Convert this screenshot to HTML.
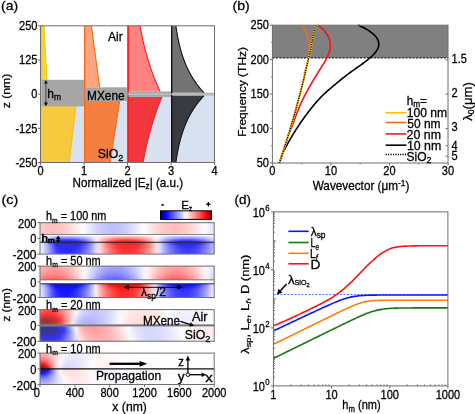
<!DOCTYPE html>
<html><head><meta charset="utf-8"><style>html,body{margin:0;padding:0;background:#fff;width:475px;height:414px;overflow:hidden}svg{display:block;will-change:transform}text{stroke:#000;stroke-width:0.28px}</style></head>
<body><svg width="475" height="414" viewBox="0 0 475 414" font-family='"Liberation Sans", sans-serif'><defs><linearGradient id="g0"><stop offset="0.000" stop-color="#ffc0c0"/><stop offset="0.023" stop-color="#ffb8b8"/><stop offset="0.046" stop-color="#ffb4b4"/><stop offset="0.069" stop-color="#ffb2b2"/><stop offset="0.092" stop-color="#ffb4b4"/><stop offset="0.115" stop-color="#ffb8b8"/><stop offset="0.138" stop-color="#ffc0c0"/><stop offset="0.161" stop-color="#ffcbcb"/><stop offset="0.184" stop-color="#ffd7d7"/><stop offset="0.207" stop-color="#ffe5e5"/><stop offset="0.230" stop-color="#fff5f5"/><stop offset="0.253" stop-color="#f9f9ff"/><stop offset="0.276" stop-color="#e9e9ff"/><stop offset="0.299" stop-color="#dbdbff"/><stop offset="0.321" stop-color="#cdcdff"/><stop offset="0.344" stop-color="#c3c3ff"/><stop offset="0.367" stop-color="#babaff"/><stop offset="0.390" stop-color="#b5b5ff"/><stop offset="0.413" stop-color="#b2b2ff"/><stop offset="0.436" stop-color="#b3b3ff"/><stop offset="0.459" stop-color="#b7b7ff"/><stop offset="0.482" stop-color="#bebeff"/><stop offset="0.505" stop-color="#c8c8ff"/><stop offset="0.528" stop-color="#d4d4ff"/><stop offset="0.551" stop-color="#e2e2ff"/><stop offset="0.574" stop-color="#f1f1ff"/><stop offset="0.597" stop-color="#fffdfd"/><stop offset="0.620" stop-color="#ffeded"/><stop offset="0.643" stop-color="#ffdede"/><stop offset="0.666" stop-color="#ffd1d1"/><stop offset="0.689" stop-color="#ffc5c5"/><stop offset="0.712" stop-color="#ffbcbc"/><stop offset="0.735" stop-color="#ffb6b6"/><stop offset="0.758" stop-color="#ffb2b2"/><stop offset="0.781" stop-color="#ffb2b2"/><stop offset="0.804" stop-color="#ffb6b6"/><stop offset="0.827" stop-color="#ffbcbc"/><stop offset="0.850" stop-color="#ffc5c5"/><stop offset="0.873" stop-color="#ffd1d1"/><stop offset="0.896" stop-color="#ffdede"/><stop offset="0.918" stop-color="#ffeded"/><stop offset="0.941" stop-color="#fffdfd"/><stop offset="0.964" stop-color="#f1f1ff"/><stop offset="0.987" stop-color="#e2e2ff"/></linearGradient><linearGradient id="g1"><stop offset="0.000" stop-color="#ffc0c0"/><stop offset="0.023" stop-color="#ffb8b8"/><stop offset="0.046" stop-color="#ffb4b4"/><stop offset="0.069" stop-color="#ffb2b2"/><stop offset="0.092" stop-color="#ffb4b4"/><stop offset="0.115" stop-color="#ffb8b8"/><stop offset="0.138" stop-color="#ffc0c0"/><stop offset="0.161" stop-color="#ffcbcb"/><stop offset="0.184" stop-color="#ffd7d7"/><stop offset="0.207" stop-color="#ffe5e5"/><stop offset="0.230" stop-color="#fff5f5"/><stop offset="0.253" stop-color="#f9f9ff"/><stop offset="0.276" stop-color="#e9e9ff"/><stop offset="0.299" stop-color="#dbdbff"/><stop offset="0.321" stop-color="#cdcdff"/><stop offset="0.344" stop-color="#c3c3ff"/><stop offset="0.367" stop-color="#babaff"/><stop offset="0.390" stop-color="#b5b5ff"/><stop offset="0.413" stop-color="#b2b2ff"/><stop offset="0.436" stop-color="#b3b3ff"/><stop offset="0.459" stop-color="#b7b7ff"/><stop offset="0.482" stop-color="#bebeff"/><stop offset="0.505" stop-color="#c8c8ff"/><stop offset="0.528" stop-color="#d4d4ff"/><stop offset="0.551" stop-color="#e2e2ff"/><stop offset="0.574" stop-color="#f1f1ff"/><stop offset="0.597" stop-color="#fffdfd"/><stop offset="0.620" stop-color="#ffeded"/><stop offset="0.643" stop-color="#ffdede"/><stop offset="0.666" stop-color="#ffd1d1"/><stop offset="0.689" stop-color="#ffc5c5"/><stop offset="0.712" stop-color="#ffbcbc"/><stop offset="0.735" stop-color="#ffb6b6"/><stop offset="0.758" stop-color="#ffb2b2"/><stop offset="0.781" stop-color="#ffb2b2"/><stop offset="0.804" stop-color="#ffb6b6"/><stop offset="0.827" stop-color="#ffbcbc"/><stop offset="0.850" stop-color="#ffc5c5"/><stop offset="0.873" stop-color="#ffd1d1"/><stop offset="0.896" stop-color="#ffdede"/><stop offset="0.918" stop-color="#ffeded"/><stop offset="0.941" stop-color="#fffdfd"/><stop offset="0.964" stop-color="#f1f1ff"/><stop offset="0.987" stop-color="#e2e2ff"/></linearGradient><linearGradient id="g2"><stop offset="0.000" stop-color="#ffc0c0"/><stop offset="0.023" stop-color="#ffb8b8"/><stop offset="0.046" stop-color="#ffb4b4"/><stop offset="0.069" stop-color="#ffb2b2"/><stop offset="0.092" stop-color="#ffb4b4"/><stop offset="0.115" stop-color="#ffb8b8"/><stop offset="0.138" stop-color="#ffc0c0"/><stop offset="0.161" stop-color="#ffcbcb"/><stop offset="0.184" stop-color="#ffd7d7"/><stop offset="0.207" stop-color="#ffe5e5"/><stop offset="0.230" stop-color="#fff5f5"/><stop offset="0.253" stop-color="#f9f9ff"/><stop offset="0.276" stop-color="#e9e9ff"/><stop offset="0.299" stop-color="#dbdbff"/><stop offset="0.321" stop-color="#cdcdff"/><stop offset="0.344" stop-color="#c3c3ff"/><stop offset="0.367" stop-color="#babaff"/><stop offset="0.390" stop-color="#b5b5ff"/><stop offset="0.413" stop-color="#b2b2ff"/><stop offset="0.436" stop-color="#b3b3ff"/><stop offset="0.459" stop-color="#b7b7ff"/><stop offset="0.482" stop-color="#bebeff"/><stop offset="0.505" stop-color="#c8c8ff"/><stop offset="0.528" stop-color="#d4d4ff"/><stop offset="0.551" stop-color="#e2e2ff"/><stop offset="0.574" stop-color="#f1f1ff"/><stop offset="0.597" stop-color="#fffdfd"/><stop offset="0.620" stop-color="#ffeded"/><stop offset="0.643" stop-color="#ffdede"/><stop offset="0.666" stop-color="#ffd1d1"/><stop offset="0.689" stop-color="#ffc5c5"/><stop offset="0.712" stop-color="#ffbcbc"/><stop offset="0.735" stop-color="#ffb6b6"/><stop offset="0.758" stop-color="#ffb2b2"/><stop offset="0.781" stop-color="#ffb2b2"/><stop offset="0.804" stop-color="#ffb6b6"/><stop offset="0.827" stop-color="#ffbcbc"/><stop offset="0.850" stop-color="#ffc5c5"/><stop offset="0.873" stop-color="#ffd1d1"/><stop offset="0.896" stop-color="#ffdede"/><stop offset="0.918" stop-color="#ffeded"/><stop offset="0.941" stop-color="#fffdfd"/><stop offset="0.964" stop-color="#f1f1ff"/><stop offset="0.987" stop-color="#e2e2ff"/></linearGradient><linearGradient id="g3"><stop offset="0.000" stop-color="#ffc0c0"/><stop offset="0.023" stop-color="#ffb8b8"/><stop offset="0.046" stop-color="#ffb4b4"/><stop offset="0.069" stop-color="#ffb2b2"/><stop offset="0.092" stop-color="#ffb4b4"/><stop offset="0.115" stop-color="#ffb8b8"/><stop offset="0.138" stop-color="#ffc0c0"/><stop offset="0.161" stop-color="#ffcbcb"/><stop offset="0.184" stop-color="#ffd7d7"/><stop offset="0.207" stop-color="#ffe5e5"/><stop offset="0.230" stop-color="#fff5f5"/><stop offset="0.253" stop-color="#f9f9ff"/><stop offset="0.276" stop-color="#e9e9ff"/><stop offset="0.299" stop-color="#dbdbff"/><stop offset="0.321" stop-color="#cdcdff"/><stop offset="0.344" stop-color="#c3c3ff"/><stop offset="0.367" stop-color="#babaff"/><stop offset="0.390" stop-color="#b5b5ff"/><stop offset="0.413" stop-color="#b2b2ff"/><stop offset="0.436" stop-color="#b3b3ff"/><stop offset="0.459" stop-color="#b7b7ff"/><stop offset="0.482" stop-color="#bebeff"/><stop offset="0.505" stop-color="#c8c8ff"/><stop offset="0.528" stop-color="#d4d4ff"/><stop offset="0.551" stop-color="#e2e2ff"/><stop offset="0.574" stop-color="#f1f1ff"/><stop offset="0.597" stop-color="#fffdfd"/><stop offset="0.620" stop-color="#ffeded"/><stop offset="0.643" stop-color="#ffdede"/><stop offset="0.666" stop-color="#ffd1d1"/><stop offset="0.689" stop-color="#ffc5c5"/><stop offset="0.712" stop-color="#ffbcbc"/><stop offset="0.735" stop-color="#ffb6b6"/><stop offset="0.758" stop-color="#ffb2b2"/><stop offset="0.781" stop-color="#ffb2b2"/><stop offset="0.804" stop-color="#ffb6b6"/><stop offset="0.827" stop-color="#ffbcbc"/><stop offset="0.850" stop-color="#ffc5c5"/><stop offset="0.873" stop-color="#ffd1d1"/><stop offset="0.896" stop-color="#ffdede"/><stop offset="0.918" stop-color="#ffeded"/><stop offset="0.941" stop-color="#fffdfd"/><stop offset="0.964" stop-color="#f1f1ff"/><stop offset="0.987" stop-color="#e2e2ff"/></linearGradient><linearGradient id="g4"><stop offset="0.000" stop-color="#ffc0c0"/><stop offset="0.023" stop-color="#ffb8b8"/><stop offset="0.046" stop-color="#ffb4b4"/><stop offset="0.069" stop-color="#ffb2b2"/><stop offset="0.092" stop-color="#ffb4b4"/><stop offset="0.115" stop-color="#ffb8b8"/><stop offset="0.138" stop-color="#ffc0c0"/><stop offset="0.161" stop-color="#ffcbcb"/><stop offset="0.184" stop-color="#ffd7d7"/><stop offset="0.207" stop-color="#ffe5e5"/><stop offset="0.230" stop-color="#fff5f5"/><stop offset="0.253" stop-color="#f9f9ff"/><stop offset="0.276" stop-color="#e9e9ff"/><stop offset="0.299" stop-color="#dbdbff"/><stop offset="0.321" stop-color="#cdcdff"/><stop offset="0.344" stop-color="#c3c3ff"/><stop offset="0.367" stop-color="#babaff"/><stop offset="0.390" stop-color="#b5b5ff"/><stop offset="0.413" stop-color="#b2b2ff"/><stop offset="0.436" stop-color="#b3b3ff"/><stop offset="0.459" stop-color="#b7b7ff"/><stop offset="0.482" stop-color="#bebeff"/><stop offset="0.505" stop-color="#c8c8ff"/><stop offset="0.528" stop-color="#d4d4ff"/><stop offset="0.551" stop-color="#e2e2ff"/><stop offset="0.574" stop-color="#f1f1ff"/><stop offset="0.597" stop-color="#fffdfd"/><stop offset="0.620" stop-color="#ffeded"/><stop offset="0.643" stop-color="#ffdede"/><stop offset="0.666" stop-color="#ffd1d1"/><stop offset="0.689" stop-color="#ffc5c5"/><stop offset="0.712" stop-color="#ffbcbc"/><stop offset="0.735" stop-color="#ffb6b6"/><stop offset="0.758" stop-color="#ffb2b2"/><stop offset="0.781" stop-color="#ffb2b2"/><stop offset="0.804" stop-color="#ffb6b6"/><stop offset="0.827" stop-color="#ffbcbc"/><stop offset="0.850" stop-color="#ffc5c5"/><stop offset="0.873" stop-color="#ffd1d1"/><stop offset="0.896" stop-color="#ffdede"/><stop offset="0.918" stop-color="#ffeded"/><stop offset="0.941" stop-color="#fffdfd"/><stop offset="0.964" stop-color="#f1f1ff"/><stop offset="0.987" stop-color="#e2e2ff"/></linearGradient><linearGradient id="g5"><stop offset="0.000" stop-color="#ffc0c0"/><stop offset="0.023" stop-color="#ffb8b8"/><stop offset="0.046" stop-color="#ffb4b4"/><stop offset="0.069" stop-color="#ffb2b2"/><stop offset="0.092" stop-color="#ffb4b4"/><stop offset="0.115" stop-color="#ffb8b8"/><stop offset="0.138" stop-color="#ffc0c0"/><stop offset="0.161" stop-color="#ffcbcb"/><stop offset="0.184" stop-color="#ffd7d7"/><stop offset="0.207" stop-color="#ffe5e5"/><stop offset="0.230" stop-color="#fff5f5"/><stop offset="0.253" stop-color="#f9f9ff"/><stop offset="0.276" stop-color="#e9e9ff"/><stop offset="0.299" stop-color="#dbdbff"/><stop offset="0.321" stop-color="#cdcdff"/><stop offset="0.344" stop-color="#c3c3ff"/><stop offset="0.367" stop-color="#babaff"/><stop offset="0.390" stop-color="#b5b5ff"/><stop offset="0.413" stop-color="#b2b2ff"/><stop offset="0.436" stop-color="#b3b3ff"/><stop offset="0.459" stop-color="#b7b7ff"/><stop offset="0.482" stop-color="#bebeff"/><stop offset="0.505" stop-color="#c8c8ff"/><stop offset="0.528" stop-color="#d4d4ff"/><stop offset="0.551" stop-color="#e2e2ff"/><stop offset="0.574" stop-color="#f1f1ff"/><stop offset="0.597" stop-color="#fffdfd"/><stop offset="0.620" stop-color="#ffeded"/><stop offset="0.643" stop-color="#ffdede"/><stop offset="0.666" stop-color="#ffd1d1"/><stop offset="0.689" stop-color="#ffc5c5"/><stop offset="0.712" stop-color="#ffbcbc"/><stop offset="0.735" stop-color="#ffb6b6"/><stop offset="0.758" stop-color="#ffb2b2"/><stop offset="0.781" stop-color="#ffb2b2"/><stop offset="0.804" stop-color="#ffb6b6"/><stop offset="0.827" stop-color="#ffbcbc"/><stop offset="0.850" stop-color="#ffc5c5"/><stop offset="0.873" stop-color="#ffd1d1"/><stop offset="0.896" stop-color="#ffdede"/><stop offset="0.918" stop-color="#ffeded"/><stop offset="0.941" stop-color="#fffdfd"/><stop offset="0.964" stop-color="#f1f1ff"/><stop offset="0.987" stop-color="#e2e2ff"/></linearGradient><linearGradient id="g6"><stop offset="0.000" stop-color="#ffc0c0"/><stop offset="0.023" stop-color="#ffb8b8"/><stop offset="0.046" stop-color="#ffb4b4"/><stop offset="0.069" stop-color="#ffb2b2"/><stop offset="0.092" stop-color="#ffb4b4"/><stop offset="0.115" stop-color="#ffb8b8"/><stop offset="0.138" stop-color="#ffc0c0"/><stop offset="0.161" stop-color="#ffcbcb"/><stop offset="0.184" stop-color="#ffd7d7"/><stop offset="0.207" stop-color="#ffe5e5"/><stop offset="0.230" stop-color="#fff5f5"/><stop offset="0.253" stop-color="#f9f9ff"/><stop offset="0.276" stop-color="#e9e9ff"/><stop offset="0.299" stop-color="#dbdbff"/><stop offset="0.321" stop-color="#cdcdff"/><stop offset="0.344" stop-color="#c3c3ff"/><stop offset="0.367" stop-color="#babaff"/><stop offset="0.390" stop-color="#b5b5ff"/><stop offset="0.413" stop-color="#b2b2ff"/><stop offset="0.436" stop-color="#b3b3ff"/><stop offset="0.459" stop-color="#b7b7ff"/><stop offset="0.482" stop-color="#bebeff"/><stop offset="0.505" stop-color="#c8c8ff"/><stop offset="0.528" stop-color="#d4d4ff"/><stop offset="0.551" stop-color="#e2e2ff"/><stop offset="0.574" stop-color="#f1f1ff"/><stop offset="0.597" stop-color="#fffdfd"/><stop offset="0.620" stop-color="#ffeded"/><stop offset="0.643" stop-color="#ffdede"/><stop offset="0.666" stop-color="#ffd1d1"/><stop offset="0.689" stop-color="#ffc5c5"/><stop offset="0.712" stop-color="#ffbcbc"/><stop offset="0.735" stop-color="#ffb6b6"/><stop offset="0.758" stop-color="#ffb2b2"/><stop offset="0.781" stop-color="#ffb2b2"/><stop offset="0.804" stop-color="#ffb6b6"/><stop offset="0.827" stop-color="#ffbcbc"/><stop offset="0.850" stop-color="#ffc5c5"/><stop offset="0.873" stop-color="#ffd1d1"/><stop offset="0.896" stop-color="#ffdede"/><stop offset="0.918" stop-color="#ffeded"/><stop offset="0.941" stop-color="#fffdfd"/><stop offset="0.964" stop-color="#f1f1ff"/><stop offset="0.987" stop-color="#e2e2ff"/></linearGradient><linearGradient id="g7"><stop offset="0.000" stop-color="#ffc0c0"/><stop offset="0.023" stop-color="#ffb8b8"/><stop offset="0.046" stop-color="#ffb4b4"/><stop offset="0.069" stop-color="#ffb2b2"/><stop offset="0.092" stop-color="#ffb4b4"/><stop offset="0.115" stop-color="#ffb8b8"/><stop offset="0.138" stop-color="#ffc0c0"/><stop offset="0.161" stop-color="#ffcbcb"/><stop offset="0.184" stop-color="#ffd7d7"/><stop offset="0.207" stop-color="#ffe5e5"/><stop offset="0.230" stop-color="#fff5f5"/><stop offset="0.253" stop-color="#f9f9ff"/><stop offset="0.276" stop-color="#e9e9ff"/><stop offset="0.299" stop-color="#dbdbff"/><stop offset="0.321" stop-color="#cdcdff"/><stop offset="0.344" stop-color="#c3c3ff"/><stop offset="0.367" stop-color="#babaff"/><stop offset="0.390" stop-color="#b5b5ff"/><stop offset="0.413" stop-color="#b2b2ff"/><stop offset="0.436" stop-color="#b3b3ff"/><stop offset="0.459" stop-color="#b7b7ff"/><stop offset="0.482" stop-color="#bebeff"/><stop offset="0.505" stop-color="#c8c8ff"/><stop offset="0.528" stop-color="#d4d4ff"/><stop offset="0.551" stop-color="#e2e2ff"/><stop offset="0.574" stop-color="#f1f1ff"/><stop offset="0.597" stop-color="#fffdfd"/><stop offset="0.620" stop-color="#ffeded"/><stop offset="0.643" stop-color="#ffdede"/><stop offset="0.666" stop-color="#ffd1d1"/><stop offset="0.689" stop-color="#ffc5c5"/><stop offset="0.712" stop-color="#ffbcbc"/><stop offset="0.735" stop-color="#ffb6b6"/><stop offset="0.758" stop-color="#ffb2b2"/><stop offset="0.781" stop-color="#ffb2b2"/><stop offset="0.804" stop-color="#ffb6b6"/><stop offset="0.827" stop-color="#ffbcbc"/><stop offset="0.850" stop-color="#ffc5c5"/><stop offset="0.873" stop-color="#ffd1d1"/><stop offset="0.896" stop-color="#ffdede"/><stop offset="0.918" stop-color="#ffeded"/><stop offset="0.941" stop-color="#fffdfd"/><stop offset="0.964" stop-color="#f1f1ff"/><stop offset="0.987" stop-color="#e2e2ff"/></linearGradient><linearGradient id="g8"><stop offset="0.000" stop-color="#ffc0c0"/><stop offset="0.023" stop-color="#ffb8b8"/><stop offset="0.046" stop-color="#ffb4b4"/><stop offset="0.069" stop-color="#ffb2b2"/><stop offset="0.092" stop-color="#ffb4b4"/><stop offset="0.115" stop-color="#ffb8b8"/><stop offset="0.138" stop-color="#ffc0c0"/><stop offset="0.161" stop-color="#ffcbcb"/><stop offset="0.184" stop-color="#ffd7d7"/><stop offset="0.207" stop-color="#ffe5e5"/><stop offset="0.230" stop-color="#fff5f5"/><stop offset="0.253" stop-color="#f9f9ff"/><stop offset="0.276" stop-color="#e9e9ff"/><stop offset="0.299" stop-color="#dbdbff"/><stop offset="0.321" stop-color="#cdcdff"/><stop offset="0.344" stop-color="#c3c3ff"/><stop offset="0.367" stop-color="#babaff"/><stop offset="0.390" stop-color="#b5b5ff"/><stop offset="0.413" stop-color="#b2b2ff"/><stop offset="0.436" stop-color="#b3b3ff"/><stop offset="0.459" stop-color="#b7b7ff"/><stop offset="0.482" stop-color="#bebeff"/><stop offset="0.505" stop-color="#c8c8ff"/><stop offset="0.528" stop-color="#d4d4ff"/><stop offset="0.551" stop-color="#e2e2ff"/><stop offset="0.574" stop-color="#f1f1ff"/><stop offset="0.597" stop-color="#fffdfd"/><stop offset="0.620" stop-color="#ffeded"/><stop offset="0.643" stop-color="#ffdede"/><stop offset="0.666" stop-color="#ffd1d1"/><stop offset="0.689" stop-color="#ffc5c5"/><stop offset="0.712" stop-color="#ffbcbc"/><stop offset="0.735" stop-color="#ffb6b6"/><stop offset="0.758" stop-color="#ffb2b2"/><stop offset="0.781" stop-color="#ffb2b2"/><stop offset="0.804" stop-color="#ffb6b6"/><stop offset="0.827" stop-color="#ffbcbc"/><stop offset="0.850" stop-color="#ffc5c5"/><stop offset="0.873" stop-color="#ffd1d1"/><stop offset="0.896" stop-color="#ffdede"/><stop offset="0.918" stop-color="#ffeded"/><stop offset="0.941" stop-color="#fffdfd"/><stop offset="0.964" stop-color="#f1f1ff"/><stop offset="0.987" stop-color="#e2e2ff"/></linearGradient><linearGradient id="g9"><stop offset="0.000" stop-color="#ffc0c0"/><stop offset="0.023" stop-color="#ffb8b8"/><stop offset="0.046" stop-color="#ffb4b4"/><stop offset="0.069" stop-color="#ffb2b2"/><stop offset="0.092" stop-color="#ffb4b4"/><stop offset="0.115" stop-color="#ffb8b8"/><stop offset="0.138" stop-color="#ffc0c0"/><stop offset="0.161" stop-color="#ffcbcb"/><stop offset="0.184" stop-color="#ffd7d7"/><stop offset="0.207" stop-color="#ffe5e5"/><stop offset="0.230" stop-color="#fff5f5"/><stop offset="0.253" stop-color="#f9f9ff"/><stop offset="0.276" stop-color="#e9e9ff"/><stop offset="0.299" stop-color="#dbdbff"/><stop offset="0.321" stop-color="#cdcdff"/><stop offset="0.344" stop-color="#c3c3ff"/><stop offset="0.367" stop-color="#babaff"/><stop offset="0.390" stop-color="#b5b5ff"/><stop offset="0.413" stop-color="#b2b2ff"/><stop offset="0.436" stop-color="#b3b3ff"/><stop offset="0.459" stop-color="#b7b7ff"/><stop offset="0.482" stop-color="#bebeff"/><stop offset="0.505" stop-color="#c8c8ff"/><stop offset="0.528" stop-color="#d4d4ff"/><stop offset="0.551" stop-color="#e2e2ff"/><stop offset="0.574" stop-color="#f1f1ff"/><stop offset="0.597" stop-color="#fffdfd"/><stop offset="0.620" stop-color="#ffeded"/><stop offset="0.643" stop-color="#ffdede"/><stop offset="0.666" stop-color="#ffd1d1"/><stop offset="0.689" stop-color="#ffc5c5"/><stop offset="0.712" stop-color="#ffbcbc"/><stop offset="0.735" stop-color="#ffb6b6"/><stop offset="0.758" stop-color="#ffb2b2"/><stop offset="0.781" stop-color="#ffb2b2"/><stop offset="0.804" stop-color="#ffb6b6"/><stop offset="0.827" stop-color="#ffbcbc"/><stop offset="0.850" stop-color="#ffc5c5"/><stop offset="0.873" stop-color="#ffd1d1"/><stop offset="0.896" stop-color="#ffdede"/><stop offset="0.918" stop-color="#ffeded"/><stop offset="0.941" stop-color="#fffdfd"/><stop offset="0.964" stop-color="#f1f1ff"/><stop offset="0.987" stop-color="#e2e2ff"/></linearGradient><linearGradient id="g10"><stop offset="0.000" stop-color="#ffc0c0"/><stop offset="0.023" stop-color="#ffb8b8"/><stop offset="0.046" stop-color="#ffb4b4"/><stop offset="0.069" stop-color="#ffb2b2"/><stop offset="0.092" stop-color="#ffb4b4"/><stop offset="0.115" stop-color="#ffb8b8"/><stop offset="0.138" stop-color="#ffc0c0"/><stop offset="0.161" stop-color="#ffcbcb"/><stop offset="0.184" stop-color="#ffd7d7"/><stop offset="0.207" stop-color="#ffe5e5"/><stop offset="0.230" stop-color="#fff5f5"/><stop offset="0.253" stop-color="#f9f9ff"/><stop offset="0.276" stop-color="#e9e9ff"/><stop offset="0.299" stop-color="#dbdbff"/><stop offset="0.321" stop-color="#cdcdff"/><stop offset="0.344" stop-color="#c3c3ff"/><stop offset="0.367" stop-color="#babaff"/><stop offset="0.390" stop-color="#b5b5ff"/><stop offset="0.413" stop-color="#b2b2ff"/><stop offset="0.436" stop-color="#b3b3ff"/><stop offset="0.459" stop-color="#b7b7ff"/><stop offset="0.482" stop-color="#bebeff"/><stop offset="0.505" stop-color="#c8c8ff"/><stop offset="0.528" stop-color="#d4d4ff"/><stop offset="0.551" stop-color="#e2e2ff"/><stop offset="0.574" stop-color="#f1f1ff"/><stop offset="0.597" stop-color="#fffdfd"/><stop offset="0.620" stop-color="#ffeded"/><stop offset="0.643" stop-color="#ffdede"/><stop offset="0.666" stop-color="#ffd1d1"/><stop offset="0.689" stop-color="#ffc5c5"/><stop offset="0.712" stop-color="#ffbcbc"/><stop offset="0.735" stop-color="#ffb6b6"/><stop offset="0.758" stop-color="#ffb2b2"/><stop offset="0.781" stop-color="#ffb2b2"/><stop offset="0.804" stop-color="#ffb6b6"/><stop offset="0.827" stop-color="#ffbcbc"/><stop offset="0.850" stop-color="#ffc5c5"/><stop offset="0.873" stop-color="#ffd1d1"/><stop offset="0.896" stop-color="#ffdede"/><stop offset="0.918" stop-color="#ffeded"/><stop offset="0.941" stop-color="#fffdfd"/><stop offset="0.964" stop-color="#f1f1ff"/><stop offset="0.987" stop-color="#e2e2ff"/></linearGradient><linearGradient id="g11"><stop offset="0.000" stop-color="#ffc0c0"/><stop offset="0.023" stop-color="#ffb8b8"/><stop offset="0.046" stop-color="#ffb4b4"/><stop offset="0.069" stop-color="#ffb2b2"/><stop offset="0.092" stop-color="#ffb4b4"/><stop offset="0.115" stop-color="#ffb8b8"/><stop offset="0.138" stop-color="#ffc0c0"/><stop offset="0.161" stop-color="#ffcbcb"/><stop offset="0.184" stop-color="#ffd7d7"/><stop offset="0.207" stop-color="#ffe5e5"/><stop offset="0.230" stop-color="#fff5f5"/><stop offset="0.253" stop-color="#f9f9ff"/><stop offset="0.276" stop-color="#e9e9ff"/><stop offset="0.299" stop-color="#dbdbff"/><stop offset="0.321" stop-color="#cdcdff"/><stop offset="0.344" stop-color="#c3c3ff"/><stop offset="0.367" stop-color="#babaff"/><stop offset="0.390" stop-color="#b5b5ff"/><stop offset="0.413" stop-color="#b2b2ff"/><stop offset="0.436" stop-color="#b3b3ff"/><stop offset="0.459" stop-color="#b7b7ff"/><stop offset="0.482" stop-color="#bebeff"/><stop offset="0.505" stop-color="#c8c8ff"/><stop offset="0.528" stop-color="#d4d4ff"/><stop offset="0.551" stop-color="#e2e2ff"/><stop offset="0.574" stop-color="#f1f1ff"/><stop offset="0.597" stop-color="#fffdfd"/><stop offset="0.620" stop-color="#ffeded"/><stop offset="0.643" stop-color="#ffdede"/><stop offset="0.666" stop-color="#ffd1d1"/><stop offset="0.689" stop-color="#ffc5c5"/><stop offset="0.712" stop-color="#ffbcbc"/><stop offset="0.735" stop-color="#ffb6b6"/><stop offset="0.758" stop-color="#ffb2b2"/><stop offset="0.781" stop-color="#ffb2b2"/><stop offset="0.804" stop-color="#ffb6b6"/><stop offset="0.827" stop-color="#ffbcbc"/><stop offset="0.850" stop-color="#ffc5c5"/><stop offset="0.873" stop-color="#ffd1d1"/><stop offset="0.896" stop-color="#ffdede"/><stop offset="0.918" stop-color="#ffeded"/><stop offset="0.941" stop-color="#fffdfd"/><stop offset="0.964" stop-color="#f1f1ff"/><stop offset="0.987" stop-color="#e2e2ff"/></linearGradient><linearGradient id="g12"><stop offset="0.000" stop-color="#ffffff"/><stop offset="0.023" stop-color="#ffffff"/><stop offset="0.046" stop-color="#ffffff"/><stop offset="0.069" stop-color="#ffffff"/><stop offset="0.092" stop-color="#ffffff"/><stop offset="0.115" stop-color="#ffffff"/><stop offset="0.138" stop-color="#ffffff"/><stop offset="0.161" stop-color="#ffffff"/><stop offset="0.184" stop-color="#ffffff"/><stop offset="0.207" stop-color="#ffffff"/><stop offset="0.230" stop-color="#ffffff"/><stop offset="0.253" stop-color="#ffffff"/><stop offset="0.276" stop-color="#ffffff"/><stop offset="0.299" stop-color="#ffffff"/><stop offset="0.321" stop-color="#ffffff"/><stop offset="0.344" stop-color="#ffffff"/><stop offset="0.367" stop-color="#ffffff"/><stop offset="0.390" stop-color="#ffffff"/><stop offset="0.413" stop-color="#ffffff"/><stop offset="0.436" stop-color="#ffffff"/><stop offset="0.459" stop-color="#ffffff"/><stop offset="0.482" stop-color="#ffffff"/><stop offset="0.505" stop-color="#ffffff"/><stop offset="0.528" stop-color="#ffffff"/><stop offset="0.551" stop-color="#ffffff"/><stop offset="0.574" stop-color="#ffffff"/><stop offset="0.597" stop-color="#ffffff"/><stop offset="0.620" stop-color="#ffffff"/><stop offset="0.643" stop-color="#ffffff"/><stop offset="0.666" stop-color="#ffffff"/><stop offset="0.689" stop-color="#ffffff"/><stop offset="0.712" stop-color="#ffffff"/><stop offset="0.735" stop-color="#ffffff"/><stop offset="0.758" stop-color="#ffffff"/><stop offset="0.781" stop-color="#ffffff"/><stop offset="0.804" stop-color="#ffffff"/><stop offset="0.827" stop-color="#ffffff"/><stop offset="0.850" stop-color="#ffffff"/><stop offset="0.873" stop-color="#ffffff"/><stop offset="0.896" stop-color="#ffffff"/><stop offset="0.918" stop-color="#ffffff"/><stop offset="0.941" stop-color="#ffffff"/><stop offset="0.964" stop-color="#ffffff"/><stop offset="0.987" stop-color="#ffffff"/></linearGradient><linearGradient id="g13"><stop offset="0.000" stop-color="#fbfbff"/><stop offset="0.023" stop-color="#f4f4ff"/><stop offset="0.046" stop-color="#e9e9ff"/><stop offset="0.069" stop-color="#dcdcff"/><stop offset="0.092" stop-color="#cfcfff"/><stop offset="0.115" stop-color="#cbcbff"/><stop offset="0.138" stop-color="#c8c8ff"/><stop offset="0.161" stop-color="#c8c8ff"/><stop offset="0.184" stop-color="#cacaff"/><stop offset="0.207" stop-color="#cdcdff"/><stop offset="0.230" stop-color="#d2d2ff"/><stop offset="0.253" stop-color="#d9d9ff"/><stop offset="0.276" stop-color="#e2e2ff"/><stop offset="0.299" stop-color="#ececff"/><stop offset="0.321" stop-color="#f9f9ff"/><stop offset="0.344" stop-color="#fff3f3"/><stop offset="0.367" stop-color="#ffe7e7"/><stop offset="0.390" stop-color="#ffdede"/><stop offset="0.413" stop-color="#ffd7d7"/><stop offset="0.436" stop-color="#ffd1d1"/><stop offset="0.459" stop-color="#ffcece"/><stop offset="0.482" stop-color="#ffcbcb"/><stop offset="0.505" stop-color="#ffcbcb"/><stop offset="0.528" stop-color="#ffcdcd"/><stop offset="0.551" stop-color="#ffd0d0"/><stop offset="0.574" stop-color="#ffd5d5"/><stop offset="0.597" stop-color="#ffdcdc"/><stop offset="0.620" stop-color="#ffe4e4"/><stop offset="0.643" stop-color="#ffeeee"/><stop offset="0.666" stop-color="#fffafa"/><stop offset="0.689" stop-color="#f3f3ff"/><stop offset="0.712" stop-color="#e9e9ff"/><stop offset="0.735" stop-color="#e0e0ff"/><stop offset="0.758" stop-color="#d9d9ff"/><stop offset="0.781" stop-color="#d4d4ff"/><stop offset="0.804" stop-color="#d0d0ff"/><stop offset="0.827" stop-color="#ceceff"/><stop offset="0.850" stop-color="#ceceff"/><stop offset="0.873" stop-color="#d0d0ff"/><stop offset="0.896" stop-color="#d3d3ff"/><stop offset="0.918" stop-color="#d7d7ff"/><stop offset="0.941" stop-color="#dedeff"/><stop offset="0.964" stop-color="#e5e5ff"/><stop offset="0.987" stop-color="#eeeeff"/></linearGradient><linearGradient id="g14"><stop offset="0.000" stop-color="#f8f8ff"/><stop offset="0.023" stop-color="#eaeaff"/><stop offset="0.046" stop-color="#d5d5ff"/><stop offset="0.069" stop-color="#bdbdff"/><stop offset="0.092" stop-color="#a3a3ff"/><stop offset="0.115" stop-color="#9b9bff"/><stop offset="0.138" stop-color="#9797ff"/><stop offset="0.161" stop-color="#9696ff"/><stop offset="0.184" stop-color="#9999ff"/><stop offset="0.207" stop-color="#a0a0ff"/><stop offset="0.230" stop-color="#aaaaff"/><stop offset="0.253" stop-color="#b7b7ff"/><stop offset="0.276" stop-color="#c8c8ff"/><stop offset="0.299" stop-color="#dcdcff"/><stop offset="0.321" stop-color="#f5f5ff"/><stop offset="0.344" stop-color="#ffe8e8"/><stop offset="0.367" stop-color="#ffd2d2"/><stop offset="0.390" stop-color="#ffc1c1"/><stop offset="0.413" stop-color="#ffb3b3"/><stop offset="0.436" stop-color="#ffa8a8"/><stop offset="0.459" stop-color="#ffa1a1"/><stop offset="0.482" stop-color="#ff9d9d"/><stop offset="0.505" stop-color="#ff9c9c"/><stop offset="0.528" stop-color="#ff9f9f"/><stop offset="0.551" stop-color="#ffa5a5"/><stop offset="0.574" stop-color="#ffafaf"/><stop offset="0.597" stop-color="#ffbcbc"/><stop offset="0.620" stop-color="#ffcbcb"/><stop offset="0.643" stop-color="#ffdede"/><stop offset="0.666" stop-color="#fff5f5"/><stop offset="0.689" stop-color="#e9e9ff"/><stop offset="0.712" stop-color="#d5d5ff"/><stop offset="0.735" stop-color="#c4c4ff"/><stop offset="0.758" stop-color="#b7b7ff"/><stop offset="0.781" stop-color="#adadff"/><stop offset="0.804" stop-color="#a6a6ff"/><stop offset="0.827" stop-color="#a2a2ff"/><stop offset="0.850" stop-color="#a2a2ff"/><stop offset="0.873" stop-color="#a5a5ff"/><stop offset="0.896" stop-color="#ababff"/><stop offset="0.918" stop-color="#b4b4ff"/><stop offset="0.941" stop-color="#bfbfff"/><stop offset="0.964" stop-color="#ceceff"/><stop offset="0.987" stop-color="#e0e0ff"/></linearGradient><linearGradient id="g15"><stop offset="0.000" stop-color="#f6f6ff"/><stop offset="0.023" stop-color="#e1e1ff"/><stop offset="0.046" stop-color="#c3c3ff"/><stop offset="0.069" stop-color="#9f9fff"/><stop offset="0.092" stop-color="#7979ff"/><stop offset="0.115" stop-color="#6d6dff"/><stop offset="0.138" stop-color="#6767ff"/><stop offset="0.161" stop-color="#6767ff"/><stop offset="0.184" stop-color="#6b6bff"/><stop offset="0.207" stop-color="#7575ff"/><stop offset="0.230" stop-color="#8484ff"/><stop offset="0.253" stop-color="#9797ff"/><stop offset="0.276" stop-color="#afafff"/><stop offset="0.299" stop-color="#ccccff"/><stop offset="0.321" stop-color="#f1f1ff"/><stop offset="0.344" stop-color="#ffdddd"/><stop offset="0.367" stop-color="#ffbebe"/><stop offset="0.390" stop-color="#ffa5a5"/><stop offset="0.413" stop-color="#ff9090"/><stop offset="0.436" stop-color="#ff8181"/><stop offset="0.459" stop-color="#ff7676"/><stop offset="0.482" stop-color="#ff7070"/><stop offset="0.505" stop-color="#ff6f6f"/><stop offset="0.528" stop-color="#ff7474"/><stop offset="0.551" stop-color="#ff7d7d"/><stop offset="0.574" stop-color="#ff8b8b"/><stop offset="0.597" stop-color="#ff9d9d"/><stop offset="0.620" stop-color="#ffb4b4"/><stop offset="0.643" stop-color="#ffcfcf"/><stop offset="0.666" stop-color="#fff1f1"/><stop offset="0.689" stop-color="#dfdfff"/><stop offset="0.712" stop-color="#c2c2ff"/><stop offset="0.735" stop-color="#aaaaff"/><stop offset="0.758" stop-color="#9797ff"/><stop offset="0.781" stop-color="#8888ff"/><stop offset="0.804" stop-color="#7e7eff"/><stop offset="0.827" stop-color="#7878ff"/><stop offset="0.850" stop-color="#7878ff"/><stop offset="0.873" stop-color="#7c7cff"/><stop offset="0.896" stop-color="#8585ff"/><stop offset="0.918" stop-color="#9292ff"/><stop offset="0.941" stop-color="#a3a3ff"/><stop offset="0.964" stop-color="#b8b8ff"/><stop offset="0.987" stop-color="#d2d2ff"/></linearGradient><linearGradient id="g16"><stop offset="0.000" stop-color="#f3f3ff"/><stop offset="0.023" stop-color="#d7d7ff"/><stop offset="0.046" stop-color="#b1b1ff"/><stop offset="0.069" stop-color="#8383ff"/><stop offset="0.092" stop-color="#5151ff"/><stop offset="0.115" stop-color="#4242ff"/><stop offset="0.138" stop-color="#3a3aff"/><stop offset="0.161" stop-color="#3939ff"/><stop offset="0.184" stop-color="#3f3fff"/><stop offset="0.207" stop-color="#4b4bff"/><stop offset="0.230" stop-color="#5f5fff"/><stop offset="0.253" stop-color="#7878ff"/><stop offset="0.276" stop-color="#9797ff"/><stop offset="0.299" stop-color="#bdbdff"/><stop offset="0.321" stop-color="#ececff"/><stop offset="0.344" stop-color="#ffd3d3"/><stop offset="0.367" stop-color="#ffaaaa"/><stop offset="0.390" stop-color="#ff8a8a"/><stop offset="0.413" stop-color="#ff6f6f"/><stop offset="0.436" stop-color="#ff5b5b"/><stop offset="0.459" stop-color="#ff4d4d"/><stop offset="0.482" stop-color="#ff4545"/><stop offset="0.505" stop-color="#ff4444"/><stop offset="0.528" stop-color="#ff4a4a"/><stop offset="0.551" stop-color="#ff5656"/><stop offset="0.574" stop-color="#ff6868"/><stop offset="0.597" stop-color="#ff8080"/><stop offset="0.620" stop-color="#ff9d9d"/><stop offset="0.643" stop-color="#ffc1c1"/><stop offset="0.666" stop-color="#ffeded"/><stop offset="0.689" stop-color="#d6d6ff"/><stop offset="0.712" stop-color="#afafff"/><stop offset="0.735" stop-color="#9090ff"/><stop offset="0.758" stop-color="#7777ff"/><stop offset="0.781" stop-color="#6464ff"/><stop offset="0.804" stop-color="#5757ff"/><stop offset="0.827" stop-color="#5050ff"/><stop offset="0.850" stop-color="#4f4fff"/><stop offset="0.873" stop-color="#5454ff"/><stop offset="0.896" stop-color="#6060ff"/><stop offset="0.918" stop-color="#7171ff"/><stop offset="0.941" stop-color="#8787ff"/><stop offset="0.964" stop-color="#a3a3ff"/><stop offset="0.987" stop-color="#c4c4ff"/></linearGradient><linearGradient id="g17"><stop offset="0.000" stop-color="#f0f0ff"/><stop offset="0.023" stop-color="#cfcfff"/><stop offset="0.046" stop-color="#9f9fff"/><stop offset="0.069" stop-color="#6767ff"/><stop offset="0.092" stop-color="#2929ff"/><stop offset="0.115" stop-color="#1717ff"/><stop offset="0.138" stop-color="#0d0dff"/><stop offset="0.161" stop-color="#0c0cff"/><stop offset="0.184" stop-color="#1313ff"/><stop offset="0.207" stop-color="#2323ff"/><stop offset="0.230" stop-color="#3b3bff"/><stop offset="0.253" stop-color="#5a5aff"/><stop offset="0.276" stop-color="#8080ff"/><stop offset="0.299" stop-color="#aeaeff"/><stop offset="0.321" stop-color="#e8e8ff"/><stop offset="0.344" stop-color="#ffc9c9"/><stop offset="0.367" stop-color="#ff9898"/><stop offset="0.390" stop-color="#ff6f6f"/><stop offset="0.413" stop-color="#ff4f4f"/><stop offset="0.436" stop-color="#ff3636"/><stop offset="0.459" stop-color="#ff2525"/><stop offset="0.482" stop-color="#ff1b1b"/><stop offset="0.505" stop-color="#ff1a1a"/><stop offset="0.528" stop-color="#ff2121"/><stop offset="0.551" stop-color="#ff3030"/><stop offset="0.574" stop-color="#ff4646"/><stop offset="0.597" stop-color="#ff6363"/><stop offset="0.620" stop-color="#ff8787"/><stop offset="0.643" stop-color="#ffb3b3"/><stop offset="0.666" stop-color="#ffeaea"/><stop offset="0.689" stop-color="#ccccff"/><stop offset="0.712" stop-color="#9e9eff"/><stop offset="0.735" stop-color="#7878ff"/><stop offset="0.758" stop-color="#5959ff"/><stop offset="0.781" stop-color="#4141ff"/><stop offset="0.804" stop-color="#3131ff"/><stop offset="0.827" stop-color="#2929ff"/><stop offset="0.850" stop-color="#2828ff"/><stop offset="0.873" stop-color="#2e2eff"/><stop offset="0.896" stop-color="#3c3cff"/><stop offset="0.918" stop-color="#5151ff"/><stop offset="0.941" stop-color="#6c6cff"/><stop offset="0.964" stop-color="#8e8eff"/><stop offset="0.987" stop-color="#b7b7ff"/></linearGradient><linearGradient id="g18"><stop offset="0.000" stop-color="#eeeeff"/><stop offset="0.023" stop-color="#c6c6ff"/><stop offset="0.046" stop-color="#8e8eff"/><stop offset="0.069" stop-color="#4b4bff"/><stop offset="0.092" stop-color="#0303ff"/><stop offset="0.115" stop-color="#0000f0"/><stop offset="0.138" stop-color="#0000e7"/><stop offset="0.161" stop-color="#0000e6"/><stop offset="0.184" stop-color="#0000ed"/><stop offset="0.207" stop-color="#0000fb"/><stop offset="0.230" stop-color="#1717ff"/><stop offset="0.253" stop-color="#3c3cff"/><stop offset="0.276" stop-color="#6969ff"/><stop offset="0.299" stop-color="#a0a0ff"/><stop offset="0.321" stop-color="#e4e4ff"/><stop offset="0.344" stop-color="#ffc0c0"/><stop offset="0.367" stop-color="#ff8585"/><stop offset="0.390" stop-color="#ff5555"/><stop offset="0.413" stop-color="#ff2f2f"/><stop offset="0.436" stop-color="#ff1111"/><stop offset="0.459" stop-color="#fd0000"/><stop offset="0.482" stop-color="#f40000"/><stop offset="0.505" stop-color="#f30000"/><stop offset="0.528" stop-color="#fa0000"/><stop offset="0.551" stop-color="#ff0b0b"/><stop offset="0.574" stop-color="#ff2525"/><stop offset="0.597" stop-color="#ff4747"/><stop offset="0.620" stop-color="#ff7272"/><stop offset="0.643" stop-color="#ffa5a5"/><stop offset="0.666" stop-color="#ffe6e6"/><stop offset="0.689" stop-color="#c3c3ff"/><stop offset="0.712" stop-color="#8c8cff"/><stop offset="0.735" stop-color="#5f5fff"/><stop offset="0.758" stop-color="#3b3bff"/><stop offset="0.781" stop-color="#1f1fff"/><stop offset="0.804" stop-color="#0c0cff"/><stop offset="0.827" stop-color="#0202ff"/><stop offset="0.850" stop-color="#0101ff"/><stop offset="0.873" stop-color="#0808ff"/><stop offset="0.896" stop-color="#1919ff"/><stop offset="0.918" stop-color="#3131ff"/><stop offset="0.941" stop-color="#5252ff"/><stop offset="0.964" stop-color="#7a7aff"/><stop offset="0.987" stop-color="#aaaaff"/></linearGradient><linearGradient id="g19"><stop offset="0.000" stop-color="#ebebff"/><stop offset="0.023" stop-color="#bebeff"/><stop offset="0.046" stop-color="#7d7dff"/><stop offset="0.069" stop-color="#3030ff"/><stop offset="0.092" stop-color="#0000e3"/><stop offset="0.115" stop-color="#0000d0"/><stop offset="0.138" stop-color="#0000c6"/><stop offset="0.161" stop-color="#0000c4"/><stop offset="0.184" stop-color="#0000cc"/><stop offset="0.207" stop-color="#0000dd"/><stop offset="0.230" stop-color="#0000f6"/><stop offset="0.253" stop-color="#1f1fff"/><stop offset="0.276" stop-color="#5353ff"/><stop offset="0.299" stop-color="#9191ff"/><stop offset="0.321" stop-color="#e0e0ff"/><stop offset="0.344" stop-color="#ffb6b6"/><stop offset="0.367" stop-color="#ff7373"/><stop offset="0.390" stop-color="#ff3c3c"/><stop offset="0.413" stop-color="#ff1010"/><stop offset="0.436" stop-color="#f10000"/><stop offset="0.459" stop-color="#de0000"/><stop offset="0.482" stop-color="#d50000"/><stop offset="0.505" stop-color="#d30000"/><stop offset="0.528" stop-color="#db0000"/><stop offset="0.551" stop-color="#ea0000"/><stop offset="0.574" stop-color="#ff0404"/><stop offset="0.597" stop-color="#ff2c2c"/><stop offset="0.620" stop-color="#ff5d5d"/><stop offset="0.643" stop-color="#ff9898"/><stop offset="0.666" stop-color="#ffe2e2"/><stop offset="0.689" stop-color="#babaff"/><stop offset="0.712" stop-color="#7b7bff"/><stop offset="0.735" stop-color="#4747ff"/><stop offset="0.758" stop-color="#1e1eff"/><stop offset="0.781" stop-color="#0000fd"/><stop offset="0.804" stop-color="#0000ec"/><stop offset="0.827" stop-color="#0000e3"/><stop offset="0.850" stop-color="#0000e2"/><stop offset="0.873" stop-color="#0000e9"/><stop offset="0.896" stop-color="#0000f7"/><stop offset="0.918" stop-color="#1313ff"/><stop offset="0.941" stop-color="#3838ff"/><stop offset="0.964" stop-color="#6666ff"/><stop offset="0.987" stop-color="#9e9eff"/></linearGradient><linearGradient id="g20"><stop offset="0.000" stop-color="#f0f0ff"/><stop offset="0.023" stop-color="#c1c1ff"/><stop offset="0.046" stop-color="#7e7eff"/><stop offset="0.069" stop-color="#2d2dff"/><stop offset="0.092" stop-color="#0000dc"/><stop offset="0.115" stop-color="#0000c5"/><stop offset="0.138" stop-color="#0000b7"/><stop offset="0.161" stop-color="#0000b4"/><stop offset="0.184" stop-color="#0000b9"/><stop offset="0.207" stop-color="#0000c9"/><stop offset="0.230" stop-color="#0000e1"/><stop offset="0.253" stop-color="#0404ff"/><stop offset="0.276" stop-color="#3939ff"/><stop offset="0.299" stop-color="#7979ff"/><stop offset="0.321" stop-color="#c7c7ff"/><stop offset="0.344" stop-color="#ffc7c7"/><stop offset="0.367" stop-color="#ff7a7a"/><stop offset="0.390" stop-color="#ff3d3d"/><stop offset="0.413" stop-color="#ff0b0b"/><stop offset="0.436" stop-color="#e90000"/><stop offset="0.459" stop-color="#d40000"/><stop offset="0.482" stop-color="#c70000"/><stop offset="0.505" stop-color="#c40000"/><stop offset="0.528" stop-color="#c90000"/><stop offset="0.551" stop-color="#d80000"/><stop offset="0.574" stop-color="#ef0000"/><stop offset="0.597" stop-color="#ff1313"/><stop offset="0.620" stop-color="#ff4545"/><stop offset="0.643" stop-color="#ff8181"/><stop offset="0.666" stop-color="#ffcaca"/><stop offset="0.689" stop-color="#cacaff"/><stop offset="0.712" stop-color="#8282ff"/><stop offset="0.735" stop-color="#4848ff"/><stop offset="0.758" stop-color="#1919ff"/><stop offset="0.781" stop-color="#0000f6"/><stop offset="0.804" stop-color="#0000e2"/><stop offset="0.827" stop-color="#0000d6"/><stop offset="0.850" stop-color="#0000d3"/><stop offset="0.873" stop-color="#0000d8"/><stop offset="0.896" stop-color="#0000e5"/><stop offset="0.918" stop-color="#0000fb"/><stop offset="0.941" stop-color="#2121ff"/><stop offset="0.964" stop-color="#4f4fff"/><stop offset="0.987" stop-color="#8888ff"/></linearGradient><linearGradient id="g21"><stop offset="0.000" stop-color="#f1f1ff"/><stop offset="0.023" stop-color="#c6c6ff"/><stop offset="0.046" stop-color="#8888ff"/><stop offset="0.069" stop-color="#3d3dff"/><stop offset="0.092" stop-color="#0000ee"/><stop offset="0.115" stop-color="#0000d9"/><stop offset="0.138" stop-color="#0000cd"/><stop offset="0.161" stop-color="#0000c9"/><stop offset="0.184" stop-color="#0000cf"/><stop offset="0.207" stop-color="#0000dd"/><stop offset="0.230" stop-color="#0000f3"/><stop offset="0.253" stop-color="#1818ff"/><stop offset="0.276" stop-color="#4949ff"/><stop offset="0.299" stop-color="#8383ff"/><stop offset="0.321" stop-color="#cbcbff"/><stop offset="0.344" stop-color="#ffcbcb"/><stop offset="0.367" stop-color="#ff8585"/><stop offset="0.390" stop-color="#ff4c4c"/><stop offset="0.413" stop-color="#ff1e1e"/><stop offset="0.436" stop-color="#fb0000"/><stop offset="0.459" stop-color="#e70000"/><stop offset="0.482" stop-color="#db0000"/><stop offset="0.505" stop-color="#d80000"/><stop offset="0.528" stop-color="#dd0000"/><stop offset="0.551" stop-color="#ea0000"/><stop offset="0.574" stop-color="#ff0101"/><stop offset="0.597" stop-color="#ff2525"/><stop offset="0.620" stop-color="#ff5353"/><stop offset="0.643" stop-color="#ff8a8a"/><stop offset="0.666" stop-color="#ffcece"/><stop offset="0.689" stop-color="#ceceff"/><stop offset="0.712" stop-color="#8c8cff"/><stop offset="0.735" stop-color="#5757ff"/><stop offset="0.758" stop-color="#2b2bff"/><stop offset="0.781" stop-color="#0a0aff"/><stop offset="0.804" stop-color="#0000f4"/><stop offset="0.827" stop-color="#0000e9"/><stop offset="0.850" stop-color="#0000e6"/><stop offset="0.873" stop-color="#0000eb"/><stop offset="0.896" stop-color="#0000f7"/><stop offset="0.918" stop-color="#1010ff"/><stop offset="0.941" stop-color="#3232ff"/><stop offset="0.964" stop-color="#5d5dff"/><stop offset="0.987" stop-color="#9191ff"/></linearGradient><linearGradient id="g22"><stop offset="0.000" stop-color="#f2f2ff"/><stop offset="0.023" stop-color="#c9c9ff"/><stop offset="0.046" stop-color="#8f8fff"/><stop offset="0.069" stop-color="#4949ff"/><stop offset="0.092" stop-color="#0000fb"/><stop offset="0.115" stop-color="#0000e7"/><stop offset="0.138" stop-color="#0000db"/><stop offset="0.161" stop-color="#0000d8"/><stop offset="0.184" stop-color="#0000dd"/><stop offset="0.207" stop-color="#0000eb"/><stop offset="0.230" stop-color="#0101ff"/><stop offset="0.253" stop-color="#2626ff"/><stop offset="0.276" stop-color="#5353ff"/><stop offset="0.299" stop-color="#8b8bff"/><stop offset="0.321" stop-color="#ceceff"/><stop offset="0.344" stop-color="#ffcece"/><stop offset="0.367" stop-color="#ff8c8c"/><stop offset="0.390" stop-color="#ff5757"/><stop offset="0.413" stop-color="#ff2c2c"/><stop offset="0.436" stop-color="#ff0a0a"/><stop offset="0.459" stop-color="#f40000"/><stop offset="0.482" stop-color="#e90000"/><stop offset="0.505" stop-color="#e60000"/><stop offset="0.528" stop-color="#eb0000"/><stop offset="0.551" stop-color="#f70000"/><stop offset="0.574" stop-color="#ff1010"/><stop offset="0.597" stop-color="#ff3232"/><stop offset="0.620" stop-color="#ff5d5d"/><stop offset="0.643" stop-color="#ff9191"/><stop offset="0.666" stop-color="#ffd1d1"/><stop offset="0.689" stop-color="#d1d1ff"/><stop offset="0.712" stop-color="#9393ff"/><stop offset="0.735" stop-color="#6161ff"/><stop offset="0.758" stop-color="#3838ff"/><stop offset="0.781" stop-color="#1818ff"/><stop offset="0.804" stop-color="#0202ff"/><stop offset="0.827" stop-color="#0000f6"/><stop offset="0.850" stop-color="#0000f3"/><stop offset="0.873" stop-color="#0000f8"/><stop offset="0.896" stop-color="#0606ff"/><stop offset="0.918" stop-color="#1e1eff"/><stop offset="0.941" stop-color="#3e3eff"/><stop offset="0.964" stop-color="#6767ff"/><stop offset="0.987" stop-color="#9898ff"/></linearGradient><linearGradient id="g23"><stop offset="0.000" stop-color="#f2f2ff"/><stop offset="0.023" stop-color="#ccccff"/><stop offset="0.046" stop-color="#9494ff"/><stop offset="0.069" stop-color="#5151ff"/><stop offset="0.092" stop-color="#0606ff"/><stop offset="0.115" stop-color="#0000f1"/><stop offset="0.138" stop-color="#0000e6"/><stop offset="0.161" stop-color="#0000e3"/><stop offset="0.184" stop-color="#0000e7"/><stop offset="0.207" stop-color="#0000f4"/><stop offset="0.230" stop-color="#0c0cff"/><stop offset="0.253" stop-color="#2f2fff"/><stop offset="0.276" stop-color="#5b5bff"/><stop offset="0.299" stop-color="#9090ff"/><stop offset="0.321" stop-color="#d0d0ff"/><stop offset="0.344" stop-color="#ffd0d0"/><stop offset="0.367" stop-color="#ff9191"/><stop offset="0.390" stop-color="#ff5e5e"/><stop offset="0.413" stop-color="#ff3535"/><stop offset="0.436" stop-color="#ff1515"/><stop offset="0.459" stop-color="#fd0000"/><stop offset="0.482" stop-color="#f30000"/><stop offset="0.505" stop-color="#f00000"/><stop offset="0.528" stop-color="#f40000"/><stop offset="0.551" stop-color="#ff0202"/><stop offset="0.574" stop-color="#ff1a1a"/><stop offset="0.597" stop-color="#ff3b3b"/><stop offset="0.620" stop-color="#ff6464"/><stop offset="0.643" stop-color="#ff9696"/><stop offset="0.666" stop-color="#ffd3d3"/><stop offset="0.689" stop-color="#d3d3ff"/><stop offset="0.712" stop-color="#9797ff"/><stop offset="0.735" stop-color="#6767ff"/><stop offset="0.758" stop-color="#4141ff"/><stop offset="0.781" stop-color="#2222ff"/><stop offset="0.804" stop-color="#0d0dff"/><stop offset="0.827" stop-color="#0000ff"/><stop offset="0.850" stop-color="#0000fc"/><stop offset="0.873" stop-color="#0202ff"/><stop offset="0.896" stop-color="#1111ff"/><stop offset="0.918" stop-color="#2828ff"/><stop offset="0.941" stop-color="#4747ff"/><stop offset="0.964" stop-color="#6d6dff"/><stop offset="0.987" stop-color="#9c9cff"/></linearGradient><linearGradient id="g24"><stop offset="0.000" stop-color="#f3f3ff"/><stop offset="0.023" stop-color="#cdcdff"/><stop offset="0.046" stop-color="#9797ff"/><stop offset="0.069" stop-color="#5656ff"/><stop offset="0.092" stop-color="#0e0eff"/><stop offset="0.115" stop-color="#0000f8"/><stop offset="0.138" stop-color="#0000ed"/><stop offset="0.161" stop-color="#0000ea"/><stop offset="0.184" stop-color="#0000ef"/><stop offset="0.207" stop-color="#0000fb"/><stop offset="0.230" stop-color="#1414ff"/><stop offset="0.253" stop-color="#3636ff"/><stop offset="0.276" stop-color="#6060ff"/><stop offset="0.299" stop-color="#9393ff"/><stop offset="0.321" stop-color="#d2d2ff"/><stop offset="0.344" stop-color="#ffd2d2"/><stop offset="0.367" stop-color="#ff9494"/><stop offset="0.390" stop-color="#ff6363"/><stop offset="0.413" stop-color="#ff3b3b"/><stop offset="0.436" stop-color="#ff1c1c"/><stop offset="0.459" stop-color="#ff0606"/><stop offset="0.482" stop-color="#f90000"/><stop offset="0.505" stop-color="#f70000"/><stop offset="0.528" stop-color="#fb0000"/><stop offset="0.551" stop-color="#ff0a0a"/><stop offset="0.574" stop-color="#ff2121"/><stop offset="0.597" stop-color="#ff4141"/><stop offset="0.620" stop-color="#ff6969"/><stop offset="0.643" stop-color="#ff9999"/><stop offset="0.666" stop-color="#ffd4d4"/><stop offset="0.689" stop-color="#d4d4ff"/><stop offset="0.712" stop-color="#9b9bff"/><stop offset="0.735" stop-color="#6c6cff"/><stop offset="0.758" stop-color="#4747ff"/><stop offset="0.781" stop-color="#2929ff"/><stop offset="0.804" stop-color="#1414ff"/><stop offset="0.827" stop-color="#0808ff"/><stop offset="0.850" stop-color="#0505ff"/><stop offset="0.873" stop-color="#0a0aff"/><stop offset="0.896" stop-color="#1818ff"/><stop offset="0.918" stop-color="#2e2eff"/><stop offset="0.941" stop-color="#4c4cff"/><stop offset="0.964" stop-color="#7272ff"/><stop offset="0.987" stop-color="#9f9fff"/></linearGradient><linearGradient id="g25"><stop offset="0.000" stop-color="#f3f3ff"/><stop offset="0.023" stop-color="#ceceff"/><stop offset="0.046" stop-color="#9a9aff"/><stop offset="0.069" stop-color="#5a5aff"/><stop offset="0.092" stop-color="#1414ff"/><stop offset="0.115" stop-color="#0000fc"/><stop offset="0.138" stop-color="#0000f2"/><stop offset="0.161" stop-color="#0000ef"/><stop offset="0.184" stop-color="#0000f3"/><stop offset="0.207" stop-color="#0101ff"/><stop offset="0.230" stop-color="#1919ff"/><stop offset="0.253" stop-color="#3a3aff"/><stop offset="0.276" stop-color="#6464ff"/><stop offset="0.299" stop-color="#9696ff"/><stop offset="0.321" stop-color="#d3d3ff"/><stop offset="0.344" stop-color="#ffd3d3"/><stop offset="0.367" stop-color="#ff9797"/><stop offset="0.390" stop-color="#ff6767"/><stop offset="0.413" stop-color="#ff4040"/><stop offset="0.436" stop-color="#ff2121"/><stop offset="0.459" stop-color="#ff0c0c"/><stop offset="0.482" stop-color="#fe0000"/><stop offset="0.505" stop-color="#fb0000"/><stop offset="0.528" stop-color="#ff0101"/><stop offset="0.551" stop-color="#ff1010"/><stop offset="0.574" stop-color="#ff2727"/><stop offset="0.597" stop-color="#ff4646"/><stop offset="0.620" stop-color="#ff6d6d"/><stop offset="0.643" stop-color="#ff9c9c"/><stop offset="0.666" stop-color="#ffd5d5"/><stop offset="0.689" stop-color="#d5d5ff"/><stop offset="0.712" stop-color="#9d9dff"/><stop offset="0.735" stop-color="#7070ff"/><stop offset="0.758" stop-color="#4b4bff"/><stop offset="0.781" stop-color="#2e2eff"/><stop offset="0.804" stop-color="#1a1aff"/><stop offset="0.827" stop-color="#0e0eff"/><stop offset="0.850" stop-color="#0b0bff"/><stop offset="0.873" stop-color="#1010ff"/><stop offset="0.896" stop-color="#1d1dff"/><stop offset="0.918" stop-color="#3333ff"/><stop offset="0.941" stop-color="#5050ff"/><stop offset="0.964" stop-color="#7575ff"/><stop offset="0.987" stop-color="#a1a1ff"/></linearGradient><linearGradient id="g26"><stop offset="0.000" stop-color="#f3f3ff"/><stop offset="0.023" stop-color="#cfcfff"/><stop offset="0.046" stop-color="#9b9bff"/><stop offset="0.069" stop-color="#5d5dff"/><stop offset="0.092" stop-color="#1717ff"/><stop offset="0.115" stop-color="#0101ff"/><stop offset="0.138" stop-color="#0000f5"/><stop offset="0.161" stop-color="#0000f2"/><stop offset="0.184" stop-color="#0000f7"/><stop offset="0.207" stop-color="#0505ff"/><stop offset="0.230" stop-color="#1d1dff"/><stop offset="0.253" stop-color="#3d3dff"/><stop offset="0.276" stop-color="#6666ff"/><stop offset="0.299" stop-color="#9797ff"/><stop offset="0.321" stop-color="#d3d3ff"/><stop offset="0.344" stop-color="#ffd3d3"/><stop offset="0.367" stop-color="#ff9999"/><stop offset="0.390" stop-color="#ff6969"/><stop offset="0.413" stop-color="#ff4343"/><stop offset="0.436" stop-color="#ff2525"/><stop offset="0.459" stop-color="#ff1010"/><stop offset="0.482" stop-color="#ff0303"/><stop offset="0.505" stop-color="#ff0000"/><stop offset="0.528" stop-color="#ff0505"/><stop offset="0.551" stop-color="#ff1313"/><stop offset="0.574" stop-color="#ff2a2a"/><stop offset="0.597" stop-color="#ff4949"/><stop offset="0.620" stop-color="#ff6f6f"/><stop offset="0.643" stop-color="#ff9d9d"/><stop offset="0.666" stop-color="#ffd6d6"/><stop offset="0.689" stop-color="#d6d6ff"/><stop offset="0.712" stop-color="#9e9eff"/><stop offset="0.735" stop-color="#7272ff"/><stop offset="0.758" stop-color="#4e4eff"/><stop offset="0.781" stop-color="#3232ff"/><stop offset="0.804" stop-color="#1e1eff"/><stop offset="0.827" stop-color="#1212ff"/><stop offset="0.850" stop-color="#0f0fff"/><stop offset="0.873" stop-color="#1414ff"/><stop offset="0.896" stop-color="#2121ff"/><stop offset="0.918" stop-color="#3636ff"/><stop offset="0.941" stop-color="#5353ff"/><stop offset="0.964" stop-color="#7777ff"/><stop offset="0.987" stop-color="#a3a3ff"/></linearGradient><linearGradient id="g27"><stop offset="0.000" stop-color="#f3f3ff"/><stop offset="0.023" stop-color="#d0d0ff"/><stop offset="0.046" stop-color="#9d9dff"/><stop offset="0.069" stop-color="#5e5eff"/><stop offset="0.092" stop-color="#1a1aff"/><stop offset="0.115" stop-color="#0404ff"/><stop offset="0.138" stop-color="#0000f8"/><stop offset="0.161" stop-color="#0000f5"/><stop offset="0.184" stop-color="#0000f9"/><stop offset="0.207" stop-color="#0808ff"/><stop offset="0.230" stop-color="#1f1fff"/><stop offset="0.253" stop-color="#4040ff"/><stop offset="0.276" stop-color="#6868ff"/><stop offset="0.299" stop-color="#9898ff"/><stop offset="0.321" stop-color="#d4d4ff"/><stop offset="0.344" stop-color="#ffd4d4"/><stop offset="0.367" stop-color="#ff9a9a"/><stop offset="0.390" stop-color="#ff6b6b"/><stop offset="0.413" stop-color="#ff4545"/><stop offset="0.436" stop-color="#ff2727"/><stop offset="0.459" stop-color="#ff1212"/><stop offset="0.482" stop-color="#ff0606"/><stop offset="0.505" stop-color="#ff0303"/><stop offset="0.528" stop-color="#ff0808"/><stop offset="0.551" stop-color="#ff1616"/><stop offset="0.574" stop-color="#ff2c2c"/><stop offset="0.597" stop-color="#ff4b4b"/><stop offset="0.620" stop-color="#ff7171"/><stop offset="0.643" stop-color="#ff9e9e"/><stop offset="0.666" stop-color="#ffd6d6"/><stop offset="0.689" stop-color="#d6d6ff"/><stop offset="0.712" stop-color="#a0a0ff"/><stop offset="0.735" stop-color="#7474ff"/><stop offset="0.758" stop-color="#5050ff"/><stop offset="0.781" stop-color="#3434ff"/><stop offset="0.804" stop-color="#2020ff"/><stop offset="0.827" stop-color="#1515ff"/><stop offset="0.850" stop-color="#1111ff"/><stop offset="0.873" stop-color="#1616ff"/><stop offset="0.896" stop-color="#2424ff"/><stop offset="0.918" stop-color="#3939ff"/><stop offset="0.941" stop-color="#5555ff"/><stop offset="0.964" stop-color="#7979ff"/><stop offset="0.987" stop-color="#a4a4ff"/></linearGradient><linearGradient id="g28"><stop offset="0.000" stop-color="#f3f3ff"/><stop offset="0.023" stop-color="#d0d0ff"/><stop offset="0.046" stop-color="#9d9dff"/><stop offset="0.069" stop-color="#6060ff"/><stop offset="0.092" stop-color="#1c1cff"/><stop offset="0.115" stop-color="#0606ff"/><stop offset="0.138" stop-color="#0000f9"/><stop offset="0.161" stop-color="#0000f6"/><stop offset="0.184" stop-color="#0000fb"/><stop offset="0.207" stop-color="#0a0aff"/><stop offset="0.230" stop-color="#2121ff"/><stop offset="0.253" stop-color="#4141ff"/><stop offset="0.276" stop-color="#6969ff"/><stop offset="0.299" stop-color="#9999ff"/><stop offset="0.321" stop-color="#d4d4ff"/><stop offset="0.344" stop-color="#ffd4d4"/><stop offset="0.367" stop-color="#ff9a9a"/><stop offset="0.390" stop-color="#ff6c6c"/><stop offset="0.413" stop-color="#ff4646"/><stop offset="0.436" stop-color="#ff2929"/><stop offset="0.459" stop-color="#ff1414"/><stop offset="0.482" stop-color="#ff0808"/><stop offset="0.505" stop-color="#ff0505"/><stop offset="0.528" stop-color="#ff0a0a"/><stop offset="0.551" stop-color="#ff1818"/><stop offset="0.574" stop-color="#ff2e2e"/><stop offset="0.597" stop-color="#ff4c4c"/><stop offset="0.620" stop-color="#ff7272"/><stop offset="0.643" stop-color="#ff9f9f"/><stop offset="0.666" stop-color="#ffd7d7"/><stop offset="0.689" stop-color="#d7d7ff"/><stop offset="0.712" stop-color="#a0a0ff"/><stop offset="0.735" stop-color="#7575ff"/><stop offset="0.758" stop-color="#5151ff"/><stop offset="0.781" stop-color="#3636ff"/><stop offset="0.804" stop-color="#2222ff"/><stop offset="0.827" stop-color="#1616ff"/><stop offset="0.850" stop-color="#1313ff"/><stop offset="0.873" stop-color="#1818ff"/><stop offset="0.896" stop-color="#2525ff"/><stop offset="0.918" stop-color="#3a3aff"/><stop offset="0.941" stop-color="#5757ff"/><stop offset="0.964" stop-color="#7a7aff"/><stop offset="0.987" stop-color="#a5a5ff"/></linearGradient><linearGradient id="g29"><stop offset="0.000" stop-color="#f3f3ff"/><stop offset="0.023" stop-color="#d0d0ff"/><stop offset="0.046" stop-color="#9e9eff"/><stop offset="0.069" stop-color="#6161ff"/><stop offset="0.092" stop-color="#1d1dff"/><stop offset="0.115" stop-color="#0707ff"/><stop offset="0.138" stop-color="#0000fa"/><stop offset="0.161" stop-color="#0000f8"/><stop offset="0.184" stop-color="#0000fc"/><stop offset="0.207" stop-color="#0b0bff"/><stop offset="0.230" stop-color="#2323ff"/><stop offset="0.253" stop-color="#4242ff"/><stop offset="0.276" stop-color="#6a6aff"/><stop offset="0.299" stop-color="#9a9aff"/><stop offset="0.321" stop-color="#d4d4ff"/><stop offset="0.344" stop-color="#ffd5d5"/><stop offset="0.367" stop-color="#ff9b9b"/><stop offset="0.390" stop-color="#ff6d6d"/><stop offset="0.413" stop-color="#ff4747"/><stop offset="0.436" stop-color="#ff2a2a"/><stop offset="0.459" stop-color="#ff1616"/><stop offset="0.482" stop-color="#ff0909"/><stop offset="0.505" stop-color="#ff0606"/><stop offset="0.528" stop-color="#ff0b0b"/><stop offset="0.551" stop-color="#ff1919"/><stop offset="0.574" stop-color="#ff2f2f"/><stop offset="0.597" stop-color="#ff4d4d"/><stop offset="0.620" stop-color="#ff7373"/><stop offset="0.643" stop-color="#ffa0a0"/><stop offset="0.666" stop-color="#ffd7d7"/><stop offset="0.689" stop-color="#d7d7ff"/><stop offset="0.712" stop-color="#a1a1ff"/><stop offset="0.735" stop-color="#7575ff"/><stop offset="0.758" stop-color="#5252ff"/><stop offset="0.781" stop-color="#3737ff"/><stop offset="0.804" stop-color="#2323ff"/><stop offset="0.827" stop-color="#1818ff"/><stop offset="0.850" stop-color="#1515ff"/><stop offset="0.873" stop-color="#1a1aff"/><stop offset="0.896" stop-color="#2727ff"/><stop offset="0.918" stop-color="#3b3bff"/><stop offset="0.941" stop-color="#5858ff"/><stop offset="0.964" stop-color="#7b7bff"/><stop offset="0.987" stop-color="#a5a5ff"/></linearGradient><linearGradient id="g30"><stop offset="0.000" stop-color="#f3f3ff"/><stop offset="0.023" stop-color="#d0d0ff"/><stop offset="0.046" stop-color="#9e9eff"/><stop offset="0.069" stop-color="#6161ff"/><stop offset="0.092" stop-color="#1e1eff"/><stop offset="0.115" stop-color="#0808ff"/><stop offset="0.138" stop-color="#0000fb"/><stop offset="0.161" stop-color="#0000f8"/><stop offset="0.184" stop-color="#0000fd"/><stop offset="0.207" stop-color="#0c0cff"/><stop offset="0.230" stop-color="#2323ff"/><stop offset="0.253" stop-color="#4343ff"/><stop offset="0.276" stop-color="#6b6bff"/><stop offset="0.299" stop-color="#9a9aff"/><stop offset="0.321" stop-color="#d5d5ff"/><stop offset="0.344" stop-color="#ffd5d5"/><stop offset="0.367" stop-color="#ff9b9b"/><stop offset="0.390" stop-color="#ff6e6e"/><stop offset="0.413" stop-color="#ff4848"/><stop offset="0.436" stop-color="#ff2b2b"/><stop offset="0.459" stop-color="#ff1616"/><stop offset="0.482" stop-color="#ff0a0a"/><stop offset="0.505" stop-color="#ff0707"/><stop offset="0.528" stop-color="#ff0c0c"/><stop offset="0.551" stop-color="#ff1a1a"/><stop offset="0.574" stop-color="#ff3030"/><stop offset="0.597" stop-color="#ff4e4e"/><stop offset="0.620" stop-color="#ff7373"/><stop offset="0.643" stop-color="#ffa0a0"/><stop offset="0.666" stop-color="#ffd7d7"/><stop offset="0.689" stop-color="#d7d7ff"/><stop offset="0.712" stop-color="#a1a1ff"/><stop offset="0.735" stop-color="#7676ff"/><stop offset="0.758" stop-color="#5353ff"/><stop offset="0.781" stop-color="#3737ff"/><stop offset="0.804" stop-color="#2424ff"/><stop offset="0.827" stop-color="#1919ff"/><stop offset="0.850" stop-color="#1515ff"/><stop offset="0.873" stop-color="#1a1aff"/><stop offset="0.896" stop-color="#2727ff"/><stop offset="0.918" stop-color="#3c3cff"/><stop offset="0.941" stop-color="#5858ff"/><stop offset="0.964" stop-color="#7b7bff"/><stop offset="0.987" stop-color="#a6a6ff"/></linearGradient><linearGradient id="g31"><stop offset="0.000" stop-color="#ffb2b2"/><stop offset="0.023" stop-color="#ffa6a6"/><stop offset="0.046" stop-color="#ff9e9e"/><stop offset="0.069" stop-color="#ff9999"/><stop offset="0.092" stop-color="#ff9999"/><stop offset="0.115" stop-color="#ff9e9e"/><stop offset="0.138" stop-color="#ffa6a6"/><stop offset="0.161" stop-color="#ffb2b2"/><stop offset="0.184" stop-color="#ffc1c1"/><stop offset="0.207" stop-color="#ffd3d3"/><stop offset="0.230" stop-color="#ffe7e7"/><stop offset="0.253" stop-color="#fffcfc"/><stop offset="0.276" stop-color="#ececff"/><stop offset="0.299" stop-color="#d8d8ff"/><stop offset="0.321" stop-color="#c6c6ff"/><stop offset="0.344" stop-color="#b6b6ff"/><stop offset="0.367" stop-color="#a9a9ff"/><stop offset="0.390" stop-color="#9f9fff"/><stop offset="0.413" stop-color="#9a9aff"/><stop offset="0.436" stop-color="#9999ff"/><stop offset="0.459" stop-color="#9c9cff"/><stop offset="0.482" stop-color="#a3a3ff"/><stop offset="0.505" stop-color="#afafff"/><stop offset="0.528" stop-color="#bdbdff"/><stop offset="0.551" stop-color="#cfcfff"/><stop offset="0.574" stop-color="#e2e2ff"/><stop offset="0.597" stop-color="#f7f7ff"/><stop offset="0.620" stop-color="#fff1f1"/><stop offset="0.643" stop-color="#ffdddd"/><stop offset="0.666" stop-color="#ffcaca"/><stop offset="0.689" stop-color="#ffb9b9"/><stop offset="0.712" stop-color="#ffacac"/><stop offset="0.735" stop-color="#ffa1a1"/><stop offset="0.758" stop-color="#ff9b9b"/><stop offset="0.781" stop-color="#ff9999"/><stop offset="0.804" stop-color="#ff9b9b"/><stop offset="0.827" stop-color="#ffa1a1"/><stop offset="0.850" stop-color="#ffacac"/><stop offset="0.873" stop-color="#ffb9b9"/><stop offset="0.896" stop-color="#ffcaca"/><stop offset="0.918" stop-color="#ffdddd"/><stop offset="0.941" stop-color="#fff1f1"/><stop offset="0.964" stop-color="#f7f7ff"/><stop offset="0.987" stop-color="#e2e2ff"/></linearGradient><linearGradient id="g32"><stop offset="0.000" stop-color="#ffb0b0"/><stop offset="0.023" stop-color="#ffa4a4"/><stop offset="0.046" stop-color="#ff9b9b"/><stop offset="0.069" stop-color="#ff9797"/><stop offset="0.092" stop-color="#ff9797"/><stop offset="0.115" stop-color="#ff9b9b"/><stop offset="0.138" stop-color="#ffa4a4"/><stop offset="0.161" stop-color="#ffb0b0"/><stop offset="0.184" stop-color="#ffc0c0"/><stop offset="0.207" stop-color="#ffd2d2"/><stop offset="0.230" stop-color="#ffe7e7"/><stop offset="0.253" stop-color="#fffcfc"/><stop offset="0.276" stop-color="#ececff"/><stop offset="0.299" stop-color="#d7d7ff"/><stop offset="0.321" stop-color="#c4c4ff"/><stop offset="0.344" stop-color="#b4b4ff"/><stop offset="0.367" stop-color="#a6a6ff"/><stop offset="0.390" stop-color="#9d9dff"/><stop offset="0.413" stop-color="#9797ff"/><stop offset="0.436" stop-color="#9696ff"/><stop offset="0.459" stop-color="#9a9aff"/><stop offset="0.482" stop-color="#a1a1ff"/><stop offset="0.505" stop-color="#adadff"/><stop offset="0.528" stop-color="#bcbcff"/><stop offset="0.551" stop-color="#cdcdff"/><stop offset="0.574" stop-color="#e1e1ff"/><stop offset="0.597" stop-color="#f6f6ff"/><stop offset="0.620" stop-color="#fff1f1"/><stop offset="0.643" stop-color="#ffdcdc"/><stop offset="0.666" stop-color="#ffc9c9"/><stop offset="0.689" stop-color="#ffb8b8"/><stop offset="0.712" stop-color="#ffa9a9"/><stop offset="0.735" stop-color="#ff9f9f"/><stop offset="0.758" stop-color="#ff9898"/><stop offset="0.781" stop-color="#ff9696"/><stop offset="0.804" stop-color="#ff9898"/><stop offset="0.827" stop-color="#ff9f9f"/><stop offset="0.850" stop-color="#ffa9a9"/><stop offset="0.873" stop-color="#ffb8b8"/><stop offset="0.896" stop-color="#ffc9c9"/><stop offset="0.918" stop-color="#ffdcdc"/><stop offset="0.941" stop-color="#fff1f1"/><stop offset="0.964" stop-color="#f6f6ff"/><stop offset="0.987" stop-color="#e1e1ff"/></linearGradient><linearGradient id="g33"><stop offset="0.000" stop-color="#ffaeae"/><stop offset="0.023" stop-color="#ffa1a1"/><stop offset="0.046" stop-color="#ff9898"/><stop offset="0.069" stop-color="#ff9494"/><stop offset="0.092" stop-color="#ff9494"/><stop offset="0.115" stop-color="#ff9898"/><stop offset="0.138" stop-color="#ffa1a1"/><stop offset="0.161" stop-color="#ffaeae"/><stop offset="0.184" stop-color="#ffbebe"/><stop offset="0.207" stop-color="#ffd1d1"/><stop offset="0.230" stop-color="#ffe6e6"/><stop offset="0.253" stop-color="#fffcfc"/><stop offset="0.276" stop-color="#ebebff"/><stop offset="0.299" stop-color="#d6d6ff"/><stop offset="0.321" stop-color="#c3c3ff"/><stop offset="0.344" stop-color="#b2b2ff"/><stop offset="0.367" stop-color="#a4a4ff"/><stop offset="0.390" stop-color="#9a9aff"/><stop offset="0.413" stop-color="#9595ff"/><stop offset="0.436" stop-color="#9393ff"/><stop offset="0.459" stop-color="#9797ff"/><stop offset="0.482" stop-color="#9f9fff"/><stop offset="0.505" stop-color="#aaaaff"/><stop offset="0.528" stop-color="#babaff"/><stop offset="0.551" stop-color="#ccccff"/><stop offset="0.574" stop-color="#e1e1ff"/><stop offset="0.597" stop-color="#f6f6ff"/><stop offset="0.620" stop-color="#fff1f1"/><stop offset="0.643" stop-color="#ffdbdb"/><stop offset="0.666" stop-color="#ffc7c7"/><stop offset="0.689" stop-color="#ffb6b6"/><stop offset="0.712" stop-color="#ffa7a7"/><stop offset="0.735" stop-color="#ff9c9c"/><stop offset="0.758" stop-color="#ff9696"/><stop offset="0.781" stop-color="#ff9393"/><stop offset="0.804" stop-color="#ff9696"/><stop offset="0.827" stop-color="#ff9c9c"/><stop offset="0.850" stop-color="#ffa7a7"/><stop offset="0.873" stop-color="#ffb6b6"/><stop offset="0.896" stop-color="#ffc7c7"/><stop offset="0.918" stop-color="#ffdbdb"/><stop offset="0.941" stop-color="#fff1f1"/><stop offset="0.964" stop-color="#f6f6ff"/><stop offset="0.987" stop-color="#e1e1ff"/></linearGradient><linearGradient id="g34"><stop offset="0.000" stop-color="#ffabab"/><stop offset="0.023" stop-color="#ff9e9e"/><stop offset="0.046" stop-color="#ff9595"/><stop offset="0.069" stop-color="#ff9191"/><stop offset="0.092" stop-color="#ff9191"/><stop offset="0.115" stop-color="#ff9595"/><stop offset="0.138" stop-color="#ff9e9e"/><stop offset="0.161" stop-color="#ffabab"/><stop offset="0.184" stop-color="#ffbcbc"/><stop offset="0.207" stop-color="#ffd0d0"/><stop offset="0.230" stop-color="#ffe5e5"/><stop offset="0.253" stop-color="#fffcfc"/><stop offset="0.276" stop-color="#ebebff"/><stop offset="0.299" stop-color="#d5d5ff"/><stop offset="0.321" stop-color="#c1c1ff"/><stop offset="0.344" stop-color="#afafff"/><stop offset="0.367" stop-color="#a1a1ff"/><stop offset="0.390" stop-color="#9797ff"/><stop offset="0.413" stop-color="#9191ff"/><stop offset="0.436" stop-color="#9090ff"/><stop offset="0.459" stop-color="#9494ff"/><stop offset="0.482" stop-color="#9c9cff"/><stop offset="0.505" stop-color="#a8a8ff"/><stop offset="0.528" stop-color="#b8b8ff"/><stop offset="0.551" stop-color="#cbcbff"/><stop offset="0.574" stop-color="#e0e0ff"/><stop offset="0.597" stop-color="#f6f6ff"/><stop offset="0.620" stop-color="#fff0f0"/><stop offset="0.643" stop-color="#ffdada"/><stop offset="0.666" stop-color="#ffc6c6"/><stop offset="0.689" stop-color="#ffb3b3"/><stop offset="0.712" stop-color="#ffa4a4"/><stop offset="0.735" stop-color="#ff9999"/><stop offset="0.758" stop-color="#ff9292"/><stop offset="0.781" stop-color="#ff9090"/><stop offset="0.804" stop-color="#ff9292"/><stop offset="0.827" stop-color="#ff9999"/><stop offset="0.850" stop-color="#ffa4a4"/><stop offset="0.873" stop-color="#ffb3b3"/><stop offset="0.896" stop-color="#ffc6c6"/><stop offset="0.918" stop-color="#ffdada"/><stop offset="0.941" stop-color="#fff0f0"/><stop offset="0.964" stop-color="#f6f6ff"/><stop offset="0.987" stop-color="#e0e0ff"/></linearGradient><linearGradient id="g35"><stop offset="0.000" stop-color="#ffa9a9"/><stop offset="0.023" stop-color="#ff9b9b"/><stop offset="0.046" stop-color="#ff9292"/><stop offset="0.069" stop-color="#ff8d8d"/><stop offset="0.092" stop-color="#ff8d8d"/><stop offset="0.115" stop-color="#ff9292"/><stop offset="0.138" stop-color="#ff9b9b"/><stop offset="0.161" stop-color="#ffa9a9"/><stop offset="0.184" stop-color="#ffbaba"/><stop offset="0.207" stop-color="#ffcece"/><stop offset="0.230" stop-color="#ffe4e4"/><stop offset="0.253" stop-color="#fffcfc"/><stop offset="0.276" stop-color="#eaeaff"/><stop offset="0.299" stop-color="#d3d3ff"/><stop offset="0.321" stop-color="#bfbfff"/><stop offset="0.344" stop-color="#adadff"/><stop offset="0.367" stop-color="#9e9eff"/><stop offset="0.390" stop-color="#9494ff"/><stop offset="0.413" stop-color="#8e8eff"/><stop offset="0.436" stop-color="#8c8cff"/><stop offset="0.459" stop-color="#9090ff"/><stop offset="0.482" stop-color="#9898ff"/><stop offset="0.505" stop-color="#a5a5ff"/><stop offset="0.528" stop-color="#b5b5ff"/><stop offset="0.551" stop-color="#c9c9ff"/><stop offset="0.574" stop-color="#dfdfff"/><stop offset="0.597" stop-color="#f6f6ff"/><stop offset="0.620" stop-color="#fff0f0"/><stop offset="0.643" stop-color="#ffd9d9"/><stop offset="0.666" stop-color="#ffc4c4"/><stop offset="0.689" stop-color="#ffb1b1"/><stop offset="0.712" stop-color="#ffa1a1"/><stop offset="0.735" stop-color="#ff9696"/><stop offset="0.758" stop-color="#ff8f8f"/><stop offset="0.781" stop-color="#ff8c8c"/><stop offset="0.804" stop-color="#ff8f8f"/><stop offset="0.827" stop-color="#ff9696"/><stop offset="0.850" stop-color="#ffa1a1"/><stop offset="0.873" stop-color="#ffb1b1"/><stop offset="0.896" stop-color="#ffc4c4"/><stop offset="0.918" stop-color="#ffd9d9"/><stop offset="0.941" stop-color="#fff0f0"/><stop offset="0.964" stop-color="#f6f6ff"/><stop offset="0.987" stop-color="#dfdfff"/></linearGradient><linearGradient id="g36"><stop offset="0.000" stop-color="#ffa5a5"/><stop offset="0.023" stop-color="#ff9797"/><stop offset="0.046" stop-color="#ff8e8e"/><stop offset="0.069" stop-color="#ff8989"/><stop offset="0.092" stop-color="#ff8989"/><stop offset="0.115" stop-color="#ff8e8e"/><stop offset="0.138" stop-color="#ff9797"/><stop offset="0.161" stop-color="#ffa5a5"/><stop offset="0.184" stop-color="#ffb7b7"/><stop offset="0.207" stop-color="#ffcccc"/><stop offset="0.230" stop-color="#ffe3e3"/><stop offset="0.253" stop-color="#fffbfb"/><stop offset="0.276" stop-color="#e9e9ff"/><stop offset="0.299" stop-color="#d2d2ff"/><stop offset="0.321" stop-color="#bcbcff"/><stop offset="0.344" stop-color="#aaaaff"/><stop offset="0.367" stop-color="#9a9aff"/><stop offset="0.390" stop-color="#9090ff"/><stop offset="0.413" stop-color="#8989ff"/><stop offset="0.436" stop-color="#8888ff"/><stop offset="0.459" stop-color="#8c8cff"/><stop offset="0.482" stop-color="#9494ff"/><stop offset="0.505" stop-color="#a2a2ff"/><stop offset="0.528" stop-color="#b3b3ff"/><stop offset="0.551" stop-color="#c7c7ff"/><stop offset="0.574" stop-color="#ddddff"/><stop offset="0.597" stop-color="#f5f5ff"/><stop offset="0.620" stop-color="#ffefef"/><stop offset="0.643" stop-color="#ffd8d8"/><stop offset="0.666" stop-color="#ffc1c1"/><stop offset="0.689" stop-color="#ffaeae"/><stop offset="0.712" stop-color="#ff9e9e"/><stop offset="0.735" stop-color="#ff9292"/><stop offset="0.758" stop-color="#ff8a8a"/><stop offset="0.781" stop-color="#ff8888"/><stop offset="0.804" stop-color="#ff8a8a"/><stop offset="0.827" stop-color="#ff9292"/><stop offset="0.850" stop-color="#ff9e9e"/><stop offset="0.873" stop-color="#ffaeae"/><stop offset="0.896" stop-color="#ffc1c1"/><stop offset="0.918" stop-color="#ffd8d8"/><stop offset="0.941" stop-color="#ffefef"/><stop offset="0.964" stop-color="#f5f5ff"/><stop offset="0.987" stop-color="#ddddff"/></linearGradient><linearGradient id="g37"><stop offset="0.000" stop-color="#ffa2a2"/><stop offset="0.023" stop-color="#ff9393"/><stop offset="0.046" stop-color="#ff8989"/><stop offset="0.069" stop-color="#ff8484"/><stop offset="0.092" stop-color="#ff8484"/><stop offset="0.115" stop-color="#ff8989"/><stop offset="0.138" stop-color="#ff9393"/><stop offset="0.161" stop-color="#ffa2a2"/><stop offset="0.184" stop-color="#ffb4b4"/><stop offset="0.207" stop-color="#ffcaca"/><stop offset="0.230" stop-color="#ffe2e2"/><stop offset="0.253" stop-color="#fffbfb"/><stop offset="0.276" stop-color="#e8e8ff"/><stop offset="0.299" stop-color="#d0d0ff"/><stop offset="0.321" stop-color="#babaff"/><stop offset="0.344" stop-color="#a6a6ff"/><stop offset="0.367" stop-color="#9696ff"/><stop offset="0.390" stop-color="#8b8bff"/><stop offset="0.413" stop-color="#8585ff"/><stop offset="0.436" stop-color="#8383ff"/><stop offset="0.459" stop-color="#8787ff"/><stop offset="0.482" stop-color="#9090ff"/><stop offset="0.505" stop-color="#9e9eff"/><stop offset="0.528" stop-color="#afafff"/><stop offset="0.551" stop-color="#c4c4ff"/><stop offset="0.574" stop-color="#dcdcff"/><stop offset="0.597" stop-color="#f5f5ff"/><stop offset="0.620" stop-color="#ffefef"/><stop offset="0.643" stop-color="#ffd6d6"/><stop offset="0.666" stop-color="#ffbfbf"/><stop offset="0.689" stop-color="#ffabab"/><stop offset="0.712" stop-color="#ff9a9a"/><stop offset="0.735" stop-color="#ff8d8d"/><stop offset="0.758" stop-color="#ff8686"/><stop offset="0.781" stop-color="#ff8383"/><stop offset="0.804" stop-color="#ff8686"/><stop offset="0.827" stop-color="#ff8d8d"/><stop offset="0.850" stop-color="#ff9a9a"/><stop offset="0.873" stop-color="#ffabab"/><stop offset="0.896" stop-color="#ffbfbf"/><stop offset="0.918" stop-color="#ffd6d6"/><stop offset="0.941" stop-color="#ffefef"/><stop offset="0.964" stop-color="#f5f5ff"/><stop offset="0.987" stop-color="#dcdcff"/></linearGradient><linearGradient id="g38"><stop offset="0.000" stop-color="#ff9e9e"/><stop offset="0.023" stop-color="#ff8e8e"/><stop offset="0.046" stop-color="#ff8484"/><stop offset="0.069" stop-color="#ff7e7e"/><stop offset="0.092" stop-color="#ff7e7e"/><stop offset="0.115" stop-color="#ff8484"/><stop offset="0.138" stop-color="#ff8e8e"/><stop offset="0.161" stop-color="#ff9e9e"/><stop offset="0.184" stop-color="#ffb1b1"/><stop offset="0.207" stop-color="#ffc8c8"/><stop offset="0.230" stop-color="#ffe1e1"/><stop offset="0.253" stop-color="#fffbfb"/><stop offset="0.276" stop-color="#e7e7ff"/><stop offset="0.299" stop-color="#ceceff"/><stop offset="0.321" stop-color="#b7b7ff"/><stop offset="0.344" stop-color="#a2a2ff"/><stop offset="0.367" stop-color="#9292ff"/><stop offset="0.390" stop-color="#8686ff"/><stop offset="0.413" stop-color="#7f7fff"/><stop offset="0.436" stop-color="#7e7eff"/><stop offset="0.459" stop-color="#8282ff"/><stop offset="0.482" stop-color="#8b8bff"/><stop offset="0.505" stop-color="#9999ff"/><stop offset="0.528" stop-color="#acacff"/><stop offset="0.551" stop-color="#c2c2ff"/><stop offset="0.574" stop-color="#dadaff"/><stop offset="0.597" stop-color="#f5f5ff"/><stop offset="0.620" stop-color="#ffeeee"/><stop offset="0.643" stop-color="#ffd4d4"/><stop offset="0.666" stop-color="#ffbcbc"/><stop offset="0.689" stop-color="#ffa7a7"/><stop offset="0.712" stop-color="#ff9595"/><stop offset="0.735" stop-color="#ff8888"/><stop offset="0.758" stop-color="#ff8080"/><stop offset="0.781" stop-color="#ff7e7e"/><stop offset="0.804" stop-color="#ff8080"/><stop offset="0.827" stop-color="#ff8888"/><stop offset="0.850" stop-color="#ff9595"/><stop offset="0.873" stop-color="#ffa7a7"/><stop offset="0.896" stop-color="#ffbcbc"/><stop offset="0.918" stop-color="#ffd4d4"/><stop offset="0.941" stop-color="#ffeeee"/><stop offset="0.964" stop-color="#f5f5ff"/><stop offset="0.987" stop-color="#dadaff"/></linearGradient><linearGradient id="g39"><stop offset="0.000" stop-color="#ff9999"/><stop offset="0.023" stop-color="#ff8989"/><stop offset="0.046" stop-color="#ff7e7e"/><stop offset="0.069" stop-color="#ff7878"/><stop offset="0.092" stop-color="#ff7878"/><stop offset="0.115" stop-color="#ff7e7e"/><stop offset="0.138" stop-color="#ff8989"/><stop offset="0.161" stop-color="#ff9999"/><stop offset="0.184" stop-color="#ffadad"/><stop offset="0.207" stop-color="#ffc5c5"/><stop offset="0.230" stop-color="#ffdfdf"/><stop offset="0.253" stop-color="#fffbfb"/><stop offset="0.276" stop-color="#e6e6ff"/><stop offset="0.299" stop-color="#ccccff"/><stop offset="0.321" stop-color="#b3b3ff"/><stop offset="0.344" stop-color="#9e9eff"/><stop offset="0.367" stop-color="#8c8cff"/><stop offset="0.390" stop-color="#8080ff"/><stop offset="0.413" stop-color="#7979ff"/><stop offset="0.436" stop-color="#7777ff"/><stop offset="0.459" stop-color="#7c7cff"/><stop offset="0.482" stop-color="#8686ff"/><stop offset="0.505" stop-color="#9494ff"/><stop offset="0.528" stop-color="#a8a8ff"/><stop offset="0.551" stop-color="#bfbfff"/><stop offset="0.574" stop-color="#d9d9ff"/><stop offset="0.597" stop-color="#f4f4ff"/><stop offset="0.620" stop-color="#ffeded"/><stop offset="0.643" stop-color="#ffd2d2"/><stop offset="0.666" stop-color="#ffb9b9"/><stop offset="0.689" stop-color="#ffa3a3"/><stop offset="0.712" stop-color="#ff9090"/><stop offset="0.735" stop-color="#ff8383"/><stop offset="0.758" stop-color="#ff7a7a"/><stop offset="0.781" stop-color="#ff7777"/><stop offset="0.804" stop-color="#ff7a7a"/><stop offset="0.827" stop-color="#ff8383"/><stop offset="0.850" stop-color="#ff9090"/><stop offset="0.873" stop-color="#ffa3a3"/><stop offset="0.896" stop-color="#ffb9b9"/><stop offset="0.918" stop-color="#ffd2d2"/><stop offset="0.941" stop-color="#ffeded"/><stop offset="0.964" stop-color="#f4f4ff"/><stop offset="0.987" stop-color="#d9d9ff"/></linearGradient><linearGradient id="g40"><stop offset="0.000" stop-color="#ff9494"/><stop offset="0.023" stop-color="#ff8383"/><stop offset="0.046" stop-color="#ff7777"/><stop offset="0.069" stop-color="#ff7171"/><stop offset="0.092" stop-color="#ff7171"/><stop offset="0.115" stop-color="#ff7777"/><stop offset="0.138" stop-color="#ff8383"/><stop offset="0.161" stop-color="#ff9494"/><stop offset="0.184" stop-color="#ffa9a9"/><stop offset="0.207" stop-color="#ffc2c2"/><stop offset="0.230" stop-color="#ffdede"/><stop offset="0.253" stop-color="#fffbfb"/><stop offset="0.276" stop-color="#e5e5ff"/><stop offset="0.299" stop-color="#c9c9ff"/><stop offset="0.321" stop-color="#afafff"/><stop offset="0.344" stop-color="#9999ff"/><stop offset="0.367" stop-color="#8686ff"/><stop offset="0.390" stop-color="#7979ff"/><stop offset="0.413" stop-color="#7272ff"/><stop offset="0.436" stop-color="#7070ff"/><stop offset="0.459" stop-color="#7575ff"/><stop offset="0.482" stop-color="#7f7fff"/><stop offset="0.505" stop-color="#8f8fff"/><stop offset="0.528" stop-color="#a3a3ff"/><stop offset="0.551" stop-color="#bcbcff"/><stop offset="0.574" stop-color="#d7d7ff"/><stop offset="0.597" stop-color="#f4f4ff"/><stop offset="0.620" stop-color="#ffecec"/><stop offset="0.643" stop-color="#ffd0d0"/><stop offset="0.666" stop-color="#ffb5b5"/><stop offset="0.689" stop-color="#ff9e9e"/><stop offset="0.712" stop-color="#ff8a8a"/><stop offset="0.735" stop-color="#ff7c7c"/><stop offset="0.758" stop-color="#ff7373"/><stop offset="0.781" stop-color="#ff7070"/><stop offset="0.804" stop-color="#ff7373"/><stop offset="0.827" stop-color="#ff7c7c"/><stop offset="0.850" stop-color="#ff8a8a"/><stop offset="0.873" stop-color="#ff9e9e"/><stop offset="0.896" stop-color="#ffb5b5"/><stop offset="0.918" stop-color="#ffd0d0"/><stop offset="0.941" stop-color="#ffecec"/><stop offset="0.964" stop-color="#f4f4ff"/><stop offset="0.987" stop-color="#d7d7ff"/></linearGradient><linearGradient id="g41"><stop offset="0.000" stop-color="#ff8e8e"/><stop offset="0.023" stop-color="#ff7c7c"/><stop offset="0.046" stop-color="#ff6f6f"/><stop offset="0.069" stop-color="#ff6969"/><stop offset="0.092" stop-color="#ff6969"/><stop offset="0.115" stop-color="#ff6f6f"/><stop offset="0.138" stop-color="#ff7c7c"/><stop offset="0.161" stop-color="#ff8e8e"/><stop offset="0.184" stop-color="#ffa4a4"/><stop offset="0.207" stop-color="#ffbfbf"/><stop offset="0.230" stop-color="#ffdcdc"/><stop offset="0.253" stop-color="#fffbfb"/><stop offset="0.276" stop-color="#e4e4ff"/><stop offset="0.299" stop-color="#c6c6ff"/><stop offset="0.321" stop-color="#ababff"/><stop offset="0.344" stop-color="#9393ff"/><stop offset="0.367" stop-color="#8080ff"/><stop offset="0.390" stop-color="#7272ff"/><stop offset="0.413" stop-color="#6a6aff"/><stop offset="0.436" stop-color="#6868ff"/><stop offset="0.459" stop-color="#6d6dff"/><stop offset="0.482" stop-color="#7878ff"/><stop offset="0.505" stop-color="#8989ff"/><stop offset="0.528" stop-color="#9e9eff"/><stop offset="0.551" stop-color="#b8b8ff"/><stop offset="0.574" stop-color="#d4d4ff"/><stop offset="0.597" stop-color="#f3f3ff"/><stop offset="0.620" stop-color="#ffebeb"/><stop offset="0.643" stop-color="#ffcdcd"/><stop offset="0.666" stop-color="#ffb1b1"/><stop offset="0.689" stop-color="#ff9898"/><stop offset="0.712" stop-color="#ff8484"/><stop offset="0.735" stop-color="#ff7575"/><stop offset="0.758" stop-color="#ff6b6b"/><stop offset="0.781" stop-color="#ff6868"/><stop offset="0.804" stop-color="#ff6b6b"/><stop offset="0.827" stop-color="#ff7575"/><stop offset="0.850" stop-color="#ff8484"/><stop offset="0.873" stop-color="#ff9898"/><stop offset="0.896" stop-color="#ffb1b1"/><stop offset="0.918" stop-color="#ffcdcd"/><stop offset="0.941" stop-color="#ffebeb"/><stop offset="0.964" stop-color="#f3f3ff"/><stop offset="0.987" stop-color="#d4d4ff"/></linearGradient><linearGradient id="g42"><stop offset="0.000" stop-color="#ff8787"/><stop offset="0.023" stop-color="#ff7474"/><stop offset="0.046" stop-color="#ff6666"/><stop offset="0.069" stop-color="#ff6060"/><stop offset="0.092" stop-color="#ff6060"/><stop offset="0.115" stop-color="#ff6666"/><stop offset="0.138" stop-color="#ff7474"/><stop offset="0.161" stop-color="#ff8787"/><stop offset="0.184" stop-color="#ff9f9f"/><stop offset="0.207" stop-color="#ffbbbb"/><stop offset="0.230" stop-color="#ffdada"/><stop offset="0.253" stop-color="#fffafa"/><stop offset="0.276" stop-color="#e2e2ff"/><stop offset="0.299" stop-color="#c2c2ff"/><stop offset="0.321" stop-color="#a5a5ff"/><stop offset="0.344" stop-color="#8c8cff"/><stop offset="0.367" stop-color="#7878ff"/><stop offset="0.390" stop-color="#6969ff"/><stop offset="0.413" stop-color="#6161ff"/><stop offset="0.436" stop-color="#5f5fff"/><stop offset="0.459" stop-color="#6464ff"/><stop offset="0.482" stop-color="#7070ff"/><stop offset="0.505" stop-color="#8181ff"/><stop offset="0.528" stop-color="#9898ff"/><stop offset="0.551" stop-color="#b4b4ff"/><stop offset="0.574" stop-color="#d2d2ff"/><stop offset="0.597" stop-color="#f2f2ff"/><stop offset="0.620" stop-color="#ffeaea"/><stop offset="0.643" stop-color="#ffcaca"/><stop offset="0.666" stop-color="#ffacac"/><stop offset="0.689" stop-color="#ff9292"/><stop offset="0.712" stop-color="#ff7c7c"/><stop offset="0.735" stop-color="#ff6c6c"/><stop offset="0.758" stop-color="#ff6262"/><stop offset="0.781" stop-color="#ff5f5f"/><stop offset="0.804" stop-color="#ff6262"/><stop offset="0.827" stop-color="#ff6c6c"/><stop offset="0.850" stop-color="#ff7c7c"/><stop offset="0.873" stop-color="#ff9292"/><stop offset="0.896" stop-color="#ffacac"/><stop offset="0.918" stop-color="#ffcaca"/><stop offset="0.941" stop-color="#ffeaea"/><stop offset="0.964" stop-color="#f2f2ff"/><stop offset="0.987" stop-color="#d2d2ff"/></linearGradient><linearGradient id="g43"><stop offset="0.000" stop-color="#ff7f7f"/><stop offset="0.023" stop-color="#ff6b6b"/><stop offset="0.046" stop-color="#ff5d5d"/><stop offset="0.069" stop-color="#ff5555"/><stop offset="0.092" stop-color="#ff5555"/><stop offset="0.115" stop-color="#ff5d5d"/><stop offset="0.138" stop-color="#ff6b6b"/><stop offset="0.161" stop-color="#ff7f7f"/><stop offset="0.184" stop-color="#ff9898"/><stop offset="0.207" stop-color="#ffb6b6"/><stop offset="0.230" stop-color="#ffd7d7"/><stop offset="0.253" stop-color="#fffafa"/><stop offset="0.276" stop-color="#e0e0ff"/><stop offset="0.299" stop-color="#bebeff"/><stop offset="0.321" stop-color="#a0a0ff"/><stop offset="0.344" stop-color="#8585ff"/><stop offset="0.367" stop-color="#6f6fff"/><stop offset="0.390" stop-color="#5f5fff"/><stop offset="0.413" stop-color="#5757ff"/><stop offset="0.436" stop-color="#5555ff"/><stop offset="0.459" stop-color="#5a5aff"/><stop offset="0.482" stop-color="#6666ff"/><stop offset="0.505" stop-color="#7979ff"/><stop offset="0.528" stop-color="#9292ff"/><stop offset="0.551" stop-color="#afafff"/><stop offset="0.574" stop-color="#cfcfff"/><stop offset="0.597" stop-color="#f1f1ff"/><stop offset="0.620" stop-color="#ffe9e9"/><stop offset="0.643" stop-color="#ffc7c7"/><stop offset="0.666" stop-color="#ffa7a7"/><stop offset="0.689" stop-color="#ff8b8b"/><stop offset="0.712" stop-color="#ff7474"/><stop offset="0.735" stop-color="#ff6363"/><stop offset="0.758" stop-color="#ff5858"/><stop offset="0.781" stop-color="#ff5555"/><stop offset="0.804" stop-color="#ff5858"/><stop offset="0.827" stop-color="#ff6363"/><stop offset="0.850" stop-color="#ff7474"/><stop offset="0.873" stop-color="#ff8b8b"/><stop offset="0.896" stop-color="#ffa7a7"/><stop offset="0.918" stop-color="#ffc7c7"/><stop offset="0.941" stop-color="#ffe9e9"/><stop offset="0.964" stop-color="#f1f1ff"/><stop offset="0.987" stop-color="#cfcfff"/></linearGradient><linearGradient id="g44"><stop offset="0.000" stop-color="#ff7676"/><stop offset="0.023" stop-color="#ff6060"/><stop offset="0.046" stop-color="#ff5151"/><stop offset="0.069" stop-color="#ff4a4a"/><stop offset="0.092" stop-color="#ff4a4a"/><stop offset="0.115" stop-color="#ff5151"/><stop offset="0.138" stop-color="#ff6060"/><stop offset="0.161" stop-color="#ff7676"/><stop offset="0.184" stop-color="#ff9191"/><stop offset="0.207" stop-color="#ffb1b1"/><stop offset="0.230" stop-color="#ffd5d5"/><stop offset="0.253" stop-color="#fffafa"/><stop offset="0.276" stop-color="#dedeff"/><stop offset="0.299" stop-color="#babaff"/><stop offset="0.321" stop-color="#9999ff"/><stop offset="0.344" stop-color="#7c7cff"/><stop offset="0.367" stop-color="#6565ff"/><stop offset="0.390" stop-color="#5454ff"/><stop offset="0.413" stop-color="#4b4bff"/><stop offset="0.436" stop-color="#4949ff"/><stop offset="0.459" stop-color="#4f4fff"/><stop offset="0.482" stop-color="#5c5cff"/><stop offset="0.505" stop-color="#7070ff"/><stop offset="0.528" stop-color="#8a8aff"/><stop offset="0.551" stop-color="#a9a9ff"/><stop offset="0.574" stop-color="#ccccff"/><stop offset="0.597" stop-color="#f0f0ff"/><stop offset="0.620" stop-color="#ffe7e7"/><stop offset="0.643" stop-color="#ffc3c3"/><stop offset="0.666" stop-color="#ffa1a1"/><stop offset="0.689" stop-color="#ff8383"/><stop offset="0.712" stop-color="#ff6a6a"/><stop offset="0.735" stop-color="#ff5858"/><stop offset="0.758" stop-color="#ff4d4d"/><stop offset="0.781" stop-color="#ff4949"/><stop offset="0.804" stop-color="#ff4d4d"/><stop offset="0.827" stop-color="#ff5858"/><stop offset="0.850" stop-color="#ff6a6a"/><stop offset="0.873" stop-color="#ff8383"/><stop offset="0.896" stop-color="#ffa1a1"/><stop offset="0.918" stop-color="#ffc3c3"/><stop offset="0.941" stop-color="#ffe7e7"/><stop offset="0.964" stop-color="#f0f0ff"/><stop offset="0.987" stop-color="#ccccff"/></linearGradient><linearGradient id="g45"><stop offset="0.000" stop-color="#ff6c6c"/><stop offset="0.023" stop-color="#ff5555"/><stop offset="0.046" stop-color="#ff4444"/><stop offset="0.069" stop-color="#ff3c3c"/><stop offset="0.092" stop-color="#ff3c3c"/><stop offset="0.115" stop-color="#ff4444"/><stop offset="0.138" stop-color="#ff5555"/><stop offset="0.161" stop-color="#ff6c6c"/><stop offset="0.184" stop-color="#ff8989"/><stop offset="0.207" stop-color="#ffacac"/><stop offset="0.230" stop-color="#ffd2d2"/><stop offset="0.253" stop-color="#fff9f9"/><stop offset="0.276" stop-color="#dbdbff"/><stop offset="0.299" stop-color="#b5b5ff"/><stop offset="0.321" stop-color="#9191ff"/><stop offset="0.344" stop-color="#7373ff"/><stop offset="0.367" stop-color="#5a5aff"/><stop offset="0.390" stop-color="#4848ff"/><stop offset="0.413" stop-color="#3e3eff"/><stop offset="0.436" stop-color="#3b3bff"/><stop offset="0.459" stop-color="#4242ff"/><stop offset="0.482" stop-color="#5050ff"/><stop offset="0.505" stop-color="#6565ff"/><stop offset="0.528" stop-color="#8181ff"/><stop offset="0.551" stop-color="#a3a3ff"/><stop offset="0.574" stop-color="#c8c8ff"/><stop offset="0.597" stop-color="#efefff"/><stop offset="0.620" stop-color="#ffe5e5"/><stop offset="0.643" stop-color="#ffbebe"/><stop offset="0.666" stop-color="#ff9a9a"/><stop offset="0.689" stop-color="#ff7a7a"/><stop offset="0.712" stop-color="#ff5f5f"/><stop offset="0.735" stop-color="#ff4c4c"/><stop offset="0.758" stop-color="#ff3f3f"/><stop offset="0.781" stop-color="#ff3b3b"/><stop offset="0.804" stop-color="#ff3f3f"/><stop offset="0.827" stop-color="#ff4c4c"/><stop offset="0.850" stop-color="#ff5f5f"/><stop offset="0.873" stop-color="#ff7a7a"/><stop offset="0.896" stop-color="#ff9a9a"/><stop offset="0.918" stop-color="#ffbebe"/><stop offset="0.941" stop-color="#ffe5e5"/><stop offset="0.964" stop-color="#efefff"/><stop offset="0.987" stop-color="#c8c8ff"/></linearGradient><linearGradient id="g46"><stop offset="0.000" stop-color="#ff6060"/><stop offset="0.023" stop-color="#ff4747"/><stop offset="0.046" stop-color="#ff3636"/><stop offset="0.069" stop-color="#ff2d2d"/><stop offset="0.092" stop-color="#ff2d2d"/><stop offset="0.115" stop-color="#ff3636"/><stop offset="0.138" stop-color="#ff4747"/><stop offset="0.161" stop-color="#ff6060"/><stop offset="0.184" stop-color="#ff8080"/><stop offset="0.207" stop-color="#ffa5a5"/><stop offset="0.230" stop-color="#ffcece"/><stop offset="0.253" stop-color="#fff9f9"/><stop offset="0.276" stop-color="#d9d9ff"/><stop offset="0.299" stop-color="#afafff"/><stop offset="0.321" stop-color="#8989ff"/><stop offset="0.344" stop-color="#6868ff"/><stop offset="0.367" stop-color="#4d4dff"/><stop offset="0.390" stop-color="#3939ff"/><stop offset="0.413" stop-color="#2e2eff"/><stop offset="0.436" stop-color="#2c2cff"/><stop offset="0.459" stop-color="#3333ff"/><stop offset="0.482" stop-color="#4242ff"/><stop offset="0.505" stop-color="#5959ff"/><stop offset="0.528" stop-color="#7878ff"/><stop offset="0.551" stop-color="#9c9cff"/><stop offset="0.574" stop-color="#c4c4ff"/><stop offset="0.597" stop-color="#eeeeff"/><stop offset="0.620" stop-color="#ffe3e3"/><stop offset="0.643" stop-color="#ffb9b9"/><stop offset="0.666" stop-color="#ff9292"/><stop offset="0.689" stop-color="#ff6f6f"/><stop offset="0.712" stop-color="#ff5353"/><stop offset="0.735" stop-color="#ff3e3e"/><stop offset="0.758" stop-color="#ff3030"/><stop offset="0.781" stop-color="#ff2c2c"/><stop offset="0.804" stop-color="#ff3030"/><stop offset="0.827" stop-color="#ff3e3e"/><stop offset="0.850" stop-color="#ff5353"/><stop offset="0.873" stop-color="#ff6f6f"/><stop offset="0.896" stop-color="#ff9292"/><stop offset="0.918" stop-color="#ffb9b9"/><stop offset="0.941" stop-color="#ffe3e3"/><stop offset="0.964" stop-color="#eeeeff"/><stop offset="0.987" stop-color="#c4c4ff"/></linearGradient><linearGradient id="g47"><stop offset="0.000" stop-color="#d6d6ff"/><stop offset="0.023" stop-color="#8484ff"/><stop offset="0.046" stop-color="#1616ff"/><stop offset="0.069" stop-color="#0000aa"/><stop offset="0.092" stop-color="#000082"/><stop offset="0.115" stop-color="#000082"/><stop offset="0.138" stop-color="#000082"/><stop offset="0.161" stop-color="#000082"/><stop offset="0.184" stop-color="#000082"/><stop offset="0.207" stop-color="#000082"/><stop offset="0.230" stop-color="#000096"/><stop offset="0.253" stop-color="#0000cd"/><stop offset="0.276" stop-color="#1717ff"/><stop offset="0.299" stop-color="#7f7fff"/><stop offset="0.321" stop-color="#ffe4e4"/><stop offset="0.344" stop-color="#ff6565"/><stop offset="0.367" stop-color="#ff0606"/><stop offset="0.390" stop-color="#c60000"/><stop offset="0.413" stop-color="#970000"/><stop offset="0.436" stop-color="#820000"/><stop offset="0.459" stop-color="#820000"/><stop offset="0.482" stop-color="#820000"/><stop offset="0.505" stop-color="#820000"/><stop offset="0.528" stop-color="#820000"/><stop offset="0.551" stop-color="#8c0000"/><stop offset="0.574" stop-color="#b70000"/><stop offset="0.597" stop-color="#ee0000"/><stop offset="0.620" stop-color="#ff3e3e"/><stop offset="0.643" stop-color="#ffa4a4"/><stop offset="0.666" stop-color="#c3c3ff"/><stop offset="0.689" stop-color="#5858ff"/><stop offset="0.712" stop-color="#0404ff"/><stop offset="0.735" stop-color="#0000cc"/><stop offset="0.758" stop-color="#0000a3"/><stop offset="0.781" stop-color="#000086"/><stop offset="0.804" stop-color="#000082"/><stop offset="0.827" stop-color="#000082"/><stop offset="0.850" stop-color="#000082"/><stop offset="0.873" stop-color="#00008c"/><stop offset="0.896" stop-color="#0000ac"/><stop offset="0.918" stop-color="#0000d6"/><stop offset="0.941" stop-color="#1010ff"/><stop offset="0.964" stop-color="#6262ff"/><stop offset="0.987" stop-color="#c7c7ff"/></linearGradient><linearGradient id="g48"><stop offset="0.000" stop-color="#dcdcff"/><stop offset="0.023" stop-color="#9797ff"/><stop offset="0.046" stop-color="#3a3aff"/><stop offset="0.069" stop-color="#0000d7"/><stop offset="0.092" stop-color="#00009a"/><stop offset="0.115" stop-color="#000083"/><stop offset="0.138" stop-color="#000082"/><stop offset="0.161" stop-color="#000082"/><stop offset="0.184" stop-color="#000088"/><stop offset="0.207" stop-color="#0000a1"/><stop offset="0.230" stop-color="#0000c5"/><stop offset="0.253" stop-color="#0000f4"/><stop offset="0.276" stop-color="#3b3bff"/><stop offset="0.299" stop-color="#9393ff"/><stop offset="0.321" stop-color="#ffe8e8"/><stop offset="0.344" stop-color="#ff7d7d"/><stop offset="0.367" stop-color="#ff2c2c"/><stop offset="0.390" stop-color="#ee0000"/><stop offset="0.413" stop-color="#c60000"/><stop offset="0.436" stop-color="#a90000"/><stop offset="0.459" stop-color="#960000"/><stop offset="0.482" stop-color="#8f0000"/><stop offset="0.505" stop-color="#940000"/><stop offset="0.528" stop-color="#a30000"/><stop offset="0.551" stop-color="#bd0000"/><stop offset="0.574" stop-color="#e20000"/><stop offset="0.597" stop-color="#ff1515"/><stop offset="0.620" stop-color="#ff5c5c"/><stop offset="0.643" stop-color="#ffb2b2"/><stop offset="0.666" stop-color="#ccccff"/><stop offset="0.689" stop-color="#7272ff"/><stop offset="0.712" stop-color="#2b2bff"/><stop offset="0.735" stop-color="#0000f3"/><stop offset="0.758" stop-color="#0000d1"/><stop offset="0.781" stop-color="#0000b8"/><stop offset="0.804" stop-color="#0000a9"/><stop offset="0.827" stop-color="#0000a6"/><stop offset="0.850" stop-color="#0000ac"/><stop offset="0.873" stop-color="#0000bd"/><stop offset="0.896" stop-color="#0000d8"/><stop offset="0.918" stop-color="#0000fc"/><stop offset="0.941" stop-color="#3535ff"/><stop offset="0.964" stop-color="#7a7aff"/><stop offset="0.987" stop-color="#cfcfff"/></linearGradient><linearGradient id="g49"><stop offset="0.000" stop-color="#e1e1ff"/><stop offset="0.023" stop-color="#a5a5ff"/><stop offset="0.046" stop-color="#5454ff"/><stop offset="0.069" stop-color="#0000f6"/><stop offset="0.092" stop-color="#0000c0"/><stop offset="0.115" stop-color="#0000ad"/><stop offset="0.138" stop-color="#0000a3"/><stop offset="0.161" stop-color="#0000a5"/><stop offset="0.184" stop-color="#0000b1"/><stop offset="0.207" stop-color="#0000c7"/><stop offset="0.230" stop-color="#0000e6"/><stop offset="0.253" stop-color="#1515ff"/><stop offset="0.276" stop-color="#5555ff"/><stop offset="0.299" stop-color="#a1a1ff"/><stop offset="0.321" stop-color="#ffebeb"/><stop offset="0.344" stop-color="#ff8e8e"/><stop offset="0.367" stop-color="#ff4747"/><stop offset="0.390" stop-color="#ff0e0e"/><stop offset="0.413" stop-color="#e70000"/><stop offset="0.436" stop-color="#cd0000"/><stop offset="0.459" stop-color="#be0000"/><stop offset="0.482" stop-color="#b70000"/><stop offset="0.505" stop-color="#bb0000"/><stop offset="0.528" stop-color="#c90000"/><stop offset="0.551" stop-color="#df0000"/><stop offset="0.574" stop-color="#ff0000"/><stop offset="0.597" stop-color="#ff3333"/><stop offset="0.620" stop-color="#ff7171"/><stop offset="0.643" stop-color="#ffbcbc"/><stop offset="0.666" stop-color="#d3d3ff"/><stop offset="0.689" stop-color="#8484ff"/><stop offset="0.712" stop-color="#4646ff"/><stop offset="0.735" stop-color="#1414ff"/><stop offset="0.758" stop-color="#0000f0"/><stop offset="0.781" stop-color="#0000db"/><stop offset="0.804" stop-color="#0000ce"/><stop offset="0.827" stop-color="#0000cb"/><stop offset="0.850" stop-color="#0000d1"/><stop offset="0.873" stop-color="#0000df"/><stop offset="0.896" stop-color="#0000f6"/><stop offset="0.918" stop-color="#1d1dff"/><stop offset="0.941" stop-color="#4f4fff"/><stop offset="0.964" stop-color="#8b8bff"/><stop offset="0.987" stop-color="#d6d6ff"/></linearGradient><linearGradient id="g50"><stop offset="0.000" stop-color="#e4e4ff"/><stop offset="0.023" stop-color="#aeaeff"/><stop offset="0.046" stop-color="#6565ff"/><stop offset="0.069" stop-color="#1010ff"/><stop offset="0.092" stop-color="#0000db"/><stop offset="0.115" stop-color="#0000c9"/><stop offset="0.138" stop-color="#0000c1"/><stop offset="0.161" stop-color="#0000c3"/><stop offset="0.184" stop-color="#0000cd"/><stop offset="0.207" stop-color="#0000e1"/><stop offset="0.230" stop-color="#0000fd"/><stop offset="0.253" stop-color="#2d2dff"/><stop offset="0.276" stop-color="#6666ff"/><stop offset="0.299" stop-color="#ababff"/><stop offset="0.321" stop-color="#ffeded"/><stop offset="0.344" stop-color="#ff9999"/><stop offset="0.367" stop-color="#ff5a5a"/><stop offset="0.390" stop-color="#ff2727"/><stop offset="0.413" stop-color="#fe0000"/><stop offset="0.436" stop-color="#e70000"/><stop offset="0.459" stop-color="#d90000"/><stop offset="0.482" stop-color="#d30000"/><stop offset="0.505" stop-color="#d70000"/><stop offset="0.528" stop-color="#e30000"/><stop offset="0.551" stop-color="#f70000"/><stop offset="0.574" stop-color="#ff1a1a"/><stop offset="0.597" stop-color="#ff4848"/><stop offset="0.620" stop-color="#ff8080"/><stop offset="0.643" stop-color="#ffc3c3"/><stop offset="0.666" stop-color="#d7d7ff"/><stop offset="0.689" stop-color="#9191ff"/><stop offset="0.712" stop-color="#5959ff"/><stop offset="0.735" stop-color="#2c2cff"/><stop offset="0.758" stop-color="#0909ff"/><stop offset="0.781" stop-color="#0000f3"/><stop offset="0.804" stop-color="#0000e8"/><stop offset="0.827" stop-color="#0000e5"/><stop offset="0.850" stop-color="#0000ea"/><stop offset="0.873" stop-color="#0000f7"/><stop offset="0.896" stop-color="#1111ff"/><stop offset="0.918" stop-color="#3434ff"/><stop offset="0.941" stop-color="#6161ff"/><stop offset="0.964" stop-color="#9797ff"/><stop offset="0.987" stop-color="#dadaff"/></linearGradient><linearGradient id="g51"><stop offset="0.000" stop-color="#e6e6ff"/><stop offset="0.023" stop-color="#b4b4ff"/><stop offset="0.046" stop-color="#7171ff"/><stop offset="0.069" stop-color="#2323ff"/><stop offset="0.092" stop-color="#0000ee"/><stop offset="0.115" stop-color="#0000de"/><stop offset="0.138" stop-color="#0000d6"/><stop offset="0.161" stop-color="#0000d7"/><stop offset="0.184" stop-color="#0000e1"/><stop offset="0.207" stop-color="#0000f3"/><stop offset="0.230" stop-color="#1313ff"/><stop offset="0.253" stop-color="#3e3eff"/><stop offset="0.276" stop-color="#7272ff"/><stop offset="0.299" stop-color="#b1b1ff"/><stop offset="0.321" stop-color="#ffeeee"/><stop offset="0.344" stop-color="#ffa1a1"/><stop offset="0.367" stop-color="#ff6767"/><stop offset="0.390" stop-color="#ff3838"/><stop offset="0.413" stop-color="#ff1313"/><stop offset="0.436" stop-color="#f90000"/><stop offset="0.459" stop-color="#ec0000"/><stop offset="0.482" stop-color="#e70000"/><stop offset="0.505" stop-color="#ea0000"/><stop offset="0.528" stop-color="#f50000"/><stop offset="0.551" stop-color="#ff0b0b"/><stop offset="0.574" stop-color="#ff2c2c"/><stop offset="0.597" stop-color="#ff5757"/><stop offset="0.620" stop-color="#ff8a8a"/><stop offset="0.643" stop-color="#ffc8c8"/><stop offset="0.666" stop-color="#dadaff"/><stop offset="0.689" stop-color="#9999ff"/><stop offset="0.712" stop-color="#6666ff"/><stop offset="0.735" stop-color="#3d3dff"/><stop offset="0.758" stop-color="#1d1dff"/><stop offset="0.781" stop-color="#0606ff"/><stop offset="0.804" stop-color="#0000f9"/><stop offset="0.827" stop-color="#0000f7"/><stop offset="0.850" stop-color="#0000fb"/><stop offset="0.873" stop-color="#0b0bff"/><stop offset="0.896" stop-color="#2323ff"/><stop offset="0.918" stop-color="#4444ff"/><stop offset="0.941" stop-color="#6e6eff"/><stop offset="0.964" stop-color="#9f9fff"/><stop offset="0.987" stop-color="#ddddff"/></linearGradient><linearGradient id="g52"><stop offset="0.000" stop-color="#e7e7ff"/><stop offset="0.023" stop-color="#b9b9ff"/><stop offset="0.046" stop-color="#7a7aff"/><stop offset="0.069" stop-color="#3030ff"/><stop offset="0.092" stop-color="#0000fb"/><stop offset="0.115" stop-color="#0000ec"/><stop offset="0.138" stop-color="#0000e4"/><stop offset="0.161" stop-color="#0000e6"/><stop offset="0.184" stop-color="#0000ef"/><stop offset="0.207" stop-color="#0101ff"/><stop offset="0.230" stop-color="#2121ff"/><stop offset="0.253" stop-color="#4949ff"/><stop offset="0.276" stop-color="#7b7bff"/><stop offset="0.299" stop-color="#b6b6ff"/><stop offset="0.321" stop-color="#ffefef"/><stop offset="0.344" stop-color="#ffa7a7"/><stop offset="0.367" stop-color="#ff7070"/><stop offset="0.390" stop-color="#ff4444"/><stop offset="0.413" stop-color="#ff2121"/><stop offset="0.436" stop-color="#ff0808"/><stop offset="0.459" stop-color="#f90000"/><stop offset="0.482" stop-color="#f40000"/><stop offset="0.505" stop-color="#f70000"/><stop offset="0.528" stop-color="#ff0303"/><stop offset="0.551" stop-color="#ff1a1a"/><stop offset="0.574" stop-color="#ff3939"/><stop offset="0.597" stop-color="#ff6161"/><stop offset="0.620" stop-color="#ff9191"/><stop offset="0.643" stop-color="#ffcbcb"/><stop offset="0.666" stop-color="#dcdcff"/><stop offset="0.689" stop-color="#9f9fff"/><stop offset="0.712" stop-color="#6f6fff"/><stop offset="0.735" stop-color="#4848ff"/><stop offset="0.758" stop-color="#2a2aff"/><stop offset="0.781" stop-color="#1515ff"/><stop offset="0.804" stop-color="#0909ff"/><stop offset="0.827" stop-color="#0505ff"/><stop offset="0.850" stop-color="#0b0bff"/><stop offset="0.873" stop-color="#1a1aff"/><stop offset="0.896" stop-color="#3131ff"/><stop offset="0.918" stop-color="#5050ff"/><stop offset="0.941" stop-color="#7676ff"/><stop offset="0.964" stop-color="#a5a5ff"/><stop offset="0.987" stop-color="#dfdfff"/></linearGradient><linearGradient id="g53"><stop offset="0.000" stop-color="#e8e8ff"/><stop offset="0.023" stop-color="#bcbcff"/><stop offset="0.046" stop-color="#8080ff"/><stop offset="0.069" stop-color="#3939ff"/><stop offset="0.092" stop-color="#0606ff"/><stop offset="0.115" stop-color="#0000f5"/><stop offset="0.138" stop-color="#0000ee"/><stop offset="0.161" stop-color="#0000f0"/><stop offset="0.184" stop-color="#0000f8"/><stop offset="0.207" stop-color="#0d0dff"/><stop offset="0.230" stop-color="#2b2bff"/><stop offset="0.253" stop-color="#5151ff"/><stop offset="0.276" stop-color="#8080ff"/><stop offset="0.299" stop-color="#b9b9ff"/><stop offset="0.321" stop-color="#fff0f0"/><stop offset="0.344" stop-color="#ffabab"/><stop offset="0.367" stop-color="#ff7777"/><stop offset="0.390" stop-color="#ff4c4c"/><stop offset="0.413" stop-color="#ff2b2b"/><stop offset="0.436" stop-color="#ff1313"/><stop offset="0.459" stop-color="#ff0404"/><stop offset="0.482" stop-color="#fd0000"/><stop offset="0.505" stop-color="#ff0202"/><stop offset="0.528" stop-color="#ff0e0e"/><stop offset="0.551" stop-color="#ff2424"/><stop offset="0.574" stop-color="#ff4242"/><stop offset="0.597" stop-color="#ff6868"/><stop offset="0.620" stop-color="#ff9696"/><stop offset="0.643" stop-color="#ffcdcd"/><stop offset="0.666" stop-color="#dedeff"/><stop offset="0.689" stop-color="#a4a4ff"/><stop offset="0.712" stop-color="#7676ff"/><stop offset="0.735" stop-color="#5151ff"/><stop offset="0.758" stop-color="#3434ff"/><stop offset="0.781" stop-color="#1f1fff"/><stop offset="0.804" stop-color="#1313ff"/><stop offset="0.827" stop-color="#1010ff"/><stop offset="0.850" stop-color="#1616ff"/><stop offset="0.873" stop-color="#2424ff"/><stop offset="0.896" stop-color="#3a3aff"/><stop offset="0.918" stop-color="#5757ff"/><stop offset="0.941" stop-color="#7c7cff"/><stop offset="0.964" stop-color="#a9a9ff"/><stop offset="0.987" stop-color="#e0e0ff"/></linearGradient><linearGradient id="g54"><stop offset="0.000" stop-color="#e9e9ff"/><stop offset="0.023" stop-color="#bebeff"/><stop offset="0.046" stop-color="#8484ff"/><stop offset="0.069" stop-color="#3f3fff"/><stop offset="0.092" stop-color="#0e0eff"/><stop offset="0.115" stop-color="#0000fc"/><stop offset="0.138" stop-color="#0000f5"/><stop offset="0.161" stop-color="#0000f6"/><stop offset="0.184" stop-color="#0000ff"/><stop offset="0.207" stop-color="#1414ff"/><stop offset="0.230" stop-color="#3131ff"/><stop offset="0.253" stop-color="#5757ff"/><stop offset="0.276" stop-color="#8484ff"/><stop offset="0.299" stop-color="#bbbbff"/><stop offset="0.321" stop-color="#fff0f0"/><stop offset="0.344" stop-color="#ffadad"/><stop offset="0.367" stop-color="#ff7b7b"/><stop offset="0.390" stop-color="#ff5252"/><stop offset="0.413" stop-color="#ff3232"/><stop offset="0.436" stop-color="#ff1a1a"/><stop offset="0.459" stop-color="#ff0c0c"/><stop offset="0.482" stop-color="#ff0606"/><stop offset="0.505" stop-color="#ff0a0a"/><stop offset="0.528" stop-color="#ff1616"/><stop offset="0.551" stop-color="#ff2b2b"/><stop offset="0.574" stop-color="#ff4848"/><stop offset="0.597" stop-color="#ff6d6d"/><stop offset="0.620" stop-color="#ff9999"/><stop offset="0.643" stop-color="#ffcfcf"/><stop offset="0.666" stop-color="#dfdfff"/><stop offset="0.689" stop-color="#a7a7ff"/><stop offset="0.712" stop-color="#7a7aff"/><stop offset="0.735" stop-color="#5656ff"/><stop offset="0.758" stop-color="#3a3aff"/><stop offset="0.781" stop-color="#2626ff"/><stop offset="0.804" stop-color="#1b1bff"/><stop offset="0.827" stop-color="#1818ff"/><stop offset="0.850" stop-color="#1d1dff"/><stop offset="0.873" stop-color="#2b2bff"/><stop offset="0.896" stop-color="#4040ff"/><stop offset="0.918" stop-color="#5d5dff"/><stop offset="0.941" stop-color="#8181ff"/><stop offset="0.964" stop-color="#acacff"/><stop offset="0.987" stop-color="#e1e1ff"/></linearGradient><linearGradient id="g55"><stop offset="0.000" stop-color="#eaeaff"/><stop offset="0.023" stop-color="#c0c0ff"/><stop offset="0.046" stop-color="#8787ff"/><stop offset="0.069" stop-color="#4444ff"/><stop offset="0.092" stop-color="#1414ff"/><stop offset="0.115" stop-color="#0202ff"/><stop offset="0.138" stop-color="#0000fa"/><stop offset="0.161" stop-color="#0000fb"/><stop offset="0.184" stop-color="#0606ff"/><stop offset="0.207" stop-color="#1a1aff"/><stop offset="0.230" stop-color="#3636ff"/><stop offset="0.253" stop-color="#5b5bff"/><stop offset="0.276" stop-color="#8787ff"/><stop offset="0.299" stop-color="#bdbdff"/><stop offset="0.321" stop-color="#fff1f1"/><stop offset="0.344" stop-color="#ffafaf"/><stop offset="0.367" stop-color="#ff7e7e"/><stop offset="0.390" stop-color="#ff5656"/><stop offset="0.413" stop-color="#ff3737"/><stop offset="0.436" stop-color="#ff2020"/><stop offset="0.459" stop-color="#ff1111"/><stop offset="0.482" stop-color="#ff0c0c"/><stop offset="0.505" stop-color="#ff0f0f"/><stop offset="0.528" stop-color="#ff1c1c"/><stop offset="0.551" stop-color="#ff3030"/><stop offset="0.574" stop-color="#ff4c4c"/><stop offset="0.597" stop-color="#ff7070"/><stop offset="0.620" stop-color="#ff9b9b"/><stop offset="0.643" stop-color="#ffd0d0"/><stop offset="0.666" stop-color="#e0e0ff"/><stop offset="0.689" stop-color="#a9a9ff"/><stop offset="0.712" stop-color="#7d7dff"/><stop offset="0.735" stop-color="#5a5aff"/><stop offset="0.758" stop-color="#3f3fff"/><stop offset="0.781" stop-color="#2b2bff"/><stop offset="0.804" stop-color="#2020ff"/><stop offset="0.827" stop-color="#1d1dff"/><stop offset="0.850" stop-color="#2323ff"/><stop offset="0.873" stop-color="#3030ff"/><stop offset="0.896" stop-color="#4444ff"/><stop offset="0.918" stop-color="#6161ff"/><stop offset="0.941" stop-color="#8484ff"/><stop offset="0.964" stop-color="#aeaeff"/><stop offset="0.987" stop-color="#e2e2ff"/></linearGradient><linearGradient id="g56"><stop offset="0.000" stop-color="#eaeaff"/><stop offset="0.023" stop-color="#c1c1ff"/><stop offset="0.046" stop-color="#8989ff"/><stop offset="0.069" stop-color="#4747ff"/><stop offset="0.092" stop-color="#1818ff"/><stop offset="0.115" stop-color="#0606ff"/><stop offset="0.138" stop-color="#0000fe"/><stop offset="0.161" stop-color="#0000ff"/><stop offset="0.184" stop-color="#0a0aff"/><stop offset="0.207" stop-color="#1e1eff"/><stop offset="0.230" stop-color="#3939ff"/><stop offset="0.253" stop-color="#5d5dff"/><stop offset="0.276" stop-color="#8989ff"/><stop offset="0.299" stop-color="#bebeff"/><stop offset="0.321" stop-color="#fff1f1"/><stop offset="0.344" stop-color="#ffb1b1"/><stop offset="0.367" stop-color="#ff8080"/><stop offset="0.390" stop-color="#ff5959"/><stop offset="0.413" stop-color="#ff3a3a"/><stop offset="0.436" stop-color="#ff2323"/><stop offset="0.459" stop-color="#ff1515"/><stop offset="0.482" stop-color="#ff1010"/><stop offset="0.505" stop-color="#ff1313"/><stop offset="0.528" stop-color="#ff1f1f"/><stop offset="0.551" stop-color="#ff3333"/><stop offset="0.574" stop-color="#ff4f4f"/><stop offset="0.597" stop-color="#ff7272"/><stop offset="0.620" stop-color="#ff9d9d"/><stop offset="0.643" stop-color="#ffd1d1"/><stop offset="0.666" stop-color="#e0e0ff"/><stop offset="0.689" stop-color="#aaaaff"/><stop offset="0.712" stop-color="#7f7fff"/><stop offset="0.735" stop-color="#5d5dff"/><stop offset="0.758" stop-color="#4242ff"/><stop offset="0.781" stop-color="#2f2fff"/><stop offset="0.804" stop-color="#2424ff"/><stop offset="0.827" stop-color="#2121ff"/><stop offset="0.850" stop-color="#2626ff"/><stop offset="0.873" stop-color="#3333ff"/><stop offset="0.896" stop-color="#4848ff"/><stop offset="0.918" stop-color="#6363ff"/><stop offset="0.941" stop-color="#8686ff"/><stop offset="0.964" stop-color="#afafff"/><stop offset="0.987" stop-color="#e2e2ff"/></linearGradient><linearGradient id="g57"><stop offset="0.000" stop-color="#eaeaff"/><stop offset="0.023" stop-color="#c1c1ff"/><stop offset="0.046" stop-color="#8a8aff"/><stop offset="0.069" stop-color="#4949ff"/><stop offset="0.092" stop-color="#1b1bff"/><stop offset="0.115" stop-color="#0909ff"/><stop offset="0.138" stop-color="#0101ff"/><stop offset="0.161" stop-color="#0303ff"/><stop offset="0.184" stop-color="#0d0dff"/><stop offset="0.207" stop-color="#2020ff"/><stop offset="0.230" stop-color="#3c3cff"/><stop offset="0.253" stop-color="#5f5fff"/><stop offset="0.276" stop-color="#8b8bff"/><stop offset="0.299" stop-color="#bfbfff"/><stop offset="0.321" stop-color="#fff1f1"/><stop offset="0.344" stop-color="#ffb2b2"/><stop offset="0.367" stop-color="#ff8282"/><stop offset="0.390" stop-color="#ff5b5b"/><stop offset="0.413" stop-color="#ff3c3c"/><stop offset="0.436" stop-color="#ff2626"/><stop offset="0.459" stop-color="#ff1818"/><stop offset="0.482" stop-color="#ff1313"/><stop offset="0.505" stop-color="#ff1616"/><stop offset="0.528" stop-color="#ff2222"/><stop offset="0.551" stop-color="#ff3636"/><stop offset="0.574" stop-color="#ff5151"/><stop offset="0.597" stop-color="#ff7474"/><stop offset="0.620" stop-color="#ff9e9e"/><stop offset="0.643" stop-color="#ffd1d1"/><stop offset="0.666" stop-color="#e1e1ff"/><stop offset="0.689" stop-color="#ababff"/><stop offset="0.712" stop-color="#8181ff"/><stop offset="0.735" stop-color="#5f5fff"/><stop offset="0.758" stop-color="#4444ff"/><stop offset="0.781" stop-color="#3131ff"/><stop offset="0.804" stop-color="#2727ff"/><stop offset="0.827" stop-color="#2424ff"/><stop offset="0.850" stop-color="#2929ff"/><stop offset="0.873" stop-color="#3535ff"/><stop offset="0.896" stop-color="#4a4aff"/><stop offset="0.918" stop-color="#6565ff"/><stop offset="0.941" stop-color="#8787ff"/><stop offset="0.964" stop-color="#b0b0ff"/><stop offset="0.987" stop-color="#e3e3ff"/></linearGradient><linearGradient id="g58"><stop offset="0.000" stop-color="#eaeaff"/><stop offset="0.023" stop-color="#c2c2ff"/><stop offset="0.046" stop-color="#8b8bff"/><stop offset="0.069" stop-color="#4a4aff"/><stop offset="0.092" stop-color="#1c1cff"/><stop offset="0.115" stop-color="#0b0bff"/><stop offset="0.138" stop-color="#0303ff"/><stop offset="0.161" stop-color="#0505ff"/><stop offset="0.184" stop-color="#0f0fff"/><stop offset="0.207" stop-color="#2222ff"/><stop offset="0.230" stop-color="#3d3dff"/><stop offset="0.253" stop-color="#6161ff"/><stop offset="0.276" stop-color="#8c8cff"/><stop offset="0.299" stop-color="#bfbfff"/><stop offset="0.321" stop-color="#fff1f1"/><stop offset="0.344" stop-color="#ffb2b2"/><stop offset="0.367" stop-color="#ff8383"/><stop offset="0.390" stop-color="#ff5c5c"/><stop offset="0.413" stop-color="#ff3e3e"/><stop offset="0.436" stop-color="#ff2828"/><stop offset="0.459" stop-color="#ff1a1a"/><stop offset="0.482" stop-color="#ff1515"/><stop offset="0.505" stop-color="#ff1818"/><stop offset="0.528" stop-color="#ff2424"/><stop offset="0.551" stop-color="#ff3737"/><stop offset="0.574" stop-color="#ff5353"/><stop offset="0.597" stop-color="#ff7575"/><stop offset="0.620" stop-color="#ff9f9f"/><stop offset="0.643" stop-color="#ffd2d2"/><stop offset="0.666" stop-color="#e1e1ff"/><stop offset="0.689" stop-color="#acacff"/><stop offset="0.712" stop-color="#8282ff"/><stop offset="0.735" stop-color="#6060ff"/><stop offset="0.758" stop-color="#4646ff"/><stop offset="0.781" stop-color="#3333ff"/><stop offset="0.804" stop-color="#2828ff"/><stop offset="0.827" stop-color="#2525ff"/><stop offset="0.850" stop-color="#2a2aff"/><stop offset="0.873" stop-color="#3737ff"/><stop offset="0.896" stop-color="#4b4bff"/><stop offset="0.918" stop-color="#6666ff"/><stop offset="0.941" stop-color="#8888ff"/><stop offset="0.964" stop-color="#b1b1ff"/><stop offset="0.987" stop-color="#e3e3ff"/></linearGradient><linearGradient id="g59"><stop offset="0.000" stop-color="#eaeaff"/><stop offset="0.023" stop-color="#c2c2ff"/><stop offset="0.046" stop-color="#8c8cff"/><stop offset="0.069" stop-color="#4b4bff"/><stop offset="0.092" stop-color="#1e1eff"/><stop offset="0.115" stop-color="#0d0dff"/><stop offset="0.138" stop-color="#0505ff"/><stop offset="0.161" stop-color="#0606ff"/><stop offset="0.184" stop-color="#1010ff"/><stop offset="0.207" stop-color="#2323ff"/><stop offset="0.230" stop-color="#3e3eff"/><stop offset="0.253" stop-color="#6161ff"/><stop offset="0.276" stop-color="#8c8cff"/><stop offset="0.299" stop-color="#c0c0ff"/><stop offset="0.321" stop-color="#fff1f1"/><stop offset="0.344" stop-color="#ffb3b3"/><stop offset="0.367" stop-color="#ff8383"/><stop offset="0.390" stop-color="#ff5d5d"/><stop offset="0.413" stop-color="#ff3f3f"/><stop offset="0.436" stop-color="#ff2929"/><stop offset="0.459" stop-color="#ff1b1b"/><stop offset="0.482" stop-color="#ff1616"/><stop offset="0.505" stop-color="#ff1919"/><stop offset="0.528" stop-color="#ff2525"/><stop offset="0.551" stop-color="#ff3838"/><stop offset="0.574" stop-color="#ff5454"/><stop offset="0.597" stop-color="#ff7676"/><stop offset="0.620" stop-color="#ff9f9f"/><stop offset="0.643" stop-color="#ffd2d2"/><stop offset="0.666" stop-color="#e1e1ff"/><stop offset="0.689" stop-color="#acacff"/><stop offset="0.712" stop-color="#8383ff"/><stop offset="0.735" stop-color="#6161ff"/><stop offset="0.758" stop-color="#4747ff"/><stop offset="0.781" stop-color="#3434ff"/><stop offset="0.804" stop-color="#2a2aff"/><stop offset="0.827" stop-color="#2727ff"/><stop offset="0.850" stop-color="#2c2cff"/><stop offset="0.873" stop-color="#3838ff"/><stop offset="0.896" stop-color="#4c4cff"/><stop offset="0.918" stop-color="#6767ff"/><stop offset="0.941" stop-color="#8989ff"/><stop offset="0.964" stop-color="#b1b1ff"/><stop offset="0.987" stop-color="#e3e3ff"/></linearGradient><linearGradient id="g60"><stop offset="0.000" stop-color="#eaeaff"/><stop offset="0.023" stop-color="#c2c2ff"/><stop offset="0.046" stop-color="#8c8cff"/><stop offset="0.069" stop-color="#4c4cff"/><stop offset="0.092" stop-color="#1f1fff"/><stop offset="0.115" stop-color="#0e0eff"/><stop offset="0.138" stop-color="#0606ff"/><stop offset="0.161" stop-color="#0707ff"/><stop offset="0.184" stop-color="#1111ff"/><stop offset="0.207" stop-color="#2424ff"/><stop offset="0.230" stop-color="#3f3fff"/><stop offset="0.253" stop-color="#6262ff"/><stop offset="0.276" stop-color="#8d8dff"/><stop offset="0.299" stop-color="#c0c0ff"/><stop offset="0.321" stop-color="#fff1f1"/><stop offset="0.344" stop-color="#ffb3b3"/><stop offset="0.367" stop-color="#ff8484"/><stop offset="0.390" stop-color="#ff5e5e"/><stop offset="0.413" stop-color="#ff4040"/><stop offset="0.436" stop-color="#ff2a2a"/><stop offset="0.459" stop-color="#ff1c1c"/><stop offset="0.482" stop-color="#ff1717"/><stop offset="0.505" stop-color="#ff1a1a"/><stop offset="0.528" stop-color="#ff2626"/><stop offset="0.551" stop-color="#ff3939"/><stop offset="0.574" stop-color="#ff5454"/><stop offset="0.597" stop-color="#ff7676"/><stop offset="0.620" stop-color="#ffa0a0"/><stop offset="0.643" stop-color="#ffd2d2"/><stop offset="0.666" stop-color="#e1e1ff"/><stop offset="0.689" stop-color="#adadff"/><stop offset="0.712" stop-color="#8383ff"/><stop offset="0.735" stop-color="#6161ff"/><stop offset="0.758" stop-color="#4747ff"/><stop offset="0.781" stop-color="#3535ff"/><stop offset="0.804" stop-color="#2a2aff"/><stop offset="0.827" stop-color="#2828ff"/><stop offset="0.850" stop-color="#2c2cff"/><stop offset="0.873" stop-color="#3939ff"/><stop offset="0.896" stop-color="#4d4dff"/><stop offset="0.918" stop-color="#6868ff"/><stop offset="0.941" stop-color="#8989ff"/><stop offset="0.964" stop-color="#b1b1ff"/><stop offset="0.987" stop-color="#e3e3ff"/></linearGradient><linearGradient id="g61"><stop offset="0.000" stop-color="#ebebff"/><stop offset="0.023" stop-color="#c3c3ff"/><stop offset="0.046" stop-color="#8c8cff"/><stop offset="0.069" stop-color="#4d4dff"/><stop offset="0.092" stop-color="#1f1fff"/><stop offset="0.115" stop-color="#0e0eff"/><stop offset="0.138" stop-color="#0707ff"/><stop offset="0.161" stop-color="#0808ff"/><stop offset="0.184" stop-color="#1212ff"/><stop offset="0.207" stop-color="#2525ff"/><stop offset="0.230" stop-color="#4040ff"/><stop offset="0.253" stop-color="#6363ff"/><stop offset="0.276" stop-color="#8d8dff"/><stop offset="0.299" stop-color="#c0c0ff"/><stop offset="0.321" stop-color="#fff1f1"/><stop offset="0.344" stop-color="#ffb3b3"/><stop offset="0.367" stop-color="#ff8484"/><stop offset="0.390" stop-color="#ff5e5e"/><stop offset="0.413" stop-color="#ff4040"/><stop offset="0.436" stop-color="#ff2a2a"/><stop offset="0.459" stop-color="#ff1d1d"/><stop offset="0.482" stop-color="#ff1818"/><stop offset="0.505" stop-color="#ff1b1b"/><stop offset="0.528" stop-color="#ff2626"/><stop offset="0.551" stop-color="#ff3a3a"/><stop offset="0.574" stop-color="#ff5555"/><stop offset="0.597" stop-color="#ff7777"/><stop offset="0.620" stop-color="#ffa0a0"/><stop offset="0.643" stop-color="#ffd2d2"/><stop offset="0.666" stop-color="#e1e1ff"/><stop offset="0.689" stop-color="#adadff"/><stop offset="0.712" stop-color="#8383ff"/><stop offset="0.735" stop-color="#6262ff"/><stop offset="0.758" stop-color="#4848ff"/><stop offset="0.781" stop-color="#3636ff"/><stop offset="0.804" stop-color="#2b2bff"/><stop offset="0.827" stop-color="#2828ff"/><stop offset="0.850" stop-color="#2d2dff"/><stop offset="0.873" stop-color="#3a3aff"/><stop offset="0.896" stop-color="#4d4dff"/><stop offset="0.918" stop-color="#6868ff"/><stop offset="0.941" stop-color="#8989ff"/><stop offset="0.964" stop-color="#b2b2ff"/><stop offset="0.987" stop-color="#e3e3ff"/></linearGradient><linearGradient id="g62"><stop offset="0.000" stop-color="#ff5050"/><stop offset="0.023" stop-color="#ff2d2d"/><stop offset="0.046" stop-color="#ff1e1e"/><stop offset="0.069" stop-color="#ff2121"/><stop offset="0.092" stop-color="#ff3434"/><stop offset="0.115" stop-color="#ff5252"/><stop offset="0.138" stop-color="#ff7777"/><stop offset="0.161" stop-color="#ff9e9e"/><stop offset="0.184" stop-color="#ffc7c7"/><stop offset="0.207" stop-color="#fff1f1"/><stop offset="0.230" stop-color="#dedeff"/><stop offset="0.253" stop-color="#cbcbff"/><stop offset="0.276" stop-color="#c0c0ff"/><stop offset="0.299" stop-color="#bbbbff"/><stop offset="0.321" stop-color="#bbbbff"/><stop offset="0.344" stop-color="#bebeff"/><stop offset="0.367" stop-color="#c4c4ff"/><stop offset="0.390" stop-color="#ccccff"/><stop offset="0.413" stop-color="#d7d7ff"/><stop offset="0.436" stop-color="#e3e3ff"/><stop offset="0.459" stop-color="#f1f1ff"/><stop offset="0.482" stop-color="#fff8f8"/><stop offset="0.505" stop-color="#ffebeb"/><stop offset="0.528" stop-color="#ffe3e3"/><stop offset="0.551" stop-color="#ffdede"/><stop offset="0.574" stop-color="#ffdcdc"/><stop offset="0.597" stop-color="#ffdcdc"/><stop offset="0.620" stop-color="#ffdede"/><stop offset="0.643" stop-color="#ffe1e1"/><stop offset="0.666" stop-color="#ffe6e6"/><stop offset="0.689" stop-color="#ffecec"/><stop offset="0.712" stop-color="#fff3f3"/><stop offset="0.735" stop-color="#fffcfc"/><stop offset="0.758" stop-color="#f7f7ff"/><stop offset="0.781" stop-color="#f2f2ff"/><stop offset="0.804" stop-color="#eeeeff"/><stop offset="0.827" stop-color="#ececff"/><stop offset="0.850" stop-color="#ececff"/><stop offset="0.873" stop-color="#ececff"/><stop offset="0.896" stop-color="#eeeeff"/><stop offset="0.918" stop-color="#f0f0ff"/><stop offset="0.941" stop-color="#f3f3ff"/><stop offset="0.964" stop-color="#f6f6ff"/><stop offset="0.987" stop-color="#fafaff"/></linearGradient><linearGradient id="g63"><stop offset="0.000" stop-color="#ff4848"/><stop offset="0.023" stop-color="#ff2626"/><stop offset="0.046" stop-color="#ff1717"/><stop offset="0.069" stop-color="#ff1c1c"/><stop offset="0.092" stop-color="#ff3030"/><stop offset="0.115" stop-color="#ff4f4f"/><stop offset="0.138" stop-color="#ff7676"/><stop offset="0.161" stop-color="#ff9f9f"/><stop offset="0.184" stop-color="#ffc8c8"/><stop offset="0.207" stop-color="#fff5f5"/><stop offset="0.230" stop-color="#dbdbff"/><stop offset="0.253" stop-color="#c8c8ff"/><stop offset="0.276" stop-color="#bebeff"/><stop offset="0.299" stop-color="#b9b9ff"/><stop offset="0.321" stop-color="#b9b9ff"/><stop offset="0.344" stop-color="#bdbdff"/><stop offset="0.367" stop-color="#c3c3ff"/><stop offset="0.390" stop-color="#ccccff"/><stop offset="0.413" stop-color="#d7d7ff"/><stop offset="0.436" stop-color="#e3e3ff"/><stop offset="0.459" stop-color="#f2f2ff"/><stop offset="0.482" stop-color="#fff6f6"/><stop offset="0.505" stop-color="#ffeaea"/><stop offset="0.528" stop-color="#ffe2e2"/><stop offset="0.551" stop-color="#ffdede"/><stop offset="0.574" stop-color="#ffdbdb"/><stop offset="0.597" stop-color="#ffdbdb"/><stop offset="0.620" stop-color="#ffdede"/><stop offset="0.643" stop-color="#ffe1e1"/><stop offset="0.666" stop-color="#ffe6e6"/><stop offset="0.689" stop-color="#ffecec"/><stop offset="0.712" stop-color="#fff3f3"/><stop offset="0.735" stop-color="#fffcfc"/><stop offset="0.758" stop-color="#f6f6ff"/><stop offset="0.781" stop-color="#f1f1ff"/><stop offset="0.804" stop-color="#eeeeff"/><stop offset="0.827" stop-color="#ececff"/><stop offset="0.850" stop-color="#ebebff"/><stop offset="0.873" stop-color="#ececff"/><stop offset="0.896" stop-color="#eeeeff"/><stop offset="0.918" stop-color="#f0f0ff"/><stop offset="0.941" stop-color="#f3f3ff"/><stop offset="0.964" stop-color="#f7f7ff"/><stop offset="0.987" stop-color="#fbfbff"/></linearGradient><linearGradient id="g64"><stop offset="0.000" stop-color="#ff3f3f"/><stop offset="0.023" stop-color="#ff1d1d"/><stop offset="0.046" stop-color="#ff0f0f"/><stop offset="0.069" stop-color="#ff1515"/><stop offset="0.092" stop-color="#ff2b2b"/><stop offset="0.115" stop-color="#ff4c4c"/><stop offset="0.138" stop-color="#ff7474"/><stop offset="0.161" stop-color="#ff9f9f"/><stop offset="0.184" stop-color="#ffcaca"/><stop offset="0.207" stop-color="#fffafa"/><stop offset="0.230" stop-color="#d8d8ff"/><stop offset="0.253" stop-color="#c6c6ff"/><stop offset="0.276" stop-color="#bcbcff"/><stop offset="0.299" stop-color="#b8b8ff"/><stop offset="0.321" stop-color="#b8b8ff"/><stop offset="0.344" stop-color="#bcbcff"/><stop offset="0.367" stop-color="#c3c3ff"/><stop offset="0.390" stop-color="#ccccff"/><stop offset="0.413" stop-color="#d7d7ff"/><stop offset="0.436" stop-color="#e4e4ff"/><stop offset="0.459" stop-color="#f3f3ff"/><stop offset="0.482" stop-color="#fff5f5"/><stop offset="0.505" stop-color="#ffe9e9"/><stop offset="0.528" stop-color="#ffe1e1"/><stop offset="0.551" stop-color="#ffdddd"/><stop offset="0.574" stop-color="#ffdbdb"/><stop offset="0.597" stop-color="#ffdbdb"/><stop offset="0.620" stop-color="#ffdddd"/><stop offset="0.643" stop-color="#ffe1e1"/><stop offset="0.666" stop-color="#ffe6e6"/><stop offset="0.689" stop-color="#ffeded"/><stop offset="0.712" stop-color="#fff4f4"/><stop offset="0.735" stop-color="#fffdfd"/><stop offset="0.758" stop-color="#f6f6ff"/><stop offset="0.781" stop-color="#f1f1ff"/><stop offset="0.804" stop-color="#ededff"/><stop offset="0.827" stop-color="#ebebff"/><stop offset="0.850" stop-color="#ebebff"/><stop offset="0.873" stop-color="#ececff"/><stop offset="0.896" stop-color="#ededff"/><stop offset="0.918" stop-color="#f0f0ff"/><stop offset="0.941" stop-color="#f3f3ff"/><stop offset="0.964" stop-color="#f7f7ff"/><stop offset="0.987" stop-color="#fbfbff"/></linearGradient><linearGradient id="g65"><stop offset="0.000" stop-color="#ff3333"/><stop offset="0.023" stop-color="#ff1111"/><stop offset="0.046" stop-color="#ff0404"/><stop offset="0.069" stop-color="#ff0c0c"/><stop offset="0.092" stop-color="#ff2424"/><stop offset="0.115" stop-color="#ff4747"/><stop offset="0.138" stop-color="#ff7272"/><stop offset="0.161" stop-color="#ff9e9e"/><stop offset="0.184" stop-color="#ffcbcb"/><stop offset="0.207" stop-color="#fbfbff"/><stop offset="0.230" stop-color="#d5d5ff"/><stop offset="0.253" stop-color="#c3c3ff"/><stop offset="0.276" stop-color="#b9b9ff"/><stop offset="0.299" stop-color="#b6b6ff"/><stop offset="0.321" stop-color="#b7b7ff"/><stop offset="0.344" stop-color="#bbbbff"/><stop offset="0.367" stop-color="#c2c2ff"/><stop offset="0.390" stop-color="#ccccff"/><stop offset="0.413" stop-color="#d7d7ff"/><stop offset="0.436" stop-color="#e4e4ff"/><stop offset="0.459" stop-color="#f4f4ff"/><stop offset="0.482" stop-color="#fff3f3"/><stop offset="0.505" stop-color="#ffe8e8"/><stop offset="0.528" stop-color="#ffe0e0"/><stop offset="0.551" stop-color="#ffdcdc"/><stop offset="0.574" stop-color="#ffdada"/><stop offset="0.597" stop-color="#ffdada"/><stop offset="0.620" stop-color="#ffdddd"/><stop offset="0.643" stop-color="#ffe1e1"/><stop offset="0.666" stop-color="#ffe6e6"/><stop offset="0.689" stop-color="#ffeded"/><stop offset="0.712" stop-color="#fff4f4"/><stop offset="0.735" stop-color="#fefeff"/><stop offset="0.758" stop-color="#f5f5ff"/><stop offset="0.781" stop-color="#f0f0ff"/><stop offset="0.804" stop-color="#ededff"/><stop offset="0.827" stop-color="#ebebff"/><stop offset="0.850" stop-color="#ebebff"/><stop offset="0.873" stop-color="#ebebff"/><stop offset="0.896" stop-color="#ededff"/><stop offset="0.918" stop-color="#f0f0ff"/><stop offset="0.941" stop-color="#f3f3ff"/><stop offset="0.964" stop-color="#f7f7ff"/><stop offset="0.987" stop-color="#fbfbff"/></linearGradient><linearGradient id="g66"><stop offset="0.000" stop-color="#ff2424"/><stop offset="0.023" stop-color="#ff0202"/><stop offset="0.046" stop-color="#f70000"/><stop offset="0.069" stop-color="#fe0000"/><stop offset="0.092" stop-color="#ff1919"/><stop offset="0.115" stop-color="#ff4040"/><stop offset="0.138" stop-color="#ff6d6d"/><stop offset="0.161" stop-color="#ff9d9d"/><stop offset="0.184" stop-color="#ffcdcd"/><stop offset="0.207" stop-color="#f6f6ff"/><stop offset="0.230" stop-color="#d1d1ff"/><stop offset="0.253" stop-color="#bfbfff"/><stop offset="0.276" stop-color="#b7b7ff"/><stop offset="0.299" stop-color="#b4b4ff"/><stop offset="0.321" stop-color="#b5b5ff"/><stop offset="0.344" stop-color="#babaff"/><stop offset="0.367" stop-color="#c2c2ff"/><stop offset="0.390" stop-color="#ccccff"/><stop offset="0.413" stop-color="#d7d7ff"/><stop offset="0.436" stop-color="#e5e5ff"/><stop offset="0.459" stop-color="#f5f5ff"/><stop offset="0.482" stop-color="#fff2f2"/><stop offset="0.505" stop-color="#ffe7e7"/><stop offset="0.528" stop-color="#ffdfdf"/><stop offset="0.551" stop-color="#ffdbdb"/><stop offset="0.574" stop-color="#ffd9d9"/><stop offset="0.597" stop-color="#ffdada"/><stop offset="0.620" stop-color="#ffdcdc"/><stop offset="0.643" stop-color="#ffe1e1"/><stop offset="0.666" stop-color="#ffe6e6"/><stop offset="0.689" stop-color="#ffeded"/><stop offset="0.712" stop-color="#fff5f5"/><stop offset="0.735" stop-color="#fdfdff"/><stop offset="0.758" stop-color="#f4f4ff"/><stop offset="0.781" stop-color="#efefff"/><stop offset="0.804" stop-color="#ececff"/><stop offset="0.827" stop-color="#ebebff"/><stop offset="0.850" stop-color="#eaeaff"/><stop offset="0.873" stop-color="#ebebff"/><stop offset="0.896" stop-color="#ededff"/><stop offset="0.918" stop-color="#f0f0ff"/><stop offset="0.941" stop-color="#f3f3ff"/><stop offset="0.964" stop-color="#f7f7ff"/><stop offset="0.987" stop-color="#fcfcff"/></linearGradient><linearGradient id="g67"><stop offset="0.000" stop-color="#ff1212"/><stop offset="0.023" stop-color="#f10000"/><stop offset="0.046" stop-color="#e80000"/><stop offset="0.069" stop-color="#f10000"/><stop offset="0.092" stop-color="#ff0c0c"/><stop offset="0.115" stop-color="#ff3636"/><stop offset="0.138" stop-color="#ff6767"/><stop offset="0.161" stop-color="#ff9b9b"/><stop offset="0.184" stop-color="#ffcece"/><stop offset="0.207" stop-color="#f0f0ff"/><stop offset="0.230" stop-color="#cdcdff"/><stop offset="0.253" stop-color="#bcbcff"/><stop offset="0.276" stop-color="#b3b3ff"/><stop offset="0.299" stop-color="#b1b1ff"/><stop offset="0.321" stop-color="#b3b3ff"/><stop offset="0.344" stop-color="#b9b9ff"/><stop offset="0.367" stop-color="#c1c1ff"/><stop offset="0.390" stop-color="#cbcbff"/><stop offset="0.413" stop-color="#d8d8ff"/><stop offset="0.436" stop-color="#e6e6ff"/><stop offset="0.459" stop-color="#f6f6ff"/><stop offset="0.482" stop-color="#fff1f1"/><stop offset="0.505" stop-color="#ffe5e5"/><stop offset="0.528" stop-color="#ffdede"/><stop offset="0.551" stop-color="#ffdada"/><stop offset="0.574" stop-color="#ffd8d8"/><stop offset="0.597" stop-color="#ffd9d9"/><stop offset="0.620" stop-color="#ffdcdc"/><stop offset="0.643" stop-color="#ffe1e1"/><stop offset="0.666" stop-color="#ffe6e6"/><stop offset="0.689" stop-color="#ffeded"/><stop offset="0.712" stop-color="#fff5f5"/><stop offset="0.735" stop-color="#fcfcff"/><stop offset="0.758" stop-color="#f4f4ff"/><stop offset="0.781" stop-color="#efefff"/><stop offset="0.804" stop-color="#ececff"/><stop offset="0.827" stop-color="#eaeaff"/><stop offset="0.850" stop-color="#eaeaff"/><stop offset="0.873" stop-color="#ebebff"/><stop offset="0.896" stop-color="#ededff"/><stop offset="0.918" stop-color="#f0f0ff"/><stop offset="0.941" stop-color="#f3f3ff"/><stop offset="0.964" stop-color="#f7f7ff"/><stop offset="0.987" stop-color="#fcfcff"/></linearGradient><linearGradient id="g68"><stop offset="0.000" stop-color="#fb0000"/><stop offset="0.023" stop-color="#dd0000"/><stop offset="0.046" stop-color="#d50000"/><stop offset="0.069" stop-color="#e00000"/><stop offset="0.092" stop-color="#fa0000"/><stop offset="0.115" stop-color="#ff2929"/><stop offset="0.138" stop-color="#ff6060"/><stop offset="0.161" stop-color="#ff9898"/><stop offset="0.184" stop-color="#ffcece"/><stop offset="0.207" stop-color="#ebebff"/><stop offset="0.230" stop-color="#c9c9ff"/><stop offset="0.253" stop-color="#b8b8ff"/><stop offset="0.276" stop-color="#b0b0ff"/><stop offset="0.299" stop-color="#afafff"/><stop offset="0.321" stop-color="#b1b1ff"/><stop offset="0.344" stop-color="#b8b8ff"/><stop offset="0.367" stop-color="#c0c0ff"/><stop offset="0.390" stop-color="#cbcbff"/><stop offset="0.413" stop-color="#d8d8ff"/><stop offset="0.436" stop-color="#e6e6ff"/><stop offset="0.459" stop-color="#f8f8ff"/><stop offset="0.482" stop-color="#ffefef"/><stop offset="0.505" stop-color="#ffe4e4"/><stop offset="0.528" stop-color="#ffdddd"/><stop offset="0.551" stop-color="#ffd9d9"/><stop offset="0.574" stop-color="#ffd8d8"/><stop offset="0.597" stop-color="#ffd9d9"/><stop offset="0.620" stop-color="#ffdcdc"/><stop offset="0.643" stop-color="#ffe0e0"/><stop offset="0.666" stop-color="#ffe6e6"/><stop offset="0.689" stop-color="#ffeeee"/><stop offset="0.712" stop-color="#fff6f6"/><stop offset="0.735" stop-color="#fbfbff"/><stop offset="0.758" stop-color="#f3f3ff"/><stop offset="0.781" stop-color="#eeeeff"/><stop offset="0.804" stop-color="#ebebff"/><stop offset="0.827" stop-color="#eaeaff"/><stop offset="0.850" stop-color="#eaeaff"/><stop offset="0.873" stop-color="#ebebff"/><stop offset="0.896" stop-color="#ededff"/><stop offset="0.918" stop-color="#f0f0ff"/><stop offset="0.941" stop-color="#f3f3ff"/><stop offset="0.964" stop-color="#f7f7ff"/><stop offset="0.987" stop-color="#fdfdff"/></linearGradient><linearGradient id="g69"><stop offset="0.000" stop-color="#e60000"/><stop offset="0.023" stop-color="#c70000"/><stop offset="0.046" stop-color="#bf0000"/><stop offset="0.069" stop-color="#cc0000"/><stop offset="0.092" stop-color="#eb0000"/><stop offset="0.115" stop-color="#ff1b1b"/><stop offset="0.138" stop-color="#ff5757"/><stop offset="0.161" stop-color="#ff9494"/><stop offset="0.184" stop-color="#ffd0d0"/><stop offset="0.207" stop-color="#e6e6ff"/><stop offset="0.230" stop-color="#c4c4ff"/><stop offset="0.253" stop-color="#b3b3ff"/><stop offset="0.276" stop-color="#acacff"/><stop offset="0.299" stop-color="#acacff"/><stop offset="0.321" stop-color="#afafff"/><stop offset="0.344" stop-color="#b6b6ff"/><stop offset="0.367" stop-color="#c0c0ff"/><stop offset="0.390" stop-color="#cbcbff"/><stop offset="0.413" stop-color="#d8d8ff"/><stop offset="0.436" stop-color="#e7e7ff"/><stop offset="0.459" stop-color="#fafaff"/><stop offset="0.482" stop-color="#ffeeee"/><stop offset="0.505" stop-color="#ffe3e3"/><stop offset="0.528" stop-color="#ffdcdc"/><stop offset="0.551" stop-color="#ffd8d8"/><stop offset="0.574" stop-color="#ffd7d7"/><stop offset="0.597" stop-color="#ffd8d8"/><stop offset="0.620" stop-color="#ffdbdb"/><stop offset="0.643" stop-color="#ffe0e0"/><stop offset="0.666" stop-color="#ffe7e7"/><stop offset="0.689" stop-color="#ffeeee"/><stop offset="0.712" stop-color="#fff6f6"/><stop offset="0.735" stop-color="#fafaff"/><stop offset="0.758" stop-color="#f2f2ff"/><stop offset="0.781" stop-color="#eeeeff"/><stop offset="0.804" stop-color="#ebebff"/><stop offset="0.827" stop-color="#e9e9ff"/><stop offset="0.850" stop-color="#e9e9ff"/><stop offset="0.873" stop-color="#ebebff"/><stop offset="0.896" stop-color="#ededff"/><stop offset="0.918" stop-color="#f0f0ff"/><stop offset="0.941" stop-color="#f3f3ff"/><stop offset="0.964" stop-color="#f8f8ff"/><stop offset="0.987" stop-color="#fdfdff"/></linearGradient><linearGradient id="g70"><stop offset="0.000" stop-color="#cf0000"/><stop offset="0.023" stop-color="#af0000"/><stop offset="0.046" stop-color="#a80000"/><stop offset="0.069" stop-color="#b80000"/><stop offset="0.092" stop-color="#da0000"/><stop offset="0.115" stop-color="#ff0c0c"/><stop offset="0.138" stop-color="#ff4e4e"/><stop offset="0.161" stop-color="#ff9191"/><stop offset="0.184" stop-color="#ffd1d1"/><stop offset="0.207" stop-color="#e0e0ff"/><stop offset="0.230" stop-color="#bebeff"/><stop offset="0.253" stop-color="#aeaeff"/><stop offset="0.276" stop-color="#a9a9ff"/><stop offset="0.299" stop-color="#a9a9ff"/><stop offset="0.321" stop-color="#adadff"/><stop offset="0.344" stop-color="#b5b5ff"/><stop offset="0.367" stop-color="#bfbfff"/><stop offset="0.390" stop-color="#cbcbff"/><stop offset="0.413" stop-color="#d9d9ff"/><stop offset="0.436" stop-color="#e8e8ff"/><stop offset="0.459" stop-color="#fcfcff"/><stop offset="0.482" stop-color="#ffeded"/><stop offset="0.505" stop-color="#ffe2e2"/><stop offset="0.528" stop-color="#ffdbdb"/><stop offset="0.551" stop-color="#ffd7d7"/><stop offset="0.574" stop-color="#ffd6d6"/><stop offset="0.597" stop-color="#ffd8d8"/><stop offset="0.620" stop-color="#ffdbdb"/><stop offset="0.643" stop-color="#ffe0e0"/><stop offset="0.666" stop-color="#ffe7e7"/><stop offset="0.689" stop-color="#ffeeee"/><stop offset="0.712" stop-color="#fff7f7"/><stop offset="0.735" stop-color="#f9f9ff"/><stop offset="0.758" stop-color="#f2f2ff"/><stop offset="0.781" stop-color="#ededff"/><stop offset="0.804" stop-color="#eaeaff"/><stop offset="0.827" stop-color="#e9e9ff"/><stop offset="0.850" stop-color="#e9e9ff"/><stop offset="0.873" stop-color="#eaeaff"/><stop offset="0.896" stop-color="#ededff"/><stop offset="0.918" stop-color="#f0f0ff"/><stop offset="0.941" stop-color="#f4f4ff"/><stop offset="0.964" stop-color="#f8f8ff"/><stop offset="0.987" stop-color="#fefeff"/></linearGradient><linearGradient id="g71"><stop offset="0.000" stop-color="#bb0000"/><stop offset="0.023" stop-color="#9a0000"/><stop offset="0.046" stop-color="#940000"/><stop offset="0.069" stop-color="#a60000"/><stop offset="0.092" stop-color="#cc0000"/><stop offset="0.115" stop-color="#ff0000"/><stop offset="0.138" stop-color="#ff4747"/><stop offset="0.161" stop-color="#ff8f8f"/><stop offset="0.184" stop-color="#ffd4d4"/><stop offset="0.207" stop-color="#dadaff"/><stop offset="0.230" stop-color="#b9b9ff"/><stop offset="0.253" stop-color="#aaaaff"/><stop offset="0.276" stop-color="#a5a5ff"/><stop offset="0.299" stop-color="#a6a6ff"/><stop offset="0.321" stop-color="#acacff"/><stop offset="0.344" stop-color="#b4b4ff"/><stop offset="0.367" stop-color="#bebeff"/><stop offset="0.390" stop-color="#cbcbff"/><stop offset="0.413" stop-color="#d9d9ff"/><stop offset="0.436" stop-color="#e9e9ff"/><stop offset="0.459" stop-color="#fffefe"/><stop offset="0.482" stop-color="#ffebeb"/><stop offset="0.505" stop-color="#ffe1e1"/><stop offset="0.528" stop-color="#ffdada"/><stop offset="0.551" stop-color="#ffd6d6"/><stop offset="0.574" stop-color="#ffd6d6"/><stop offset="0.597" stop-color="#ffd7d7"/><stop offset="0.620" stop-color="#ffdbdb"/><stop offset="0.643" stop-color="#ffe0e0"/><stop offset="0.666" stop-color="#ffe7e7"/><stop offset="0.689" stop-color="#ffefef"/><stop offset="0.712" stop-color="#fff8f8"/><stop offset="0.735" stop-color="#f8f8ff"/><stop offset="0.758" stop-color="#f1f1ff"/><stop offset="0.781" stop-color="#ececff"/><stop offset="0.804" stop-color="#eaeaff"/><stop offset="0.827" stop-color="#e8e8ff"/><stop offset="0.850" stop-color="#e9e9ff"/><stop offset="0.873" stop-color="#eaeaff"/><stop offset="0.896" stop-color="#ededff"/><stop offset="0.918" stop-color="#f0f0ff"/><stop offset="0.941" stop-color="#f4f4ff"/><stop offset="0.964" stop-color="#f8f8ff"/><stop offset="0.987" stop-color="#fffefe"/></linearGradient><linearGradient id="g72"><stop offset="0.000" stop-color="#aa0000"/><stop offset="0.023" stop-color="#890000"/><stop offset="0.046" stop-color="#840000"/><stop offset="0.069" stop-color="#990000"/><stop offset="0.092" stop-color="#c20000"/><stop offset="0.115" stop-color="#f80000"/><stop offset="0.138" stop-color="#ff4343"/><stop offset="0.161" stop-color="#ff8e8e"/><stop offset="0.184" stop-color="#ffd8d8"/><stop offset="0.207" stop-color="#d4d4ff"/><stop offset="0.230" stop-color="#b4b4ff"/><stop offset="0.253" stop-color="#a6a6ff"/><stop offset="0.276" stop-color="#a2a2ff"/><stop offset="0.299" stop-color="#a4a4ff"/><stop offset="0.321" stop-color="#aaaaff"/><stop offset="0.344" stop-color="#b3b3ff"/><stop offset="0.367" stop-color="#bebeff"/><stop offset="0.390" stop-color="#cbcbff"/><stop offset="0.413" stop-color="#dadaff"/><stop offset="0.436" stop-color="#eaeaff"/><stop offset="0.459" stop-color="#fffbfb"/><stop offset="0.482" stop-color="#ffeaea"/><stop offset="0.505" stop-color="#ffdfdf"/><stop offset="0.528" stop-color="#ffd9d9"/><stop offset="0.551" stop-color="#ffd6d6"/><stop offset="0.574" stop-color="#ffd5d5"/><stop offset="0.597" stop-color="#ffd7d7"/><stop offset="0.620" stop-color="#ffdbdb"/><stop offset="0.643" stop-color="#ffe0e0"/><stop offset="0.666" stop-color="#ffe7e7"/><stop offset="0.689" stop-color="#ffefef"/><stop offset="0.712" stop-color="#fff8f8"/><stop offset="0.735" stop-color="#f7f7ff"/><stop offset="0.758" stop-color="#f0f0ff"/><stop offset="0.781" stop-color="#ececff"/><stop offset="0.804" stop-color="#e9e9ff"/><stop offset="0.827" stop-color="#e8e8ff"/><stop offset="0.850" stop-color="#e8e8ff"/><stop offset="0.873" stop-color="#eaeaff"/><stop offset="0.896" stop-color="#ececff"/><stop offset="0.918" stop-color="#f0f0ff"/><stop offset="0.941" stop-color="#f4f4ff"/><stop offset="0.964" stop-color="#f9f9ff"/><stop offset="0.987" stop-color="#fffefe"/></linearGradient><linearGradient id="g73"><stop offset="0.000" stop-color="#a00000"/><stop offset="0.023" stop-color="#820000"/><stop offset="0.046" stop-color="#820000"/><stop offset="0.069" stop-color="#930000"/><stop offset="0.092" stop-color="#bf0000"/><stop offset="0.115" stop-color="#f70000"/><stop offset="0.138" stop-color="#ff4343"/><stop offset="0.161" stop-color="#ff9191"/><stop offset="0.184" stop-color="#ffdddd"/><stop offset="0.207" stop-color="#cfcfff"/><stop offset="0.230" stop-color="#b0b0ff"/><stop offset="0.253" stop-color="#a3a3ff"/><stop offset="0.276" stop-color="#9f9fff"/><stop offset="0.299" stop-color="#a2a2ff"/><stop offset="0.321" stop-color="#a9a9ff"/><stop offset="0.344" stop-color="#b2b2ff"/><stop offset="0.367" stop-color="#bebeff"/><stop offset="0.390" stop-color="#cbcbff"/><stop offset="0.413" stop-color="#dadaff"/><stop offset="0.436" stop-color="#ebebff"/><stop offset="0.459" stop-color="#fff9f9"/><stop offset="0.482" stop-color="#ffe8e8"/><stop offset="0.505" stop-color="#ffdede"/><stop offset="0.528" stop-color="#ffd8d8"/><stop offset="0.551" stop-color="#ffd5d5"/><stop offset="0.574" stop-color="#ffd4d4"/><stop offset="0.597" stop-color="#ffd6d6"/><stop offset="0.620" stop-color="#ffdada"/><stop offset="0.643" stop-color="#ffe0e0"/><stop offset="0.666" stop-color="#ffe7e7"/><stop offset="0.689" stop-color="#ffefef"/><stop offset="0.712" stop-color="#fff9f9"/><stop offset="0.735" stop-color="#f6f6ff"/><stop offset="0.758" stop-color="#efefff"/><stop offset="0.781" stop-color="#ebebff"/><stop offset="0.804" stop-color="#e8e8ff"/><stop offset="0.827" stop-color="#e8e8ff"/><stop offset="0.850" stop-color="#e8e8ff"/><stop offset="0.873" stop-color="#eaeaff"/><stop offset="0.896" stop-color="#ececff"/><stop offset="0.918" stop-color="#f0f0ff"/><stop offset="0.941" stop-color="#f4f4ff"/><stop offset="0.964" stop-color="#f9f9ff"/><stop offset="0.987" stop-color="#fffdfd"/></linearGradient><linearGradient id="g74"><stop offset="0.000" stop-color="#9d0000"/><stop offset="0.023" stop-color="#820000"/><stop offset="0.046" stop-color="#820000"/><stop offset="0.069" stop-color="#960000"/><stop offset="0.092" stop-color="#c20000"/><stop offset="0.115" stop-color="#fa0000"/><stop offset="0.138" stop-color="#ff4848"/><stop offset="0.161" stop-color="#ff9696"/><stop offset="0.184" stop-color="#ffe3e3"/><stop offset="0.207" stop-color="#cbcbff"/><stop offset="0.230" stop-color="#adadff"/><stop offset="0.253" stop-color="#a0a0ff"/><stop offset="0.276" stop-color="#9d9dff"/><stop offset="0.299" stop-color="#a1a1ff"/><stop offset="0.321" stop-color="#a8a8ff"/><stop offset="0.344" stop-color="#b1b1ff"/><stop offset="0.367" stop-color="#bdbdff"/><stop offset="0.390" stop-color="#cbcbff"/><stop offset="0.413" stop-color="#dbdbff"/><stop offset="0.436" stop-color="#ececff"/><stop offset="0.459" stop-color="#fff7f7"/><stop offset="0.482" stop-color="#ffe7e7"/><stop offset="0.505" stop-color="#ffdddd"/><stop offset="0.528" stop-color="#ffd7d7"/><stop offset="0.551" stop-color="#ffd4d4"/><stop offset="0.574" stop-color="#ffd3d3"/><stop offset="0.597" stop-color="#ffd6d6"/><stop offset="0.620" stop-color="#ffdada"/><stop offset="0.643" stop-color="#ffe0e0"/><stop offset="0.666" stop-color="#ffe7e7"/><stop offset="0.689" stop-color="#fff0f0"/><stop offset="0.712" stop-color="#fffafa"/><stop offset="0.735" stop-color="#f6f6ff"/><stop offset="0.758" stop-color="#efefff"/><stop offset="0.781" stop-color="#eaeaff"/><stop offset="0.804" stop-color="#e8e8ff"/><stop offset="0.827" stop-color="#e7e7ff"/><stop offset="0.850" stop-color="#e8e8ff"/><stop offset="0.873" stop-color="#e9e9ff"/><stop offset="0.896" stop-color="#ececff"/><stop offset="0.918" stop-color="#f0f0ff"/><stop offset="0.941" stop-color="#f4f4ff"/><stop offset="0.964" stop-color="#f9f9ff"/><stop offset="0.987" stop-color="#fffcfc"/></linearGradient><linearGradient id="g75"><stop offset="0.000" stop-color="#a20000"/><stop offset="0.023" stop-color="#870000"/><stop offset="0.046" stop-color="#870000"/><stop offset="0.069" stop-color="#9f0000"/><stop offset="0.092" stop-color="#cb0000"/><stop offset="0.115" stop-color="#ff0404"/><stop offset="0.138" stop-color="#ff5050"/><stop offset="0.161" stop-color="#ff9d9d"/><stop offset="0.184" stop-color="#ffeaea"/><stop offset="0.207" stop-color="#c8c8ff"/><stop offset="0.230" stop-color="#ababff"/><stop offset="0.253" stop-color="#9f9fff"/><stop offset="0.276" stop-color="#9c9cff"/><stop offset="0.299" stop-color="#a0a0ff"/><stop offset="0.321" stop-color="#a7a7ff"/><stop offset="0.344" stop-color="#b1b1ff"/><stop offset="0.367" stop-color="#bdbdff"/><stop offset="0.390" stop-color="#ccccff"/><stop offset="0.413" stop-color="#dbdbff"/><stop offset="0.436" stop-color="#ededff"/><stop offset="0.459" stop-color="#fff5f5"/><stop offset="0.482" stop-color="#ffe6e6"/><stop offset="0.505" stop-color="#ffdcdc"/><stop offset="0.528" stop-color="#ffd6d6"/><stop offset="0.551" stop-color="#ffd3d3"/><stop offset="0.574" stop-color="#ffd3d3"/><stop offset="0.597" stop-color="#ffd5d5"/><stop offset="0.620" stop-color="#ffdada"/><stop offset="0.643" stop-color="#ffe0e0"/><stop offset="0.666" stop-color="#ffe7e7"/><stop offset="0.689" stop-color="#fff0f0"/><stop offset="0.712" stop-color="#fffbfb"/><stop offset="0.735" stop-color="#f5f5ff"/><stop offset="0.758" stop-color="#eeeeff"/><stop offset="0.781" stop-color="#eaeaff"/><stop offset="0.804" stop-color="#e7e7ff"/><stop offset="0.827" stop-color="#e7e7ff"/><stop offset="0.850" stop-color="#e7e7ff"/><stop offset="0.873" stop-color="#e9e9ff"/><stop offset="0.896" stop-color="#ececff"/><stop offset="0.918" stop-color="#f0f0ff"/><stop offset="0.941" stop-color="#f4f4ff"/><stop offset="0.964" stop-color="#f9f9ff"/><stop offset="0.987" stop-color="#fffcfc"/></linearGradient><linearGradient id="g76"><stop offset="0.000" stop-color="#ac0000"/><stop offset="0.023" stop-color="#930000"/><stop offset="0.046" stop-color="#950000"/><stop offset="0.069" stop-color="#ad0000"/><stop offset="0.092" stop-color="#d70000"/><stop offset="0.115" stop-color="#ff1111"/><stop offset="0.138" stop-color="#ff5b5b"/><stop offset="0.161" stop-color="#ffa4a4"/><stop offset="0.184" stop-color="#fff1f1"/><stop offset="0.207" stop-color="#c5c5ff"/><stop offset="0.230" stop-color="#aaaaff"/><stop offset="0.253" stop-color="#9f9fff"/><stop offset="0.276" stop-color="#9c9cff"/><stop offset="0.299" stop-color="#9f9fff"/><stop offset="0.321" stop-color="#a7a7ff"/><stop offset="0.344" stop-color="#b1b1ff"/><stop offset="0.367" stop-color="#bdbdff"/><stop offset="0.390" stop-color="#ccccff"/><stop offset="0.413" stop-color="#dcdcff"/><stop offset="0.436" stop-color="#efefff"/><stop offset="0.459" stop-color="#fff3f3"/><stop offset="0.482" stop-color="#ffe4e4"/><stop offset="0.505" stop-color="#ffdada"/><stop offset="0.528" stop-color="#ffd5d5"/><stop offset="0.551" stop-color="#ffd2d2"/><stop offset="0.574" stop-color="#ffd2d2"/><stop offset="0.597" stop-color="#ffd5d5"/><stop offset="0.620" stop-color="#ffd9d9"/><stop offset="0.643" stop-color="#ffe0e0"/><stop offset="0.666" stop-color="#ffe8e8"/><stop offset="0.689" stop-color="#fff1f1"/><stop offset="0.712" stop-color="#fffcfc"/><stop offset="0.735" stop-color="#f4f4ff"/><stop offset="0.758" stop-color="#ededff"/><stop offset="0.781" stop-color="#e9e9ff"/><stop offset="0.804" stop-color="#e7e7ff"/><stop offset="0.827" stop-color="#e6e6ff"/><stop offset="0.850" stop-color="#e7e7ff"/><stop offset="0.873" stop-color="#e9e9ff"/><stop offset="0.896" stop-color="#ececff"/><stop offset="0.918" stop-color="#f0f0ff"/><stop offset="0.941" stop-color="#f5f5ff"/><stop offset="0.964" stop-color="#fafaff"/><stop offset="0.987" stop-color="#fffbfb"/></linearGradient><linearGradient id="g77"><stop offset="0.000" stop-color="#b70000"/><stop offset="0.023" stop-color="#a20000"/><stop offset="0.046" stop-color="#a50000"/><stop offset="0.069" stop-color="#bd0000"/><stop offset="0.092" stop-color="#e50000"/><stop offset="0.115" stop-color="#ff2020"/><stop offset="0.138" stop-color="#ff6666"/><stop offset="0.161" stop-color="#ffadad"/><stop offset="0.184" stop-color="#fffafa"/><stop offset="0.207" stop-color="#c3c3ff"/><stop offset="0.230" stop-color="#aaaaff"/><stop offset="0.253" stop-color="#9e9eff"/><stop offset="0.276" stop-color="#9c9cff"/><stop offset="0.299" stop-color="#9f9fff"/><stop offset="0.321" stop-color="#a6a6ff"/><stop offset="0.344" stop-color="#b1b1ff"/><stop offset="0.367" stop-color="#bdbdff"/><stop offset="0.390" stop-color="#ccccff"/><stop offset="0.413" stop-color="#ddddff"/><stop offset="0.436" stop-color="#f0f0ff"/><stop offset="0.459" stop-color="#fff2f2"/><stop offset="0.482" stop-color="#ffe3e3"/><stop offset="0.505" stop-color="#ffd9d9"/><stop offset="0.528" stop-color="#ffd3d3"/><stop offset="0.551" stop-color="#ffd1d1"/><stop offset="0.574" stop-color="#ffd1d1"/><stop offset="0.597" stop-color="#ffd4d4"/><stop offset="0.620" stop-color="#ffd9d9"/><stop offset="0.643" stop-color="#ffe0e0"/><stop offset="0.666" stop-color="#ffe8e8"/><stop offset="0.689" stop-color="#fff1f1"/><stop offset="0.712" stop-color="#fffefe"/><stop offset="0.735" stop-color="#f3f3ff"/><stop offset="0.758" stop-color="#ededff"/><stop offset="0.781" stop-color="#e9e9ff"/><stop offset="0.804" stop-color="#e6e6ff"/><stop offset="0.827" stop-color="#e6e6ff"/><stop offset="0.850" stop-color="#e7e7ff"/><stop offset="0.873" stop-color="#e9e9ff"/><stop offset="0.896" stop-color="#ececff"/><stop offset="0.918" stop-color="#f0f0ff"/><stop offset="0.941" stop-color="#f5f5ff"/><stop offset="0.964" stop-color="#fafaff"/><stop offset="0.987" stop-color="#fffbfb"/></linearGradient><linearGradient id="g78"><stop offset="0.000" stop-color="#000082"/><stop offset="0.023" stop-color="#000082"/><stop offset="0.046" stop-color="#000082"/><stop offset="0.069" stop-color="#000082"/><stop offset="0.092" stop-color="#0000a1"/><stop offset="0.115" stop-color="#0000d9"/><stop offset="0.138" stop-color="#1e1eff"/><stop offset="0.161" stop-color="#6d6dff"/><stop offset="0.184" stop-color="#bbbbff"/><stop offset="0.207" stop-color="#ffe0e0"/><stop offset="0.230" stop-color="#ffafaf"/><stop offset="0.253" stop-color="#ff9595"/><stop offset="0.276" stop-color="#ff8888"/><stop offset="0.299" stop-color="#ff8585"/><stop offset="0.321" stop-color="#ff8787"/><stop offset="0.344" stop-color="#ff8d8d"/><stop offset="0.367" stop-color="#ff9797"/><stop offset="0.390" stop-color="#ffa3a3"/><stop offset="0.413" stop-color="#ffb2b2"/><stop offset="0.436" stop-color="#ffc2c2"/><stop offset="0.459" stop-color="#ffd4d4"/><stop offset="0.482" stop-color="#ffe7e7"/><stop offset="0.505" stop-color="#fafaff"/><stop offset="0.528" stop-color="#e6e6ff"/><stop offset="0.551" stop-color="#dadaff"/><stop offset="0.574" stop-color="#d2d2ff"/><stop offset="0.597" stop-color="#ceceff"/><stop offset="0.620" stop-color="#ccccff"/><stop offset="0.643" stop-color="#cdcdff"/><stop offset="0.666" stop-color="#cfcfff"/><stop offset="0.689" stop-color="#d4d4ff"/><stop offset="0.712" stop-color="#dadaff"/><stop offset="0.735" stop-color="#e1e1ff"/><stop offset="0.758" stop-color="#e9e9ff"/><stop offset="0.781" stop-color="#f2f2ff"/><stop offset="0.804" stop-color="#fdfdff"/><stop offset="0.827" stop-color="#fff4f4"/><stop offset="0.850" stop-color="#ffeeee"/><stop offset="0.873" stop-color="#ffeaea"/><stop offset="0.896" stop-color="#ffe8e8"/><stop offset="0.918" stop-color="#ffe7e7"/><stop offset="0.941" stop-color="#ffe7e7"/><stop offset="0.964" stop-color="#ffe8e8"/><stop offset="0.987" stop-color="#ffeaea"/></linearGradient><linearGradient id="g79"><stop offset="0.000" stop-color="#000082"/><stop offset="0.023" stop-color="#000082"/><stop offset="0.046" stop-color="#000082"/><stop offset="0.069" stop-color="#000082"/><stop offset="0.092" stop-color="#000093"/><stop offset="0.115" stop-color="#0000cd"/><stop offset="0.138" stop-color="#1212ff"/><stop offset="0.161" stop-color="#6464ff"/><stop offset="0.184" stop-color="#b4b4ff"/><stop offset="0.207" stop-color="#ffe5e5"/><stop offset="0.230" stop-color="#ffb0b0"/><stop offset="0.253" stop-color="#ff9595"/><stop offset="0.276" stop-color="#ff8888"/><stop offset="0.299" stop-color="#ff8484"/><stop offset="0.321" stop-color="#ff8686"/><stop offset="0.344" stop-color="#ff8d8d"/><stop offset="0.367" stop-color="#ff9797"/><stop offset="0.390" stop-color="#ffa3a3"/><stop offset="0.413" stop-color="#ffb1b1"/><stop offset="0.436" stop-color="#ffc1c1"/><stop offset="0.459" stop-color="#ffd3d3"/><stop offset="0.482" stop-color="#ffe6e6"/><stop offset="0.505" stop-color="#fcfcff"/><stop offset="0.528" stop-color="#e7e7ff"/><stop offset="0.551" stop-color="#dbdbff"/><stop offset="0.574" stop-color="#d3d3ff"/><stop offset="0.597" stop-color="#ceceff"/><stop offset="0.620" stop-color="#ccccff"/><stop offset="0.643" stop-color="#cdcdff"/><stop offset="0.666" stop-color="#cfcfff"/><stop offset="0.689" stop-color="#d4d4ff"/><stop offset="0.712" stop-color="#dadaff"/><stop offset="0.735" stop-color="#e1e1ff"/><stop offset="0.758" stop-color="#e9e9ff"/><stop offset="0.781" stop-color="#f1f1ff"/><stop offset="0.804" stop-color="#fcfcff"/><stop offset="0.827" stop-color="#fff5f5"/><stop offset="0.850" stop-color="#ffefef"/><stop offset="0.873" stop-color="#ffeaea"/><stop offset="0.896" stop-color="#ffe8e8"/><stop offset="0.918" stop-color="#ffe7e7"/><stop offset="0.941" stop-color="#ffe7e7"/><stop offset="0.964" stop-color="#ffe8e8"/><stop offset="0.987" stop-color="#ffeaea"/></linearGradient><linearGradient id="g80"><stop offset="0.000" stop-color="#000082"/><stop offset="0.023" stop-color="#000082"/><stop offset="0.046" stop-color="#000082"/><stop offset="0.069" stop-color="#000082"/><stop offset="0.092" stop-color="#000087"/><stop offset="0.115" stop-color="#0000c2"/><stop offset="0.138" stop-color="#0606ff"/><stop offset="0.161" stop-color="#5b5bff"/><stop offset="0.184" stop-color="#adadff"/><stop offset="0.207" stop-color="#ffebeb"/><stop offset="0.230" stop-color="#ffb2b2"/><stop offset="0.253" stop-color="#ff9696"/><stop offset="0.276" stop-color="#ff8888"/><stop offset="0.299" stop-color="#ff8484"/><stop offset="0.321" stop-color="#ff8686"/><stop offset="0.344" stop-color="#ff8d8d"/><stop offset="0.367" stop-color="#ff9696"/><stop offset="0.390" stop-color="#ffa2a2"/><stop offset="0.413" stop-color="#ffb0b0"/><stop offset="0.436" stop-color="#ffc0c0"/><stop offset="0.459" stop-color="#ffd2d2"/><stop offset="0.482" stop-color="#ffe5e5"/><stop offset="0.505" stop-color="#fffdfd"/><stop offset="0.528" stop-color="#e8e8ff"/><stop offset="0.551" stop-color="#dcdcff"/><stop offset="0.574" stop-color="#d3d3ff"/><stop offset="0.597" stop-color="#ceceff"/><stop offset="0.620" stop-color="#ccccff"/><stop offset="0.643" stop-color="#cdcdff"/><stop offset="0.666" stop-color="#cfcfff"/><stop offset="0.689" stop-color="#d4d4ff"/><stop offset="0.712" stop-color="#d9d9ff"/><stop offset="0.735" stop-color="#e0e0ff"/><stop offset="0.758" stop-color="#e8e8ff"/><stop offset="0.781" stop-color="#f1f1ff"/><stop offset="0.804" stop-color="#fbfbff"/><stop offset="0.827" stop-color="#fff5f5"/><stop offset="0.850" stop-color="#ffefef"/><stop offset="0.873" stop-color="#ffebeb"/><stop offset="0.896" stop-color="#ffe8e8"/><stop offset="0.918" stop-color="#ffe7e7"/><stop offset="0.941" stop-color="#ffe7e7"/><stop offset="0.964" stop-color="#ffe8e8"/><stop offset="0.987" stop-color="#ffeaea"/></linearGradient><linearGradient id="g81"><stop offset="0.000" stop-color="#000082"/><stop offset="0.023" stop-color="#000082"/><stop offset="0.046" stop-color="#000082"/><stop offset="0.069" stop-color="#000082"/><stop offset="0.092" stop-color="#000082"/><stop offset="0.115" stop-color="#0000bb"/><stop offset="0.138" stop-color="#0000fd"/><stop offset="0.161" stop-color="#5454ff"/><stop offset="0.184" stop-color="#a7a7ff"/><stop offset="0.207" stop-color="#fff2f2"/><stop offset="0.230" stop-color="#ffb4b4"/><stop offset="0.253" stop-color="#ff9797"/><stop offset="0.276" stop-color="#ff8989"/><stop offset="0.299" stop-color="#ff8484"/><stop offset="0.321" stop-color="#ff8686"/><stop offset="0.344" stop-color="#ff8c8c"/><stop offset="0.367" stop-color="#ff9696"/><stop offset="0.390" stop-color="#ffa2a2"/><stop offset="0.413" stop-color="#ffb0b0"/><stop offset="0.436" stop-color="#ffbfbf"/><stop offset="0.459" stop-color="#ffd1d1"/><stop offset="0.482" stop-color="#ffe3e3"/><stop offset="0.505" stop-color="#fffafa"/><stop offset="0.528" stop-color="#e9e9ff"/><stop offset="0.551" stop-color="#ddddff"/><stop offset="0.574" stop-color="#d4d4ff"/><stop offset="0.597" stop-color="#cfcfff"/><stop offset="0.620" stop-color="#cdcdff"/><stop offset="0.643" stop-color="#cdcdff"/><stop offset="0.666" stop-color="#cfcfff"/><stop offset="0.689" stop-color="#d3d3ff"/><stop offset="0.712" stop-color="#d9d9ff"/><stop offset="0.735" stop-color="#e0e0ff"/><stop offset="0.758" stop-color="#e8e8ff"/><stop offset="0.781" stop-color="#f0f0ff"/><stop offset="0.804" stop-color="#fafaff"/><stop offset="0.827" stop-color="#fff6f6"/><stop offset="0.850" stop-color="#ffefef"/><stop offset="0.873" stop-color="#ffebeb"/><stop offset="0.896" stop-color="#ffe8e8"/><stop offset="0.918" stop-color="#ffe7e7"/><stop offset="0.941" stop-color="#ffe7e7"/><stop offset="0.964" stop-color="#ffe8e8"/><stop offset="0.987" stop-color="#ffeaea"/></linearGradient><linearGradient id="g82"><stop offset="0.000" stop-color="#000082"/><stop offset="0.023" stop-color="#000082"/><stop offset="0.046" stop-color="#000082"/><stop offset="0.069" stop-color="#000082"/><stop offset="0.092" stop-color="#000082"/><stop offset="0.115" stop-color="#0000b8"/><stop offset="0.138" stop-color="#0000fa"/><stop offset="0.161" stop-color="#4f4fff"/><stop offset="0.184" stop-color="#a2a2ff"/><stop offset="0.207" stop-color="#fffcfc"/><stop offset="0.230" stop-color="#ffb8b8"/><stop offset="0.253" stop-color="#ff9999"/><stop offset="0.276" stop-color="#ff8b8b"/><stop offset="0.299" stop-color="#ff8585"/><stop offset="0.321" stop-color="#ff8787"/><stop offset="0.344" stop-color="#ff8d8d"/><stop offset="0.367" stop-color="#ff9696"/><stop offset="0.390" stop-color="#ffa1a1"/><stop offset="0.413" stop-color="#ffafaf"/><stop offset="0.436" stop-color="#ffbfbf"/><stop offset="0.459" stop-color="#ffd0d0"/><stop offset="0.482" stop-color="#ffe2e2"/><stop offset="0.505" stop-color="#fff8f8"/><stop offset="0.528" stop-color="#ebebff"/><stop offset="0.551" stop-color="#ddddff"/><stop offset="0.574" stop-color="#d5d5ff"/><stop offset="0.597" stop-color="#cfcfff"/><stop offset="0.620" stop-color="#cdcdff"/><stop offset="0.643" stop-color="#cdcdff"/><stop offset="0.666" stop-color="#cfcfff"/><stop offset="0.689" stop-color="#d3d3ff"/><stop offset="0.712" stop-color="#d9d9ff"/><stop offset="0.735" stop-color="#dfdfff"/><stop offset="0.758" stop-color="#e7e7ff"/><stop offset="0.781" stop-color="#f0f0ff"/><stop offset="0.804" stop-color="#f9f9ff"/><stop offset="0.827" stop-color="#fff7f7"/><stop offset="0.850" stop-color="#fff0f0"/><stop offset="0.873" stop-color="#ffebeb"/><stop offset="0.896" stop-color="#ffe9e9"/><stop offset="0.918" stop-color="#ffe7e7"/><stop offset="0.941" stop-color="#ffe7e7"/><stop offset="0.964" stop-color="#ffe8e8"/><stop offset="0.987" stop-color="#ffeaea"/></linearGradient><linearGradient id="g83"><stop offset="0.000" stop-color="#000082"/><stop offset="0.023" stop-color="#000082"/><stop offset="0.046" stop-color="#000082"/><stop offset="0.069" stop-color="#000082"/><stop offset="0.092" stop-color="#000082"/><stop offset="0.115" stop-color="#0000ba"/><stop offset="0.138" stop-color="#0000fa"/><stop offset="0.161" stop-color="#4d4dff"/><stop offset="0.184" stop-color="#9e9eff"/><stop offset="0.207" stop-color="#f5f5ff"/><stop offset="0.230" stop-color="#ffbcbc"/><stop offset="0.253" stop-color="#ff9d9d"/><stop offset="0.276" stop-color="#ff8d8d"/><stop offset="0.299" stop-color="#ff8787"/><stop offset="0.321" stop-color="#ff8888"/><stop offset="0.344" stop-color="#ff8d8d"/><stop offset="0.367" stop-color="#ff9696"/><stop offset="0.390" stop-color="#ffa1a1"/><stop offset="0.413" stop-color="#ffafaf"/><stop offset="0.436" stop-color="#ffbebe"/><stop offset="0.459" stop-color="#ffcfcf"/><stop offset="0.482" stop-color="#ffe1e1"/><stop offset="0.505" stop-color="#fff6f6"/><stop offset="0.528" stop-color="#ececff"/><stop offset="0.551" stop-color="#dedeff"/><stop offset="0.574" stop-color="#d5d5ff"/><stop offset="0.597" stop-color="#d0d0ff"/><stop offset="0.620" stop-color="#cdcdff"/><stop offset="0.643" stop-color="#cdcdff"/><stop offset="0.666" stop-color="#cfcfff"/><stop offset="0.689" stop-color="#d3d3ff"/><stop offset="0.712" stop-color="#d8d8ff"/><stop offset="0.735" stop-color="#dfdfff"/><stop offset="0.758" stop-color="#e7e7ff"/><stop offset="0.781" stop-color="#efefff"/><stop offset="0.804" stop-color="#f9f9ff"/><stop offset="0.827" stop-color="#fff7f7"/><stop offset="0.850" stop-color="#fff0f0"/><stop offset="0.873" stop-color="#ffecec"/><stop offset="0.896" stop-color="#ffe9e9"/><stop offset="0.918" stop-color="#ffe7e7"/><stop offset="0.941" stop-color="#ffe7e7"/><stop offset="0.964" stop-color="#ffe8e8"/><stop offset="0.987" stop-color="#ffeaea"/></linearGradient><linearGradient id="g84"><stop offset="0.000" stop-color="#000082"/><stop offset="0.023" stop-color="#000082"/><stop offset="0.046" stop-color="#000082"/><stop offset="0.069" stop-color="#000082"/><stop offset="0.092" stop-color="#00008c"/><stop offset="0.115" stop-color="#0000c2"/><stop offset="0.138" stop-color="#0000fe"/><stop offset="0.161" stop-color="#4f4fff"/><stop offset="0.184" stop-color="#9d9dff"/><stop offset="0.207" stop-color="#eeeeff"/><stop offset="0.230" stop-color="#ffc1c1"/><stop offset="0.253" stop-color="#ffa1a1"/><stop offset="0.276" stop-color="#ff9090"/><stop offset="0.299" stop-color="#ff8a8a"/><stop offset="0.321" stop-color="#ff8a8a"/><stop offset="0.344" stop-color="#ff8e8e"/><stop offset="0.367" stop-color="#ff9696"/><stop offset="0.390" stop-color="#ffa1a1"/><stop offset="0.413" stop-color="#ffaeae"/><stop offset="0.436" stop-color="#ffbdbd"/><stop offset="0.459" stop-color="#ffcece"/><stop offset="0.482" stop-color="#ffe0e0"/><stop offset="0.505" stop-color="#fff5f5"/><stop offset="0.528" stop-color="#ededff"/><stop offset="0.551" stop-color="#dfdfff"/><stop offset="0.574" stop-color="#d6d6ff"/><stop offset="0.597" stop-color="#d0d0ff"/><stop offset="0.620" stop-color="#cdcdff"/><stop offset="0.643" stop-color="#cdcdff"/><stop offset="0.666" stop-color="#cfcfff"/><stop offset="0.689" stop-color="#d3d3ff"/><stop offset="0.712" stop-color="#d8d8ff"/><stop offset="0.735" stop-color="#dfdfff"/><stop offset="0.758" stop-color="#e6e6ff"/><stop offset="0.781" stop-color="#eeeeff"/><stop offset="0.804" stop-color="#f8f8ff"/><stop offset="0.827" stop-color="#fff8f8"/><stop offset="0.850" stop-color="#fff1f1"/><stop offset="0.873" stop-color="#ffecec"/><stop offset="0.896" stop-color="#ffe9e9"/><stop offset="0.918" stop-color="#ffe8e8"/><stop offset="0.941" stop-color="#ffe7e7"/><stop offset="0.964" stop-color="#ffe8e8"/><stop offset="0.987" stop-color="#ffeaea"/></linearGradient><linearGradient id="g85"><stop offset="0.000" stop-color="#00008a"/><stop offset="0.023" stop-color="#000082"/><stop offset="0.046" stop-color="#000082"/><stop offset="0.069" stop-color="#000082"/><stop offset="0.092" stop-color="#00009c"/><stop offset="0.115" stop-color="#0000cd"/><stop offset="0.138" stop-color="#0808ff"/><stop offset="0.161" stop-color="#5353ff"/><stop offset="0.184" stop-color="#9c9cff"/><stop offset="0.207" stop-color="#e8e8ff"/><stop offset="0.230" stop-color="#ffc6c6"/><stop offset="0.253" stop-color="#ffa5a5"/><stop offset="0.276" stop-color="#ff9494"/><stop offset="0.299" stop-color="#ff8c8c"/><stop offset="0.321" stop-color="#ff8c8c"/><stop offset="0.344" stop-color="#ff8f8f"/><stop offset="0.367" stop-color="#ff9797"/><stop offset="0.390" stop-color="#ffa1a1"/><stop offset="0.413" stop-color="#ffaeae"/><stop offset="0.436" stop-color="#ffbcbc"/><stop offset="0.459" stop-color="#ffcdcd"/><stop offset="0.482" stop-color="#ffdfdf"/><stop offset="0.505" stop-color="#fff3f3"/><stop offset="0.528" stop-color="#efefff"/><stop offset="0.551" stop-color="#e0e0ff"/><stop offset="0.574" stop-color="#d7d7ff"/><stop offset="0.597" stop-color="#d1d1ff"/><stop offset="0.620" stop-color="#ceceff"/><stop offset="0.643" stop-color="#cdcdff"/><stop offset="0.666" stop-color="#cfcfff"/><stop offset="0.689" stop-color="#d3d3ff"/><stop offset="0.712" stop-color="#d8d8ff"/><stop offset="0.735" stop-color="#dedeff"/><stop offset="0.758" stop-color="#e6e6ff"/><stop offset="0.781" stop-color="#eeeeff"/><stop offset="0.804" stop-color="#f7f7ff"/><stop offset="0.827" stop-color="#fff9f9"/><stop offset="0.850" stop-color="#fff1f1"/><stop offset="0.873" stop-color="#ffecec"/><stop offset="0.896" stop-color="#ffe9e9"/><stop offset="0.918" stop-color="#ffe8e8"/><stop offset="0.941" stop-color="#ffe7e7"/><stop offset="0.964" stop-color="#ffe8e8"/><stop offset="0.987" stop-color="#ffeaea"/></linearGradient><linearGradient id="g86"><stop offset="0.000" stop-color="#0000a5"/><stop offset="0.023" stop-color="#000087"/><stop offset="0.046" stop-color="#000082"/><stop offset="0.069" stop-color="#00008e"/><stop offset="0.092" stop-color="#0000ae"/><stop offset="0.115" stop-color="#0000da"/><stop offset="0.138" stop-color="#1313ff"/><stop offset="0.161" stop-color="#5858ff"/><stop offset="0.184" stop-color="#9d9dff"/><stop offset="0.207" stop-color="#e3e3ff"/><stop offset="0.230" stop-color="#ffcccc"/><stop offset="0.253" stop-color="#ffaaaa"/><stop offset="0.276" stop-color="#ff9898"/><stop offset="0.299" stop-color="#ff9090"/><stop offset="0.321" stop-color="#ff8e8e"/><stop offset="0.344" stop-color="#ff9191"/><stop offset="0.367" stop-color="#ff9797"/><stop offset="0.390" stop-color="#ffa1a1"/><stop offset="0.413" stop-color="#ffadad"/><stop offset="0.436" stop-color="#ffbcbc"/><stop offset="0.459" stop-color="#ffcccc"/><stop offset="0.482" stop-color="#ffdddd"/><stop offset="0.505" stop-color="#fff1f1"/><stop offset="0.528" stop-color="#f0f0ff"/><stop offset="0.551" stop-color="#e1e1ff"/><stop offset="0.574" stop-color="#d7d7ff"/><stop offset="0.597" stop-color="#d1d1ff"/><stop offset="0.620" stop-color="#ceceff"/><stop offset="0.643" stop-color="#cdcdff"/><stop offset="0.666" stop-color="#cfcfff"/><stop offset="0.689" stop-color="#d3d3ff"/><stop offset="0.712" stop-color="#d8d8ff"/><stop offset="0.735" stop-color="#dedeff"/><stop offset="0.758" stop-color="#e5e5ff"/><stop offset="0.781" stop-color="#ededff"/><stop offset="0.804" stop-color="#f7f7ff"/><stop offset="0.827" stop-color="#fff9f9"/><stop offset="0.850" stop-color="#fff2f2"/><stop offset="0.873" stop-color="#ffeded"/><stop offset="0.896" stop-color="#ffeaea"/><stop offset="0.918" stop-color="#ffe8e8"/><stop offset="0.941" stop-color="#ffe7e7"/><stop offset="0.964" stop-color="#ffe8e8"/><stop offset="0.987" stop-color="#ffe9e9"/></linearGradient><linearGradient id="g87"><stop offset="0.000" stop-color="#0000c0"/><stop offset="0.023" stop-color="#0000a3"/><stop offset="0.046" stop-color="#00009a"/><stop offset="0.069" stop-color="#0000a4"/><stop offset="0.092" stop-color="#0000c0"/><stop offset="0.115" stop-color="#0000e7"/><stop offset="0.138" stop-color="#1e1eff"/><stop offset="0.161" stop-color="#5e5eff"/><stop offset="0.184" stop-color="#9e9eff"/><stop offset="0.207" stop-color="#e0e0ff"/><stop offset="0.230" stop-color="#ffd1d1"/><stop offset="0.253" stop-color="#ffafaf"/><stop offset="0.276" stop-color="#ff9c9c"/><stop offset="0.299" stop-color="#ff9393"/><stop offset="0.321" stop-color="#ff9090"/><stop offset="0.344" stop-color="#ff9292"/><stop offset="0.367" stop-color="#ff9898"/><stop offset="0.390" stop-color="#ffa1a1"/><stop offset="0.413" stop-color="#ffadad"/><stop offset="0.436" stop-color="#ffbbbb"/><stop offset="0.459" stop-color="#ffcbcb"/><stop offset="0.482" stop-color="#ffdcdc"/><stop offset="0.505" stop-color="#fff0f0"/><stop offset="0.528" stop-color="#f1f1ff"/><stop offset="0.551" stop-color="#e2e2ff"/><stop offset="0.574" stop-color="#d8d8ff"/><stop offset="0.597" stop-color="#d2d2ff"/><stop offset="0.620" stop-color="#ceceff"/><stop offset="0.643" stop-color="#ceceff"/><stop offset="0.666" stop-color="#cfcfff"/><stop offset="0.689" stop-color="#d3d3ff"/><stop offset="0.712" stop-color="#d7d7ff"/><stop offset="0.735" stop-color="#dedeff"/><stop offset="0.758" stop-color="#e5e5ff"/><stop offset="0.781" stop-color="#ededff"/><stop offset="0.804" stop-color="#f6f6ff"/><stop offset="0.827" stop-color="#fffafa"/><stop offset="0.850" stop-color="#fff2f2"/><stop offset="0.873" stop-color="#ffeded"/><stop offset="0.896" stop-color="#ffeaea"/><stop offset="0.918" stop-color="#ffe8e8"/><stop offset="0.941" stop-color="#ffe7e7"/><stop offset="0.964" stop-color="#ffe8e8"/><stop offset="0.987" stop-color="#ffe9e9"/></linearGradient><linearGradient id="g88"><stop offset="0.000" stop-color="#0000d9"/><stop offset="0.023" stop-color="#0000bb"/><stop offset="0.046" stop-color="#0000b1"/><stop offset="0.069" stop-color="#0000b9"/><stop offset="0.092" stop-color="#0000d0"/><stop offset="0.115" stop-color="#0000f4"/><stop offset="0.138" stop-color="#2828ff"/><stop offset="0.161" stop-color="#6363ff"/><stop offset="0.184" stop-color="#9f9fff"/><stop offset="0.207" stop-color="#dcdcff"/><stop offset="0.230" stop-color="#ffd6d6"/><stop offset="0.253" stop-color="#ffb4b4"/><stop offset="0.276" stop-color="#ffa0a0"/><stop offset="0.299" stop-color="#ff9595"/><stop offset="0.321" stop-color="#ff9292"/><stop offset="0.344" stop-color="#ff9393"/><stop offset="0.367" stop-color="#ff9999"/><stop offset="0.390" stop-color="#ffa1a1"/><stop offset="0.413" stop-color="#ffadad"/><stop offset="0.436" stop-color="#ffbbbb"/><stop offset="0.459" stop-color="#ffcaca"/><stop offset="0.482" stop-color="#ffdbdb"/><stop offset="0.505" stop-color="#ffeeee"/><stop offset="0.528" stop-color="#f3f3ff"/><stop offset="0.551" stop-color="#e3e3ff"/><stop offset="0.574" stop-color="#d9d9ff"/><stop offset="0.597" stop-color="#d2d2ff"/><stop offset="0.620" stop-color="#cfcfff"/><stop offset="0.643" stop-color="#ceceff"/><stop offset="0.666" stop-color="#cfcfff"/><stop offset="0.689" stop-color="#d2d2ff"/><stop offset="0.712" stop-color="#d7d7ff"/><stop offset="0.735" stop-color="#ddddff"/><stop offset="0.758" stop-color="#e4e4ff"/><stop offset="0.781" stop-color="#ececff"/><stop offset="0.804" stop-color="#f5f5ff"/><stop offset="0.827" stop-color="#fffbfb"/><stop offset="0.850" stop-color="#fff3f3"/><stop offset="0.873" stop-color="#ffeded"/><stop offset="0.896" stop-color="#ffeaea"/><stop offset="0.918" stop-color="#ffe8e8"/><stop offset="0.941" stop-color="#ffe8e8"/><stop offset="0.964" stop-color="#ffe8e8"/><stop offset="0.987" stop-color="#ffe9e9"/></linearGradient><linearGradient id="g89"><stop offset="0.000" stop-color="#0000ee"/><stop offset="0.023" stop-color="#0000d0"/><stop offset="0.046" stop-color="#0000c4"/><stop offset="0.069" stop-color="#0000ca"/><stop offset="0.092" stop-color="#0000de"/><stop offset="0.115" stop-color="#0000fe"/><stop offset="0.138" stop-color="#3131ff"/><stop offset="0.161" stop-color="#6767ff"/><stop offset="0.184" stop-color="#9f9fff"/><stop offset="0.207" stop-color="#d9d9ff"/><stop offset="0.230" stop-color="#ffdbdb"/><stop offset="0.253" stop-color="#ffb8b8"/><stop offset="0.276" stop-color="#ffa3a3"/><stop offset="0.299" stop-color="#ff9898"/><stop offset="0.321" stop-color="#ff9494"/><stop offset="0.344" stop-color="#ff9494"/><stop offset="0.367" stop-color="#ff9999"/><stop offset="0.390" stop-color="#ffa1a1"/><stop offset="0.413" stop-color="#ffacac"/><stop offset="0.436" stop-color="#ffbaba"/><stop offset="0.459" stop-color="#ffc9c9"/><stop offset="0.482" stop-color="#ffdada"/><stop offset="0.505" stop-color="#ffeded"/><stop offset="0.528" stop-color="#f4f4ff"/><stop offset="0.551" stop-color="#e4e4ff"/><stop offset="0.574" stop-color="#dadaff"/><stop offset="0.597" stop-color="#d3d3ff"/><stop offset="0.620" stop-color="#cfcfff"/><stop offset="0.643" stop-color="#ceceff"/><stop offset="0.666" stop-color="#cfcfff"/><stop offset="0.689" stop-color="#d2d2ff"/><stop offset="0.712" stop-color="#d7d7ff"/><stop offset="0.735" stop-color="#ddddff"/><stop offset="0.758" stop-color="#e4e4ff"/><stop offset="0.781" stop-color="#ececff"/><stop offset="0.804" stop-color="#f5f5ff"/><stop offset="0.827" stop-color="#fffcfc"/><stop offset="0.850" stop-color="#fff3f3"/><stop offset="0.873" stop-color="#ffeeee"/><stop offset="0.896" stop-color="#ffeaea"/><stop offset="0.918" stop-color="#ffe8e8"/><stop offset="0.941" stop-color="#ffe8e8"/><stop offset="0.964" stop-color="#ffe8e8"/><stop offset="0.987" stop-color="#ffe9e9"/></linearGradient><linearGradient id="g90"><stop offset="0.000" stop-color="#0101ff"/><stop offset="0.023" stop-color="#0000e2"/><stop offset="0.046" stop-color="#0000d4"/><stop offset="0.069" stop-color="#0000d8"/><stop offset="0.092" stop-color="#0000e9"/><stop offset="0.115" stop-color="#0909ff"/><stop offset="0.138" stop-color="#3737ff"/><stop offset="0.161" stop-color="#6a6aff"/><stop offset="0.184" stop-color="#9f9fff"/><stop offset="0.207" stop-color="#d7d7ff"/><stop offset="0.230" stop-color="#ffdfdf"/><stop offset="0.253" stop-color="#ffbbbb"/><stop offset="0.276" stop-color="#ffa6a6"/><stop offset="0.299" stop-color="#ff9a9a"/><stop offset="0.321" stop-color="#ff9595"/><stop offset="0.344" stop-color="#ff9595"/><stop offset="0.367" stop-color="#ff9a9a"/><stop offset="0.390" stop-color="#ffa1a1"/><stop offset="0.413" stop-color="#ffacac"/><stop offset="0.436" stop-color="#ffb9b9"/><stop offset="0.459" stop-color="#ffc8c8"/><stop offset="0.482" stop-color="#ffd9d9"/><stop offset="0.505" stop-color="#ffecec"/><stop offset="0.528" stop-color="#f6f6ff"/><stop offset="0.551" stop-color="#e5e5ff"/><stop offset="0.574" stop-color="#dadaff"/><stop offset="0.597" stop-color="#d3d3ff"/><stop offset="0.620" stop-color="#cfcfff"/><stop offset="0.643" stop-color="#ceceff"/><stop offset="0.666" stop-color="#cfcfff"/><stop offset="0.689" stop-color="#d2d2ff"/><stop offset="0.712" stop-color="#d7d7ff"/><stop offset="0.735" stop-color="#ddddff"/><stop offset="0.758" stop-color="#e4e4ff"/><stop offset="0.781" stop-color="#ebebff"/><stop offset="0.804" stop-color="#f4f4ff"/><stop offset="0.827" stop-color="#fffdfd"/><stop offset="0.850" stop-color="#fff4f4"/><stop offset="0.873" stop-color="#ffeeee"/><stop offset="0.896" stop-color="#ffebeb"/><stop offset="0.918" stop-color="#ffe9e9"/><stop offset="0.941" stop-color="#ffe8e8"/><stop offset="0.964" stop-color="#ffe8e8"/><stop offset="0.987" stop-color="#ffe9e9"/></linearGradient><linearGradient id="g91"><stop offset="0.000" stop-color="#1313ff"/><stop offset="0.023" stop-color="#0000f0"/><stop offset="0.046" stop-color="#0000e1"/><stop offset="0.069" stop-color="#0000e2"/><stop offset="0.092" stop-color="#0000f2"/><stop offset="0.115" stop-color="#1111ff"/><stop offset="0.138" stop-color="#3c3cff"/><stop offset="0.161" stop-color="#6c6cff"/><stop offset="0.184" stop-color="#9f9fff"/><stop offset="0.207" stop-color="#d4d4ff"/><stop offset="0.230" stop-color="#ffe3e3"/><stop offset="0.253" stop-color="#ffbebe"/><stop offset="0.276" stop-color="#ffa9a9"/><stop offset="0.299" stop-color="#ff9c9c"/><stop offset="0.321" stop-color="#ff9797"/><stop offset="0.344" stop-color="#ff9696"/><stop offset="0.367" stop-color="#ff9a9a"/><stop offset="0.390" stop-color="#ffa1a1"/><stop offset="0.413" stop-color="#ffacac"/><stop offset="0.436" stop-color="#ffb9b9"/><stop offset="0.459" stop-color="#ffc8c8"/><stop offset="0.482" stop-color="#ffd8d8"/><stop offset="0.505" stop-color="#ffeaea"/><stop offset="0.528" stop-color="#f7f7ff"/><stop offset="0.551" stop-color="#e6e6ff"/><stop offset="0.574" stop-color="#dbdbff"/><stop offset="0.597" stop-color="#d4d4ff"/><stop offset="0.620" stop-color="#d0d0ff"/><stop offset="0.643" stop-color="#ceceff"/><stop offset="0.666" stop-color="#cfcfff"/><stop offset="0.689" stop-color="#d2d2ff"/><stop offset="0.712" stop-color="#d7d7ff"/><stop offset="0.735" stop-color="#dcdcff"/><stop offset="0.758" stop-color="#e3e3ff"/><stop offset="0.781" stop-color="#ebebff"/><stop offset="0.804" stop-color="#f3f3ff"/><stop offset="0.827" stop-color="#fffefe"/><stop offset="0.850" stop-color="#fff4f4"/><stop offset="0.873" stop-color="#ffefef"/><stop offset="0.896" stop-color="#ffebeb"/><stop offset="0.918" stop-color="#ffe9e9"/><stop offset="0.941" stop-color="#ffe8e8"/><stop offset="0.964" stop-color="#ffe8e8"/><stop offset="0.987" stop-color="#ffe9e9"/></linearGradient><linearGradient id="g92"><stop offset="0.000" stop-color="#2222ff"/><stop offset="0.023" stop-color="#0000fb"/><stop offset="0.046" stop-color="#0000eb"/><stop offset="0.069" stop-color="#0000eb"/><stop offset="0.092" stop-color="#0000f8"/><stop offset="0.115" stop-color="#1616ff"/><stop offset="0.138" stop-color="#3f3fff"/><stop offset="0.161" stop-color="#6d6dff"/><stop offset="0.184" stop-color="#9e9eff"/><stop offset="0.207" stop-color="#d1d1ff"/><stop offset="0.230" stop-color="#ffe7e7"/><stop offset="0.253" stop-color="#ffc2c2"/><stop offset="0.276" stop-color="#ffabab"/><stop offset="0.299" stop-color="#ff9e9e"/><stop offset="0.321" stop-color="#ff9898"/><stop offset="0.344" stop-color="#ff9797"/><stop offset="0.367" stop-color="#ff9a9a"/><stop offset="0.390" stop-color="#ffa1a1"/><stop offset="0.413" stop-color="#ffabab"/><stop offset="0.436" stop-color="#ffb8b8"/><stop offset="0.459" stop-color="#ffc7c7"/><stop offset="0.482" stop-color="#ffd7d7"/><stop offset="0.505" stop-color="#ffe9e9"/><stop offset="0.528" stop-color="#f9f9ff"/><stop offset="0.551" stop-color="#e7e7ff"/><stop offset="0.574" stop-color="#dcdcff"/><stop offset="0.597" stop-color="#d4d4ff"/><stop offset="0.620" stop-color="#d0d0ff"/><stop offset="0.643" stop-color="#cfcfff"/><stop offset="0.666" stop-color="#cfcfff"/><stop offset="0.689" stop-color="#d2d2ff"/><stop offset="0.712" stop-color="#d6d6ff"/><stop offset="0.735" stop-color="#dcdcff"/><stop offset="0.758" stop-color="#e3e3ff"/><stop offset="0.781" stop-color="#eaeaff"/><stop offset="0.804" stop-color="#f3f3ff"/><stop offset="0.827" stop-color="#fefeff"/><stop offset="0.850" stop-color="#fff5f5"/><stop offset="0.873" stop-color="#ffefef"/><stop offset="0.896" stop-color="#ffebeb"/><stop offset="0.918" stop-color="#ffe9e9"/><stop offset="0.941" stop-color="#ffe8e8"/><stop offset="0.964" stop-color="#ffe8e8"/><stop offset="0.987" stop-color="#ffe9e9"/></linearGradient><linearGradient id="g93"><stop offset="0.000" stop-color="#2f2fff"/><stop offset="0.023" stop-color="#0707ff"/><stop offset="0.046" stop-color="#0000f3"/><stop offset="0.069" stop-color="#0000f1"/><stop offset="0.092" stop-color="#0000fd"/><stop offset="0.115" stop-color="#1a1aff"/><stop offset="0.138" stop-color="#4141ff"/><stop offset="0.161" stop-color="#6d6dff"/><stop offset="0.184" stop-color="#9d9dff"/><stop offset="0.207" stop-color="#ceceff"/><stop offset="0.230" stop-color="#ffecec"/><stop offset="0.253" stop-color="#ffc4c4"/><stop offset="0.276" stop-color="#ffaeae"/><stop offset="0.299" stop-color="#ffa0a0"/><stop offset="0.321" stop-color="#ff9999"/><stop offset="0.344" stop-color="#ff9898"/><stop offset="0.367" stop-color="#ff9b9b"/><stop offset="0.390" stop-color="#ffa1a1"/><stop offset="0.413" stop-color="#ffabab"/><stop offset="0.436" stop-color="#ffb7b7"/><stop offset="0.459" stop-color="#ffc6c6"/><stop offset="0.482" stop-color="#ffd6d6"/><stop offset="0.505" stop-color="#ffe8e8"/><stop offset="0.528" stop-color="#fbfbff"/><stop offset="0.551" stop-color="#e8e8ff"/><stop offset="0.574" stop-color="#ddddff"/><stop offset="0.597" stop-color="#d5d5ff"/><stop offset="0.620" stop-color="#d1d1ff"/><stop offset="0.643" stop-color="#cfcfff"/><stop offset="0.666" stop-color="#cfcfff"/><stop offset="0.689" stop-color="#d2d2ff"/><stop offset="0.712" stop-color="#d6d6ff"/><stop offset="0.735" stop-color="#dcdcff"/><stop offset="0.758" stop-color="#e2e2ff"/><stop offset="0.781" stop-color="#eaeaff"/><stop offset="0.804" stop-color="#f2f2ff"/><stop offset="0.827" stop-color="#fcfcff"/><stop offset="0.850" stop-color="#fff5f5"/><stop offset="0.873" stop-color="#ffefef"/><stop offset="0.896" stop-color="#ffebeb"/><stop offset="0.918" stop-color="#ffe9e9"/><stop offset="0.941" stop-color="#ffe8e8"/><stop offset="0.964" stop-color="#ffe8e8"/><stop offset="0.987" stop-color="#ffe9e9"/></linearGradient><linearGradient id="g94"><stop offset="0.000" stop-color="#ffb1b1"/><stop offset="0.023" stop-color="#ffabab"/><stop offset="0.046" stop-color="#ffb4b4"/><stop offset="0.069" stop-color="#ffc6c6"/><stop offset="0.092" stop-color="#ffd9d9"/><stop offset="0.115" stop-color="#ffebeb"/><stop offset="0.138" stop-color="#fdfdff"/><stop offset="0.161" stop-color="#f0f0ff"/><stop offset="0.184" stop-color="#eaeaff"/><stop offset="0.207" stop-color="#e9e9ff"/><stop offset="0.230" stop-color="#ebebff"/><stop offset="0.253" stop-color="#eeeeff"/><stop offset="0.276" stop-color="#f3f3ff"/><stop offset="0.299" stop-color="#f8f8ff"/><stop offset="0.321" stop-color="#fffefe"/><stop offset="0.344" stop-color="#fff9f9"/><stop offset="0.367" stop-color="#fff8f8"/><stop offset="0.390" stop-color="#fff7f7"/><stop offset="0.413" stop-color="#fff8f8"/><stop offset="0.436" stop-color="#fff9f9"/><stop offset="0.459" stop-color="#fffbfb"/><stop offset="0.482" stop-color="#fffcfc"/><stop offset="0.505" stop-color="#fefeff"/><stop offset="0.528" stop-color="#fdfdff"/><stop offset="0.551" stop-color="#fcfcff"/><stop offset="0.574" stop-color="#fcfcff"/><stop offset="0.597" stop-color="#fcfcff"/><stop offset="0.620" stop-color="#fdfdff"/><stop offset="0.643" stop-color="#fdfdff"/><stop offset="0.666" stop-color="#fefeff"/><stop offset="0.689" stop-color="#fffefe"/><stop offset="0.712" stop-color="#fffefe"/><stop offset="0.735" stop-color="#fffefe"/><stop offset="0.758" stop-color="#fffefe"/><stop offset="0.781" stop-color="#fffefe"/><stop offset="0.804" stop-color="#fffefe"/><stop offset="0.827" stop-color="#fffefe"/><stop offset="0.850" stop-color="#fffefe"/><stop offset="0.873" stop-color="#fefeff"/><stop offset="0.896" stop-color="#fefeff"/><stop offset="0.918" stop-color="#fefeff"/><stop offset="0.941" stop-color="#fefeff"/><stop offset="0.964" stop-color="#fefeff"/><stop offset="0.987" stop-color="#fefeff"/></linearGradient><linearGradient id="g95"><stop offset="0.000" stop-color="#ffa9a9"/><stop offset="0.023" stop-color="#ffa4a4"/><stop offset="0.046" stop-color="#ffafaf"/><stop offset="0.069" stop-color="#ffc3c3"/><stop offset="0.092" stop-color="#ffd8d8"/><stop offset="0.115" stop-color="#ffecec"/><stop offset="0.138" stop-color="#fafaff"/><stop offset="0.161" stop-color="#eeeeff"/><stop offset="0.184" stop-color="#e9e9ff"/><stop offset="0.207" stop-color="#e8e8ff"/><stop offset="0.230" stop-color="#eaeaff"/><stop offset="0.253" stop-color="#eeeeff"/><stop offset="0.276" stop-color="#f3f3ff"/><stop offset="0.299" stop-color="#f9f9ff"/><stop offset="0.321" stop-color="#fffdfd"/><stop offset="0.344" stop-color="#fff9f9"/><stop offset="0.367" stop-color="#fff7f7"/><stop offset="0.390" stop-color="#fff7f7"/><stop offset="0.413" stop-color="#fff8f8"/><stop offset="0.436" stop-color="#fff9f9"/><stop offset="0.459" stop-color="#fffbfb"/><stop offset="0.482" stop-color="#fffcfc"/><stop offset="0.505" stop-color="#fefeff"/><stop offset="0.528" stop-color="#fdfdff"/><stop offset="0.551" stop-color="#fcfcff"/><stop offset="0.574" stop-color="#fcfcff"/><stop offset="0.597" stop-color="#fcfcff"/><stop offset="0.620" stop-color="#fdfdff"/><stop offset="0.643" stop-color="#fdfdff"/><stop offset="0.666" stop-color="#fefeff"/><stop offset="0.689" stop-color="#fffefe"/><stop offset="0.712" stop-color="#fffefe"/><stop offset="0.735" stop-color="#fffefe"/><stop offset="0.758" stop-color="#fffefe"/><stop offset="0.781" stop-color="#fffefe"/><stop offset="0.804" stop-color="#fffefe"/><stop offset="0.827" stop-color="#fffefe"/><stop offset="0.850" stop-color="#fffefe"/><stop offset="0.873" stop-color="#fefeff"/><stop offset="0.896" stop-color="#fefeff"/><stop offset="0.918" stop-color="#fefeff"/><stop offset="0.941" stop-color="#fefeff"/><stop offset="0.964" stop-color="#fefeff"/><stop offset="0.987" stop-color="#fefeff"/></linearGradient><linearGradient id="g96"><stop offset="0.000" stop-color="#ff9f9f"/><stop offset="0.023" stop-color="#ff9b9b"/><stop offset="0.046" stop-color="#ffa9a9"/><stop offset="0.069" stop-color="#ffc0c0"/><stop offset="0.092" stop-color="#ffd8d8"/><stop offset="0.115" stop-color="#ffeded"/><stop offset="0.138" stop-color="#f8f8ff"/><stop offset="0.161" stop-color="#ededff"/><stop offset="0.184" stop-color="#e8e8ff"/><stop offset="0.207" stop-color="#e7e7ff"/><stop offset="0.230" stop-color="#eaeaff"/><stop offset="0.253" stop-color="#eeeeff"/><stop offset="0.276" stop-color="#f3f3ff"/><stop offset="0.299" stop-color="#f9f9ff"/><stop offset="0.321" stop-color="#fffcfc"/><stop offset="0.344" stop-color="#fff8f8"/><stop offset="0.367" stop-color="#fff7f7"/><stop offset="0.390" stop-color="#fff7f7"/><stop offset="0.413" stop-color="#fff7f7"/><stop offset="0.436" stop-color="#fff9f9"/><stop offset="0.459" stop-color="#fffbfb"/><stop offset="0.482" stop-color="#fffdfd"/><stop offset="0.505" stop-color="#fefeff"/><stop offset="0.528" stop-color="#fcfcff"/><stop offset="0.551" stop-color="#fcfcff"/><stop offset="0.574" stop-color="#fcfcff"/><stop offset="0.597" stop-color="#fcfcff"/><stop offset="0.620" stop-color="#fdfdff"/><stop offset="0.643" stop-color="#fdfdff"/><stop offset="0.666" stop-color="#fefeff"/><stop offset="0.689" stop-color="#fffefe"/><stop offset="0.712" stop-color="#fffefe"/><stop offset="0.735" stop-color="#fffefe"/><stop offset="0.758" stop-color="#fffefe"/><stop offset="0.781" stop-color="#fffefe"/><stop offset="0.804" stop-color="#fffefe"/><stop offset="0.827" stop-color="#fffefe"/><stop offset="0.850" stop-color="#fffefe"/><stop offset="0.873" stop-color="#fefeff"/><stop offset="0.896" stop-color="#fefeff"/><stop offset="0.918" stop-color="#fefeff"/><stop offset="0.941" stop-color="#fefeff"/><stop offset="0.964" stop-color="#fefeff"/><stop offset="0.987" stop-color="#fefeff"/></linearGradient><linearGradient id="g97"><stop offset="0.000" stop-color="#ff9595"/><stop offset="0.023" stop-color="#ff9292"/><stop offset="0.046" stop-color="#ffa3a3"/><stop offset="0.069" stop-color="#ffbdbd"/><stop offset="0.092" stop-color="#ffd7d7"/><stop offset="0.115" stop-color="#ffeeee"/><stop offset="0.138" stop-color="#f6f6ff"/><stop offset="0.161" stop-color="#ebebff"/><stop offset="0.184" stop-color="#e7e7ff"/><stop offset="0.207" stop-color="#e6e6ff"/><stop offset="0.230" stop-color="#e9e9ff"/><stop offset="0.253" stop-color="#ededff"/><stop offset="0.276" stop-color="#f3f3ff"/><stop offset="0.299" stop-color="#f9f9ff"/><stop offset="0.321" stop-color="#fffcfc"/><stop offset="0.344" stop-color="#fff8f8"/><stop offset="0.367" stop-color="#fff6f6"/><stop offset="0.390" stop-color="#fff6f6"/><stop offset="0.413" stop-color="#fff7f7"/><stop offset="0.436" stop-color="#fff9f9"/><stop offset="0.459" stop-color="#fffbfb"/><stop offset="0.482" stop-color="#fffdfd"/><stop offset="0.505" stop-color="#fefeff"/><stop offset="0.528" stop-color="#fcfcff"/><stop offset="0.551" stop-color="#fcfcff"/><stop offset="0.574" stop-color="#fcfcff"/><stop offset="0.597" stop-color="#fcfcff"/><stop offset="0.620" stop-color="#fcfcff"/><stop offset="0.643" stop-color="#fdfdff"/><stop offset="0.666" stop-color="#fefeff"/><stop offset="0.689" stop-color="#fffefe"/><stop offset="0.712" stop-color="#fffefe"/><stop offset="0.735" stop-color="#fffefe"/><stop offset="0.758" stop-color="#fffefe"/><stop offset="0.781" stop-color="#fffefe"/><stop offset="0.804" stop-color="#fffefe"/><stop offset="0.827" stop-color="#fffefe"/><stop offset="0.850" stop-color="#fffefe"/><stop offset="0.873" stop-color="#fefeff"/><stop offset="0.896" stop-color="#fefeff"/><stop offset="0.918" stop-color="#fefeff"/><stop offset="0.941" stop-color="#fefeff"/><stop offset="0.964" stop-color="#fefeff"/><stop offset="0.987" stop-color="#fefeff"/></linearGradient><linearGradient id="g98"><stop offset="0.000" stop-color="#ff8989"/><stop offset="0.023" stop-color="#ff8787"/><stop offset="0.046" stop-color="#ff9b9b"/><stop offset="0.069" stop-color="#ffb9b9"/><stop offset="0.092" stop-color="#ffd6d6"/><stop offset="0.115" stop-color="#ffefef"/><stop offset="0.138" stop-color="#f4f4ff"/><stop offset="0.161" stop-color="#e9e9ff"/><stop offset="0.184" stop-color="#e5e5ff"/><stop offset="0.207" stop-color="#e5e5ff"/><stop offset="0.230" stop-color="#e8e8ff"/><stop offset="0.253" stop-color="#ededff"/><stop offset="0.276" stop-color="#f3f3ff"/><stop offset="0.299" stop-color="#fafaff"/><stop offset="0.321" stop-color="#fffbfb"/><stop offset="0.344" stop-color="#fff7f7"/><stop offset="0.367" stop-color="#fff6f6"/><stop offset="0.390" stop-color="#fff6f6"/><stop offset="0.413" stop-color="#fff7f7"/><stop offset="0.436" stop-color="#fff9f9"/><stop offset="0.459" stop-color="#fffbfb"/><stop offset="0.482" stop-color="#fffdfd"/><stop offset="0.505" stop-color="#fdfdff"/><stop offset="0.528" stop-color="#fcfcff"/><stop offset="0.551" stop-color="#fcfcff"/><stop offset="0.574" stop-color="#fcfcff"/><stop offset="0.597" stop-color="#fcfcff"/><stop offset="0.620" stop-color="#fcfcff"/><stop offset="0.643" stop-color="#fdfdff"/><stop offset="0.666" stop-color="#fefeff"/><stop offset="0.689" stop-color="#fffefe"/><stop offset="0.712" stop-color="#fffefe"/><stop offset="0.735" stop-color="#fffdfd"/><stop offset="0.758" stop-color="#fffdfd"/><stop offset="0.781" stop-color="#fffefe"/><stop offset="0.804" stop-color="#fffefe"/><stop offset="0.827" stop-color="#fffefe"/><stop offset="0.850" stop-color="#fffefe"/><stop offset="0.873" stop-color="#fefeff"/><stop offset="0.896" stop-color="#fefeff"/><stop offset="0.918" stop-color="#fefeff"/><stop offset="0.941" stop-color="#fefeff"/><stop offset="0.964" stop-color="#fefeff"/><stop offset="0.987" stop-color="#fefeff"/></linearGradient><linearGradient id="g99"><stop offset="0.000" stop-color="#ff7b7b"/><stop offset="0.023" stop-color="#ff7b7b"/><stop offset="0.046" stop-color="#ff9393"/><stop offset="0.069" stop-color="#ffb5b5"/><stop offset="0.092" stop-color="#ffd5d5"/><stop offset="0.115" stop-color="#fff0f0"/><stop offset="0.138" stop-color="#f2f2ff"/><stop offset="0.161" stop-color="#e8e8ff"/><stop offset="0.184" stop-color="#e4e4ff"/><stop offset="0.207" stop-color="#e4e4ff"/><stop offset="0.230" stop-color="#e8e8ff"/><stop offset="0.253" stop-color="#ededff"/><stop offset="0.276" stop-color="#f3f3ff"/><stop offset="0.299" stop-color="#fafaff"/><stop offset="0.321" stop-color="#fffafa"/><stop offset="0.344" stop-color="#fff7f7"/><stop offset="0.367" stop-color="#fff5f5"/><stop offset="0.390" stop-color="#fff6f6"/><stop offset="0.413" stop-color="#fff7f7"/><stop offset="0.436" stop-color="#fff8f8"/><stop offset="0.459" stop-color="#fffbfb"/><stop offset="0.482" stop-color="#fffdfd"/><stop offset="0.505" stop-color="#fdfdff"/><stop offset="0.528" stop-color="#fcfcff"/><stop offset="0.551" stop-color="#fbfbff"/><stop offset="0.574" stop-color="#fbfbff"/><stop offset="0.597" stop-color="#fcfcff"/><stop offset="0.620" stop-color="#fcfcff"/><stop offset="0.643" stop-color="#fdfdff"/><stop offset="0.666" stop-color="#fefeff"/><stop offset="0.689" stop-color="#fffefe"/><stop offset="0.712" stop-color="#fffefe"/><stop offset="0.735" stop-color="#fffdfd"/><stop offset="0.758" stop-color="#fffdfd"/><stop offset="0.781" stop-color="#fffefe"/><stop offset="0.804" stop-color="#fffefe"/><stop offset="0.827" stop-color="#fffefe"/><stop offset="0.850" stop-color="#fffefe"/><stop offset="0.873" stop-color="#fefeff"/><stop offset="0.896" stop-color="#fefeff"/><stop offset="0.918" stop-color="#fefeff"/><stop offset="0.941" stop-color="#fefeff"/><stop offset="0.964" stop-color="#fefeff"/><stop offset="0.987" stop-color="#fefeff"/></linearGradient><linearGradient id="g100"><stop offset="0.000" stop-color="#ff6b6b"/><stop offset="0.023" stop-color="#ff6d6d"/><stop offset="0.046" stop-color="#ff8989"/><stop offset="0.069" stop-color="#ffb0b0"/><stop offset="0.092" stop-color="#ffd4d4"/><stop offset="0.115" stop-color="#fff2f2"/><stop offset="0.138" stop-color="#f0f0ff"/><stop offset="0.161" stop-color="#e6e6ff"/><stop offset="0.184" stop-color="#e3e3ff"/><stop offset="0.207" stop-color="#e3e3ff"/><stop offset="0.230" stop-color="#e7e7ff"/><stop offset="0.253" stop-color="#ededff"/><stop offset="0.276" stop-color="#f3f3ff"/><stop offset="0.299" stop-color="#fbfbff"/><stop offset="0.321" stop-color="#fffafa"/><stop offset="0.344" stop-color="#fff6f6"/><stop offset="0.367" stop-color="#fff5f5"/><stop offset="0.390" stop-color="#fff5f5"/><stop offset="0.413" stop-color="#fff6f6"/><stop offset="0.436" stop-color="#fff8f8"/><stop offset="0.459" stop-color="#fffbfb"/><stop offset="0.482" stop-color="#fffdfd"/><stop offset="0.505" stop-color="#fdfdff"/><stop offset="0.528" stop-color="#fcfcff"/><stop offset="0.551" stop-color="#fbfbff"/><stop offset="0.574" stop-color="#fbfbff"/><stop offset="0.597" stop-color="#fcfcff"/><stop offset="0.620" stop-color="#fcfcff"/><stop offset="0.643" stop-color="#fdfdff"/><stop offset="0.666" stop-color="#fefeff"/><stop offset="0.689" stop-color="#fffefe"/><stop offset="0.712" stop-color="#fffefe"/><stop offset="0.735" stop-color="#fffdfd"/><stop offset="0.758" stop-color="#fffdfd"/><stop offset="0.781" stop-color="#fffefe"/><stop offset="0.804" stop-color="#fffefe"/><stop offset="0.827" stop-color="#fffefe"/><stop offset="0.850" stop-color="#fffefe"/><stop offset="0.873" stop-color="#fefeff"/><stop offset="0.896" stop-color="#fefeff"/><stop offset="0.918" stop-color="#fefeff"/><stop offset="0.941" stop-color="#fefeff"/><stop offset="0.964" stop-color="#fefeff"/><stop offset="0.987" stop-color="#fefeff"/></linearGradient><linearGradient id="g101"><stop offset="0.000" stop-color="#ff5959"/><stop offset="0.023" stop-color="#ff5c5c"/><stop offset="0.046" stop-color="#ff7e7e"/><stop offset="0.069" stop-color="#ffabab"/><stop offset="0.092" stop-color="#ffd3d3"/><stop offset="0.115" stop-color="#fff4f4"/><stop offset="0.138" stop-color="#ededff"/><stop offset="0.161" stop-color="#e4e4ff"/><stop offset="0.184" stop-color="#e1e1ff"/><stop offset="0.207" stop-color="#e2e2ff"/><stop offset="0.230" stop-color="#e7e7ff"/><stop offset="0.253" stop-color="#ededff"/><stop offset="0.276" stop-color="#f4f4ff"/><stop offset="0.299" stop-color="#fbfbff"/><stop offset="0.321" stop-color="#fff9f9"/><stop offset="0.344" stop-color="#fff6f6"/><stop offset="0.367" stop-color="#fff4f4"/><stop offset="0.390" stop-color="#fff5f5"/><stop offset="0.413" stop-color="#fff6f6"/><stop offset="0.436" stop-color="#fff8f8"/><stop offset="0.459" stop-color="#fffbfb"/><stop offset="0.482" stop-color="#fffdfd"/><stop offset="0.505" stop-color="#fdfdff"/><stop offset="0.528" stop-color="#fbfbff"/><stop offset="0.551" stop-color="#fbfbff"/><stop offset="0.574" stop-color="#fbfbff"/><stop offset="0.597" stop-color="#fcfcff"/><stop offset="0.620" stop-color="#fcfcff"/><stop offset="0.643" stop-color="#fdfdff"/><stop offset="0.666" stop-color="#fefeff"/><stop offset="0.689" stop-color="#fffefe"/><stop offset="0.712" stop-color="#fffdfd"/><stop offset="0.735" stop-color="#fffdfd"/><stop offset="0.758" stop-color="#fffdfd"/><stop offset="0.781" stop-color="#fffefe"/><stop offset="0.804" stop-color="#fffefe"/><stop offset="0.827" stop-color="#fffefe"/><stop offset="0.850" stop-color="#fffefe"/><stop offset="0.873" stop-color="#fefeff"/><stop offset="0.896" stop-color="#fefeff"/><stop offset="0.918" stop-color="#fefeff"/><stop offset="0.941" stop-color="#fefeff"/><stop offset="0.964" stop-color="#fefeff"/><stop offset="0.987" stop-color="#fefeff"/></linearGradient><linearGradient id="g102"><stop offset="0.000" stop-color="#ff4343"/><stop offset="0.023" stop-color="#ff4949"/><stop offset="0.046" stop-color="#ff7171"/><stop offset="0.069" stop-color="#ffa5a5"/><stop offset="0.092" stop-color="#ffd2d2"/><stop offset="0.115" stop-color="#fff6f6"/><stop offset="0.138" stop-color="#ebebff"/><stop offset="0.161" stop-color="#e2e2ff"/><stop offset="0.184" stop-color="#e0e0ff"/><stop offset="0.207" stop-color="#e2e2ff"/><stop offset="0.230" stop-color="#e6e6ff"/><stop offset="0.253" stop-color="#ececff"/><stop offset="0.276" stop-color="#f4f4ff"/><stop offset="0.299" stop-color="#fcfcff"/><stop offset="0.321" stop-color="#fff8f8"/><stop offset="0.344" stop-color="#fff5f5"/><stop offset="0.367" stop-color="#fff4f4"/><stop offset="0.390" stop-color="#fff5f5"/><stop offset="0.413" stop-color="#fff6f6"/><stop offset="0.436" stop-color="#fff8f8"/><stop offset="0.459" stop-color="#fffbfb"/><stop offset="0.482" stop-color="#fffefe"/><stop offset="0.505" stop-color="#fcfcff"/><stop offset="0.528" stop-color="#fbfbff"/><stop offset="0.551" stop-color="#fbfbff"/><stop offset="0.574" stop-color="#fbfbff"/><stop offset="0.597" stop-color="#fcfcff"/><stop offset="0.620" stop-color="#fcfcff"/><stop offset="0.643" stop-color="#fdfdff"/><stop offset="0.666" stop-color="#fefeff"/><stop offset="0.689" stop-color="#fffefe"/><stop offset="0.712" stop-color="#fffdfd"/><stop offset="0.735" stop-color="#fffdfd"/><stop offset="0.758" stop-color="#fffdfd"/><stop offset="0.781" stop-color="#fffefe"/><stop offset="0.804" stop-color="#fffefe"/><stop offset="0.827" stop-color="#fffefe"/><stop offset="0.850" stop-color="#fffefe"/><stop offset="0.873" stop-color="#fefeff"/><stop offset="0.896" stop-color="#fefeff"/><stop offset="0.918" stop-color="#fefeff"/><stop offset="0.941" stop-color="#fefeff"/><stop offset="0.964" stop-color="#fefeff"/><stop offset="0.987" stop-color="#fefeff"/></linearGradient><linearGradient id="g103"><stop offset="0.000" stop-color="#ff2a2a"/><stop offset="0.023" stop-color="#ff3232"/><stop offset="0.046" stop-color="#ff6262"/><stop offset="0.069" stop-color="#ff9e9e"/><stop offset="0.092" stop-color="#ffd2d2"/><stop offset="0.115" stop-color="#fff9f9"/><stop offset="0.138" stop-color="#e8e8ff"/><stop offset="0.161" stop-color="#e0e0ff"/><stop offset="0.184" stop-color="#dedeff"/><stop offset="0.207" stop-color="#e1e1ff"/><stop offset="0.230" stop-color="#e6e6ff"/><stop offset="0.253" stop-color="#ececff"/><stop offset="0.276" stop-color="#f4f4ff"/><stop offset="0.299" stop-color="#fdfdff"/><stop offset="0.321" stop-color="#fff8f8"/><stop offset="0.344" stop-color="#fff4f4"/><stop offset="0.367" stop-color="#fff4f4"/><stop offset="0.390" stop-color="#fff4f4"/><stop offset="0.413" stop-color="#fff6f6"/><stop offset="0.436" stop-color="#fff8f8"/><stop offset="0.459" stop-color="#fffbfb"/><stop offset="0.482" stop-color="#fffefe"/><stop offset="0.505" stop-color="#fcfcff"/><stop offset="0.528" stop-color="#fbfbff"/><stop offset="0.551" stop-color="#fbfbff"/><stop offset="0.574" stop-color="#fbfbff"/><stop offset="0.597" stop-color="#fcfcff"/><stop offset="0.620" stop-color="#fcfcff"/><stop offset="0.643" stop-color="#fdfdff"/><stop offset="0.666" stop-color="#fefeff"/><stop offset="0.689" stop-color="#fffefe"/><stop offset="0.712" stop-color="#fffdfd"/><stop offset="0.735" stop-color="#fffdfd"/><stop offset="0.758" stop-color="#fffdfd"/><stop offset="0.781" stop-color="#fffdfd"/><stop offset="0.804" stop-color="#fffefe"/><stop offset="0.827" stop-color="#fffefe"/><stop offset="0.850" stop-color="#fffefe"/><stop offset="0.873" stop-color="#fefeff"/><stop offset="0.896" stop-color="#fefeff"/><stop offset="0.918" stop-color="#fefeff"/><stop offset="0.941" stop-color="#fefeff"/><stop offset="0.964" stop-color="#fefeff"/><stop offset="0.987" stop-color="#fefeff"/></linearGradient><linearGradient id="g104"><stop offset="0.000" stop-color="#ff0c0c"/><stop offset="0.023" stop-color="#ff1818"/><stop offset="0.046" stop-color="#ff5151"/><stop offset="0.069" stop-color="#ff9797"/><stop offset="0.092" stop-color="#ffd1d1"/><stop offset="0.115" stop-color="#fefeff"/><stop offset="0.138" stop-color="#e6e6ff"/><stop offset="0.161" stop-color="#dedeff"/><stop offset="0.184" stop-color="#ddddff"/><stop offset="0.207" stop-color="#e0e0ff"/><stop offset="0.230" stop-color="#e5e5ff"/><stop offset="0.253" stop-color="#ececff"/><stop offset="0.276" stop-color="#f4f4ff"/><stop offset="0.299" stop-color="#fffefe"/><stop offset="0.321" stop-color="#fff7f7"/><stop offset="0.344" stop-color="#fff4f4"/><stop offset="0.367" stop-color="#fff3f3"/><stop offset="0.390" stop-color="#fff4f4"/><stop offset="0.413" stop-color="#fff6f6"/><stop offset="0.436" stop-color="#fff8f8"/><stop offset="0.459" stop-color="#fffbfb"/><stop offset="0.482" stop-color="#fefeff"/><stop offset="0.505" stop-color="#fcfcff"/><stop offset="0.528" stop-color="#fbfbff"/><stop offset="0.551" stop-color="#fbfbff"/><stop offset="0.574" stop-color="#fbfbff"/><stop offset="0.597" stop-color="#fbfbff"/><stop offset="0.620" stop-color="#fcfcff"/><stop offset="0.643" stop-color="#fdfdff"/><stop offset="0.666" stop-color="#fffefe"/><stop offset="0.689" stop-color="#fffefe"/><stop offset="0.712" stop-color="#fffdfd"/><stop offset="0.735" stop-color="#fffdfd"/><stop offset="0.758" stop-color="#fffdfd"/><stop offset="0.781" stop-color="#fffdfd"/><stop offset="0.804" stop-color="#fffefe"/><stop offset="0.827" stop-color="#fffefe"/><stop offset="0.850" stop-color="#fefeff"/><stop offset="0.873" stop-color="#fefeff"/><stop offset="0.896" stop-color="#fefeff"/><stop offset="0.918" stop-color="#fefeff"/><stop offset="0.941" stop-color="#fefeff"/><stop offset="0.964" stop-color="#fefeff"/><stop offset="0.987" stop-color="#fefeff"/></linearGradient><linearGradient id="g105"><stop offset="0.000" stop-color="#ed0000"/><stop offset="0.023" stop-color="#fa0000"/><stop offset="0.046" stop-color="#ff3d3d"/><stop offset="0.069" stop-color="#ff8e8e"/><stop offset="0.092" stop-color="#ffd0d0"/><stop offset="0.115" stop-color="#f8f8ff"/><stop offset="0.138" stop-color="#e3e3ff"/><stop offset="0.161" stop-color="#dcdcff"/><stop offset="0.184" stop-color="#dbdbff"/><stop offset="0.207" stop-color="#dfdfff"/><stop offset="0.230" stop-color="#e4e4ff"/><stop offset="0.253" stop-color="#ececff"/><stop offset="0.276" stop-color="#f5f5ff"/><stop offset="0.299" stop-color="#fffdfd"/><stop offset="0.321" stop-color="#fff6f6"/><stop offset="0.344" stop-color="#fff3f3"/><stop offset="0.367" stop-color="#fff3f3"/><stop offset="0.390" stop-color="#fff4f4"/><stop offset="0.413" stop-color="#fff6f6"/><stop offset="0.436" stop-color="#fff8f8"/><stop offset="0.459" stop-color="#fffbfb"/><stop offset="0.482" stop-color="#fefeff"/><stop offset="0.505" stop-color="#fcfcff"/><stop offset="0.528" stop-color="#fbfbff"/><stop offset="0.551" stop-color="#fafaff"/><stop offset="0.574" stop-color="#fbfbff"/><stop offset="0.597" stop-color="#fbfbff"/><stop offset="0.620" stop-color="#fcfcff"/><stop offset="0.643" stop-color="#fdfdff"/><stop offset="0.666" stop-color="#fffefe"/><stop offset="0.689" stop-color="#fffdfd"/><stop offset="0.712" stop-color="#fffdfd"/><stop offset="0.735" stop-color="#fffdfd"/><stop offset="0.758" stop-color="#fffdfd"/><stop offset="0.781" stop-color="#fffdfd"/><stop offset="0.804" stop-color="#fffefe"/><stop offset="0.827" stop-color="#fffefe"/><stop offset="0.850" stop-color="#fefeff"/><stop offset="0.873" stop-color="#fefeff"/><stop offset="0.896" stop-color="#fefeff"/><stop offset="0.918" stop-color="#fefeff"/><stop offset="0.941" stop-color="#fefeff"/><stop offset="0.964" stop-color="#fefeff"/><stop offset="0.987" stop-color="#fefeff"/></linearGradient><linearGradient id="g106"><stop offset="0.000" stop-color="#cc0000"/><stop offset="0.023" stop-color="#dd0000"/><stop offset="0.046" stop-color="#ff2626"/><stop offset="0.069" stop-color="#ff8585"/><stop offset="0.092" stop-color="#ffcfcf"/><stop offset="0.115" stop-color="#f3f3ff"/><stop offset="0.138" stop-color="#dfdfff"/><stop offset="0.161" stop-color="#dadaff"/><stop offset="0.184" stop-color="#dadaff"/><stop offset="0.207" stop-color="#dedeff"/><stop offset="0.230" stop-color="#e4e4ff"/><stop offset="0.253" stop-color="#ececff"/><stop offset="0.276" stop-color="#f5f5ff"/><stop offset="0.299" stop-color="#fffcfc"/><stop offset="0.321" stop-color="#fff5f5"/><stop offset="0.344" stop-color="#fff2f2"/><stop offset="0.367" stop-color="#fff2f2"/><stop offset="0.390" stop-color="#fff3f3"/><stop offset="0.413" stop-color="#fff5f5"/><stop offset="0.436" stop-color="#fff8f8"/><stop offset="0.459" stop-color="#fffbfb"/><stop offset="0.482" stop-color="#fefeff"/><stop offset="0.505" stop-color="#fbfbff"/><stop offset="0.528" stop-color="#fafaff"/><stop offset="0.551" stop-color="#fafaff"/><stop offset="0.574" stop-color="#fbfbff"/><stop offset="0.597" stop-color="#fbfbff"/><stop offset="0.620" stop-color="#fcfcff"/><stop offset="0.643" stop-color="#fdfdff"/><stop offset="0.666" stop-color="#fffefe"/><stop offset="0.689" stop-color="#fffdfd"/><stop offset="0.712" stop-color="#fffdfd"/><stop offset="0.735" stop-color="#fffdfd"/><stop offset="0.758" stop-color="#fffdfd"/><stop offset="0.781" stop-color="#fffdfd"/><stop offset="0.804" stop-color="#fffefe"/><stop offset="0.827" stop-color="#fffefe"/><stop offset="0.850" stop-color="#fefeff"/><stop offset="0.873" stop-color="#fefeff"/><stop offset="0.896" stop-color="#fefeff"/><stop offset="0.918" stop-color="#fefeff"/><stop offset="0.941" stop-color="#fefeff"/><stop offset="0.964" stop-color="#fefeff"/><stop offset="0.987" stop-color="#fefeff"/></linearGradient><linearGradient id="g107"><stop offset="0.000" stop-color="#a50000"/><stop offset="0.023" stop-color="#bc0000"/><stop offset="0.046" stop-color="#ff0b0b"/><stop offset="0.069" stop-color="#ff7a7a"/><stop offset="0.092" stop-color="#ffcfcf"/><stop offset="0.115" stop-color="#eeeeff"/><stop offset="0.138" stop-color="#dcdcff"/><stop offset="0.161" stop-color="#d7d7ff"/><stop offset="0.184" stop-color="#d8d8ff"/><stop offset="0.207" stop-color="#ddddff"/><stop offset="0.230" stop-color="#e4e4ff"/><stop offset="0.253" stop-color="#ececff"/><stop offset="0.276" stop-color="#f6f6ff"/><stop offset="0.299" stop-color="#fffbfb"/><stop offset="0.321" stop-color="#fff4f4"/><stop offset="0.344" stop-color="#fff2f2"/><stop offset="0.367" stop-color="#fff2f2"/><stop offset="0.390" stop-color="#fff3f3"/><stop offset="0.413" stop-color="#fff5f5"/><stop offset="0.436" stop-color="#fff8f8"/><stop offset="0.459" stop-color="#fffcfc"/><stop offset="0.482" stop-color="#fdfdff"/><stop offset="0.505" stop-color="#fbfbff"/><stop offset="0.528" stop-color="#fafaff"/><stop offset="0.551" stop-color="#fafaff"/><stop offset="0.574" stop-color="#fafaff"/><stop offset="0.597" stop-color="#fbfbff"/><stop offset="0.620" stop-color="#fcfcff"/><stop offset="0.643" stop-color="#fdfdff"/><stop offset="0.666" stop-color="#fffefe"/><stop offset="0.689" stop-color="#fffdfd"/><stop offset="0.712" stop-color="#fffdfd"/><stop offset="0.735" stop-color="#fffdfd"/><stop offset="0.758" stop-color="#fffdfd"/><stop offset="0.781" stop-color="#fffdfd"/><stop offset="0.804" stop-color="#fffefe"/><stop offset="0.827" stop-color="#fffefe"/><stop offset="0.850" stop-color="#fefeff"/><stop offset="0.873" stop-color="#fefeff"/><stop offset="0.896" stop-color="#fefeff"/><stop offset="0.918" stop-color="#fefeff"/><stop offset="0.941" stop-color="#fefeff"/><stop offset="0.964" stop-color="#fefeff"/><stop offset="0.987" stop-color="#fefeff"/></linearGradient><linearGradient id="g108"><stop offset="0.000" stop-color="#820000"/><stop offset="0.023" stop-color="#950000"/><stop offset="0.046" stop-color="#ef0000"/><stop offset="0.069" stop-color="#ff6d6d"/><stop offset="0.092" stop-color="#ffcfcf"/><stop offset="0.115" stop-color="#e9e9ff"/><stop offset="0.138" stop-color="#d8d8ff"/><stop offset="0.161" stop-color="#d5d5ff"/><stop offset="0.184" stop-color="#d7d7ff"/><stop offset="0.207" stop-color="#dcdcff"/><stop offset="0.230" stop-color="#e3e3ff"/><stop offset="0.253" stop-color="#ececff"/><stop offset="0.276" stop-color="#f6f6ff"/><stop offset="0.299" stop-color="#fffafa"/><stop offset="0.321" stop-color="#fff3f3"/><stop offset="0.344" stop-color="#fff1f1"/><stop offset="0.367" stop-color="#fff1f1"/><stop offset="0.390" stop-color="#fff3f3"/><stop offset="0.413" stop-color="#fff5f5"/><stop offset="0.436" stop-color="#fff8f8"/><stop offset="0.459" stop-color="#fffcfc"/><stop offset="0.482" stop-color="#fdfdff"/><stop offset="0.505" stop-color="#fbfbff"/><stop offset="0.528" stop-color="#fafaff"/><stop offset="0.551" stop-color="#fafaff"/><stop offset="0.574" stop-color="#fafaff"/><stop offset="0.597" stop-color="#fbfbff"/><stop offset="0.620" stop-color="#fcfcff"/><stop offset="0.643" stop-color="#fefeff"/><stop offset="0.666" stop-color="#fffefe"/><stop offset="0.689" stop-color="#fffdfd"/><stop offset="0.712" stop-color="#fffdfd"/><stop offset="0.735" stop-color="#fffdfd"/><stop offset="0.758" stop-color="#fffdfd"/><stop offset="0.781" stop-color="#fffdfd"/><stop offset="0.804" stop-color="#fffefe"/><stop offset="0.827" stop-color="#fffefe"/><stop offset="0.850" stop-color="#fefeff"/><stop offset="0.873" stop-color="#fefeff"/><stop offset="0.896" stop-color="#fefeff"/><stop offset="0.918" stop-color="#fefeff"/><stop offset="0.941" stop-color="#fefeff"/><stop offset="0.964" stop-color="#fefeff"/><stop offset="0.987" stop-color="#fefeff"/></linearGradient><linearGradient id="g109"><stop offset="0.000" stop-color="#820000"/><stop offset="0.023" stop-color="#820000"/><stop offset="0.046" stop-color="#d30000"/><stop offset="0.069" stop-color="#ff6060"/><stop offset="0.092" stop-color="#ffd0d0"/><stop offset="0.115" stop-color="#e3e3ff"/><stop offset="0.138" stop-color="#d4d4ff"/><stop offset="0.161" stop-color="#d2d2ff"/><stop offset="0.184" stop-color="#d5d5ff"/><stop offset="0.207" stop-color="#dbdbff"/><stop offset="0.230" stop-color="#e3e3ff"/><stop offset="0.253" stop-color="#ececff"/><stop offset="0.276" stop-color="#f7f7ff"/><stop offset="0.299" stop-color="#fff8f8"/><stop offset="0.321" stop-color="#fff3f3"/><stop offset="0.344" stop-color="#fff0f0"/><stop offset="0.367" stop-color="#fff0f0"/><stop offset="0.390" stop-color="#fff2f2"/><stop offset="0.413" stop-color="#fff5f5"/><stop offset="0.436" stop-color="#fff8f8"/><stop offset="0.459" stop-color="#fffcfc"/><stop offset="0.482" stop-color="#fcfcff"/><stop offset="0.505" stop-color="#fafaff"/><stop offset="0.528" stop-color="#fafaff"/><stop offset="0.551" stop-color="#fafaff"/><stop offset="0.574" stop-color="#fafaff"/><stop offset="0.597" stop-color="#fbfbff"/><stop offset="0.620" stop-color="#fcfcff"/><stop offset="0.643" stop-color="#fefeff"/><stop offset="0.666" stop-color="#fffefe"/><stop offset="0.689" stop-color="#fffdfd"/><stop offset="0.712" stop-color="#fffdfd"/><stop offset="0.735" stop-color="#fffdfd"/><stop offset="0.758" stop-color="#fffdfd"/><stop offset="0.781" stop-color="#fffdfd"/><stop offset="0.804" stop-color="#fffefe"/><stop offset="0.827" stop-color="#fffefe"/><stop offset="0.850" stop-color="#fefeff"/><stop offset="0.873" stop-color="#fefeff"/><stop offset="0.896" stop-color="#fefeff"/><stop offset="0.918" stop-color="#fefeff"/><stop offset="0.941" stop-color="#fefeff"/><stop offset="0.964" stop-color="#fefeff"/><stop offset="0.987" stop-color="#fefeff"/></linearGradient><linearGradient id="g110"><stop offset="0.000" stop-color="#000082"/><stop offset="0.023" stop-color="#000082"/><stop offset="0.046" stop-color="#0000d0"/><stop offset="0.069" stop-color="#5151ff"/><stop offset="0.092" stop-color="#bdbdff"/><stop offset="0.115" stop-color="#fff2f2"/><stop offset="0.138" stop-color="#ffdada"/><stop offset="0.161" stop-color="#ffd4d4"/><stop offset="0.184" stop-color="#ffd5d5"/><stop offset="0.207" stop-color="#ffd9d9"/><stop offset="0.230" stop-color="#ffe0e0"/><stop offset="0.253" stop-color="#ffe9e9"/><stop offset="0.276" stop-color="#fff4f4"/><stop offset="0.299" stop-color="#fcfcff"/><stop offset="0.321" stop-color="#f4f4ff"/><stop offset="0.344" stop-color="#f1f1ff"/><stop offset="0.367" stop-color="#f0f0ff"/><stop offset="0.390" stop-color="#f2f2ff"/><stop offset="0.413" stop-color="#f4f4ff"/><stop offset="0.436" stop-color="#f7f7ff"/><stop offset="0.459" stop-color="#fbfbff"/><stop offset="0.482" stop-color="#fffefe"/><stop offset="0.505" stop-color="#fffbfb"/><stop offset="0.528" stop-color="#fffafa"/><stop offset="0.551" stop-color="#fffafa"/><stop offset="0.574" stop-color="#fffafa"/><stop offset="0.597" stop-color="#fffbfb"/><stop offset="0.620" stop-color="#fffcfc"/><stop offset="0.643" stop-color="#fffdfd"/><stop offset="0.666" stop-color="#fefeff"/><stop offset="0.689" stop-color="#fdfdff"/><stop offset="0.712" stop-color="#fdfdff"/><stop offset="0.735" stop-color="#fdfdff"/><stop offset="0.758" stop-color="#fdfdff"/><stop offset="0.781" stop-color="#fdfdff"/><stop offset="0.804" stop-color="#fefeff"/><stop offset="0.827" stop-color="#fefeff"/><stop offset="0.850" stop-color="#fffefe"/><stop offset="0.873" stop-color="#fffefe"/><stop offset="0.896" stop-color="#fffefe"/><stop offset="0.918" stop-color="#fffefe"/><stop offset="0.941" stop-color="#fffefe"/><stop offset="0.964" stop-color="#fffefe"/><stop offset="0.987" stop-color="#fffefe"/></linearGradient><linearGradient id="g111"><stop offset="0.000" stop-color="#00008f"/><stop offset="0.023" stop-color="#00009f"/><stop offset="0.046" stop-color="#0000ed"/><stop offset="0.069" stop-color="#6060ff"/><stop offset="0.092" stop-color="#bfbfff"/><stop offset="0.115" stop-color="#fffafa"/><stop offset="0.138" stop-color="#ffdede"/><stop offset="0.161" stop-color="#ffd7d7"/><stop offset="0.184" stop-color="#ffd7d7"/><stop offset="0.207" stop-color="#ffdada"/><stop offset="0.230" stop-color="#ffe1e1"/><stop offset="0.253" stop-color="#ffe9e9"/><stop offset="0.276" stop-color="#fff3f3"/><stop offset="0.299" stop-color="#fdfdff"/><stop offset="0.321" stop-color="#f5f5ff"/><stop offset="0.344" stop-color="#f2f2ff"/><stop offset="0.367" stop-color="#f1f1ff"/><stop offset="0.390" stop-color="#f2f2ff"/><stop offset="0.413" stop-color="#f4f4ff"/><stop offset="0.436" stop-color="#f7f7ff"/><stop offset="0.459" stop-color="#fbfbff"/><stop offset="0.482" stop-color="#fffefe"/><stop offset="0.505" stop-color="#fffbfb"/><stop offset="0.528" stop-color="#fffafa"/><stop offset="0.551" stop-color="#fffafa"/><stop offset="0.574" stop-color="#fffafa"/><stop offset="0.597" stop-color="#fffbfb"/><stop offset="0.620" stop-color="#fffcfc"/><stop offset="0.643" stop-color="#fffdfd"/><stop offset="0.666" stop-color="#fefeff"/><stop offset="0.689" stop-color="#fdfdff"/><stop offset="0.712" stop-color="#fdfdff"/><stop offset="0.735" stop-color="#fdfdff"/><stop offset="0.758" stop-color="#fdfdff"/><stop offset="0.781" stop-color="#fdfdff"/><stop offset="0.804" stop-color="#fefeff"/><stop offset="0.827" stop-color="#fefeff"/><stop offset="0.850" stop-color="#fffefe"/><stop offset="0.873" stop-color="#fffefe"/><stop offset="0.896" stop-color="#fffefe"/><stop offset="0.918" stop-color="#fffefe"/><stop offset="0.941" stop-color="#fffefe"/><stop offset="0.964" stop-color="#fffefe"/><stop offset="0.987" stop-color="#fffefe"/></linearGradient><linearGradient id="g112"><stop offset="0.000" stop-color="#0000ba"/><stop offset="0.023" stop-color="#0000c5"/><stop offset="0.046" stop-color="#0808ff"/><stop offset="0.069" stop-color="#6e6eff"/><stop offset="0.092" stop-color="#c0c0ff"/><stop offset="0.115" stop-color="#f9f9ff"/><stop offset="0.138" stop-color="#ffe2e2"/><stop offset="0.161" stop-color="#ffdada"/><stop offset="0.184" stop-color="#ffd8d8"/><stop offset="0.207" stop-color="#ffdbdb"/><stop offset="0.230" stop-color="#ffe1e1"/><stop offset="0.253" stop-color="#ffe9e9"/><stop offset="0.276" stop-color="#fff3f3"/><stop offset="0.299" stop-color="#fffdfd"/><stop offset="0.321" stop-color="#f6f6ff"/><stop offset="0.344" stop-color="#f3f3ff"/><stop offset="0.367" stop-color="#f2f2ff"/><stop offset="0.390" stop-color="#f2f2ff"/><stop offset="0.413" stop-color="#f4f4ff"/><stop offset="0.436" stop-color="#f7f7ff"/><stop offset="0.459" stop-color="#fafaff"/><stop offset="0.482" stop-color="#fefeff"/><stop offset="0.505" stop-color="#fffcfc"/><stop offset="0.528" stop-color="#fffafa"/><stop offset="0.551" stop-color="#fffafa"/><stop offset="0.574" stop-color="#fffafa"/><stop offset="0.597" stop-color="#fffbfb"/><stop offset="0.620" stop-color="#fffcfc"/><stop offset="0.643" stop-color="#fffdfd"/><stop offset="0.666" stop-color="#fffefe"/><stop offset="0.689" stop-color="#fefeff"/><stop offset="0.712" stop-color="#fdfdff"/><stop offset="0.735" stop-color="#fdfdff"/><stop offset="0.758" stop-color="#fdfdff"/><stop offset="0.781" stop-color="#fdfdff"/><stop offset="0.804" stop-color="#fefeff"/><stop offset="0.827" stop-color="#fefeff"/><stop offset="0.850" stop-color="#fefeff"/><stop offset="0.873" stop-color="#fffefe"/><stop offset="0.896" stop-color="#fffefe"/><stop offset="0.918" stop-color="#fffefe"/><stop offset="0.941" stop-color="#fffefe"/><stop offset="0.964" stop-color="#fffefe"/><stop offset="0.987" stop-color="#fffefe"/></linearGradient><linearGradient id="g113"><stop offset="0.000" stop-color="#0000df"/><stop offset="0.023" stop-color="#0000e5"/><stop offset="0.046" stop-color="#2323ff"/><stop offset="0.069" stop-color="#7a7aff"/><stop offset="0.092" stop-color="#c2c2ff"/><stop offset="0.115" stop-color="#f4f4ff"/><stop offset="0.138" stop-color="#ffe6e6"/><stop offset="0.161" stop-color="#ffdddd"/><stop offset="0.184" stop-color="#ffdada"/><stop offset="0.207" stop-color="#ffdcdc"/><stop offset="0.230" stop-color="#ffe2e2"/><stop offset="0.253" stop-color="#ffe9e9"/><stop offset="0.276" stop-color="#fff2f2"/><stop offset="0.299" stop-color="#fffcfc"/><stop offset="0.321" stop-color="#f7f7ff"/><stop offset="0.344" stop-color="#f3f3ff"/><stop offset="0.367" stop-color="#f2f2ff"/><stop offset="0.390" stop-color="#f3f3ff"/><stop offset="0.413" stop-color="#f5f5ff"/><stop offset="0.436" stop-color="#f7f7ff"/><stop offset="0.459" stop-color="#fafaff"/><stop offset="0.482" stop-color="#fefeff"/><stop offset="0.505" stop-color="#fffcfc"/><stop offset="0.528" stop-color="#fffbfb"/><stop offset="0.551" stop-color="#fffafa"/><stop offset="0.574" stop-color="#fffafa"/><stop offset="0.597" stop-color="#fffbfb"/><stop offset="0.620" stop-color="#fffcfc"/><stop offset="0.643" stop-color="#fffdfd"/><stop offset="0.666" stop-color="#fffefe"/><stop offset="0.689" stop-color="#fefeff"/><stop offset="0.712" stop-color="#fdfdff"/><stop offset="0.735" stop-color="#fdfdff"/><stop offset="0.758" stop-color="#fdfdff"/><stop offset="0.781" stop-color="#fdfdff"/><stop offset="0.804" stop-color="#fefeff"/><stop offset="0.827" stop-color="#fefeff"/><stop offset="0.850" stop-color="#fefeff"/><stop offset="0.873" stop-color="#fffefe"/><stop offset="0.896" stop-color="#fffefe"/><stop offset="0.918" stop-color="#fffefe"/><stop offset="0.941" stop-color="#fffefe"/><stop offset="0.964" stop-color="#fffefe"/><stop offset="0.987" stop-color="#fffefe"/></linearGradient><linearGradient id="g114"><stop offset="0.000" stop-color="#0000fe"/><stop offset="0.023" stop-color="#0303ff"/><stop offset="0.046" stop-color="#3a3aff"/><stop offset="0.069" stop-color="#8484ff"/><stop offset="0.092" stop-color="#c3c3ff"/><stop offset="0.115" stop-color="#f1f1ff"/><stop offset="0.138" stop-color="#ffeaea"/><stop offset="0.161" stop-color="#ffdfdf"/><stop offset="0.184" stop-color="#ffdcdc"/><stop offset="0.207" stop-color="#ffdede"/><stop offset="0.230" stop-color="#ffe2e2"/><stop offset="0.253" stop-color="#ffeaea"/><stop offset="0.276" stop-color="#fff2f2"/><stop offset="0.299" stop-color="#fffbfb"/><stop offset="0.321" stop-color="#f8f8ff"/><stop offset="0.344" stop-color="#f4f4ff"/><stop offset="0.367" stop-color="#f3f3ff"/><stop offset="0.390" stop-color="#f3f3ff"/><stop offset="0.413" stop-color="#f5f5ff"/><stop offset="0.436" stop-color="#f7f7ff"/><stop offset="0.459" stop-color="#fafaff"/><stop offset="0.482" stop-color="#fdfdff"/><stop offset="0.505" stop-color="#fffcfc"/><stop offset="0.528" stop-color="#fffbfb"/><stop offset="0.551" stop-color="#fffafa"/><stop offset="0.574" stop-color="#fffbfb"/><stop offset="0.597" stop-color="#fffbfb"/><stop offset="0.620" stop-color="#fffcfc"/><stop offset="0.643" stop-color="#fffdfd"/><stop offset="0.666" stop-color="#fffefe"/><stop offset="0.689" stop-color="#fefeff"/><stop offset="0.712" stop-color="#fdfdff"/><stop offset="0.735" stop-color="#fdfdff"/><stop offset="0.758" stop-color="#fdfdff"/><stop offset="0.781" stop-color="#fdfdff"/><stop offset="0.804" stop-color="#fefeff"/><stop offset="0.827" stop-color="#fefeff"/><stop offset="0.850" stop-color="#fefeff"/><stop offset="0.873" stop-color="#fffefe"/><stop offset="0.896" stop-color="#fffefe"/><stop offset="0.918" stop-color="#fffefe"/><stop offset="0.941" stop-color="#fffefe"/><stop offset="0.964" stop-color="#fffefe"/><stop offset="0.987" stop-color="#fffefe"/></linearGradient><linearGradient id="g115"><stop offset="0.000" stop-color="#2020ff"/><stop offset="0.023" stop-color="#2121ff"/><stop offset="0.046" stop-color="#4e4eff"/><stop offset="0.069" stop-color="#8e8eff"/><stop offset="0.092" stop-color="#c5c5ff"/><stop offset="0.115" stop-color="#eeeeff"/><stop offset="0.138" stop-color="#ffeded"/><stop offset="0.161" stop-color="#ffe2e2"/><stop offset="0.184" stop-color="#ffdede"/><stop offset="0.207" stop-color="#ffdfdf"/><stop offset="0.230" stop-color="#ffe3e3"/><stop offset="0.253" stop-color="#ffeaea"/><stop offset="0.276" stop-color="#fff1f1"/><stop offset="0.299" stop-color="#fffafa"/><stop offset="0.321" stop-color="#f9f9ff"/><stop offset="0.344" stop-color="#f5f5ff"/><stop offset="0.367" stop-color="#f3f3ff"/><stop offset="0.390" stop-color="#f4f4ff"/><stop offset="0.413" stop-color="#f5f5ff"/><stop offset="0.436" stop-color="#f7f7ff"/><stop offset="0.459" stop-color="#fafaff"/><stop offset="0.482" stop-color="#fdfdff"/><stop offset="0.505" stop-color="#fffdfd"/><stop offset="0.528" stop-color="#fffbfb"/><stop offset="0.551" stop-color="#fffbfb"/><stop offset="0.574" stop-color="#fffbfb"/><stop offset="0.597" stop-color="#fffbfb"/><stop offset="0.620" stop-color="#fffcfc"/><stop offset="0.643" stop-color="#fffdfd"/><stop offset="0.666" stop-color="#fffefe"/><stop offset="0.689" stop-color="#fefeff"/><stop offset="0.712" stop-color="#fdfdff"/><stop offset="0.735" stop-color="#fdfdff"/><stop offset="0.758" stop-color="#fdfdff"/><stop offset="0.781" stop-color="#fdfdff"/><stop offset="0.804" stop-color="#fefeff"/><stop offset="0.827" stop-color="#fefeff"/><stop offset="0.850" stop-color="#fefeff"/><stop offset="0.873" stop-color="#fffefe"/><stop offset="0.896" stop-color="#fffefe"/><stop offset="0.918" stop-color="#fffefe"/><stop offset="0.941" stop-color="#fffefe"/><stop offset="0.964" stop-color="#fffefe"/><stop offset="0.987" stop-color="#fffefe"/></linearGradient><linearGradient id="g116"><stop offset="0.000" stop-color="#3d3dff"/><stop offset="0.023" stop-color="#3a3aff"/><stop offset="0.046" stop-color="#6060ff"/><stop offset="0.069" stop-color="#9696ff"/><stop offset="0.092" stop-color="#c7c7ff"/><stop offset="0.115" stop-color="#ebebff"/><stop offset="0.138" stop-color="#fff0f0"/><stop offset="0.161" stop-color="#ffe4e4"/><stop offset="0.184" stop-color="#ffe0e0"/><stop offset="0.207" stop-color="#ffe0e0"/><stop offset="0.230" stop-color="#ffe4e4"/><stop offset="0.253" stop-color="#ffeaea"/><stop offset="0.276" stop-color="#fff1f1"/><stop offset="0.299" stop-color="#fff9f9"/><stop offset="0.321" stop-color="#fafaff"/><stop offset="0.344" stop-color="#f6f6ff"/><stop offset="0.367" stop-color="#f4f4ff"/><stop offset="0.390" stop-color="#f4f4ff"/><stop offset="0.413" stop-color="#f5f5ff"/><stop offset="0.436" stop-color="#f7f7ff"/><stop offset="0.459" stop-color="#fafaff"/><stop offset="0.482" stop-color="#fdfdff"/><stop offset="0.505" stop-color="#fffdfd"/><stop offset="0.528" stop-color="#fffbfb"/><stop offset="0.551" stop-color="#fffbfb"/><stop offset="0.574" stop-color="#fffbfb"/><stop offset="0.597" stop-color="#fffbfb"/><stop offset="0.620" stop-color="#fffcfc"/><stop offset="0.643" stop-color="#fffdfd"/><stop offset="0.666" stop-color="#fffefe"/><stop offset="0.689" stop-color="#fefeff"/><stop offset="0.712" stop-color="#fdfdff"/><stop offset="0.735" stop-color="#fdfdff"/><stop offset="0.758" stop-color="#fdfdff"/><stop offset="0.781" stop-color="#fdfdff"/><stop offset="0.804" stop-color="#fefeff"/><stop offset="0.827" stop-color="#fefeff"/><stop offset="0.850" stop-color="#fefeff"/><stop offset="0.873" stop-color="#fffefe"/><stop offset="0.896" stop-color="#fffefe"/><stop offset="0.918" stop-color="#fffefe"/><stop offset="0.941" stop-color="#fffefe"/><stop offset="0.964" stop-color="#fffefe"/><stop offset="0.987" stop-color="#fffefe"/></linearGradient><linearGradient id="g117"><stop offset="0.000" stop-color="#5555ff"/><stop offset="0.023" stop-color="#5050ff"/><stop offset="0.046" stop-color="#6f6fff"/><stop offset="0.069" stop-color="#9d9dff"/><stop offset="0.092" stop-color="#c8c8ff"/><stop offset="0.115" stop-color="#eaeaff"/><stop offset="0.138" stop-color="#fff3f3"/><stop offset="0.161" stop-color="#ffe6e6"/><stop offset="0.184" stop-color="#ffe1e1"/><stop offset="0.207" stop-color="#ffe1e1"/><stop offset="0.230" stop-color="#ffe4e4"/><stop offset="0.253" stop-color="#ffeaea"/><stop offset="0.276" stop-color="#fff1f1"/><stop offset="0.299" stop-color="#fff8f8"/><stop offset="0.321" stop-color="#fbfbff"/><stop offset="0.344" stop-color="#f6f6ff"/><stop offset="0.367" stop-color="#f4f4ff"/><stop offset="0.390" stop-color="#f4f4ff"/><stop offset="0.413" stop-color="#f6f6ff"/><stop offset="0.436" stop-color="#f7f7ff"/><stop offset="0.459" stop-color="#fafaff"/><stop offset="0.482" stop-color="#fcfcff"/><stop offset="0.505" stop-color="#fffdfd"/><stop offset="0.528" stop-color="#fffcfc"/><stop offset="0.551" stop-color="#fffbfb"/><stop offset="0.574" stop-color="#fffbfb"/><stop offset="0.597" stop-color="#fffbfb"/><stop offset="0.620" stop-color="#fffcfc"/><stop offset="0.643" stop-color="#fffdfd"/><stop offset="0.666" stop-color="#fffefe"/><stop offset="0.689" stop-color="#fefeff"/><stop offset="0.712" stop-color="#fefeff"/><stop offset="0.735" stop-color="#fdfdff"/><stop offset="0.758" stop-color="#fdfdff"/><stop offset="0.781" stop-color="#fdfdff"/><stop offset="0.804" stop-color="#fefeff"/><stop offset="0.827" stop-color="#fefeff"/><stop offset="0.850" stop-color="#fefeff"/><stop offset="0.873" stop-color="#fffefe"/><stop offset="0.896" stop-color="#fffefe"/><stop offset="0.918" stop-color="#fffefe"/><stop offset="0.941" stop-color="#fffefe"/><stop offset="0.964" stop-color="#fffefe"/><stop offset="0.987" stop-color="#fffefe"/></linearGradient><linearGradient id="g118"><stop offset="0.000" stop-color="#6a6aff"/><stop offset="0.023" stop-color="#6363ff"/><stop offset="0.046" stop-color="#7c7cff"/><stop offset="0.069" stop-color="#a4a4ff"/><stop offset="0.092" stop-color="#cacaff"/><stop offset="0.115" stop-color="#e8e8ff"/><stop offset="0.138" stop-color="#fff6f6"/><stop offset="0.161" stop-color="#ffe8e8"/><stop offset="0.184" stop-color="#ffe3e3"/><stop offset="0.207" stop-color="#ffe2e2"/><stop offset="0.230" stop-color="#ffe5e5"/><stop offset="0.253" stop-color="#ffeaea"/><stop offset="0.276" stop-color="#fff1f1"/><stop offset="0.299" stop-color="#fff8f8"/><stop offset="0.321" stop-color="#fcfcff"/><stop offset="0.344" stop-color="#f7f7ff"/><stop offset="0.367" stop-color="#f5f5ff"/><stop offset="0.390" stop-color="#f5f5ff"/><stop offset="0.413" stop-color="#f6f6ff"/><stop offset="0.436" stop-color="#f8f8ff"/><stop offset="0.459" stop-color="#fafaff"/><stop offset="0.482" stop-color="#fcfcff"/><stop offset="0.505" stop-color="#fffefe"/><stop offset="0.528" stop-color="#fffcfc"/><stop offset="0.551" stop-color="#fffbfb"/><stop offset="0.574" stop-color="#fffbfb"/><stop offset="0.597" stop-color="#fffcfc"/><stop offset="0.620" stop-color="#fffcfc"/><stop offset="0.643" stop-color="#fffdfd"/><stop offset="0.666" stop-color="#fffefe"/><stop offset="0.689" stop-color="#fefeff"/><stop offset="0.712" stop-color="#fefeff"/><stop offset="0.735" stop-color="#fdfdff"/><stop offset="0.758" stop-color="#fdfdff"/><stop offset="0.781" stop-color="#fdfdff"/><stop offset="0.804" stop-color="#fefeff"/><stop offset="0.827" stop-color="#fefeff"/><stop offset="0.850" stop-color="#fefeff"/><stop offset="0.873" stop-color="#fffefe"/><stop offset="0.896" stop-color="#fffefe"/><stop offset="0.918" stop-color="#fffefe"/><stop offset="0.941" stop-color="#fffefe"/><stop offset="0.964" stop-color="#fffefe"/><stop offset="0.987" stop-color="#fffefe"/></linearGradient><linearGradient id="g119"><stop offset="0.000" stop-color="#7b7bff"/><stop offset="0.023" stop-color="#7373ff"/><stop offset="0.046" stop-color="#8888ff"/><stop offset="0.069" stop-color="#a9a9ff"/><stop offset="0.092" stop-color="#cbcbff"/><stop offset="0.115" stop-color="#e7e7ff"/><stop offset="0.138" stop-color="#fff9f9"/><stop offset="0.161" stop-color="#ffeaea"/><stop offset="0.184" stop-color="#ffe4e4"/><stop offset="0.207" stop-color="#ffe4e4"/><stop offset="0.230" stop-color="#ffe6e6"/><stop offset="0.253" stop-color="#ffebeb"/><stop offset="0.276" stop-color="#fff1f1"/><stop offset="0.299" stop-color="#fff7f7"/><stop offset="0.321" stop-color="#fdfdff"/><stop offset="0.344" stop-color="#f8f8ff"/><stop offset="0.367" stop-color="#f6f6ff"/><stop offset="0.390" stop-color="#f5f5ff"/><stop offset="0.413" stop-color="#f6f6ff"/><stop offset="0.436" stop-color="#f8f8ff"/><stop offset="0.459" stop-color="#fafaff"/><stop offset="0.482" stop-color="#fcfcff"/><stop offset="0.505" stop-color="#fffefe"/><stop offset="0.528" stop-color="#fffcfc"/><stop offset="0.551" stop-color="#fffbfb"/><stop offset="0.574" stop-color="#fffbfb"/><stop offset="0.597" stop-color="#fffcfc"/><stop offset="0.620" stop-color="#fffcfc"/><stop offset="0.643" stop-color="#fffdfd"/><stop offset="0.666" stop-color="#fffefe"/><stop offset="0.689" stop-color="#fefeff"/><stop offset="0.712" stop-color="#fefeff"/><stop offset="0.735" stop-color="#fdfdff"/><stop offset="0.758" stop-color="#fdfdff"/><stop offset="0.781" stop-color="#fdfdff"/><stop offset="0.804" stop-color="#fefeff"/><stop offset="0.827" stop-color="#fefeff"/><stop offset="0.850" stop-color="#fefeff"/><stop offset="0.873" stop-color="#fffefe"/><stop offset="0.896" stop-color="#fffefe"/><stop offset="0.918" stop-color="#fffefe"/><stop offset="0.941" stop-color="#fffefe"/><stop offset="0.964" stop-color="#fffefe"/><stop offset="0.987" stop-color="#fffefe"/></linearGradient><linearGradient id="g120"><stop offset="0.000" stop-color="#8a8aff"/><stop offset="0.023" stop-color="#8282ff"/><stop offset="0.046" stop-color="#9292ff"/><stop offset="0.069" stop-color="#afafff"/><stop offset="0.092" stop-color="#ccccff"/><stop offset="0.115" stop-color="#e6e6ff"/><stop offset="0.138" stop-color="#fffcfc"/><stop offset="0.161" stop-color="#ffecec"/><stop offset="0.184" stop-color="#ffe6e6"/><stop offset="0.207" stop-color="#ffe5e5"/><stop offset="0.230" stop-color="#ffe7e7"/><stop offset="0.253" stop-color="#ffebeb"/><stop offset="0.276" stop-color="#fff1f1"/><stop offset="0.299" stop-color="#fff7f7"/><stop offset="0.321" stop-color="#fefeff"/><stop offset="0.344" stop-color="#f8f8ff"/><stop offset="0.367" stop-color="#f6f6ff"/><stop offset="0.390" stop-color="#f6f6ff"/><stop offset="0.413" stop-color="#f6f6ff"/><stop offset="0.436" stop-color="#f8f8ff"/><stop offset="0.459" stop-color="#fafaff"/><stop offset="0.482" stop-color="#fcfcff"/><stop offset="0.505" stop-color="#fffefe"/><stop offset="0.528" stop-color="#fffcfc"/><stop offset="0.551" stop-color="#fffcfc"/><stop offset="0.574" stop-color="#fffbfb"/><stop offset="0.597" stop-color="#fffcfc"/><stop offset="0.620" stop-color="#fffcfc"/><stop offset="0.643" stop-color="#fffdfd"/><stop offset="0.666" stop-color="#fffefe"/><stop offset="0.689" stop-color="#fefeff"/><stop offset="0.712" stop-color="#fefeff"/><stop offset="0.735" stop-color="#fefeff"/><stop offset="0.758" stop-color="#fdfdff"/><stop offset="0.781" stop-color="#fefeff"/><stop offset="0.804" stop-color="#fefeff"/><stop offset="0.827" stop-color="#fefeff"/><stop offset="0.850" stop-color="#fefeff"/><stop offset="0.873" stop-color="#fffefe"/><stop offset="0.896" stop-color="#fffefe"/><stop offset="0.918" stop-color="#fffefe"/><stop offset="0.941" stop-color="#fffefe"/><stop offset="0.964" stop-color="#fffefe"/><stop offset="0.987" stop-color="#fffefe"/></linearGradient><linearGradient id="g121"><stop offset="0.000" stop-color="#9898ff"/><stop offset="0.023" stop-color="#8e8eff"/><stop offset="0.046" stop-color="#9a9aff"/><stop offset="0.069" stop-color="#b3b3ff"/><stop offset="0.092" stop-color="#ceceff"/><stop offset="0.115" stop-color="#e5e5ff"/><stop offset="0.138" stop-color="#fcfcff"/><stop offset="0.161" stop-color="#ffeeee"/><stop offset="0.184" stop-color="#ffe8e8"/><stop offset="0.207" stop-color="#ffe6e6"/><stop offset="0.230" stop-color="#ffe7e7"/><stop offset="0.253" stop-color="#ffebeb"/><stop offset="0.276" stop-color="#fff1f1"/><stop offset="0.299" stop-color="#fff7f7"/><stop offset="0.321" stop-color="#fffefe"/><stop offset="0.344" stop-color="#f9f9ff"/><stop offset="0.367" stop-color="#f7f7ff"/><stop offset="0.390" stop-color="#f6f6ff"/><stop offset="0.413" stop-color="#f7f7ff"/><stop offset="0.436" stop-color="#f8f8ff"/><stop offset="0.459" stop-color="#fafaff"/><stop offset="0.482" stop-color="#fcfcff"/><stop offset="0.505" stop-color="#fefeff"/><stop offset="0.528" stop-color="#fffdfd"/><stop offset="0.551" stop-color="#fffcfc"/><stop offset="0.574" stop-color="#fffcfc"/><stop offset="0.597" stop-color="#fffcfc"/><stop offset="0.620" stop-color="#fffcfc"/><stop offset="0.643" stop-color="#fffdfd"/><stop offset="0.666" stop-color="#fffefe"/><stop offset="0.689" stop-color="#fffefe"/><stop offset="0.712" stop-color="#fefeff"/><stop offset="0.735" stop-color="#fefeff"/><stop offset="0.758" stop-color="#fdfdff"/><stop offset="0.781" stop-color="#fefeff"/><stop offset="0.804" stop-color="#fefeff"/><stop offset="0.827" stop-color="#fefeff"/><stop offset="0.850" stop-color="#fefeff"/><stop offset="0.873" stop-color="#fefeff"/><stop offset="0.896" stop-color="#fffefe"/><stop offset="0.918" stop-color="#fffefe"/><stop offset="0.941" stop-color="#fffefe"/><stop offset="0.964" stop-color="#fffefe"/><stop offset="0.987" stop-color="#fffefe"/></linearGradient><linearGradient id="g122"><stop offset="0.000" stop-color="#a3a3ff"/><stop offset="0.023" stop-color="#9898ff"/><stop offset="0.046" stop-color="#a2a2ff"/><stop offset="0.069" stop-color="#b7b7ff"/><stop offset="0.092" stop-color="#cfcfff"/><stop offset="0.115" stop-color="#e5e5ff"/><stop offset="0.138" stop-color="#f9f9ff"/><stop offset="0.161" stop-color="#fff0f0"/><stop offset="0.184" stop-color="#ffe9e9"/><stop offset="0.207" stop-color="#ffe7e7"/><stop offset="0.230" stop-color="#ffe8e8"/><stop offset="0.253" stop-color="#ffecec"/><stop offset="0.276" stop-color="#fff1f1"/><stop offset="0.299" stop-color="#fff6f6"/><stop offset="0.321" stop-color="#fffdfd"/><stop offset="0.344" stop-color="#fafaff"/><stop offset="0.367" stop-color="#f7f7ff"/><stop offset="0.390" stop-color="#f6f6ff"/><stop offset="0.413" stop-color="#f7f7ff"/><stop offset="0.436" stop-color="#f8f8ff"/><stop offset="0.459" stop-color="#fafaff"/><stop offset="0.482" stop-color="#fcfcff"/><stop offset="0.505" stop-color="#fefeff"/><stop offset="0.528" stop-color="#fffdfd"/><stop offset="0.551" stop-color="#fffcfc"/><stop offset="0.574" stop-color="#fffcfc"/><stop offset="0.597" stop-color="#fffcfc"/><stop offset="0.620" stop-color="#fffcfc"/><stop offset="0.643" stop-color="#fffdfd"/><stop offset="0.666" stop-color="#fffefe"/><stop offset="0.689" stop-color="#fffefe"/><stop offset="0.712" stop-color="#fefeff"/><stop offset="0.735" stop-color="#fefeff"/><stop offset="0.758" stop-color="#fefeff"/><stop offset="0.781" stop-color="#fefeff"/><stop offset="0.804" stop-color="#fefeff"/><stop offset="0.827" stop-color="#fefeff"/><stop offset="0.850" stop-color="#fefeff"/><stop offset="0.873" stop-color="#fefeff"/><stop offset="0.896" stop-color="#fffefe"/><stop offset="0.918" stop-color="#fffefe"/><stop offset="0.941" stop-color="#fffefe"/><stop offset="0.964" stop-color="#fffefe"/><stop offset="0.987" stop-color="#fffefe"/></linearGradient><linearGradient id="g123"><stop offset="0.000" stop-color="#adadff"/><stop offset="0.023" stop-color="#a2a2ff"/><stop offset="0.046" stop-color="#a9a9ff"/><stop offset="0.069" stop-color="#bbbbff"/><stop offset="0.092" stop-color="#d0d0ff"/><stop offset="0.115" stop-color="#e4e4ff"/><stop offset="0.138" stop-color="#f7f7ff"/><stop offset="0.161" stop-color="#fff2f2"/><stop offset="0.184" stop-color="#ffebeb"/><stop offset="0.207" stop-color="#ffe8e8"/><stop offset="0.230" stop-color="#ffe9e9"/><stop offset="0.253" stop-color="#ffecec"/><stop offset="0.276" stop-color="#fff1f1"/><stop offset="0.299" stop-color="#fff6f6"/><stop offset="0.321" stop-color="#fffcfc"/><stop offset="0.344" stop-color="#fafaff"/><stop offset="0.367" stop-color="#f8f8ff"/><stop offset="0.390" stop-color="#f7f7ff"/><stop offset="0.413" stop-color="#f7f7ff"/><stop offset="0.436" stop-color="#f8f8ff"/><stop offset="0.459" stop-color="#fafaff"/><stop offset="0.482" stop-color="#fcfcff"/><stop offset="0.505" stop-color="#fefeff"/><stop offset="0.528" stop-color="#fffdfd"/><stop offset="0.551" stop-color="#fffcfc"/><stop offset="0.574" stop-color="#fffcfc"/><stop offset="0.597" stop-color="#fffcfc"/><stop offset="0.620" stop-color="#fffcfc"/><stop offset="0.643" stop-color="#fffdfd"/><stop offset="0.666" stop-color="#fffefe"/><stop offset="0.689" stop-color="#fffefe"/><stop offset="0.712" stop-color="#fefeff"/><stop offset="0.735" stop-color="#fefeff"/><stop offset="0.758" stop-color="#fefeff"/><stop offset="0.781" stop-color="#fefeff"/><stop offset="0.804" stop-color="#fefeff"/><stop offset="0.827" stop-color="#fefeff"/><stop offset="0.850" stop-color="#fefeff"/><stop offset="0.873" stop-color="#fefeff"/><stop offset="0.896" stop-color="#fffefe"/><stop offset="0.918" stop-color="#fffefe"/><stop offset="0.941" stop-color="#fffefe"/><stop offset="0.964" stop-color="#fffefe"/><stop offset="0.987" stop-color="#fffefe"/></linearGradient><linearGradient id="g124"><stop offset="0.000" stop-color="#b6b6ff"/><stop offset="0.023" stop-color="#aaaaff"/><stop offset="0.046" stop-color="#afafff"/><stop offset="0.069" stop-color="#bfbfff"/><stop offset="0.092" stop-color="#d1d1ff"/><stop offset="0.115" stop-color="#e4e4ff"/><stop offset="0.138" stop-color="#f5f5ff"/><stop offset="0.161" stop-color="#fff4f4"/><stop offset="0.184" stop-color="#ffecec"/><stop offset="0.207" stop-color="#ffe9e9"/><stop offset="0.230" stop-color="#ffeaea"/><stop offset="0.253" stop-color="#ffeded"/><stop offset="0.276" stop-color="#fff1f1"/><stop offset="0.299" stop-color="#fff6f6"/><stop offset="0.321" stop-color="#fffbfb"/><stop offset="0.344" stop-color="#fbfbff"/><stop offset="0.367" stop-color="#f8f8ff"/><stop offset="0.390" stop-color="#f7f7ff"/><stop offset="0.413" stop-color="#f7f7ff"/><stop offset="0.436" stop-color="#f8f8ff"/><stop offset="0.459" stop-color="#fafaff"/><stop offset="0.482" stop-color="#fcfcff"/><stop offset="0.505" stop-color="#fdfdff"/><stop offset="0.528" stop-color="#fffdfd"/><stop offset="0.551" stop-color="#fffcfc"/><stop offset="0.574" stop-color="#fffcfc"/><stop offset="0.597" stop-color="#fffcfc"/><stop offset="0.620" stop-color="#fffcfc"/><stop offset="0.643" stop-color="#fffdfd"/><stop offset="0.666" stop-color="#fffdfd"/><stop offset="0.689" stop-color="#fffefe"/><stop offset="0.712" stop-color="#fefeff"/><stop offset="0.735" stop-color="#fefeff"/><stop offset="0.758" stop-color="#fefeff"/><stop offset="0.781" stop-color="#fefeff"/><stop offset="0.804" stop-color="#fefeff"/><stop offset="0.827" stop-color="#fefeff"/><stop offset="0.850" stop-color="#fefeff"/><stop offset="0.873" stop-color="#fefeff"/><stop offset="0.896" stop-color="#fffefe"/><stop offset="0.918" stop-color="#fffefe"/><stop offset="0.941" stop-color="#fffefe"/><stop offset="0.964" stop-color="#fffefe"/><stop offset="0.987" stop-color="#fffefe"/></linearGradient><linearGradient id="cb"><stop offset="0.000" stop-color="#000082"/><stop offset="0.050" stop-color="#0000c0"/><stop offset="0.100" stop-color="#0000ff"/><stop offset="0.150" stop-color="#1f1fff"/><stop offset="0.200" stop-color="#3f3fff"/><stop offset="0.250" stop-color="#5f5fff"/><stop offset="0.300" stop-color="#7f7fff"/><stop offset="0.350" stop-color="#9f9fff"/><stop offset="0.400" stop-color="#bfbfff"/><stop offset="0.450" stop-color="#dfdfff"/><stop offset="0.500" stop-color="#ffffff"/><stop offset="0.550" stop-color="#ffdfdf"/><stop offset="0.600" stop-color="#ffbfbf"/><stop offset="0.650" stop-color="#ff9f9f"/><stop offset="0.700" stop-color="#ff7f7f"/><stop offset="0.750" stop-color="#ff5f5f"/><stop offset="0.800" stop-color="#ff3f3f"/><stop offset="0.850" stop-color="#ff1f1f"/><stop offset="0.900" stop-color="#ff0000"/><stop offset="0.950" stop-color="#c00000"/><stop offset="1.000" stop-color="#820000"/></linearGradient></defs><rect x="40.50" y="105.50" width="43.50" height="57.00" fill="#d8e1f0"/>
<rect x="84.00" y="100.98" width="43.50" height="61.52" fill="#d8e1f0"/>
<rect x="127.50" y="96.88" width="43.50" height="65.62" fill="#d8e1f0"/>
<rect x="171.00" y="95.52" width="43.50" height="66.98" fill="#d8e1f0"/>
<path d="M40.50,25.80 L43.98,25.80 L44.03,26.73 L44.08,27.65 L44.13,28.58 L44.19,29.51 L44.24,30.43 L44.29,31.36 L44.34,32.29 L44.39,33.21 L44.44,34.14 L44.50,35.07 L44.55,35.99 L44.60,36.92 L44.65,37.85 L44.70,38.77 L44.75,39.70 L44.81,40.63 L44.86,41.56 L44.91,42.48 L44.96,43.41 L45.01,44.34 L45.06,45.26 L45.12,46.19 L45.17,47.12 L45.22,48.04 L45.27,48.97 L45.32,49.90 L45.37,50.82 L45.43,51.75 L45.48,52.68 L45.53,53.60 L45.58,54.53 L45.63,55.46 L45.68,56.38 L45.73,57.31 L45.79,58.24 L45.84,59.16 L45.89,60.09 L45.94,61.02 L45.99,61.94 L46.04,62.87 L46.10,63.80 L46.15,64.72 L46.20,65.65 L46.25,66.58 L46.30,67.51 L46.35,68.43 L46.41,69.36 L46.46,70.29 L46.51,71.21 L46.56,72.14 L46.61,73.07 L46.66,73.99 L46.72,74.92 L46.77,75.85 L46.82,76.77 L46.87,77.70 L46.92,78.63 L46.97,79.55 L47.02,80.48 L40.50,80.48" fill="#f8d23c" stroke="none"/>
<path d="M43.98,25.80 L44.03,26.73 L44.08,27.65 L44.13,28.58 L44.19,29.51 L44.24,30.43 L44.29,31.36 L44.34,32.29 L44.39,33.21 L44.44,34.14 L44.50,35.07 L44.55,35.99 L44.60,36.92 L44.65,37.85 L44.70,38.77 L44.75,39.70 L44.81,40.63 L44.86,41.56 L44.91,42.48 L44.96,43.41 L45.01,44.34 L45.06,45.26 L45.12,46.19 L45.17,47.12 L45.22,48.04 L45.27,48.97 L45.32,49.90 L45.37,50.82 L45.43,51.75 L45.48,52.68 L45.53,53.60 L45.58,54.53 L45.63,55.46 L45.68,56.38 L45.73,57.31 L45.79,58.24 L45.84,59.16 L45.89,60.09 L45.94,61.02 L45.99,61.94 L46.04,62.87 L46.10,63.80 L46.15,64.72 L46.20,65.65 L46.25,66.58 L46.30,67.51 L46.35,68.43 L46.41,69.36 L46.46,70.29 L46.51,71.21 L46.56,72.14 L46.61,73.07 L46.66,73.99 L46.72,74.92 L46.77,75.85 L46.82,76.77 L46.87,77.70 L46.92,78.63 L46.97,79.55 L47.02,80.48" fill="none" stroke="#f5d000" stroke-width="1.1"/>
<path d="M40.50,105.50 L75.83,105.50 L75.62,108.75 L75.51,109.67 L75.40,110.60 L75.29,111.53 L75.18,112.45 L75.07,113.38 L74.96,114.31 L74.85,115.23 L74.74,116.16 L74.63,117.09 L74.52,118.01 L74.41,118.94 L74.30,119.87 L74.19,120.79 L74.08,121.72 L73.97,122.65 L73.85,123.58 L73.74,124.50 L73.63,125.43 L73.52,126.36 L73.41,127.28 L73.30,128.21 L73.19,129.14 L73.08,130.06 L72.97,130.99 L72.86,131.92 L72.75,132.84 L72.64,133.77 L72.53,134.70 L72.42,135.62 L72.31,136.55 L72.20,137.48 L72.09,138.40 L71.97,139.33 L71.86,140.26 L71.75,141.18 L71.64,142.11 L71.53,143.04 L71.42,143.96 L71.31,144.89 L71.20,145.82 L71.09,146.74 L70.98,147.67 L70.87,148.60 L70.76,149.53 L70.65,150.45 L70.54,151.38 L70.43,152.31 L70.32,153.23 L70.21,154.16 L70.09,155.09 L69.98,156.01 L69.87,156.94 L69.76,157.87 L69.65,158.79 L69.54,159.72 L69.43,160.65 L69.32,161.57 L69.21,162.50 L40.50,162.50" fill="#f6c93f" stroke="none"/>
<path d="M75.83,105.50 L75.62,108.75 L75.51,109.67 L75.40,110.60 L75.29,111.53 L75.18,112.45 L75.07,113.38 L74.96,114.31 L74.85,115.23 L74.74,116.16 L74.63,117.09 L74.52,118.01 L74.41,118.94 L74.30,119.87 L74.19,120.79 L74.08,121.72 L73.97,122.65 L73.85,123.58 L73.74,124.50 L73.63,125.43 L73.52,126.36 L73.41,127.28 L73.30,128.21 L73.19,129.14 L73.08,130.06 L72.97,130.99 L72.86,131.92 L72.75,132.84 L72.64,133.77 L72.53,134.70 L72.42,135.62 L72.31,136.55 L72.20,137.48 L72.09,138.40 L71.97,139.33 L71.86,140.26 L71.75,141.18 L71.64,142.11 L71.53,143.04 L71.42,143.96 L71.31,144.89 L71.20,145.82 L71.09,146.74 L70.98,147.67 L70.87,148.60 L70.76,149.53 L70.65,150.45 L70.54,151.38 L70.43,152.31 L70.32,153.23 L70.21,154.16 L70.09,155.09 L69.98,156.01 L69.87,156.94 L69.76,157.87 L69.65,158.79 L69.54,159.72 L69.43,160.65 L69.32,161.57 L69.21,162.50" fill="none" stroke="#f5c400" stroke-width="1.1"/>
<line x1="41.10" y1="25.80" x2="41.10" y2="162.50" stroke="#f5d000" stroke-width="1.2"/>
<path d="M84.00,25.80 L91.39,25.80 L91.54,26.84 L91.68,27.89 L91.82,28.93 L91.96,29.97 L92.10,31.01 L92.24,32.06 L92.38,33.10 L92.52,34.14 L92.66,35.18 L92.80,36.23 L92.94,37.27 L93.08,38.31 L93.22,39.35 L93.36,40.40 L93.50,41.44 L93.64,42.48 L93.78,43.52 L93.92,44.57 L94.06,45.61 L94.20,46.65 L94.34,47.70 L94.48,48.74 L94.62,49.78 L94.76,50.82 L94.90,51.87 L95.04,52.91 L95.18,53.95 L95.32,54.99 L95.46,56.04 L95.60,57.08 L95.74,58.12 L95.88,59.16 L96.02,60.21 L96.16,61.25 L96.30,62.29 L96.44,63.33 L96.58,64.38 L96.72,65.42 L96.86,66.46 L97.00,67.51 L97.14,68.55 L97.28,69.59 L97.42,70.63 L97.56,71.68 L97.70,72.72 L97.84,73.76 L97.98,74.80 L98.12,75.85 L98.26,76.89 L98.40,77.93 L98.54,78.97 L98.68,80.02 L98.82,81.06 L98.96,82.10 L99.10,83.14 L99.24,84.19 L99.38,85.23 L99.52,86.27 L99.66,87.31 L84.00,87.31" fill="#fca57e" stroke="none"/>
<path d="M91.39,25.80 L91.54,26.84 L91.68,27.89 L91.82,28.93 L91.96,29.97 L92.10,31.01 L92.24,32.06 L92.38,33.10 L92.52,34.14 L92.66,35.18 L92.80,36.23 L92.94,37.27 L93.08,38.31 L93.22,39.35 L93.36,40.40 L93.50,41.44 L93.64,42.48 L93.78,43.52 L93.92,44.57 L94.06,45.61 L94.20,46.65 L94.34,47.70 L94.48,48.74 L94.62,49.78 L94.76,50.82 L94.90,51.87 L95.04,52.91 L95.18,53.95 L95.32,54.99 L95.46,56.04 L95.60,57.08 L95.74,58.12 L95.88,59.16 L96.02,60.21 L96.16,61.25 L96.30,62.29 L96.44,63.33 L96.58,64.38 L96.72,65.42 L96.86,66.46 L97.00,67.51 L97.14,68.55 L97.28,69.59 L97.42,70.63 L97.56,71.68 L97.70,72.72 L97.84,73.76 L97.98,74.80 L98.12,75.85 L98.26,76.89 L98.40,77.93 L98.54,78.97 L98.68,80.02 L98.82,81.06 L98.96,82.10 L99.10,83.14 L99.24,84.19 L99.38,85.23 L99.52,86.27 L99.66,87.31" fill="none" stroke="#f26a1f" stroke-width="1.1"/>
<path d="M84.00,100.98 L119.67,100.98 L119.51,102.03 L119.35,103.07 L119.18,104.11 L119.02,105.16 L118.86,106.20 L118.70,107.24 L118.53,108.28 L118.37,109.33 L118.21,110.37 L118.05,111.41 L117.89,112.45 L117.72,113.50 L117.56,114.54 L117.40,115.58 L117.24,116.62 L117.07,117.67 L116.91,118.71 L116.75,119.75 L116.59,120.79 L116.43,121.84 L116.26,122.88 L116.10,123.92 L115.94,124.97 L115.78,126.01 L115.61,127.05 L115.45,128.09 L115.29,129.14 L115.13,130.18 L114.97,131.22 L114.80,132.26 L114.64,133.31 L114.48,134.35 L114.32,135.39 L114.16,136.43 L113.99,137.48 L113.83,138.52 L113.67,139.56 L113.51,140.60 L113.34,141.65 L113.18,142.69 L113.02,143.73 L112.86,144.78 L112.70,145.82 L112.53,146.86 L112.37,147.90 L112.21,148.95 L112.05,149.99 L111.88,151.03 L111.72,152.07 L111.56,153.12 L111.40,154.16 L111.24,155.20 L111.07,156.24 L110.91,157.29 L110.75,158.33 L110.59,159.37 L110.42,160.41 L110.26,161.46 L110.10,162.50 L84.00,162.50" fill="#f47f3e" stroke="none"/>
<path d="M119.67,100.98 L119.51,102.03 L119.35,103.07 L119.18,104.11 L119.02,105.16 L118.86,106.20 L118.70,107.24 L118.53,108.28 L118.37,109.33 L118.21,110.37 L118.05,111.41 L117.89,112.45 L117.72,113.50 L117.56,114.54 L117.40,115.58 L117.24,116.62 L117.07,117.67 L116.91,118.71 L116.75,119.75 L116.59,120.79 L116.43,121.84 L116.26,122.88 L116.10,123.92 L115.94,124.97 L115.78,126.01 L115.61,127.05 L115.45,128.09 L115.29,129.14 L115.13,130.18 L114.97,131.22 L114.80,132.26 L114.64,133.31 L114.48,134.35 L114.32,135.39 L114.16,136.43 L113.99,137.48 L113.83,138.52 L113.67,139.56 L113.51,140.60 L113.34,141.65 L113.18,142.69 L113.02,143.73 L112.86,144.78 L112.70,145.82 L112.53,146.86 L112.37,147.90 L112.21,148.95 L112.05,149.99 L111.88,151.03 L111.72,152.07 L111.56,153.12 L111.40,154.16 L111.24,155.20 L111.07,156.24 L110.91,157.29 L110.75,158.33 L110.59,159.37 L110.42,160.41 L110.26,161.46 L110.10,162.50" fill="none" stroke="#f26a1f" stroke-width="1.1"/>
<line x1="84.60" y1="25.80" x2="84.60" y2="162.50" stroke="#f26a1f" stroke-width="1.2"/>
<path d="M127.50,25.80 L139.99,25.80 L140.20,26.91 L140.41,28.02 L140.62,29.14 L140.83,30.25 L141.05,31.36 L141.27,32.47 L141.50,33.58 L141.73,34.70 L141.96,35.81 L142.20,36.92 L142.44,38.03 L142.69,39.15 L142.93,40.26 L143.19,41.37 L143.45,42.48 L143.71,43.59 L143.97,44.71 L144.24,45.82 L144.52,46.93 L144.80,48.04 L145.08,49.15 L145.37,50.27 L145.66,51.38 L145.96,52.49 L146.26,53.60 L146.57,54.72 L146.88,55.83 L147.20,56.94 L147.52,58.05 L147.85,59.16 L148.19,60.28 L148.53,61.39 L148.87,62.50 L149.22,63.61 L149.58,64.72 L149.94,65.84 L150.31,66.95 L150.68,68.06 L151.06,69.17 L151.45,70.29 L151.84,71.40 L152.24,72.51 L152.65,73.62 L153.06,74.73 L153.48,75.85 L153.91,76.96 L154.34,78.07 L154.78,79.18 L155.23,80.29 L155.68,81.41 L156.14,82.52 L156.61,83.63 L157.09,84.74 L157.58,85.86 L158.07,86.97 L158.57,88.08 L159.08,89.19 L159.60,90.30 L160.12,91.42 L127.50,91.42" fill="#ff8282" stroke="none"/>
<path d="M139.99,25.80 L140.20,26.91 L140.41,28.02 L140.62,29.14 L140.83,30.25 L141.05,31.36 L141.27,32.47 L141.50,33.58 L141.73,34.70 L141.96,35.81 L142.20,36.92 L142.44,38.03 L142.69,39.15 L142.93,40.26 L143.19,41.37 L143.45,42.48 L143.71,43.59 L143.97,44.71 L144.24,45.82 L144.52,46.93 L144.80,48.04 L145.08,49.15 L145.37,50.27 L145.66,51.38 L145.96,52.49 L146.26,53.60 L146.57,54.72 L146.88,55.83 L147.20,56.94 L147.52,58.05 L147.85,59.16 L148.19,60.28 L148.53,61.39 L148.87,62.50 L149.22,63.61 L149.58,64.72 L149.94,65.84 L150.31,66.95 L150.68,68.06 L151.06,69.17 L151.45,70.29 L151.84,71.40 L152.24,72.51 L152.65,73.62 L153.06,74.73 L153.48,75.85 L153.91,76.96 L154.34,78.07 L154.78,79.18 L155.23,80.29 L155.68,81.41 L156.14,82.52 L156.61,83.63 L157.09,84.74 L157.58,85.86 L158.07,86.97 L158.57,88.08 L159.08,89.19 L159.60,90.30 L160.12,91.42" fill="none" stroke="#ff1a1a" stroke-width="1.1"/>
<path d="M127.50,96.88 L161.87,96.88 L161.40,98.00 L160.95,99.11 L160.50,100.22 L160.05,101.33 L159.61,102.44 L159.18,103.56 L158.75,104.67 L158.33,105.78 L157.92,106.89 L157.51,108.01 L157.10,109.12 L156.70,110.23 L156.31,111.34 L155.92,112.45 L155.54,113.57 L155.16,114.68 L154.79,115.79 L154.42,116.90 L154.06,118.01 L153.70,119.13 L153.35,120.24 L153.00,121.35 L152.66,122.46 L152.32,123.58 L151.98,124.69 L151.66,125.80 L151.33,126.91 L151.01,128.02 L150.69,129.14 L150.38,130.25 L150.07,131.36 L149.77,132.47 L149.47,133.58 L149.17,134.70 L148.88,135.81 L148.59,136.92 L148.31,138.03 L148.03,139.15 L147.75,140.26 L147.48,141.37 L147.21,142.48 L146.94,143.59 L146.68,144.71 L146.42,145.82 L146.17,146.93 L145.92,148.04 L145.67,149.15 L145.42,150.27 L145.18,151.38 L144.95,152.49 L144.71,153.60 L144.48,154.72 L144.25,155.83 L144.02,156.94 L143.80,158.05 L143.58,159.16 L143.37,160.28 L143.15,161.39 L142.94,162.50 L127.50,162.50" fill="#f2373c" stroke="none"/>
<path d="M161.87,96.88 L161.40,98.00 L160.95,99.11 L160.50,100.22 L160.05,101.33 L159.61,102.44 L159.18,103.56 L158.75,104.67 L158.33,105.78 L157.92,106.89 L157.51,108.01 L157.10,109.12 L156.70,110.23 L156.31,111.34 L155.92,112.45 L155.54,113.57 L155.16,114.68 L154.79,115.79 L154.42,116.90 L154.06,118.01 L153.70,119.13 L153.35,120.24 L153.00,121.35 L152.66,122.46 L152.32,123.58 L151.98,124.69 L151.66,125.80 L151.33,126.91 L151.01,128.02 L150.69,129.14 L150.38,130.25 L150.07,131.36 L149.77,132.47 L149.47,133.58 L149.17,134.70 L148.88,135.81 L148.59,136.92 L148.31,138.03 L148.03,139.15 L147.75,140.26 L147.48,141.37 L147.21,142.48 L146.94,143.59 L146.68,144.71 L146.42,145.82 L146.17,146.93 L145.92,148.04 L145.67,149.15 L145.42,150.27 L145.18,151.38 L144.95,152.49 L144.71,153.60 L144.48,154.72 L144.25,155.83 L144.02,156.94 L143.80,158.05 L143.58,159.16 L143.37,160.28 L143.15,161.39 L142.94,162.50" fill="none" stroke="#ff1a1a" stroke-width="1.1"/>
<line x1="128.10" y1="25.80" x2="128.10" y2="162.50" stroke="#ff1a1a" stroke-width="1.2"/>
<path d="M171.00,25.80 L175.88,25.80 L176.04,26.94 L176.20,28.07 L176.37,29.21 L176.55,30.34 L176.73,31.48 L176.92,32.61 L177.12,33.75 L177.32,34.88 L177.53,36.02 L177.74,37.15 L177.97,38.29 L178.20,39.42 L178.43,40.56 L178.68,41.69 L178.93,42.83 L179.19,43.96 L179.46,45.10 L179.74,46.24 L180.03,47.37 L180.33,48.51 L180.64,49.64 L180.95,50.78 L181.28,51.91 L181.62,53.05 L181.97,54.18 L182.33,55.32 L182.71,56.45 L183.09,57.59 L183.49,58.72 L183.90,59.86 L184.33,60.99 L184.77,62.13 L185.22,63.27 L185.69,64.40 L186.18,65.54 L186.68,66.67 L187.19,67.81 L187.73,68.94 L188.28,70.08 L188.85,71.21 L189.44,72.35 L190.05,73.48 L190.67,74.62 L191.32,75.75 L191.99,76.89 L192.68,78.02 L193.40,79.16 L194.14,80.29 L194.90,81.43 L195.69,82.57 L196.50,83.70 L197.34,84.84 L198.21,85.97 L199.11,87.11 L200.04,88.24 L200.99,89.38 L201.98,90.51 L203.00,91.65 L204.06,92.78 L171.00,92.78" fill="#737373" stroke="none"/>
<path d="M175.88,25.80 L176.04,26.94 L176.20,28.07 L176.37,29.21 L176.55,30.34 L176.73,31.48 L176.92,32.61 L177.12,33.75 L177.32,34.88 L177.53,36.02 L177.74,37.15 L177.97,38.29 L178.20,39.42 L178.43,40.56 L178.68,41.69 L178.93,42.83 L179.19,43.96 L179.46,45.10 L179.74,46.24 L180.03,47.37 L180.33,48.51 L180.64,49.64 L180.95,50.78 L181.28,51.91 L181.62,53.05 L181.97,54.18 L182.33,55.32 L182.71,56.45 L183.09,57.59 L183.49,58.72 L183.90,59.86 L184.33,60.99 L184.77,62.13 L185.22,63.27 L185.69,64.40 L186.18,65.54 L186.68,66.67 L187.19,67.81 L187.73,68.94 L188.28,70.08 L188.85,71.21 L189.44,72.35 L190.05,73.48 L190.67,74.62 L191.32,75.75 L191.99,76.89 L192.68,78.02 L193.40,79.16 L194.14,80.29 L194.90,81.43 L195.69,82.57 L196.50,83.70 L197.34,84.84 L198.21,85.97 L199.11,87.11 L200.04,88.24 L200.99,89.38 L201.98,90.51 L203.00,91.65 L204.06,92.78" fill="none" stroke="#111111" stroke-width="1.1"/>
<path d="M171.00,95.52 L204.06,95.52 L203.00,96.65 L201.98,97.79 L200.99,98.92 L200.04,100.06 L199.11,101.19 L198.21,102.33 L197.34,103.46 L196.50,104.60 L195.69,105.73 L194.90,106.87 L194.14,108.01 L193.40,109.14 L192.68,110.28 L191.99,111.41 L191.32,112.55 L190.67,113.68 L190.05,114.82 L189.44,115.95 L188.85,117.09 L188.28,118.22 L187.73,119.36 L187.19,120.49 L186.68,121.63 L186.18,122.76 L185.69,123.90 L185.22,125.03 L184.77,126.17 L184.33,127.31 L183.90,128.44 L183.49,129.58 L183.09,130.71 L182.71,131.85 L182.33,132.98 L181.97,134.12 L181.62,135.25 L181.28,136.39 L180.95,137.52 L180.64,138.66 L180.33,139.79 L180.03,140.93 L179.74,142.06 L179.46,143.20 L179.19,144.34 L178.93,145.47 L178.68,146.61 L178.43,147.74 L178.20,148.88 L177.97,150.01 L177.74,151.15 L177.53,152.28 L177.32,153.42 L177.12,154.55 L176.92,155.69 L176.73,156.82 L176.55,157.96 L176.37,159.09 L176.20,160.23 L176.04,161.36 L175.88,162.50 L171.00,162.50" fill="#3a3b40" stroke="none"/>
<path d="M204.06,95.52 L203.00,96.65 L201.98,97.79 L200.99,98.92 L200.04,100.06 L199.11,101.19 L198.21,102.33 L197.34,103.46 L196.50,104.60 L195.69,105.73 L194.90,106.87 L194.14,108.01 L193.40,109.14 L192.68,110.28 L191.99,111.41 L191.32,112.55 L190.67,113.68 L190.05,114.82 L189.44,115.95 L188.85,117.09 L188.28,118.22 L187.73,119.36 L187.19,120.49 L186.68,121.63 L186.18,122.76 L185.69,123.90 L185.22,125.03 L184.77,126.17 L184.33,127.31 L183.90,128.44 L183.49,129.58 L183.09,130.71 L182.71,131.85 L182.33,132.98 L181.97,134.12 L181.62,135.25 L181.28,136.39 L180.95,137.52 L180.64,138.66 L180.33,139.79 L180.03,140.93 L179.74,142.06 L179.46,143.20 L179.19,144.34 L178.93,145.47 L178.68,146.61 L178.43,147.74 L178.20,148.88 L177.97,150.01 L177.74,151.15 L177.53,152.28 L177.32,153.42 L177.12,154.55 L176.92,155.69 L176.73,156.82 L176.55,157.96 L176.37,159.09 L176.20,160.23 L176.04,161.36 L175.88,162.50" fill="none" stroke="#111111" stroke-width="1.1"/>
<line x1="171.60" y1="25.80" x2="171.60" y2="162.50" stroke="#111111" stroke-width="1.2"/>
<rect x="40.50" y="79.80" width="43.50" height="26.60" fill="#a6a6a6"/>
<rect x="84.00" y="87.31" width="43.50" height="13.67" fill="#a6a6a6"/>
<rect x="127.50" y="91.42" width="43.50" height="5.47" fill="#a6a6a6"/>
<rect x="171.00" y="92.78" width="43.50" height="2.73" fill="#a6a6a6"/>
<line x1="41.10" y1="25.80" x2="41.10" y2="162.50" stroke="#f5d000" stroke-width="1.2"/>
<line x1="84.60" y1="25.80" x2="84.60" y2="162.50" stroke="#f26a1f" stroke-width="1.2"/>
<line x1="128.10" y1="25.80" x2="128.10" y2="162.50" stroke="#ff1a1a" stroke-width="1.2"/>
<line x1="171.60" y1="25.80" x2="171.60" y2="162.50" stroke="#111111" stroke-width="1.2"/>
<rect x="127.50" y="93.55" width="43.50" height="1.20" fill="#c0c8cc"/>
<rect x="171.00" y="93.55" width="43.50" height="1.20" fill="#c0c8cc"/>
<rect x="40.50" y="25.80" width="174.00" height="136.70" fill="none" stroke="#6e6e6e" stroke-width="1"/>
<line x1="45.90" y1="83.00" x2="45.90" y2="103.20" stroke="#555" stroke-width="1.2"/>
<path d="M44.00,83.60 L45.90,80.00 L47.80,83.60" fill="#000"/>
<path d="M44.00,102.60 L45.90,106.20 L47.80,102.60" fill="#000"/>
<text transform="translate(47.27,97.58) scale(1.0005,1.0000)" font-size="12" text-anchor="start" fill="#000" >h<tspan font-size="8.5" dy="2.5">m</tspan><tspan dy="-2.5">​</tspan></text>
<text transform="translate(107.91,40.62) scale(1.0064,1.0000)" font-size="12" text-anchor="start" fill="#000" >Air</text>
<text transform="translate(87.08,99.65) scale(0.9869,1.0000)" font-size="12" text-anchor="start" fill="#000" >MXene</text>
<text transform="translate(97.81,158.41) scale(1.0215,1.0000)" font-size="12" text-anchor="start" fill="#000" >SiO<tspan font-size="9" dy="2.5">2</tspan><tspan dy="-2.5">​</tspan></text>
<line x1="38.00" y1="25.80" x2="40.50" y2="25.80" stroke="#6e6e6e" stroke-width="1"/>
<text transform="translate(37.50,30.00) scale(0.9200,1.0000)" font-size="12" text-anchor="end" fill="#000" >250</text>
<line x1="38.00" y1="59.97" x2="40.50" y2="59.97" stroke="#6e6e6e" stroke-width="1"/>
<text transform="translate(37.50,64.17) scale(0.9200,1.0000)" font-size="12" text-anchor="end" fill="#000" >125</text>
<line x1="38.00" y1="94.15" x2="40.50" y2="94.15" stroke="#6e6e6e" stroke-width="1"/>
<text transform="translate(37.50,98.35) scale(0.9200,1.0000)" font-size="12" text-anchor="end" fill="#000" >0</text>
<line x1="38.00" y1="128.32" x2="40.50" y2="128.32" stroke="#6e6e6e" stroke-width="1"/>
<text transform="translate(37.50,132.52) scale(0.9200,1.0000)" font-size="12" text-anchor="end" fill="#000" >-125</text>
<line x1="38.00" y1="162.50" x2="40.50" y2="162.50" stroke="#6e6e6e" stroke-width="1"/>
<text transform="translate(37.50,166.70) scale(0.9200,1.0000)" font-size="12" text-anchor="end" fill="#000" >-250</text>
<line x1="40.50" y1="162.50" x2="40.50" y2="165.00" stroke="#6e6e6e" stroke-width="1"/>
<text transform="translate(40.50,174.50) scale(0.9200,1.0000)" font-size="12" text-anchor="middle" fill="#000" >0</text>
<line x1="84.00" y1="162.50" x2="84.00" y2="165.00" stroke="#6e6e6e" stroke-width="1"/>
<text transform="translate(84.00,174.50) scale(0.9200,1.0000)" font-size="12" text-anchor="middle" fill="#000" >1</text>
<line x1="127.50" y1="162.50" x2="127.50" y2="165.00" stroke="#6e6e6e" stroke-width="1"/>
<text transform="translate(127.50,174.50) scale(0.9200,1.0000)" font-size="12" text-anchor="middle" fill="#000" >2</text>
<line x1="171.00" y1="162.50" x2="171.00" y2="165.00" stroke="#6e6e6e" stroke-width="1"/>
<text transform="translate(171.00,174.50) scale(0.9200,1.0000)" font-size="12" text-anchor="middle" fill="#000" >3</text>
<line x1="214.50" y1="162.50" x2="214.50" y2="165.00" stroke="#6e6e6e" stroke-width="1"/>
<text transform="translate(214.50,174.50) scale(0.9200,1.0000)" font-size="12" text-anchor="middle" fill="#000" >4</text>
<text transform="translate(127.85,186.60) scale(0.9734,1.0000)" font-size="12" text-anchor="middle" fill="#000" >Normalized |E<tspan font-size="8.5" dy="2.5">z</tspan><tspan dy="-2.5">​</tspan>| (a.u.)</text>
<text transform="translate(10.45,91.04) rotate(-90) scale(1.0167,0.9200)" font-size="12" text-anchor="middle" >z (nm)</text>
<text transform="translate(1.08,9.89) scale(1.0811,1.0000)" font-size="13" text-anchor="start" fill="#000" >(a)</text>
<rect x="272.40" y="25.20" width="175.60" height="32.80" fill="#808080"/>
<line x1="272.40" y1="57.90" x2="448.00" y2="57.90" stroke="#2e2e2e" stroke-width="1.4" stroke-dasharray="2.2,1.3"/>
<path d="M358.18,25.10 L360.52,26.17 L362.70,27.23 L364.74,28.30 L366.63,29.37 L368.38,30.43 L369.98,31.50 L371.45,32.56 L372.77,33.63 L373.96,34.70 L375.01,35.76 L375.93,36.83 L376.72,37.90 L377.37,38.96 L377.90,40.03 L378.31,41.10 L378.59,42.16 L378.75,43.23 L378.79,44.29 L378.71,45.36 L378.51,46.43 L378.20,47.49 L377.78,48.56 L377.25,49.63 L376.61,50.69 L375.87,51.76 L375.03,52.83 L374.11,53.89 L373.11,54.96 L372.03,56.03 L370.88,57.09 L369.67,58.16 L368.40,59.22 L367.07,60.29 L365.71,61.36 L364.30,62.42 L362.86,63.49 L361.39,64.56 L359.90,65.62 L358.40,66.69 L356.89,67.76 L355.37,68.82 L353.86,69.89 L352.36,70.95 L350.87,72.02 L349.40,73.09 L347.97,74.15 L346.56,75.22 L345.17,76.29 L343.81,77.35 L342.47,78.42 L341.15,79.49 L339.84,80.55 L338.54,81.62 L337.26,82.68 L335.97,83.75 L334.69,84.82 L333.41,85.88 L332.14,86.95 L330.88,88.02 L329.63,89.08 L328.39,90.15 L327.17,91.22 L325.98,92.28 L324.81,93.35 L323.67,94.42 L322.56,95.48 L321.49,96.55 L320.45,97.61 L319.44,98.68 L318.45,99.75 L317.49,100.81 L316.55,101.88 L315.63,102.95 L314.73,104.01 L313.85,105.08 L312.97,106.15 L312.11,107.21 L311.26,108.28 L310.42,109.34 L309.59,110.41 L308.76,111.48 L307.95,112.54 L307.14,113.61 L306.34,114.68 L305.55,115.74 L304.77,116.81 L304.00,117.88 L303.23,118.94 L302.48,120.01 L301.73,121.07 L300.99,122.14 L300.26,123.21 L299.54,124.27 L298.82,125.34 L298.11,126.41 L297.41,127.47 L296.72,128.54 L296.04,129.61 L295.36,130.67 L294.69,131.74 L294.03,132.81 L293.37,133.87 L292.73,134.94 L292.09,136.00 L291.45,137.07 L290.83,138.14 L290.21,139.20 L289.60,140.27 L288.99,141.34 L288.40,142.40 L287.81,143.47 L287.22,144.54 L286.64,145.60 L286.07,146.67 L285.51,147.73 L284.95,148.80 L284.40,149.87 L283.85,150.93 L283.31,152.00 L282.88,152.38 L282.75,152.76 L282.63,153.14 L282.51,153.52 L282.38,153.90 L282.26,154.28 L282.13,154.66 L282.01,155.03 L281.89,155.41 L281.76,155.79 L281.64,156.17 L281.51,156.55 L281.38,156.93 L281.26,157.31 L281.13,157.69 L281.01,158.07 L280.88,158.45 L280.76,158.83 L280.63,159.21 L280.50,159.59 L280.38,159.97 L280.25,160.34 L280.12,160.72 L280.00,161.10 L279.87,161.48 L279.74,161.86 L279.61,162.24 L279.49,162.62 L279.36,163.00" fill="none" stroke="#000" stroke-width="1.6" stroke-linejoin="round" />
<path d="M318.16,25.20 L319.35,26.13 L320.46,27.06 L321.51,27.99 L322.49,28.92 L323.41,29.86 L324.27,30.79 L325.06,31.72 L325.79,32.65 L326.46,33.58 L327.08,34.51 L327.63,35.44 L328.13,36.37 L328.58,37.30 L328.97,38.24 L329.31,39.17 L329.59,40.10 L329.83,41.03 L330.01,41.96 L330.15,42.89 L330.25,43.82 L330.29,44.75 L330.29,45.68 L330.25,46.62 L330.17,47.55 L330.04,48.48 L329.88,49.41 L329.68,50.34 L329.44,51.27 L329.16,52.20 L328.85,53.13 L328.51,54.06 L328.14,54.99 L327.74,55.93 L327.32,56.86 L326.87,57.79 L326.40,58.72 L325.91,59.65 L325.40,60.58 L324.88,61.51 L324.33,62.44 L323.78,63.37 L323.22,64.31 L322.64,65.24 L322.06,66.17 L321.47,67.10 L320.88,68.03 L320.29,68.96 L319.70,69.89 L319.11,70.82 L318.52,71.75 L317.94,72.69 L317.36,73.62 L316.78,74.55 L316.20,75.48 L315.63,76.41 L315.06,77.34 L314.49,78.27 L313.92,79.20 L313.36,80.13 L312.81,81.07 L312.26,82.00 L311.71,82.93 L311.16,83.86 L310.62,84.79 L310.09,85.72 L309.56,86.65 L309.03,87.58 L308.51,88.51 L307.99,89.45 L307.48,90.38 L306.97,91.31 L306.47,92.24 L305.98,93.17 L305.48,94.10 L305.00,95.03 L304.52,95.96 L304.05,96.89 L303.58,97.83 L303.12,98.76 L302.67,99.69 L302.22,100.62 L301.78,101.55 L301.35,102.48 L300.92,103.41 L300.50,104.34 L300.09,105.27 L299.68,106.21 L299.28,107.14 L298.89,108.07 L298.51,109.00 L298.13,109.93 L297.76,110.86 L297.39,111.79 L297.03,112.72 L296.68,113.65 L296.32,114.58 L295.97,115.52 L295.63,116.45 L295.28,117.38 L294.94,118.31 L294.59,119.24 L294.25,120.17 L293.91,121.10 L293.57,122.03 L293.22,122.96 L292.88,123.90 L292.53,124.83 L292.18,125.76 L291.82,126.69 L291.46,127.62 L291.10,128.55 L290.73,129.48 L290.36,130.41 L289.98,131.34 L289.59,132.28 L289.20,133.21 L288.80,134.14 L288.39,135.07 L288.06,136.00 L287.77,136.93 L287.49,137.86 L287.20,138.79 L286.91,139.72 L286.62,140.66 L286.33,141.59 L286.03,142.52 L285.74,143.45 L285.45,144.38 L285.15,145.31 L284.86,146.24 L284.56,147.17 L284.26,148.10 L283.96,149.03 L283.66,149.97 L283.36,150.90 L283.06,151.83 L282.75,152.76 L282.45,153.69 L282.15,154.62 L281.84,155.55 L281.53,156.48 L281.23,157.41 L280.92,158.34 L280.61,159.28 L280.30,160.21 L279.98,161.14 L279.67,162.07 L279.36,163.00" fill="none" stroke="#ff1010" stroke-width="1.6" stroke-linejoin="round" />
<path d="M301.94,25.20 L302.23,25.60 L302.51,26.00 L302.78,26.41 L303.05,26.81 L303.31,27.21 L303.57,27.61 L303.81,28.01 L304.06,28.41 L304.29,28.82 L304.52,29.22 L304.74,29.62 L304.96,30.02 L305.17,30.42 L305.38,30.82 L305.58,31.23 L305.77,31.63 L305.96,32.03 L306.14,32.43 L306.32,32.83 L306.49,33.23 L306.66,33.64 L306.82,34.04 L306.97,34.44 L307.12,34.84 L307.27,35.24 L307.41,35.64 L307.54,36.05 L307.67,36.45 L307.79,36.85 L307.91,37.25 L308.03,37.65 L308.13,38.05 L308.24,38.46 L308.34,38.86 L308.43,39.26 L308.52,39.66 L308.60,40.06 L308.68,40.46 L308.76,40.87 L308.83,41.27 L308.90,41.67 L308.96,42.07 L309.02,42.47 L309.07,42.87 L309.12,43.28 L309.16,43.68 L309.20,44.08 L309.24,44.48 L309.27,44.88 L309.30,45.28 L309.32,45.69 L309.34,46.09 L309.36,46.49 L309.37,46.89 L309.38,47.29 L309.38,47.69 L309.38,48.10 L309.38,48.50 L309.38,48.90 L309.37,49.30 L309.35,49.70 L309.34,50.10 L309.32,50.51 L309.29,50.91 L309.27,51.31 L309.24,51.71 L309.21,52.11 L309.17,52.51 L309.13,52.92 L309.09,53.32 L309.05,53.72 L309.00,54.12 L308.95,54.52 L308.89,54.92 L308.84,55.33 L308.78,55.73 L308.72,56.13 L308.65,56.53 L308.59,56.93 L308.52,57.33 L308.45,57.74 L308.37,58.14 L308.30,58.54 L308.22,58.94 L308.14,59.34 L308.05,59.74 L307.97,60.15 L307.88,60.55 L307.79,60.95 L307.70,61.35 L307.61,61.75 L307.51,62.15 L307.42,62.56 L307.32,62.96 L307.22,63.36 L307.12,63.76 L307.01,64.16 L306.91,64.56 L306.80,64.97 L306.70,65.37 L306.59,65.77 L306.48,66.17 L306.36,66.57 L306.25,66.97 L306.14,67.38 L306.02,67.78 L305.90,68.18 L305.79,68.58 L305.67,68.98 L305.55,69.38 L305.43,69.79 L305.31,70.19 L305.18,70.59 L305.06,70.99 L304.94,71.39 L304.81,71.79 L304.69,72.20 L304.56,72.60 L304.44,73.00 L304.68,75.31 L304.12,77.62 L303.56,79.92 L302.99,82.23 L302.41,84.54 L301.83,86.85 L301.25,89.15 L300.65,91.46 L300.06,93.77 L299.45,96.08 L298.84,98.38 L298.22,100.69 L297.60,103.00 L296.97,105.31 L296.34,107.62 L295.70,109.92 L295.06,112.23 L294.40,114.54 L293.75,116.85 L293.08,119.15 L292.41,121.46 L291.74,123.77 L291.06,126.08 L290.37,128.38 L289.68,130.69 L288.98,133.00 L288.27,135.31 L287.56,137.62 L286.85,139.92 L286.12,142.23 L285.40,144.54 L284.66,146.85 L283.92,149.15 L283.18,151.46 L282.42,153.77 L281.67,156.08 L280.90,158.38 L280.13,160.69 L279.36,163.00" fill="none" stroke="#f56a1a" stroke-width="1.6" stroke-linejoin="round" />
<path d="M315.32,25.20 L315.11,26.36 L314.89,27.52 L314.68,28.67 L314.46,29.83 L314.24,30.99 L314.01,32.15 L313.79,33.31 L313.57,34.46 L313.34,35.62 L313.11,36.78 L312.88,37.94 L312.65,39.10 L312.42,40.25 L312.18,41.41 L311.95,42.57 L311.71,43.73 L311.47,44.89 L311.23,46.04 L310.99,47.20 L310.75,48.36 L310.51,49.52 L310.26,50.68 L310.01,51.83 L309.76,52.99 L309.51,54.15 L309.26,55.31 L309.01,56.47 L308.75,57.62 L308.50,58.78 L308.24,59.94 L307.98,61.10 L307.72,62.26 L307.46,63.41 L307.19,64.57 L306.93,65.73 L306.66,66.89 L306.39,68.05 L306.12,69.20 L305.85,70.36 L305.58,71.52 L305.31,72.68 L305.03,73.84 L304.75,74.99 L304.48,76.15 L304.20,77.31 L303.91,78.47 L303.63,79.63 L303.35,80.78 L303.06,81.94 L302.77,83.10 L302.48,84.26 L302.19,85.42 L301.90,86.57 L301.61,87.73 L301.31,88.89 L301.02,90.05 L300.72,91.21 L300.42,92.36 L300.12,93.52 L299.82,94.68 L299.51,95.84 L299.21,96.99 L298.90,98.15 L298.59,99.31 L298.28,100.47 L297.97,101.63 L297.66,102.78 L297.35,103.94 L297.03,105.10 L296.71,106.26 L296.40,107.42 L296.08,108.57 L295.75,109.73 L295.43,110.89 L295.11,112.05 L294.78,113.21 L294.45,114.36 L294.12,115.52 L293.79,116.68 L293.46,117.84 L293.13,119.00 L292.79,120.15 L292.46,121.31 L292.12,122.47 L291.78,123.63 L291.44,124.79 L291.10,125.94 L290.75,127.10 L290.41,128.26 L290.06,129.42 L289.71,130.58 L289.36,131.73 L289.01,132.89 L288.66,134.05 L288.30,135.21 L287.95,136.37 L287.59,137.52 L287.23,138.68 L286.87,139.84 L286.51,141.00 L286.15,142.16 L285.78,143.31 L285.42,144.47 L285.05,145.63 L284.68,146.79 L284.31,147.95 L283.94,149.10 L283.56,150.26 L283.19,151.42 L282.81,152.58 L282.44,153.74 L282.06,154.89 L281.68,156.05 L281.29,157.21 L280.91,158.37 L280.52,159.53 L280.14,160.68 L279.75,161.84 L279.36,163.00" fill="none" stroke="#ffc400" stroke-width="1.8" stroke-linejoin="round" />
<path d="M315.32,25.20 L315.11,26.36 L314.89,27.52 L314.68,28.67 L314.46,29.83 L314.24,30.99 L314.01,32.15 L313.79,33.31 L313.57,34.46 L313.34,35.62 L313.11,36.78 L312.88,37.94 L312.65,39.10 L312.42,40.25 L312.18,41.41 L311.95,42.57 L311.71,43.73 L311.47,44.89 L311.23,46.04 L310.99,47.20 L310.75,48.36 L310.51,49.52 L310.26,50.68 L310.01,51.83 L309.76,52.99 L309.51,54.15 L309.26,55.31 L309.01,56.47 L308.75,57.62 L308.50,58.78 L308.24,59.94 L307.98,61.10 L307.72,62.26 L307.46,63.41 L307.19,64.57 L306.93,65.73 L306.66,66.89 L306.39,68.05 L306.12,69.20 L305.85,70.36 L305.58,71.52 L305.31,72.68 L305.03,73.84 L304.75,74.99 L304.48,76.15 L304.20,77.31 L303.91,78.47 L303.63,79.63 L303.35,80.78 L303.06,81.94 L302.77,83.10 L302.48,84.26 L302.19,85.42 L301.90,86.57 L301.61,87.73 L301.31,88.89 L301.02,90.05 L300.72,91.21 L300.42,92.36 L300.12,93.52 L299.82,94.68 L299.51,95.84 L299.21,96.99 L298.90,98.15 L298.59,99.31 L298.28,100.47 L297.97,101.63 L297.66,102.78 L297.35,103.94 L297.03,105.10 L296.71,106.26 L296.40,107.42 L296.08,108.57 L295.75,109.73 L295.43,110.89 L295.11,112.05 L294.78,113.21 L294.45,114.36 L294.12,115.52 L293.79,116.68 L293.46,117.84 L293.13,119.00 L292.79,120.15 L292.46,121.31 L292.12,122.47 L291.78,123.63 L291.44,124.79 L291.10,125.94 L290.75,127.10 L290.41,128.26 L290.06,129.42 L289.71,130.58 L289.36,131.73 L289.01,132.89 L288.66,134.05 L288.30,135.21 L287.95,136.37 L287.59,137.52 L287.23,138.68 L286.87,139.84 L286.51,141.00 L286.15,142.16 L285.78,143.31 L285.42,144.47 L285.05,145.63 L284.68,146.79 L284.31,147.95 L283.94,149.10 L283.56,150.26 L283.19,151.42 L282.81,152.58 L282.44,153.74 L282.06,154.89 L281.68,156.05 L281.29,157.21 L280.91,158.37 L280.52,159.53 L280.14,160.68 L279.75,161.84 L279.36,163.00" fill="none" stroke="#000" stroke-width="1.3" stroke-linejoin="round" stroke-dasharray="1.2,1.2"/>
<line x1="270.90" y1="145.78" x2="272.40" y2="145.78" stroke="#6e6e6e" stroke-width="0.8"/>
<line x1="270.90" y1="111.32" x2="272.40" y2="111.32" stroke="#6e6e6e" stroke-width="0.8"/>
<line x1="270.90" y1="76.88" x2="272.40" y2="76.88" stroke="#6e6e6e" stroke-width="0.8"/>
<line x1="270.90" y1="42.42" x2="272.40" y2="42.42" stroke="#6e6e6e" stroke-width="0.8"/>
<line x1="301.67" y1="163.00" x2="301.67" y2="164.50" stroke="#6e6e6e" stroke-width="0.8"/>
<line x1="360.20" y1="163.00" x2="360.20" y2="164.50" stroke="#6e6e6e" stroke-width="0.8"/>
<line x1="418.73" y1="163.00" x2="418.73" y2="164.50" stroke="#6e6e6e" stroke-width="0.8"/>
<rect x="272.40" y="25.20" width="175.60" height="137.80" fill="none" stroke="#6e6e6e" stroke-width="1"/>
<line x1="269.90" y1="163.00" x2="272.40" y2="163.00" stroke="#6e6e6e" stroke-width="1"/>
<text transform="translate(269.00,167.20) scale(0.9200,1.0000)" font-size="12" text-anchor="end" fill="#000" >50</text>
<line x1="269.90" y1="128.55" x2="272.40" y2="128.55" stroke="#6e6e6e" stroke-width="1"/>
<text transform="translate(269.00,132.75) scale(0.9200,1.0000)" font-size="12" text-anchor="end" fill="#000" >100</text>
<line x1="269.90" y1="94.10" x2="272.40" y2="94.10" stroke="#6e6e6e" stroke-width="1"/>
<text transform="translate(269.00,98.30) scale(0.9200,1.0000)" font-size="12" text-anchor="end" fill="#000" >150</text>
<line x1="269.90" y1="59.65" x2="272.40" y2="59.65" stroke="#6e6e6e" stroke-width="1"/>
<text transform="translate(269.00,63.85) scale(0.9200,1.0000)" font-size="12" text-anchor="end" fill="#000" >200</text>
<line x1="269.90" y1="25.20" x2="272.40" y2="25.20" stroke="#6e6e6e" stroke-width="1"/>
<text transform="translate(269.00,29.40) scale(0.9200,1.0000)" font-size="12" text-anchor="end" fill="#000" >250</text>
<line x1="272.40" y1="163.00" x2="272.40" y2="165.50" stroke="#6e6e6e" stroke-width="1"/>
<text transform="translate(272.40,174.50) scale(0.9200,1.0000)" font-size="12" text-anchor="middle" fill="#000" >0</text>
<line x1="330.93" y1="163.00" x2="330.93" y2="165.50" stroke="#6e6e6e" stroke-width="1"/>
<text transform="translate(330.93,174.50) scale(0.9200,1.0000)" font-size="12" text-anchor="middle" fill="#000" >10</text>
<line x1="389.47" y1="163.00" x2="389.47" y2="165.50" stroke="#6e6e6e" stroke-width="1"/>
<text transform="translate(389.47,174.50) scale(0.9200,1.0000)" font-size="12" text-anchor="middle" fill="#000" >20</text>
<line x1="448.00" y1="163.00" x2="448.00" y2="165.50" stroke="#6e6e6e" stroke-width="1"/>
<text transform="translate(448.00,174.50) scale(0.9200,1.0000)" font-size="12" text-anchor="middle" fill="#000" >30</text>
<line x1="445.50" y1="59.75" x2="448.00" y2="59.75" stroke="#6e6e6e" stroke-width="1"/>
<text transform="translate(451.50,63.45) scale(0.9200,1.0000)" font-size="12" text-anchor="start" fill="#000" >1.5</text>
<line x1="445.50" y1="94.17" x2="448.00" y2="94.17" stroke="#6e6e6e" stroke-width="1"/>
<text transform="translate(451.50,96.97) scale(0.9200,1.0000)" font-size="12" text-anchor="start" fill="#000" >2</text>
<line x1="445.50" y1="128.60" x2="448.00" y2="128.60" stroke="#6e6e6e" stroke-width="1"/>
<text transform="translate(451.50,131.00) scale(0.9200,1.0000)" font-size="12" text-anchor="start" fill="#000" >3</text>
<line x1="445.50" y1="145.81" x2="448.00" y2="145.81" stroke="#6e6e6e" stroke-width="1"/>
<text transform="translate(451.50,150.31) scale(0.9200,1.0000)" font-size="12" text-anchor="start" fill="#000" >4</text>
<line x1="445.50" y1="156.14" x2="448.00" y2="156.14" stroke="#6e6e6e" stroke-width="1"/>
<text transform="translate(451.50,159.64) scale(0.9200,1.0000)" font-size="12" text-anchor="start" fill="#000" >5</text>
<text transform="translate(246.01,91.91) rotate(-90) scale(1.0001,0.9200)" font-size="12" text-anchor="middle" >Frequency (THz)</text>
<text transform="translate(471.90,101.49) rotate(-90) scale(1.0145,1.0000)" font-size="13" text-anchor="middle" >λ<tspan font-size="8.5" dy="2.5">0</tspan><tspan dy="-2.5">​</tspan>(μm)</text>
<text transform="translate(361.06,189.90) scale(0.9815,1.0000)" font-size="12" text-anchor="middle" fill="#000" >Wavevector (μm<tspan font-size="8.5" dy="-4">-1</tspan><tspan dy="4">)</tspan></text>
<text transform="translate(232.54,9.89) scale(1.0811,1.0000)" font-size="13" text-anchor="start" fill="#000" >(b)</text>
<text transform="translate(406.70,104.62) scale(0.9748,1.0000)" font-size="12" text-anchor="start" fill="#000" >h<tspan font-size="8.5" dy="2.5">m</tspan><tspan dy="-2.5">​</tspan>=</text>
<line x1="385.70" y1="112.80" x2="406.40" y2="112.80" stroke="#ffc000" stroke-width="1.6"/>
<text transform="translate(406.69,117.36) scale(1.0135,1.0000)" font-size="12" text-anchor="start" fill="#000" >100 nm</text>
<line x1="385.70" y1="122.50" x2="406.40" y2="122.50" stroke="#f56a1a" stroke-width="1.6"/>
<text transform="translate(407.23,127.64) scale(1.0004,1.0000)" font-size="12" text-anchor="start" fill="#000" >50 nm</text>
<line x1="385.70" y1="133.90" x2="406.40" y2="133.90" stroke="#ff1010" stroke-width="1.6"/>
<text transform="translate(406.61,139.20) scale(1.0326,1.0000)" font-size="12" text-anchor="start" fill="#000" >20 nm</text>
<line x1="385.70" y1="145.20" x2="406.40" y2="145.20" stroke="#000" stroke-width="1.6"/>
<text transform="translate(406.88,150.17) scale(1.0327,1.0000)" font-size="12" text-anchor="start" fill="#000" >10 nm</text>
<line x1="385.70" y1="154.50" x2="406.40" y2="154.50" stroke="#000" stroke-width="1.3" stroke-dasharray="1.2,1.2"/>
<text transform="translate(406.50,160.51) scale(1.0000,1.0000)" font-size="12" text-anchor="start" fill="#000" >SiO<tspan font-size="9" dy="2.5">2</tspan><tspan dy="-2.5">​</tspan></text>
<rect x="40.00" y="222.70" width="174.20" height="1.05" fill="url(#g0)"/>
<rect x="40.00" y="223.70" width="174.20" height="1.05" fill="url(#g1)"/>
<rect x="40.00" y="224.70" width="174.20" height="1.05" fill="url(#g2)"/>
<rect x="40.00" y="225.70" width="174.20" height="1.05" fill="url(#g3)"/>
<rect x="40.00" y="226.70" width="174.20" height="1.05" fill="url(#g4)"/>
<rect x="40.00" y="227.70" width="174.20" height="1.05" fill="url(#g5)"/>
<rect x="40.00" y="228.70" width="174.20" height="1.05" fill="url(#g6)"/>
<rect x="40.00" y="229.70" width="174.20" height="1.05" fill="url(#g7)"/>
<rect x="40.00" y="230.70" width="174.20" height="1.05" fill="url(#g8)"/>
<rect x="40.00" y="231.70" width="174.20" height="1.05" fill="url(#g9)"/>
<rect x="40.00" y="232.70" width="174.20" height="1.05" fill="url(#g10)"/>
<rect x="40.00" y="233.70" width="174.20" height="1.05" fill="url(#g11)"/>
<rect x="40.00" y="234.70" width="174.20" height="1.05" fill="url(#g12)"/>
<rect x="40.00" y="235.70" width="174.20" height="1.05" fill="url(#g13)"/>
<rect x="40.00" y="236.70" width="174.20" height="1.05" fill="url(#g14)"/>
<rect x="40.00" y="237.70" width="174.20" height="1.05" fill="url(#g15)"/>
<rect x="40.00" y="238.70" width="174.20" height="1.05" fill="url(#g16)"/>
<rect x="40.00" y="239.70" width="174.20" height="1.05" fill="url(#g17)"/>
<rect x="40.00" y="240.70" width="174.20" height="1.05" fill="url(#g18)"/>
<rect x="40.00" y="241.70" width="174.20" height="1.05" fill="url(#g19)"/>
<rect x="40.00" y="242.70" width="174.20" height="1.05" fill="url(#g20)"/>
<rect x="40.00" y="243.70" width="174.20" height="1.05" fill="url(#g21)"/>
<rect x="40.00" y="244.70" width="174.20" height="1.05" fill="url(#g22)"/>
<rect x="40.00" y="245.70" width="174.20" height="1.05" fill="url(#g23)"/>
<rect x="40.00" y="246.70" width="174.20" height="1.05" fill="url(#g24)"/>
<rect x="40.00" y="247.70" width="174.20" height="1.05" fill="url(#g25)"/>
<rect x="40.00" y="248.70" width="174.20" height="1.05" fill="url(#g26)"/>
<rect x="40.00" y="249.70" width="174.20" height="1.05" fill="url(#g27)"/>
<rect x="40.00" y="250.70" width="174.20" height="1.05" fill="url(#g28)"/>
<rect x="40.00" y="251.70" width="174.20" height="1.05" fill="url(#g29)"/>
<rect x="40.00" y="252.70" width="174.20" height="1.05" fill="url(#g30)"/>
<line x1="40.00" y1="234.47" x2="214.20" y2="234.47" stroke="#888" stroke-width="1"/>
<line x1="40.00" y1="242.32" x2="214.20" y2="242.32" stroke="#222" stroke-width="1.1"/>
<rect x="40.00" y="222.70" width="174.20" height="31.40" fill="none" stroke="#6e6e6e" stroke-width="1"/>
<line x1="37.50" y1="222.70" x2="40.00" y2="222.70" stroke="#6e6e6e" stroke-width="1"/>
<text transform="translate(36.50,227.70) scale(0.9200,1.0000)" font-size="12" text-anchor="end" fill="#000" >200</text>
<line x1="37.50" y1="238.40" x2="40.00" y2="238.40" stroke="#6e6e6e" stroke-width="1"/>
<text transform="translate(36.50,243.40) scale(0.9200,1.0000)" font-size="12" text-anchor="end" fill="#000" >0</text>
<line x1="37.50" y1="254.10" x2="40.00" y2="254.10" stroke="#6e6e6e" stroke-width="1"/>
<text transform="translate(36.50,259.10) scale(1.0000,1.0000)" font-size="12" text-anchor="end" fill="#000" >-200</text>
<text transform="translate(46.03,220.38) scale(0.9049,1.0000)" font-size="12" text-anchor="start" fill="#000" >h<tspan font-size="7.5" dy="2.5">m</tspan><tspan dy="-2.5">​</tspan> = 100 nm</text>
<rect x="40.00" y="266.10" width="174.20" height="1.05" fill="url(#g31)"/>
<rect x="40.00" y="267.10" width="174.20" height="1.05" fill="url(#g32)"/>
<rect x="40.00" y="268.10" width="174.20" height="1.05" fill="url(#g33)"/>
<rect x="40.00" y="269.10" width="174.20" height="1.05" fill="url(#g34)"/>
<rect x="40.00" y="270.10" width="174.20" height="1.05" fill="url(#g35)"/>
<rect x="40.00" y="271.10" width="174.20" height="1.05" fill="url(#g36)"/>
<rect x="40.00" y="272.10" width="174.20" height="1.05" fill="url(#g37)"/>
<rect x="40.00" y="273.10" width="174.20" height="1.05" fill="url(#g38)"/>
<rect x="40.00" y="274.10" width="174.20" height="1.05" fill="url(#g39)"/>
<rect x="40.00" y="275.10" width="174.20" height="1.05" fill="url(#g40)"/>
<rect x="40.00" y="276.10" width="174.20" height="1.05" fill="url(#g41)"/>
<rect x="40.00" y="277.10" width="174.20" height="1.05" fill="url(#g42)"/>
<rect x="40.00" y="278.10" width="174.20" height="1.05" fill="url(#g43)"/>
<rect x="40.00" y="279.10" width="174.20" height="1.05" fill="url(#g44)"/>
<rect x="40.00" y="280.10" width="174.20" height="1.05" fill="url(#g45)"/>
<rect x="40.00" y="281.10" width="174.20" height="1.05" fill="url(#g46)"/>
<rect x="40.00" y="282.10" width="174.20" height="1.05" fill="url(#g47)"/>
<rect x="40.00" y="283.10" width="174.20" height="1.05" fill="url(#g48)"/>
<rect x="40.00" y="284.10" width="174.20" height="1.05" fill="url(#g49)"/>
<rect x="40.00" y="285.10" width="174.20" height="1.05" fill="url(#g50)"/>
<rect x="40.00" y="286.10" width="174.20" height="1.05" fill="url(#g51)"/>
<rect x="40.00" y="287.10" width="174.20" height="1.05" fill="url(#g52)"/>
<rect x="40.00" y="288.10" width="174.20" height="1.05" fill="url(#g53)"/>
<rect x="40.00" y="289.10" width="174.20" height="1.05" fill="url(#g54)"/>
<rect x="40.00" y="290.10" width="174.20" height="1.05" fill="url(#g55)"/>
<rect x="40.00" y="291.10" width="174.20" height="1.05" fill="url(#g56)"/>
<rect x="40.00" y="292.10" width="174.20" height="1.05" fill="url(#g57)"/>
<rect x="40.00" y="293.10" width="174.20" height="1.05" fill="url(#g58)"/>
<rect x="40.00" y="294.10" width="174.20" height="1.05" fill="url(#g59)"/>
<rect x="40.00" y="295.10" width="174.20" height="1.05" fill="url(#g60)"/>
<rect x="40.00" y="296.10" width="174.20" height="1.05" fill="url(#g61)"/>
<rect x="40.00" y="279.84" width="174.20" height="3.92" fill="#fff"/>
<line x1="40.00" y1="279.84" x2="214.20" y2="279.84" stroke="#777" stroke-width="1"/>
<line x1="40.00" y1="283.76" x2="214.20" y2="283.76" stroke="#333" stroke-width="1"/>
<rect x="40.00" y="266.10" width="174.20" height="31.40" fill="none" stroke="#6e6e6e" stroke-width="1"/>
<line x1="37.50" y1="266.10" x2="40.00" y2="266.10" stroke="#6e6e6e" stroke-width="1"/>
<text transform="translate(36.50,271.10) scale(0.9200,1.0000)" font-size="12" text-anchor="end" fill="#000" >200</text>
<line x1="37.50" y1="281.80" x2="40.00" y2="281.80" stroke="#6e6e6e" stroke-width="1"/>
<text transform="translate(36.50,286.80) scale(0.9200,1.0000)" font-size="12" text-anchor="end" fill="#000" >0</text>
<line x1="37.50" y1="297.50" x2="40.00" y2="297.50" stroke="#6e6e6e" stroke-width="1"/>
<text transform="translate(36.50,302.50) scale(1.0000,1.0000)" font-size="12" text-anchor="end" fill="#000" >-200</text>
<text transform="translate(46.10,264.76) scale(0.9118,1.0000)" font-size="12" text-anchor="start" fill="#000" >h<tspan font-size="7.5" dy="2.5">m</tspan><tspan dy="-2.5">​</tspan> = 50 nm</text>
<rect x="40.00" y="309.60" width="174.20" height="1.05" fill="url(#g62)"/>
<rect x="40.00" y="310.60" width="174.20" height="1.05" fill="url(#g63)"/>
<rect x="40.00" y="311.60" width="174.20" height="1.05" fill="url(#g64)"/>
<rect x="40.00" y="312.60" width="174.20" height="1.05" fill="url(#g65)"/>
<rect x="40.00" y="313.60" width="174.20" height="1.05" fill="url(#g66)"/>
<rect x="40.00" y="314.60" width="174.20" height="1.05" fill="url(#g67)"/>
<rect x="40.00" y="315.60" width="174.20" height="1.05" fill="url(#g68)"/>
<rect x="40.00" y="316.60" width="174.20" height="1.05" fill="url(#g69)"/>
<rect x="40.00" y="317.60" width="174.20" height="1.05" fill="url(#g70)"/>
<rect x="40.00" y="318.60" width="174.20" height="1.05" fill="url(#g71)"/>
<rect x="40.00" y="319.60" width="174.20" height="1.05" fill="url(#g72)"/>
<rect x="40.00" y="320.60" width="174.20" height="1.05" fill="url(#g73)"/>
<rect x="40.00" y="321.60" width="174.20" height="1.05" fill="url(#g74)"/>
<rect x="40.00" y="322.60" width="174.20" height="1.05" fill="url(#g75)"/>
<rect x="40.00" y="323.60" width="174.20" height="1.05" fill="url(#g76)"/>
<rect x="40.00" y="324.60" width="174.20" height="1.05" fill="url(#g77)"/>
<rect x="40.00" y="325.60" width="174.20" height="1.05" fill="url(#g78)"/>
<rect x="40.00" y="326.60" width="174.20" height="1.05" fill="url(#g79)"/>
<rect x="40.00" y="327.60" width="174.20" height="1.05" fill="url(#g80)"/>
<rect x="40.00" y="328.60" width="174.20" height="1.05" fill="url(#g81)"/>
<rect x="40.00" y="329.60" width="174.20" height="1.05" fill="url(#g82)"/>
<rect x="40.00" y="330.60" width="174.20" height="1.05" fill="url(#g83)"/>
<rect x="40.00" y="331.60" width="174.20" height="1.05" fill="url(#g84)"/>
<rect x="40.00" y="332.60" width="174.20" height="1.05" fill="url(#g85)"/>
<rect x="40.00" y="333.60" width="174.20" height="1.05" fill="url(#g86)"/>
<rect x="40.00" y="334.60" width="174.20" height="1.05" fill="url(#g87)"/>
<rect x="40.00" y="335.60" width="174.20" height="1.05" fill="url(#g88)"/>
<rect x="40.00" y="336.60" width="174.20" height="1.05" fill="url(#g89)"/>
<rect x="40.00" y="337.60" width="174.20" height="1.05" fill="url(#g90)"/>
<rect x="40.00" y="338.60" width="174.20" height="1.05" fill="url(#g91)"/>
<rect x="40.00" y="339.60" width="174.20" height="1.05" fill="url(#g92)"/>
<rect x="40.00" y="340.60" width="174.20" height="1.05" fill="url(#g93)"/>
<rect x="40.00" y="324.30" width="174.20" height="2.20" fill="#8c8c8c"/>
<line x1="40.00" y1="325.40" x2="214.20" y2="325.40" stroke="#666" stroke-width="0.7"/>
<rect x="40.00" y="309.60" width="174.20" height="31.60" fill="none" stroke="#6e6e6e" stroke-width="1"/>
<line x1="37.50" y1="309.60" x2="40.00" y2="309.60" stroke="#6e6e6e" stroke-width="1"/>
<text transform="translate(36.50,314.60) scale(0.9200,1.0000)" font-size="12" text-anchor="end" fill="#000" >200</text>
<line x1="37.50" y1="325.40" x2="40.00" y2="325.40" stroke="#6e6e6e" stroke-width="1"/>
<text transform="translate(36.50,330.40) scale(0.9200,1.0000)" font-size="12" text-anchor="end" fill="#000" >0</text>
<line x1="37.50" y1="341.20" x2="40.00" y2="341.20" stroke="#6e6e6e" stroke-width="1"/>
<text transform="translate(36.50,346.20) scale(1.0000,1.0000)" font-size="12" text-anchor="end" fill="#000" >-200</text>
<text transform="translate(46.10,309.10) scale(0.9118,1.0000)" font-size="12" text-anchor="start" fill="#000" >h<tspan font-size="7.5" dy="2.5">m</tspan><tspan dy="-2.5">​</tspan> = 20 nm</text>
<rect x="40.00" y="353.10" width="174.20" height="1.05" fill="url(#g94)"/>
<rect x="40.00" y="354.10" width="174.20" height="1.05" fill="url(#g95)"/>
<rect x="40.00" y="355.10" width="174.20" height="1.05" fill="url(#g96)"/>
<rect x="40.00" y="356.10" width="174.20" height="1.05" fill="url(#g97)"/>
<rect x="40.00" y="357.10" width="174.20" height="1.05" fill="url(#g98)"/>
<rect x="40.00" y="358.10" width="174.20" height="1.05" fill="url(#g99)"/>
<rect x="40.00" y="359.10" width="174.20" height="1.05" fill="url(#g100)"/>
<rect x="40.00" y="360.10" width="174.20" height="1.05" fill="url(#g101)"/>
<rect x="40.00" y="361.10" width="174.20" height="1.05" fill="url(#g102)"/>
<rect x="40.00" y="362.10" width="174.20" height="1.05" fill="url(#g103)"/>
<rect x="40.00" y="363.10" width="174.20" height="1.05" fill="url(#g104)"/>
<rect x="40.00" y="364.10" width="174.20" height="1.05" fill="url(#g105)"/>
<rect x="40.00" y="365.10" width="174.20" height="1.05" fill="url(#g106)"/>
<rect x="40.00" y="366.10" width="174.20" height="1.05" fill="url(#g107)"/>
<rect x="40.00" y="367.10" width="174.20" height="1.05" fill="url(#g108)"/>
<rect x="40.00" y="368.10" width="174.20" height="1.05" fill="url(#g109)"/>
<rect x="40.00" y="369.10" width="174.20" height="1.05" fill="url(#g110)"/>
<rect x="40.00" y="370.10" width="174.20" height="1.05" fill="url(#g111)"/>
<rect x="40.00" y="371.10" width="174.20" height="1.05" fill="url(#g112)"/>
<rect x="40.00" y="372.10" width="174.20" height="1.05" fill="url(#g113)"/>
<rect x="40.00" y="373.10" width="174.20" height="1.05" fill="url(#g114)"/>
<rect x="40.00" y="374.10" width="174.20" height="1.05" fill="url(#g115)"/>
<rect x="40.00" y="375.10" width="174.20" height="1.05" fill="url(#g116)"/>
<rect x="40.00" y="376.10" width="174.20" height="1.05" fill="url(#g117)"/>
<rect x="40.00" y="377.10" width="174.20" height="1.05" fill="url(#g118)"/>
<rect x="40.00" y="378.10" width="174.20" height="1.05" fill="url(#g119)"/>
<rect x="40.00" y="379.10" width="174.20" height="1.05" fill="url(#g120)"/>
<rect x="40.00" y="380.10" width="174.20" height="1.05" fill="url(#g121)"/>
<rect x="40.00" y="381.10" width="174.20" height="1.05" fill="url(#g122)"/>
<rect x="40.00" y="382.10" width="174.20" height="1.05" fill="url(#g123)"/>
<rect x="40.00" y="383.10" width="174.20" height="1.05" fill="url(#g124)"/>
<line x1="40.00" y1="368.80" x2="214.20" y2="368.80" stroke="#111" stroke-width="1.2"/>
<rect x="40.00" y="353.10" width="174.20" height="31.40" fill="none" stroke="#6e6e6e" stroke-width="1"/>
<line x1="37.50" y1="353.10" x2="40.00" y2="353.10" stroke="#6e6e6e" stroke-width="1"/>
<text transform="translate(36.50,358.10) scale(0.9200,1.0000)" font-size="12" text-anchor="end" fill="#000" >200</text>
<line x1="37.50" y1="368.80" x2="40.00" y2="368.80" stroke="#6e6e6e" stroke-width="1"/>
<text transform="translate(36.50,373.80) scale(0.9200,1.0000)" font-size="12" text-anchor="end" fill="#000" >0</text>
<line x1="37.50" y1="384.50" x2="40.00" y2="384.50" stroke="#6e6e6e" stroke-width="1"/>
<text transform="translate(36.50,389.50) scale(1.0000,1.0000)" font-size="12" text-anchor="end" fill="#000" >-200</text>
<text transform="translate(46.10,352.62) scale(0.9118,1.0000)" font-size="12" text-anchor="start" fill="#000" >h<tspan font-size="7.5" dy="2.5">m</tspan><tspan dy="-2.5">​</tspan> = 10 nm</text>
<line x1="40.00" y1="384.50" x2="40.00" y2="387.00" stroke="#6e6e6e" stroke-width="1"/>
<text transform="translate(36.80,397.00) scale(0.9200,1.0000)" font-size="12" text-anchor="middle" fill="#000" >0</text>
<line x1="74.84" y1="384.50" x2="74.84" y2="387.00" stroke="#6e6e6e" stroke-width="1"/>
<text transform="translate(74.84,397.00) scale(0.9200,1.0000)" font-size="12" text-anchor="middle" fill="#000" >400</text>
<line x1="109.68" y1="384.50" x2="109.68" y2="387.00" stroke="#6e6e6e" stroke-width="1"/>
<text transform="translate(109.68,397.00) scale(0.9200,1.0000)" font-size="12" text-anchor="middle" fill="#000" >800</text>
<line x1="144.52" y1="384.50" x2="144.52" y2="387.00" stroke="#6e6e6e" stroke-width="1"/>
<text transform="translate(144.52,397.00) scale(0.9200,1.0000)" font-size="12" text-anchor="middle" fill="#000" >1200</text>
<line x1="179.36" y1="384.50" x2="179.36" y2="387.00" stroke="#6e6e6e" stroke-width="1"/>
<text transform="translate(179.36,397.00) scale(0.9200,1.0000)" font-size="12" text-anchor="middle" fill="#000" >1600</text>
<line x1="214.20" y1="384.50" x2="214.20" y2="387.00" stroke="#6e6e6e" stroke-width="1"/>
<text transform="translate(214.20,397.00) scale(0.9200,1.0000)" font-size="12" text-anchor="middle" fill="#000" >2000</text>
<text transform="translate(129.60,410.57) scale(1.0141,1.0000)" font-size="12" text-anchor="middle" fill="#000" >x (nm)</text>
<text transform="translate(10.45,304.87) rotate(-90) scale(0.9858,0.9200)" font-size="12" text-anchor="middle" >z (nm)</text>
<text transform="translate(1.41,203.88) scale(1.1083,1.0000)" font-size="13" text-anchor="start" fill="#000" >(c)</text>
<rect x="160.50" y="210.80" width="51.00" height="8.60" fill="url(#cb)" stroke="#000" stroke-width="1"/>
<rect x="161.40" y="204.10" width="2.40" height="1.60" fill="#000"/>
<text transform="translate(181.22,208.66) scale(1.0428,1.0000)" font-size="11" text-anchor="start" fill="#000" >E<tspan font-size="7" dy="2">z</tspan><tspan dy="-2">​</tspan></text>
<line x1="206.10" y1="204.20" x2="210.60" y2="204.20" stroke="#000" stroke-width="1.3"/>
<line x1="208.35" y1="202.00" x2="208.35" y2="206.40" stroke="#000" stroke-width="1.3"/>
<text transform="translate(41.60,241.70) scale(1.0000,1.0000)" font-size="11.5" text-anchor="start" fill="#000" style="stroke-width:0.7px">h<tspan font-size="8" dy="1.6">m</tspan><tspan dy="-1.6">​</tspan></text>
<path d="M55.90,239.00 L58.20,235.60 L60.50,239.00" fill="#000"/>
<path d="M55.90,239.80 L58.20,243.20 L60.50,239.80" fill="#000"/>
<line x1="58.20" y1="237.00" x2="58.20" y2="242.00" stroke="#000" stroke-width="1.0"/>
<line x1="126.00" y1="287.30" x2="180.00" y2="287.30" stroke="#000" stroke-width="1"/>
<path d="M123.30,287.30 L128.80,284.80 L128.80,289.80" fill="#000"/>
<path d="M183.00,287.30 L177.50,284.80 L177.50,289.80" fill="#000"/>
<text transform="translate(140.94,296.12) scale(1.0046,1.0000)" font-size="12" text-anchor="start" fill="#000" >λ<tspan font-size="8.5" dy="2.5">sp</tspan><tspan dy="-2.5">​</tspan>/2</text>
<text transform="translate(143.09,325.11) scale(0.9746,1.0000)" font-size="12" text-anchor="start" fill="#000" >MXene</text>
<line x1="180.30" y1="321.40" x2="190.50" y2="324.60" stroke="#000" stroke-width="1.3"/>
<path d="M194.20,325.70 L189.25,326.60 L190.55,322.20" fill="#000"/>
<text transform="translate(191.94,321.33) scale(1.0615,1.0000)" font-size="12" text-anchor="start" fill="#000" >Air</text>
<text transform="translate(184.81,339.09) scale(1.0262,1.0000)" font-size="12" text-anchor="start" fill="#000" >SiO<tspan font-size="9" dy="2.5">2</tspan><tspan dy="-2.5">​</tspan></text>
<line x1="109.60" y1="363.80" x2="141.00" y2="363.80" stroke="#000" stroke-width="2.3"/>
<path d="M147.20,363.80 L139.60,360.90 L139.60,366.70" fill="#000"/>
<text transform="translate(96.01,380.10) scale(1.0075,1.0000)" font-size="12" text-anchor="start" fill="#000" >Propagation</text>
<line x1="187.90" y1="373.20" x2="187.90" y2="358.50" stroke="#000" stroke-width="1.3"/>
<path d="M187.90,355.50 L185.70,360.50 L190.10,360.50" fill="#000"/>
<line x1="189.40" y1="374.70" x2="203.50" y2="374.70" stroke="#000" stroke-width="1.3"/>
<path d="M206.50,374.70 L201.50,372.50 L201.50,376.90" fill="#000"/>
<circle cx="187.9" cy="374.7" r="1.8" fill="#fff" stroke="#000" stroke-width="1"/>
<text transform="translate(180.97,365.78) scale(0.9343,1.0000)" font-size="12" text-anchor="middle" fill="#000" >z</text>
<text transform="translate(181.28,380.93) scale(1.1509,1.0000)" font-size="12" text-anchor="middle" fill="#000" >y</text>
<text transform="translate(208.94,381.50) scale(1.2628,1.0000)" font-size="12" text-anchor="middle" fill="#000" >x</text>
<line x1="273.40" y1="294.50" x2="447.90" y2="294.50" stroke="#4a5cff" stroke-width="0.9" stroke-dasharray="2,1.5"/>
<path d="M273.40,358.40 L274.57,357.83 L275.74,357.25 L276.91,356.68 L278.08,356.10 L279.26,355.53 L280.43,354.96 L281.60,354.38 L282.77,353.81 L283.94,353.24 L285.11,352.66 L286.28,352.09 L287.45,351.51 L288.62,350.94 L289.80,350.37 L290.97,349.79 L292.14,349.22 L293.31,348.64 L294.48,348.07 L295.65,347.50 L296.82,346.92 L297.99,346.35 L299.17,345.78 L300.34,345.20 L301.51,344.63 L302.68,344.05 L303.85,343.48 L305.02,342.91 L306.19,342.33 L307.36,341.76 L308.53,341.18 L309.71,340.61 L310.88,340.04 L312.05,339.46 L313.22,338.89 L314.39,338.32 L315.56,337.74 L316.73,337.17 L317.90,336.59 L319.07,336.02 L320.25,335.45 L321.42,334.87 L322.59,334.30 L323.76,333.73 L324.93,333.15 L326.10,332.58 L327.27,332.01 L328.44,331.43 L329.61,330.86 L330.79,330.29 L331.96,329.72 L333.13,329.14 L334.30,328.57 L335.47,328.00 L336.64,327.43 L337.81,326.86 L338.98,326.28 L340.16,325.71 L341.33,325.14 L342.50,324.58 L343.67,324.01 L344.84,323.44 L346.01,322.88 L347.18,322.31 L348.35,321.75 L349.52,321.19 L350.70,320.63 L351.87,320.07 L353.04,319.52 L354.21,318.97 L355.38,318.42 L356.55,317.88 L357.72,317.35 L358.89,316.82 L360.06,316.29 L361.24,315.78 L362.41,315.27 L363.58,314.78 L364.75,314.29 L365.92,313.82 L367.09,313.36 L368.26,312.92 L369.43,312.50 L370.60,312.09 L371.78,311.70 L372.95,311.34 L374.12,311.00 L375.29,310.67 L376.46,310.38 L377.63,310.10 L378.80,309.85 L379.97,309.62 L381.14,309.41 L382.32,309.22 L383.49,309.05 L384.66,308.90 L385.83,308.77 L387.00,308.66 L388.17,308.55 L389.34,308.46 L390.51,308.38 L391.69,308.32 L392.86,308.26 L394.03,308.21 L395.20,308.16 L396.37,308.13 L397.54,308.09 L398.71,308.06 L399.88,308.04 L401.05,308.02 L402.23,308.00 L403.40,307.99 L404.57,307.97 L405.74,307.96 L406.91,307.95 L408.08,307.95 L409.25,307.94 L410.42,307.93 L411.59,307.93 L412.77,307.92 L413.94,307.92 L415.11,307.92 L416.28,307.92 L417.45,307.91 L418.62,307.91 L419.79,307.91 L420.96,307.91 L422.13,307.91 L423.31,307.91 L424.48,307.90 L425.65,307.90 L426.82,307.90 L427.99,307.90 L429.16,307.90 L430.33,307.90 L431.50,307.90 L432.68,307.90 L433.85,307.90 L435.02,307.90 L436.19,307.90 L437.36,307.90 L438.53,307.90 L439.70,307.90 L440.87,307.90 L442.04,307.90 L443.22,307.90 L444.39,307.90 L445.56,307.90 L446.73,307.90 L447.90,307.90" fill="none" stroke="#137a13" stroke-width="1.6" stroke-linejoin="round" />
<path d="M273.40,344.30 L274.57,343.73 L275.74,343.15 L276.91,342.58 L278.08,342.00 L279.26,341.43 L280.43,340.86 L281.60,340.28 L282.77,339.71 L283.94,339.14 L285.11,338.56 L286.28,337.99 L287.45,337.41 L288.62,336.84 L289.80,336.27 L290.97,335.69 L292.14,335.12 L293.31,334.54 L294.48,333.97 L295.65,333.40 L296.82,332.82 L297.99,332.25 L299.17,331.68 L300.34,331.10 L301.51,330.53 L302.68,329.95 L303.85,329.38 L305.02,328.81 L306.19,328.23 L307.36,327.66 L308.53,327.08 L309.71,326.51 L310.88,325.94 L312.05,325.36 L313.22,324.79 L314.39,324.22 L315.56,323.64 L316.73,323.07 L317.90,322.49 L319.07,321.92 L320.25,321.35 L321.42,320.77 L322.59,320.20 L323.76,319.63 L324.93,319.05 L326.10,318.48 L327.27,317.91 L328.44,317.34 L329.61,316.76 L330.79,316.19 L331.96,315.62 L333.13,315.05 L334.30,314.48 L335.47,313.91 L336.64,313.34 L337.81,312.77 L338.98,312.21 L340.16,311.64 L341.33,311.08 L342.50,310.52 L343.67,309.96 L344.84,309.41 L346.01,308.86 L347.18,308.32 L348.35,307.78 L349.52,307.25 L350.70,306.73 L351.87,306.22 L353.04,305.72 L354.21,305.24 L355.38,304.77 L356.55,304.33 L357.72,303.90 L358.89,303.49 L360.06,303.11 L361.24,302.76 L362.41,302.43 L363.58,302.14 L364.75,301.87 L365.92,301.63 L367.09,301.42 L368.26,301.23 L369.43,301.07 L370.60,300.93 L371.78,300.81 L372.95,300.71 L374.12,300.62 L375.29,300.55 L376.46,300.49 L377.63,300.44 L378.80,300.40 L379.97,300.36 L381.14,300.33 L382.32,300.31 L383.49,300.29 L384.66,300.27 L385.83,300.26 L387.00,300.25 L388.17,300.24 L389.34,300.23 L390.51,300.23 L391.69,300.22 L392.86,300.22 L394.03,300.21 L395.20,300.21 L396.37,300.21 L397.54,300.21 L398.71,300.21 L399.88,300.21 L401.05,300.20 L402.23,300.20 L403.40,300.20 L404.57,300.20 L405.74,300.20 L406.91,300.20 L408.08,300.20 L409.25,300.20 L410.42,300.20 L411.59,300.20 L412.77,300.20 L413.94,300.20 L415.11,300.20 L416.28,300.20 L417.45,300.20 L418.62,300.20 L419.79,300.20 L420.96,300.20 L422.13,300.20 L423.31,300.20 L424.48,300.20 L425.65,300.20 L426.82,300.20 L427.99,300.20 L429.16,300.20 L430.33,300.20 L431.50,300.20 L432.68,300.20 L433.85,300.20 L435.02,300.20 L436.19,300.20 L437.36,300.20 L438.53,300.20 L439.70,300.20 L440.87,300.20 L442.04,300.20 L443.22,300.20 L444.39,300.20 L445.56,300.20 L446.73,300.20 L447.90,300.20" fill="none" stroke="#ff7f0e" stroke-width="1.6" stroke-linejoin="round" />
<path d="M273.40,330.90 L274.57,330.35 L275.74,329.80 L276.91,329.25 L278.08,328.70 L279.26,328.15 L280.43,327.60 L281.60,327.05 L282.77,326.50 L283.94,325.95 L285.11,325.40 L286.28,324.85 L287.45,324.30 L288.62,323.74 L289.80,323.19 L290.97,322.64 L292.14,322.09 L293.31,321.54 L294.48,320.99 L295.65,320.44 L296.82,319.89 L297.99,319.34 L299.17,318.79 L300.34,318.24 L301.51,317.69 L302.68,317.14 L303.85,316.59 L305.02,316.04 L306.19,315.49 L307.36,314.95 L308.53,314.40 L309.71,313.85 L310.88,313.30 L312.05,312.75 L313.22,312.20 L314.39,311.66 L315.56,311.11 L316.73,310.57 L317.90,310.02 L319.07,309.48 L320.25,308.93 L321.42,308.39 L322.59,307.85 L323.76,307.32 L324.93,306.78 L326.10,306.25 L327.27,305.72 L328.44,305.19 L329.61,304.67 L330.79,304.15 L331.96,303.64 L333.13,303.13 L334.30,302.63 L335.47,302.14 L336.64,301.66 L337.81,301.19 L338.98,300.73 L340.16,300.29 L341.33,299.86 L342.50,299.44 L343.67,299.05 L344.84,298.67 L346.01,298.31 L347.18,297.98 L348.35,297.66 L349.52,297.37 L350.70,297.10 L351.87,296.86 L353.04,296.63 L354.21,296.43 L355.38,296.25 L356.55,296.09 L357.72,295.94 L358.89,295.81 L360.06,295.70 L361.24,295.60 L362.41,295.52 L363.58,295.45 L364.75,295.38 L365.92,295.33 L367.09,295.28 L368.26,295.24 L369.43,295.20 L370.60,295.17 L371.78,295.15 L372.95,295.12 L374.12,295.11 L375.29,295.09 L376.46,295.08 L377.63,295.07 L378.80,295.06 L379.97,295.05 L381.14,295.04 L382.32,295.03 L383.49,295.03 L384.66,295.02 L385.83,295.02 L387.00,295.02 L388.17,295.01 L389.34,295.01 L390.51,295.01 L391.69,295.01 L392.86,295.01 L394.03,295.01 L395.20,295.01 L396.37,295.00 L397.54,295.00 L398.71,295.00 L399.88,295.00 L401.05,295.00 L402.23,295.00 L403.40,295.00 L404.57,295.00 L405.74,295.00 L406.91,295.00 L408.08,295.00 L409.25,295.00 L410.42,295.00 L411.59,295.00 L412.77,295.00 L413.94,295.00 L415.11,295.00 L416.28,295.00 L417.45,295.00 L418.62,295.00 L419.79,295.00 L420.96,295.00 L422.13,295.00 L423.31,295.00 L424.48,295.00 L425.65,295.00 L426.82,295.00 L427.99,295.00 L429.16,295.00 L430.33,295.00 L431.50,295.00 L432.68,295.00 L433.85,295.00 L435.02,295.00 L436.19,295.00 L437.36,295.00 L438.53,295.00 L439.70,295.00 L440.87,295.00 L442.04,295.00 L443.22,295.00 L444.39,295.00 L445.56,295.00 L446.73,295.00 L447.90,295.00" fill="none" stroke="#0a14ff" stroke-width="1.6" stroke-linejoin="round" />
<path d="M273.40,325.80 L274.50,325.35 L275.59,324.89 L276.69,324.44 L277.79,323.97 L278.89,323.51 L279.98,323.04 L281.08,322.57 L282.18,322.10 L283.28,321.62 L284.37,321.14 L285.47,320.65 L286.57,320.17 L287.67,319.68 L288.76,319.19 L289.86,318.69 L290.96,318.19 L292.06,317.69 L293.15,317.19 L294.25,316.69 L295.35,316.18 L296.45,315.67 L297.54,315.16 L298.64,314.64 L299.74,314.13 L300.84,313.61 L301.93,313.09 L303.03,312.56 L304.13,312.04 L305.23,311.51 L306.32,310.98 L307.42,310.45 L308.52,309.92 L309.62,309.38 L310.71,308.84 L311.81,308.31 L312.91,307.77 L314.01,307.24 L315.10,306.70 L316.20,306.16 L317.30,305.62 L318.40,305.07 L319.49,304.52 L320.59,303.97 L321.69,303.40 L322.79,302.83 L323.88,302.25 L324.98,301.66 L326.08,301.06 L327.18,300.44 L328.27,299.82 L329.37,299.17 L330.47,298.52 L331.57,297.84 L332.66,297.15 L333.76,296.43 L334.86,295.69 L335.96,294.93 L337.05,294.16 L338.15,293.36 L339.25,292.54 L340.35,291.71 L341.44,290.85 L342.54,289.97 L343.64,289.05 L344.74,288.11 L345.83,287.15 L346.93,286.16 L348.03,285.16 L349.13,284.14 L350.22,283.11 L351.32,282.07 L352.42,281.01 L353.52,279.92 L354.61,278.80 L355.71,277.67 L356.81,276.52 L357.91,275.36 L359.00,274.20 L360.10,273.05 L361.20,271.92 L362.30,270.80 L363.39,269.68 L364.49,268.56 L365.59,267.43 L366.69,266.30 L367.78,265.18 L368.88,264.09 L369.98,263.02 L371.08,261.98 L372.17,260.98 L373.27,260.01 L374.37,259.05 L375.47,258.10 L376.56,257.16 L377.66,256.24 L378.76,255.36 L379.86,254.52 L380.95,253.73 L382.05,252.99 L383.15,252.33 L384.25,251.71 L385.34,251.09 L386.44,250.49 L387.54,249.92 L388.64,249.38 L389.73,248.89 L390.83,248.45 L391.93,248.07 L393.03,247.75 L394.12,247.51 L395.22,247.30 L396.32,247.10 L397.42,246.92 L398.51,246.75 L399.61,246.60 L400.71,246.47 L401.81,246.36 L402.90,246.27 L404.00,246.21 L405.10,246.16 L406.20,246.12 L407.29,246.07 L408.39,246.04 L409.49,246.00 L410.59,245.97 L411.68,245.94 L412.78,245.91 L413.88,245.88 L414.98,245.86 L416.07,245.84 L417.17,245.83 L418.27,245.82 L419.37,245.80 L420.46,245.80 L421.56,245.79 L422.66,245.78 L423.76,245.78 L424.85,245.77 L425.95,245.76 L427.05,245.76 L428.15,245.75 L429.24,245.75 L430.34,245.74 L431.44,245.74 L432.54,245.73 L433.63,245.73 L434.73,245.72 L435.83,245.72 L436.93,245.72 L438.02,245.71 L439.12,245.71 L440.22,245.71 L441.32,245.71 L442.41,245.70 L443.51,245.70 L444.61,245.70 L445.71,245.70 L446.80,245.70 L447.90,245.70" fill="none" stroke="#ff1111" stroke-width="1.6" stroke-linejoin="round" />
<line x1="273.40" y1="377.17" x2="275.00" y2="377.17" stroke="#555" stroke-width="0.8"/>
<line x1="273.40" y1="372.06" x2="275.00" y2="372.06" stroke="#555" stroke-width="0.8"/>
<line x1="273.40" y1="368.44" x2="275.00" y2="368.44" stroke="#555" stroke-width="0.8"/>
<line x1="273.40" y1="365.63" x2="275.00" y2="365.63" stroke="#555" stroke-width="0.8"/>
<line x1="273.40" y1="363.33" x2="275.00" y2="363.33" stroke="#555" stroke-width="0.8"/>
<line x1="273.40" y1="361.39" x2="275.00" y2="361.39" stroke="#555" stroke-width="0.8"/>
<line x1="273.40" y1="359.71" x2="275.00" y2="359.71" stroke="#555" stroke-width="0.8"/>
<line x1="273.40" y1="358.23" x2="275.00" y2="358.23" stroke="#555" stroke-width="0.8"/>
<line x1="273.40" y1="356.90" x2="275.90" y2="356.90" stroke="#555" stroke-width="0.9"/>
<line x1="273.40" y1="348.17" x2="275.00" y2="348.17" stroke="#555" stroke-width="0.8"/>
<line x1="273.40" y1="343.06" x2="275.00" y2="343.06" stroke="#555" stroke-width="0.8"/>
<line x1="273.40" y1="339.44" x2="275.00" y2="339.44" stroke="#555" stroke-width="0.8"/>
<line x1="273.40" y1="336.63" x2="275.00" y2="336.63" stroke="#555" stroke-width="0.8"/>
<line x1="273.40" y1="334.33" x2="275.00" y2="334.33" stroke="#555" stroke-width="0.8"/>
<line x1="273.40" y1="332.39" x2="275.00" y2="332.39" stroke="#555" stroke-width="0.8"/>
<line x1="273.40" y1="330.71" x2="275.00" y2="330.71" stroke="#555" stroke-width="0.8"/>
<line x1="273.40" y1="329.23" x2="275.00" y2="329.23" stroke="#555" stroke-width="0.8"/>
<line x1="273.40" y1="319.17" x2="275.00" y2="319.17" stroke="#555" stroke-width="0.8"/>
<line x1="273.40" y1="314.06" x2="275.00" y2="314.06" stroke="#555" stroke-width="0.8"/>
<line x1="273.40" y1="310.44" x2="275.00" y2="310.44" stroke="#555" stroke-width="0.8"/>
<line x1="273.40" y1="307.63" x2="275.00" y2="307.63" stroke="#555" stroke-width="0.8"/>
<line x1="273.40" y1="305.33" x2="275.00" y2="305.33" stroke="#555" stroke-width="0.8"/>
<line x1="273.40" y1="303.39" x2="275.00" y2="303.39" stroke="#555" stroke-width="0.8"/>
<line x1="273.40" y1="301.71" x2="275.00" y2="301.71" stroke="#555" stroke-width="0.8"/>
<line x1="273.40" y1="300.23" x2="275.00" y2="300.23" stroke="#555" stroke-width="0.8"/>
<line x1="273.40" y1="298.90" x2="275.90" y2="298.90" stroke="#555" stroke-width="0.9"/>
<line x1="273.40" y1="290.17" x2="275.00" y2="290.17" stroke="#555" stroke-width="0.8"/>
<line x1="273.40" y1="285.06" x2="275.00" y2="285.06" stroke="#555" stroke-width="0.8"/>
<line x1="273.40" y1="281.44" x2="275.00" y2="281.44" stroke="#555" stroke-width="0.8"/>
<line x1="273.40" y1="278.63" x2="275.00" y2="278.63" stroke="#555" stroke-width="0.8"/>
<line x1="273.40" y1="276.33" x2="275.00" y2="276.33" stroke="#555" stroke-width="0.8"/>
<line x1="273.40" y1="274.39" x2="275.00" y2="274.39" stroke="#555" stroke-width="0.8"/>
<line x1="273.40" y1="272.71" x2="275.00" y2="272.71" stroke="#555" stroke-width="0.8"/>
<line x1="273.40" y1="271.23" x2="275.00" y2="271.23" stroke="#555" stroke-width="0.8"/>
<line x1="273.40" y1="261.17" x2="275.00" y2="261.17" stroke="#555" stroke-width="0.8"/>
<line x1="273.40" y1="256.06" x2="275.00" y2="256.06" stroke="#555" stroke-width="0.8"/>
<line x1="273.40" y1="252.44" x2="275.00" y2="252.44" stroke="#555" stroke-width="0.8"/>
<line x1="273.40" y1="249.63" x2="275.00" y2="249.63" stroke="#555" stroke-width="0.8"/>
<line x1="273.40" y1="247.33" x2="275.00" y2="247.33" stroke="#555" stroke-width="0.8"/>
<line x1="273.40" y1="245.39" x2="275.00" y2="245.39" stroke="#555" stroke-width="0.8"/>
<line x1="273.40" y1="243.71" x2="275.00" y2="243.71" stroke="#555" stroke-width="0.8"/>
<line x1="273.40" y1="242.23" x2="275.00" y2="242.23" stroke="#555" stroke-width="0.8"/>
<line x1="273.40" y1="240.90" x2="275.90" y2="240.90" stroke="#555" stroke-width="0.9"/>
<line x1="273.40" y1="232.17" x2="275.00" y2="232.17" stroke="#555" stroke-width="0.8"/>
<line x1="273.40" y1="227.06" x2="275.00" y2="227.06" stroke="#555" stroke-width="0.8"/>
<line x1="273.40" y1="223.44" x2="275.00" y2="223.44" stroke="#555" stroke-width="0.8"/>
<line x1="273.40" y1="220.63" x2="275.00" y2="220.63" stroke="#555" stroke-width="0.8"/>
<line x1="273.40" y1="218.33" x2="275.00" y2="218.33" stroke="#555" stroke-width="0.8"/>
<line x1="273.40" y1="216.39" x2="275.00" y2="216.39" stroke="#555" stroke-width="0.8"/>
<line x1="273.40" y1="214.71" x2="275.00" y2="214.71" stroke="#555" stroke-width="0.8"/>
<line x1="273.40" y1="213.23" x2="275.00" y2="213.23" stroke="#555" stroke-width="0.8"/>
<line x1="290.91" y1="385.90" x2="290.91" y2="384.30" stroke="#555" stroke-width="0.8"/>
<line x1="301.15" y1="385.90" x2="301.15" y2="384.30" stroke="#555" stroke-width="0.8"/>
<line x1="308.42" y1="385.90" x2="308.42" y2="384.30" stroke="#555" stroke-width="0.8"/>
<line x1="314.06" y1="385.90" x2="314.06" y2="384.30" stroke="#555" stroke-width="0.8"/>
<line x1="318.66" y1="385.90" x2="318.66" y2="384.30" stroke="#555" stroke-width="0.8"/>
<line x1="322.56" y1="385.90" x2="322.56" y2="384.30" stroke="#555" stroke-width="0.8"/>
<line x1="325.93" y1="385.90" x2="325.93" y2="384.30" stroke="#555" stroke-width="0.8"/>
<line x1="328.91" y1="385.90" x2="328.91" y2="384.30" stroke="#555" stroke-width="0.8"/>
<line x1="349.08" y1="385.90" x2="349.08" y2="384.30" stroke="#555" stroke-width="0.8"/>
<line x1="359.32" y1="385.90" x2="359.32" y2="384.30" stroke="#555" stroke-width="0.8"/>
<line x1="366.59" y1="385.90" x2="366.59" y2="384.30" stroke="#555" stroke-width="0.8"/>
<line x1="372.22" y1="385.90" x2="372.22" y2="384.30" stroke="#555" stroke-width="0.8"/>
<line x1="376.83" y1="385.90" x2="376.83" y2="384.30" stroke="#555" stroke-width="0.8"/>
<line x1="380.72" y1="385.90" x2="380.72" y2="384.30" stroke="#555" stroke-width="0.8"/>
<line x1="384.10" y1="385.90" x2="384.10" y2="384.30" stroke="#555" stroke-width="0.8"/>
<line x1="387.07" y1="385.90" x2="387.07" y2="384.30" stroke="#555" stroke-width="0.8"/>
<line x1="407.24" y1="385.90" x2="407.24" y2="384.30" stroke="#555" stroke-width="0.8"/>
<line x1="417.49" y1="385.90" x2="417.49" y2="384.30" stroke="#555" stroke-width="0.8"/>
<line x1="424.75" y1="385.90" x2="424.75" y2="384.30" stroke="#555" stroke-width="0.8"/>
<line x1="430.39" y1="385.90" x2="430.39" y2="384.30" stroke="#555" stroke-width="0.8"/>
<line x1="435.00" y1="385.90" x2="435.00" y2="384.30" stroke="#555" stroke-width="0.8"/>
<line x1="438.89" y1="385.90" x2="438.89" y2="384.30" stroke="#555" stroke-width="0.8"/>
<line x1="442.26" y1="385.90" x2="442.26" y2="384.30" stroke="#555" stroke-width="0.8"/>
<line x1="445.24" y1="385.90" x2="445.24" y2="384.30" stroke="#555" stroke-width="0.8"/>
<rect x="273.40" y="211.90" width="174.50" height="174.00" fill="none" stroke="#6e6e6e" stroke-width="1"/>
<line x1="270.90" y1="385.90" x2="273.40" y2="385.90" stroke="#6e6e6e" stroke-width="1"/>
<text transform="translate(265.00,391.10) scale(0.9200,1.0000)" font-size="12" text-anchor="end" fill="#000" >10</text>
<text transform="translate(265.30,385.10) scale(0.9200,1.0000)" font-size="8.5" text-anchor="start" fill="#000" >0</text>
<line x1="270.90" y1="327.90" x2="273.40" y2="327.90" stroke="#6e6e6e" stroke-width="1"/>
<text transform="translate(265.00,333.10) scale(0.9200,1.0000)" font-size="12" text-anchor="end" fill="#000" >10</text>
<text transform="translate(265.30,327.10) scale(0.9200,1.0000)" font-size="8.5" text-anchor="start" fill="#000" >2</text>
<line x1="270.90" y1="269.90" x2="273.40" y2="269.90" stroke="#6e6e6e" stroke-width="1"/>
<text transform="translate(265.00,275.10) scale(0.9200,1.0000)" font-size="12" text-anchor="end" fill="#000" >10</text>
<text transform="translate(265.30,269.10) scale(0.9200,1.0000)" font-size="8.5" text-anchor="start" fill="#000" >4</text>
<line x1="270.90" y1="211.90" x2="273.40" y2="211.90" stroke="#6e6e6e" stroke-width="1"/>
<text transform="translate(265.00,217.10) scale(0.9200,1.0000)" font-size="12" text-anchor="end" fill="#000" >10</text>
<text transform="translate(265.30,211.10) scale(0.9200,1.0000)" font-size="8.5" text-anchor="start" fill="#000" >6</text>
<line x1="273.40" y1="385.90" x2="273.40" y2="388.40" stroke="#6e6e6e" stroke-width="1"/>
<text transform="translate(273.40,398.80) scale(0.9200,1.0000)" font-size="12" text-anchor="middle" fill="#000" >1</text>
<line x1="331.57" y1="385.90" x2="331.57" y2="388.40" stroke="#6e6e6e" stroke-width="1"/>
<text transform="translate(331.57,398.80) scale(0.9200,1.0000)" font-size="12" text-anchor="middle" fill="#000" >10</text>
<line x1="389.73" y1="385.90" x2="389.73" y2="388.40" stroke="#6e6e6e" stroke-width="1"/>
<text transform="translate(389.73,398.80) scale(0.9200,1.0000)" font-size="12" text-anchor="middle" fill="#000" >100</text>
<line x1="447.90" y1="385.90" x2="447.90" y2="388.40" stroke="#6e6e6e" stroke-width="1"/>
<text transform="translate(447.90,398.80) scale(0.9200,1.0000)" font-size="12" text-anchor="middle" fill="#000" >1000</text>
<text transform="translate(361.50,409.00) scale(0.9200,1.0000)" font-size="12" text-anchor="middle" fill="#000" >h<tspan font-size="8.5" dy="2.5">m</tspan><tspan dy="-2.5">​</tspan> (nm)</text>
<text transform="translate(249.05,304.15) rotate(-90) scale(1.0770,0.9200)" font-size="12" text-anchor="middle" >λ<tspan font-size="8.5" dy="2.5">sp</tspan><tspan dy="-2.5">​</tspan>, L<tspan font-size="8.5" dy="2.5" font-style="italic">e</tspan><tspan dy="-2.5">​</tspan>, L<tspan font-size="8.5" dy="2.5" font-style="italic">f</tspan><tspan dy="-2.5">​</tspan>, D (nm)</text>
<text transform="translate(234.57,203.88) scale(1.0312,1.0000)" font-size="13" text-anchor="start" fill="#000" >(d)</text>
<line x1="288.40" y1="231.30" x2="308.70" y2="231.30" stroke="#0a14ff" stroke-width="1.6"/>
<text transform="translate(310.66,235.93) scale(0.9959,1.0000)" font-size="12" text-anchor="start" fill="#000" >λ<tspan font-size="8.5" dy="2.5">sp</tspan><tspan dy="-2.5">​</tspan></text>
<line x1="288.40" y1="242.50" x2="308.70" y2="242.50" stroke="#137a13" stroke-width="1.6"/>
<text transform="translate(310.41,246.99) scale(0.7735,1.0000)" font-size="12" text-anchor="start" fill="#000" >L<tspan font-size="8.5" dy="2.5" font-style="italic">e</tspan><tspan dy="-2.5">​</tspan></text>
<line x1="288.40" y1="253.30" x2="308.70" y2="253.30" stroke="#ff7f0e" stroke-width="1.6"/>
<text transform="translate(310.06,258.15) scale(0.8702,1.0000)" font-size="12" text-anchor="start" fill="#000" >L<tspan font-size="8.5" dy="2.5" font-style="italic">f</tspan><tspan dy="-2.5">​</tspan></text>
<line x1="288.40" y1="263.80" x2="308.70" y2="263.80" stroke="#ff1111" stroke-width="1.6"/>
<text transform="translate(310.56,268.61) scale(1.1463,1.0000)" font-size="12" text-anchor="start" fill="#000" >D</text>
<line x1="280.40" y1="290.70" x2="286.60" y2="284.00" stroke="#000" stroke-width="1.5"/>
<path d="M277.00,294.40 L282.40,292.60 L278.40,288.80" fill="#000"/>
<text transform="translate(288.00,283.62) scale(1.0168,1.0000)" font-size="13" text-anchor="start" fill="#000" >λ<tspan font-size="7" dy="1.5">SiO<tspan font-size="5.5" dy="1.5">2</tspan></tspan></text></svg></body></html>
